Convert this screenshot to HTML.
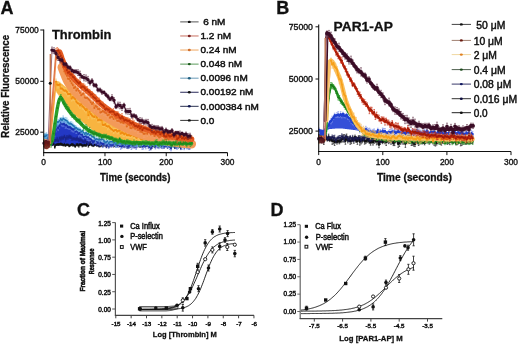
<!DOCTYPE html>
<html><head><meta charset="utf-8"><style>
html,body{margin:0;padding:0;background:#fff;}
svg{display:block;font-family:"Liberation Sans", sans-serif;}
text{-webkit-font-smoothing:antialiased;}
svg{will-change:transform;filter:blur(0.3px)}
</style></head><body>
<svg width="520" height="344" viewBox="0 0 520 344">
<rect width="520" height="344" fill="#fff"/>
<g class="g">
<text x="0.6" y="14" font-size="18" font-weight="bold" text-anchor="start" fill="#111"  stroke="#111" stroke-width="0.3">A</text>
<text x="276.2" y="13.7" font-size="18" font-weight="bold" text-anchor="start" fill="#111"  stroke="#111" stroke-width="0.3">B</text>
<text x="77" y="215.5" font-size="18" font-weight="bold" text-anchor="start" fill="#111"  stroke="#111" stroke-width="0.3">C</text>
<text x="270.4" y="215.8" font-size="18" font-weight="bold" text-anchor="start" fill="#111"  stroke="#111" stroke-width="0.3">D</text>
<polygon points="51.5,140.0 52.5,136.4 53.5,133.8 54.5,131.9 55.5,130.1 56.5,128.3 57.5,126.7 58.5,125.4 59.5,124.1 60.5,123.0 61.5,122.5 62.5,122.5 63.5,122.7 64.5,122.9 65.5,123.2 66.5,123.6 67.5,124.2 68.5,124.8 69.5,125.4 70.5,126.1 71.5,126.8 72.5,127.6 73.5,128.4 74.5,129.1 75.5,129.9 76.5,130.7 77.5,131.5 78.5,132.4 79.5,133.2 80.5,134.0 81.5,134.7 82.5,135.4 83.5,136.0 84.5,136.6 85.5,137.2 86.5,137.7 87.5,138.2 88.5,138.8 89.5,139.3 90.5,139.7 91.5,140.2 92.5,140.6 93.5,141.0 94.5,141.4 95.5,141.7 96.5,142.0 97.5,142.3 98.5,142.6 99.5,142.8 100.5,143.1 101.5,143.2 102.5,143.4 103.5,143.5 104.5,143.6 105.5,143.7 106.5,143.8 107.5,143.9 108.5,144.0 109.5,144.0 110.5,144.0 111.5,144.0 112.5,144.0 113.5,144.0 114.5,144.0 115.5,144.0 116.5,144.0 117.5,144.0 118.5,144.0 119.5,144.0 120.5,144.0 121.5,144.0 122.5,144.0 123.5,144.0 124.5,144.0 125.5,144.0 126.5,144.0 127.5,144.0 128.5,144.0 129.5,144.0 130.5,144.0 131.5,144.0 132.5,144.0 133.5,144.0 134.5,144.0 135.5,144.0 136.5,144.0 137.5,144.0 138.5,144.0 139.5,144.0 140.5,144.0 141.5,144.0 142.5,144.0 143.5,144.0 144.5,144.0 145.5,144.0 146.5,144.0 147.5,144.0 148.5,144.0 149.5,144.0 150.5,144.0 151.5,144.0 152.5,144.0 153.5,144.0 154.5,144.0 155.5,144.0 156.5,144.0 157.5,144.0 158.5,144.0 159.5,144.0 160.5,144.0 161.5,144.0 162.5,144.0 163.5,144.0 164.5,144.0 165.5,144.0 166.5,144.0 167.5,144.0 168.5,144.0 169.5,144.0 170.5,144.0 171.5,144.0 172.5,144.0 173.5,144.0 174.5,144.0 175.5,144.0 176.5,144.0 177.5,144.0 178.5,144.0 179.5,144.0 180.5,144.0 181.5,144.0 182.5,144.0 183.5,144.0 184.5,144.0 185.5,144.0 186.5,144.0 187.5,144.0 188.5,144.0 189.5,144.0 190.5,144.0 191.5,144.0 191.5,145.2 190.5,145.2 189.5,145.2 188.5,145.2 187.5,145.2 186.5,145.2 185.5,145.2 184.5,145.2 183.5,145.2 182.5,145.3 181.5,145.3 180.5,145.3 179.5,145.3 178.5,145.3 177.5,145.3 176.5,145.3 175.5,145.3 174.5,145.3 173.5,145.3 172.5,145.3 171.5,145.3 170.5,145.3 169.5,145.3 168.5,145.3 167.5,145.3 166.5,145.3 165.5,145.3 164.5,145.3 163.5,145.3 162.5,145.3 161.5,145.4 160.5,145.4 159.5,145.4 158.5,145.4 157.5,145.4 156.5,145.4 155.5,145.4 154.5,145.4 153.5,145.4 152.5,145.4 151.5,145.4 150.5,145.4 149.5,145.4 148.5,145.4 147.5,145.4 146.5,145.4 145.5,145.4 144.5,145.4 143.5,145.4 142.5,145.4 141.5,145.4 140.5,145.4 139.5,145.4 138.5,145.4 137.5,145.4 136.5,145.4 135.5,145.4 134.5,145.4 133.5,145.5 132.5,145.5 131.5,145.5 130.5,145.5 129.5,145.5 128.5,145.5 127.5,145.5 126.5,145.5 125.5,145.5 124.5,145.5 123.5,145.5 122.5,145.5 121.5,145.5 120.5,145.5 119.5,145.5 118.5,145.5 117.5,145.5 116.5,145.5 115.5,145.5 114.5,145.5 113.5,145.5 112.5,145.5 111.5,145.5 110.5,145.5 109.5,145.5 108.5,145.5 107.5,145.5 106.5,145.5 105.5,145.5 104.5,145.5 103.5,145.5 102.5,145.5 101.5,145.5 100.5,145.5 99.5,145.5 98.5,145.5 97.5,145.5 96.5,145.5 95.5,145.5 94.5,145.5 93.5,145.5 92.5,145.5 91.5,145.5 90.5,145.5 89.5,145.5 88.5,145.5 87.5,145.5 86.5,145.5 85.5,145.5 84.5,145.5 83.5,145.5 82.5,145.5 81.5,145.5 80.5,145.5 79.5,145.5 78.5,145.5 77.5,145.5 76.5,145.5 75.5,145.5 74.5,145.5 73.5,145.5 72.5,145.5 71.5,145.5 70.5,145.5 69.5,145.5 68.5,145.5 67.5,145.5 66.5,145.5 65.5,145.5 64.5,145.5 63.5,145.5 62.5,145.5 61.5,145.5 60.5,145.5 59.5,145.5 58.5,145.5 57.5,145.5 56.5,145.4 55.5,145.4 54.5,145.3 53.5,145.3 52.5,145.2 51.5,145.2" fill="#2338c4" opacity="1.0"/>
<polygon points="44.0,133.5 45.0,133.5 46.0,133.6 47.0,133.8 48.0,134.0 49.0,134.6 50.0,135.5 51.0,136.0 52.0,134.6 53.0,132.0 54.0,129.2 55.0,126.2 56.0,124.0 57.0,122.3 58.0,121.0 59.0,120.1 60.0,119.3 61.0,118.7 62.0,118.5 63.0,118.6 64.0,118.8 65.0,119.0 66.0,119.4 67.0,120.1 68.0,120.9 69.0,121.7 70.0,122.5 71.0,123.2 72.0,123.9 73.0,124.7 74.0,125.4 75.0,126.1 76.0,126.8 77.0,127.5 78.0,128.2 79.0,128.9 80.0,129.6 81.0,130.3 82.0,130.9 83.0,131.5 84.0,132.1 85.0,132.6 86.0,133.1 87.0,133.6 88.0,134.0 88.0,138.0 87.0,137.4 86.0,136.8 85.0,136.2 84.0,135.6 83.0,135.0 82.0,134.4 81.0,133.7 80.0,133.0 79.0,132.3 78.0,131.7 77.0,131.0 76.0,130.3 75.0,129.6 74.0,128.9 73.0,128.3 72.0,127.6 71.0,127.0 70.0,126.5 69.0,126.0 68.0,125.6 67.0,125.1 66.0,124.8 65.0,124.5 64.0,124.3 63.0,124.1 62.0,124.0 61.0,124.4 60.0,125.3 59.0,126.4 58.0,127.6 57.0,129.0 56.0,130.6 55.0,132.5 54.0,134.9 53.0,137.0 52.0,138.9 51.0,140.0 50.0,139.9 49.0,139.7 48.0,139.5 47.0,139.4 46.0,139.2 45.0,139.1 44.0,139.0" fill="#4aa0d8" opacity="1.0"/>
<path d="M44.0 145.1V146.8M43.2 145.1h1.6M43.2 146.8h1.6M45.2 141.9V143.5M44.4 141.9h1.6M44.4 143.5h1.6M46.4 143.8V145.9M45.6 143.8h1.6M45.6 145.9h1.6M47.6 143.3V145.0M46.8 143.3h1.6M46.8 145.0h1.6M48.8 143.2V145.4M48.0 143.2h1.6M48.0 145.4h1.6M50.0 143.4V145.5M49.2 143.4h1.6M49.2 145.5h1.6M51.2 142.5V143.9M50.4 142.5h1.6M50.4 143.9h1.6M52.4 143.5V145.4M51.6 143.5h1.6M51.6 145.4h1.6M53.6 143.1V145.0M52.8 143.1h1.6M52.8 145.0h1.6M54.8 145.8V148.2M54.0 145.8h1.6M54.0 148.2h1.6M56.0 144.2V145.5M55.2 144.2h1.6M55.2 145.5h1.6M57.2 143.7V145.2M56.4 143.7h1.6M56.4 145.2h1.6M58.4 143.5V145.5M57.6 143.5h1.6M57.6 145.5h1.6M59.6 143.4V145.2M58.8 143.4h1.6M58.8 145.2h1.6M60.8 142.9V145.2M60.0 142.9h1.6M60.0 145.2h1.6M62.0 143.6V145.4M61.2 143.6h1.6M61.2 145.4h1.6M63.2 144.4V145.9M62.4 144.4h1.6M62.4 145.9h1.6M64.4 143.3V146.0M63.6 143.3h1.6M63.6 146.0h1.6M65.6 144.7V146.3M64.8 144.7h1.6M64.8 146.3h1.6M66.8 144.0V145.4M66.0 144.0h1.6M66.0 145.4h1.6M68.0 144.1V145.7M67.2 144.1h1.6M67.2 145.7h1.6M69.2 145.1V146.8M68.4 145.1h1.6M68.4 146.8h1.6M70.4 144.5V146.1M69.6 144.5h1.6M69.6 146.1h1.6M71.6 143.5V145.6M70.8 143.5h1.6M70.8 145.6h1.6M72.8 143.5V146.2M72.0 143.5h1.6M72.0 146.2h1.6M74.0 144.6V146.0M73.2 144.6h1.6M73.2 146.0h1.6M75.2 145.4V147.3M74.4 145.4h1.6M74.4 147.3h1.6M76.4 143.7V145.9M75.6 143.7h1.6M75.6 145.9h1.6M77.6 143.5V146.1M76.8 143.5h1.6M76.8 146.1h1.6M78.8 144.3V147.1M78.0 144.3h1.6M78.0 147.1h1.6M80.0 143.7V145.1M79.2 143.7h1.6M79.2 145.1h1.6M81.2 143.8V145.9M80.4 143.8h1.6M80.4 145.9h1.6M82.4 144.4V147.0M81.6 144.4h1.6M81.6 147.0h1.6M83.6 144.8V146.1M82.8 144.8h1.6M82.8 146.1h1.6M84.8 144.1V146.2M84.0 144.1h1.6M84.0 146.2h1.6M86.0 144.8V146.3M85.2 144.8h1.6M85.2 146.3h1.6M87.2 141.9V144.3M86.4 141.9h1.6M86.4 144.3h1.6M88.4 144.5V147.2M87.6 144.5h1.6M87.6 147.2h1.6M89.6 143.4V145.5M88.8 143.4h1.6M88.8 145.5h1.6M90.8 143.4V144.6M90.0 143.4h1.6M90.0 144.6h1.6M92.0 144.7V146.0M91.2 144.7h1.6M91.2 146.0h1.6M93.2 144.7V146.6M92.4 144.7h1.6M92.4 146.6h1.6M94.4 143.6V146.1M93.6 143.6h1.6M93.6 146.1h1.6M95.6 143.6V145.2M94.8 143.6h1.6M94.8 145.2h1.6M96.8 144.1V146.3M96.0 144.1h1.6M96.0 146.3h1.6M98.0 144.2V146.1M97.2 144.2h1.6M97.2 146.1h1.6M99.2 145.4V147.0M98.4 145.4h1.6M98.4 147.0h1.6M100.4 144.6V146.9M99.6 144.6h1.6M99.6 146.9h1.6M101.6 144.5V146.2M100.8 144.5h1.6M100.8 146.2h1.6M102.8 145.1V146.9M102.0 145.1h1.6M102.0 146.9h1.6M104.0 143.9V146.3M103.2 143.9h1.6M103.2 146.3h1.6M105.2 143.6V145.6M104.4 143.6h1.6M104.4 145.6h1.6M106.4 144.4V146.9M105.6 144.4h1.6M105.6 146.9h1.6M107.6 144.6V146.7M106.8 144.6h1.6M106.8 146.7h1.6M108.8 144.4V145.8M108.0 144.4h1.6M108.0 145.8h1.6M110.0 143.8V145.7M109.2 143.8h1.6M109.2 145.7h1.6M111.2 144.1V146.7M110.4 144.1h1.6M110.4 146.7h1.6M112.4 142.5V144.6M111.6 142.5h1.6M111.6 144.6h1.6M113.6 144.4V147.1M112.8 144.4h1.6M112.8 147.1h1.6M114.8 145.0V146.2M114.0 145.0h1.6M114.0 146.2h1.6M116.0 143.3V145.0M115.2 143.3h1.6M115.2 145.0h1.6M117.2 144.1V146.5M116.4 144.1h1.6M116.4 146.5h1.6M118.4 143.5V145.8M117.6 143.5h1.6M117.6 145.8h1.6M119.6 144.8V146.9M118.8 144.8h1.6M118.8 146.9h1.6M120.8 142.8V145.0M120.0 142.8h1.6M120.0 145.0h1.6M122.0 143.4V146.0M121.2 143.4h1.6M121.2 146.0h1.6M123.2 144.7V147.0M122.4 144.7h1.6M122.4 147.0h1.6M124.4 145.1V147.2M123.6 145.1h1.6M123.6 147.2h1.6M125.6 142.8V144.9M124.8 142.8h1.6M124.8 144.9h1.6M126.8 143.9V146.1M126.0 143.9h1.6M126.0 146.1h1.6M128.0 144.7V146.4M127.2 144.7h1.6M127.2 146.4h1.6M129.2 143.8V146.1M128.4 143.8h1.6M128.4 146.1h1.6M130.4 145.4V147.6M129.6 145.4h1.6M129.6 147.6h1.6M131.6 143.3V145.8M130.8 143.3h1.6M130.8 145.8h1.6M132.8 144.6V146.6M132.0 144.6h1.6M132.0 146.6h1.6M134.0 144.0V145.3M133.2 144.0h1.6M133.2 145.3h1.6M135.2 145.3V147.4M134.4 145.3h1.6M134.4 147.4h1.6M136.4 144.1V146.6M135.6 144.1h1.6M135.6 146.6h1.6M137.6 144.0V146.2M136.8 144.0h1.6M136.8 146.2h1.6M138.8 143.1V145.3M138.0 143.1h1.6M138.0 145.3h1.6M140.0 145.7V147.5M139.2 145.7h1.6M139.2 147.5h1.6M141.2 145.0V146.8M140.4 145.0h1.6M140.4 146.8h1.6M142.4 144.8V147.1M141.6 144.8h1.6M141.6 147.1h1.6M143.6 145.5V146.9M142.8 145.5h1.6M142.8 146.9h1.6M144.8 144.4V146.9M144.0 144.4h1.6M144.0 146.9h1.6M146.0 143.7V146.3M145.2 143.7h1.6M145.2 146.3h1.6M147.2 143.5V146.2M146.4 143.5h1.6M146.4 146.2h1.6M148.4 144.2V145.6M147.6 144.2h1.6M147.6 145.6h1.6M149.6 145.7V147.1M148.8 145.7h1.6M148.8 147.1h1.6M150.8 143.1V145.7M150.0 143.1h1.6M150.0 145.7h1.6M152.0 144.1V145.9M151.2 144.1h1.6M151.2 145.9h1.6M153.2 144.4V146.0M152.4 144.4h1.6M152.4 146.0h1.6M154.4 144.7V146.5M153.6 144.7h1.6M153.6 146.5h1.6M155.6 144.7V147.0M154.8 144.7h1.6M154.8 147.0h1.6M156.8 143.8V145.3M156.0 143.8h1.6M156.0 145.3h1.6M158.0 143.2V145.2M157.2 143.2h1.6M157.2 145.2h1.6M159.2 144.3V146.6M158.4 144.3h1.6M158.4 146.6h1.6M160.4 145.1V147.5M159.6 145.1h1.6M159.6 147.5h1.6M161.6 145.4V146.6M160.8 145.4h1.6M160.8 146.6h1.6M162.8 144.4V146.9M162.0 144.4h1.6M162.0 146.9h1.6M164.0 144.3V146.2M163.2 144.3h1.6M163.2 146.2h1.6M165.2 144.7V146.6M164.4 144.7h1.6M164.4 146.6h1.6M166.4 144.3V146.4M165.6 144.3h1.6M165.6 146.4h1.6M167.6 145.2V146.9M166.8 145.2h1.6M166.8 146.9h1.6M168.8 143.6V146.2M168.0 143.6h1.6M168.0 146.2h1.6M170.0 144.8V146.3M169.2 144.8h1.6M169.2 146.3h1.6M171.2 144.4V146.4M170.4 144.4h1.6M170.4 146.4h1.6M172.4 145.1V146.6M171.6 145.1h1.6M171.6 146.6h1.6M173.6 144.5V146.7M172.8 144.5h1.6M172.8 146.7h1.6M174.8 146.0V148.6M174.0 146.0h1.6M174.0 148.6h1.6M176.0 145.2V147.8M175.2 145.2h1.6M175.2 147.8h1.6M177.2 145.8V147.2M176.4 145.8h1.6M176.4 147.2h1.6M178.4 143.0V145.2M177.6 143.0h1.6M177.6 145.2h1.6M179.6 143.9V146.6M178.8 143.9h1.6M178.8 146.6h1.6M180.8 144.3V145.8M180.0 144.3h1.6M180.0 145.8h1.6M182.0 144.9V146.8M181.2 144.9h1.6M181.2 146.8h1.6M183.2 142.7V145.1M182.4 142.7h1.6M182.4 145.1h1.6M184.4 145.1V147.5M183.6 145.1h1.6M183.6 147.5h1.6M185.6 145.3V147.2M184.8 145.3h1.6M184.8 147.2h1.6M186.8 143.5V145.7M186.0 143.5h1.6M186.0 145.7h1.6M188.0 143.7V145.9M187.2 143.7h1.6M187.2 145.9h1.6M189.2 144.1V145.8M188.4 144.1h1.6M188.4 145.8h1.6M190.4 144.4V146.7M189.6 144.4h1.6M189.6 146.7h1.6M191.6 144.9V147.0M190.8 144.9h1.6M190.8 147.0h1.6" stroke="#111" stroke-width="0.6" fill="none" opacity="1.0"/>
<polyline points="44.0,145.9 45.2,142.7 46.4,144.8 47.6,144.2 48.8,144.3 50.0,144.4 51.2,143.2 52.4,144.5 53.6,144.0 54.8,147.0 56.0,144.8 57.2,144.5 58.4,144.5 59.6,144.3 60.8,144.0 62.0,144.5 63.2,145.1 64.4,144.7 65.6,145.5 66.8,144.7 68.0,144.9 69.2,146.0 70.4,145.3 71.6,144.6 72.8,144.8 74.0,145.3 75.2,146.3 76.4,144.8 77.6,144.8 78.8,145.7 80.0,144.4 81.2,144.8 82.4,145.7 83.6,145.5 84.8,145.1 86.0,145.6 87.2,143.1 88.4,145.8 89.6,144.5 90.8,144.0 92.0,145.3 93.2,145.6 94.4,144.9 95.6,144.4 96.8,145.2 98.0,145.2 99.2,146.2 100.4,145.7 101.6,145.3 102.8,146.0 104.0,145.1 105.2,144.6 106.4,145.6 107.6,145.6 108.8,145.1 110.0,144.7 111.2,145.4 112.4,143.5 113.6,145.8 114.8,145.6 116.0,144.1 117.2,145.3 118.4,144.6 119.6,145.8 120.8,143.9 122.0,144.7 123.2,145.8 124.4,146.1 125.6,143.8 126.8,145.0 128.0,145.6 129.2,144.9 130.4,146.5 131.6,144.5 132.8,145.6 134.0,144.6 135.2,146.4 136.4,145.4 137.6,145.1 138.8,144.2 140.0,146.6 141.2,145.9 142.4,145.9 143.6,146.2 144.8,145.7 146.0,145.0 147.2,144.9 148.4,144.9 149.6,146.4 150.8,144.4 152.0,145.0 153.2,145.2 154.4,145.6 155.6,145.8 156.8,144.6 158.0,144.2 159.2,145.5 160.4,146.3 161.6,146.0 162.8,145.6 164.0,145.2 165.2,145.7 166.4,145.3 167.6,146.0 168.8,144.9 170.0,145.6 171.2,145.4 172.4,145.9 173.6,145.6 174.8,147.3 176.0,146.5 177.2,146.5 178.4,144.1 179.6,145.3 180.8,145.1 182.0,145.9 183.2,143.9 184.4,146.3 185.6,146.2 186.8,144.6 188.0,144.8 189.2,144.9 190.4,145.5 191.6,145.9" stroke="#111" stroke-width="1.0" fill="none" stroke-linejoin="round" opacity="1.0"/>
<path d="M43.1 145.9a0.9 0.9 0 1 0 1.8 0a0.9 0.9 0 1 0 -1.8 0M44.3 142.7a0.9 0.9 0 1 0 1.8 0a0.9 0.9 0 1 0 -1.8 0M45.5 144.8a0.9 0.9 0 1 0 1.8 0a0.9 0.9 0 1 0 -1.8 0M46.7 144.2a0.9 0.9 0 1 0 1.8 0a0.9 0.9 0 1 0 -1.8 0M47.9 144.3a0.9 0.9 0 1 0 1.8 0a0.9 0.9 0 1 0 -1.8 0M49.1 144.4a0.9 0.9 0 1 0 1.8 0a0.9 0.9 0 1 0 -1.8 0M50.3 143.2a0.9 0.9 0 1 0 1.8 0a0.9 0.9 0 1 0 -1.8 0M51.5 144.5a0.9 0.9 0 1 0 1.8 0a0.9 0.9 0 1 0 -1.8 0M52.7 144.0a0.9 0.9 0 1 0 1.8 0a0.9 0.9 0 1 0 -1.8 0M53.9 147.0a0.9 0.9 0 1 0 1.8 0a0.9 0.9 0 1 0 -1.8 0M55.1 144.8a0.9 0.9 0 1 0 1.8 0a0.9 0.9 0 1 0 -1.8 0M56.3 144.5a0.9 0.9 0 1 0 1.8 0a0.9 0.9 0 1 0 -1.8 0M57.5 144.5a0.9 0.9 0 1 0 1.8 0a0.9 0.9 0 1 0 -1.8 0M58.7 144.3a0.9 0.9 0 1 0 1.8 0a0.9 0.9 0 1 0 -1.8 0M59.9 144.0a0.9 0.9 0 1 0 1.8 0a0.9 0.9 0 1 0 -1.8 0M61.1 144.5a0.9 0.9 0 1 0 1.8 0a0.9 0.9 0 1 0 -1.8 0M62.3 145.1a0.9 0.9 0 1 0 1.8 0a0.9 0.9 0 1 0 -1.8 0M63.5 144.7a0.9 0.9 0 1 0 1.8 0a0.9 0.9 0 1 0 -1.8 0M64.7 145.5a0.9 0.9 0 1 0 1.8 0a0.9 0.9 0 1 0 -1.8 0M65.9 144.7a0.9 0.9 0 1 0 1.8 0a0.9 0.9 0 1 0 -1.8 0M67.1 144.9a0.9 0.9 0 1 0 1.8 0a0.9 0.9 0 1 0 -1.8 0M68.3 146.0a0.9 0.9 0 1 0 1.8 0a0.9 0.9 0 1 0 -1.8 0M69.5 145.3a0.9 0.9 0 1 0 1.8 0a0.9 0.9 0 1 0 -1.8 0M70.7 144.6a0.9 0.9 0 1 0 1.8 0a0.9 0.9 0 1 0 -1.8 0M71.9 144.8a0.9 0.9 0 1 0 1.8 0a0.9 0.9 0 1 0 -1.8 0M73.1 145.3a0.9 0.9 0 1 0 1.8 0a0.9 0.9 0 1 0 -1.8 0M74.3 146.3a0.9 0.9 0 1 0 1.8 0a0.9 0.9 0 1 0 -1.8 0M75.5 144.8a0.9 0.9 0 1 0 1.8 0a0.9 0.9 0 1 0 -1.8 0M76.7 144.8a0.9 0.9 0 1 0 1.8 0a0.9 0.9 0 1 0 -1.8 0M77.9 145.7a0.9 0.9 0 1 0 1.8 0a0.9 0.9 0 1 0 -1.8 0M79.1 144.4a0.9 0.9 0 1 0 1.8 0a0.9 0.9 0 1 0 -1.8 0M80.3 144.8a0.9 0.9 0 1 0 1.8 0a0.9 0.9 0 1 0 -1.8 0M81.5 145.7a0.9 0.9 0 1 0 1.8 0a0.9 0.9 0 1 0 -1.8 0M82.7 145.5a0.9 0.9 0 1 0 1.8 0a0.9 0.9 0 1 0 -1.8 0M83.9 145.1a0.9 0.9 0 1 0 1.8 0a0.9 0.9 0 1 0 -1.8 0M85.1 145.6a0.9 0.9 0 1 0 1.8 0a0.9 0.9 0 1 0 -1.8 0M86.3 143.1a0.9 0.9 0 1 0 1.8 0a0.9 0.9 0 1 0 -1.8 0M87.5 145.8a0.9 0.9 0 1 0 1.8 0a0.9 0.9 0 1 0 -1.8 0M88.7 144.5a0.9 0.9 0 1 0 1.8 0a0.9 0.9 0 1 0 -1.8 0M89.9 144.0a0.9 0.9 0 1 0 1.8 0a0.9 0.9 0 1 0 -1.8 0M91.1 145.3a0.9 0.9 0 1 0 1.8 0a0.9 0.9 0 1 0 -1.8 0M92.3 145.6a0.9 0.9 0 1 0 1.8 0a0.9 0.9 0 1 0 -1.8 0M93.5 144.9a0.9 0.9 0 1 0 1.8 0a0.9 0.9 0 1 0 -1.8 0M94.7 144.4a0.9 0.9 0 1 0 1.8 0a0.9 0.9 0 1 0 -1.8 0M95.9 145.2a0.9 0.9 0 1 0 1.8 0a0.9 0.9 0 1 0 -1.8 0M97.1 145.2a0.9 0.9 0 1 0 1.8 0a0.9 0.9 0 1 0 -1.8 0M98.3 146.2a0.9 0.9 0 1 0 1.8 0a0.9 0.9 0 1 0 -1.8 0M99.5 145.7a0.9 0.9 0 1 0 1.8 0a0.9 0.9 0 1 0 -1.8 0M100.7 145.3a0.9 0.9 0 1 0 1.8 0a0.9 0.9 0 1 0 -1.8 0M101.9 146.0a0.9 0.9 0 1 0 1.8 0a0.9 0.9 0 1 0 -1.8 0M103.1 145.1a0.9 0.9 0 1 0 1.8 0a0.9 0.9 0 1 0 -1.8 0M104.3 144.6a0.9 0.9 0 1 0 1.8 0a0.9 0.9 0 1 0 -1.8 0M105.5 145.6a0.9 0.9 0 1 0 1.8 0a0.9 0.9 0 1 0 -1.8 0M106.7 145.6a0.9 0.9 0 1 0 1.8 0a0.9 0.9 0 1 0 -1.8 0M107.9 145.1a0.9 0.9 0 1 0 1.8 0a0.9 0.9 0 1 0 -1.8 0M109.1 144.7a0.9 0.9 0 1 0 1.8 0a0.9 0.9 0 1 0 -1.8 0M110.3 145.4a0.9 0.9 0 1 0 1.8 0a0.9 0.9 0 1 0 -1.8 0M111.5 143.5a0.9 0.9 0 1 0 1.8 0a0.9 0.9 0 1 0 -1.8 0M112.7 145.8a0.9 0.9 0 1 0 1.8 0a0.9 0.9 0 1 0 -1.8 0M113.9 145.6a0.9 0.9 0 1 0 1.8 0a0.9 0.9 0 1 0 -1.8 0M115.1 144.1a0.9 0.9 0 1 0 1.8 0a0.9 0.9 0 1 0 -1.8 0M116.3 145.3a0.9 0.9 0 1 0 1.8 0a0.9 0.9 0 1 0 -1.8 0M117.5 144.6a0.9 0.9 0 1 0 1.8 0a0.9 0.9 0 1 0 -1.8 0M118.7 145.8a0.9 0.9 0 1 0 1.8 0a0.9 0.9 0 1 0 -1.8 0M119.9 143.9a0.9 0.9 0 1 0 1.8 0a0.9 0.9 0 1 0 -1.8 0M121.1 144.7a0.9 0.9 0 1 0 1.8 0a0.9 0.9 0 1 0 -1.8 0M122.3 145.8a0.9 0.9 0 1 0 1.8 0a0.9 0.9 0 1 0 -1.8 0M123.5 146.1a0.9 0.9 0 1 0 1.8 0a0.9 0.9 0 1 0 -1.8 0M124.7 143.8a0.9 0.9 0 1 0 1.8 0a0.9 0.9 0 1 0 -1.8 0M125.9 145.0a0.9 0.9 0 1 0 1.8 0a0.9 0.9 0 1 0 -1.8 0M127.1 145.6a0.9 0.9 0 1 0 1.8 0a0.9 0.9 0 1 0 -1.8 0M128.3 144.9a0.9 0.9 0 1 0 1.8 0a0.9 0.9 0 1 0 -1.8 0M129.5 146.5a0.9 0.9 0 1 0 1.8 0a0.9 0.9 0 1 0 -1.8 0M130.7 144.5a0.9 0.9 0 1 0 1.8 0a0.9 0.9 0 1 0 -1.8 0M131.9 145.6a0.9 0.9 0 1 0 1.8 0a0.9 0.9 0 1 0 -1.8 0M133.1 144.6a0.9 0.9 0 1 0 1.8 0a0.9 0.9 0 1 0 -1.8 0M134.3 146.4a0.9 0.9 0 1 0 1.8 0a0.9 0.9 0 1 0 -1.8 0M135.5 145.4a0.9 0.9 0 1 0 1.8 0a0.9 0.9 0 1 0 -1.8 0M136.7 145.1a0.9 0.9 0 1 0 1.8 0a0.9 0.9 0 1 0 -1.8 0M137.9 144.2a0.9 0.9 0 1 0 1.8 0a0.9 0.9 0 1 0 -1.8 0M139.1 146.6a0.9 0.9 0 1 0 1.8 0a0.9 0.9 0 1 0 -1.8 0M140.3 145.9a0.9 0.9 0 1 0 1.8 0a0.9 0.9 0 1 0 -1.8 0M141.5 145.9a0.9 0.9 0 1 0 1.8 0a0.9 0.9 0 1 0 -1.8 0M142.7 146.2a0.9 0.9 0 1 0 1.8 0a0.9 0.9 0 1 0 -1.8 0M143.9 145.7a0.9 0.9 0 1 0 1.8 0a0.9 0.9 0 1 0 -1.8 0M145.1 145.0a0.9 0.9 0 1 0 1.8 0a0.9 0.9 0 1 0 -1.8 0M146.3 144.9a0.9 0.9 0 1 0 1.8 0a0.9 0.9 0 1 0 -1.8 0M147.5 144.9a0.9 0.9 0 1 0 1.8 0a0.9 0.9 0 1 0 -1.8 0M148.7 146.4a0.9 0.9 0 1 0 1.8 0a0.9 0.9 0 1 0 -1.8 0M149.9 144.4a0.9 0.9 0 1 0 1.8 0a0.9 0.9 0 1 0 -1.8 0M151.1 145.0a0.9 0.9 0 1 0 1.8 0a0.9 0.9 0 1 0 -1.8 0M152.3 145.2a0.9 0.9 0 1 0 1.8 0a0.9 0.9 0 1 0 -1.8 0M153.5 145.6a0.9 0.9 0 1 0 1.8 0a0.9 0.9 0 1 0 -1.8 0M154.7 145.8a0.9 0.9 0 1 0 1.8 0a0.9 0.9 0 1 0 -1.8 0M155.9 144.6a0.9 0.9 0 1 0 1.8 0a0.9 0.9 0 1 0 -1.8 0M157.1 144.2a0.9 0.9 0 1 0 1.8 0a0.9 0.9 0 1 0 -1.8 0M158.3 145.5a0.9 0.9 0 1 0 1.8 0a0.9 0.9 0 1 0 -1.8 0M159.5 146.3a0.9 0.9 0 1 0 1.8 0a0.9 0.9 0 1 0 -1.8 0M160.7 146.0a0.9 0.9 0 1 0 1.8 0a0.9 0.9 0 1 0 -1.8 0M161.9 145.6a0.9 0.9 0 1 0 1.8 0a0.9 0.9 0 1 0 -1.8 0M163.1 145.2a0.9 0.9 0 1 0 1.8 0a0.9 0.9 0 1 0 -1.8 0M164.3 145.7a0.9 0.9 0 1 0 1.8 0a0.9 0.9 0 1 0 -1.8 0M165.5 145.3a0.9 0.9 0 1 0 1.8 0a0.9 0.9 0 1 0 -1.8 0M166.7 146.0a0.9 0.9 0 1 0 1.8 0a0.9 0.9 0 1 0 -1.8 0M167.9 144.9a0.9 0.9 0 1 0 1.8 0a0.9 0.9 0 1 0 -1.8 0M169.1 145.6a0.9 0.9 0 1 0 1.8 0a0.9 0.9 0 1 0 -1.8 0M170.3 145.4a0.9 0.9 0 1 0 1.8 0a0.9 0.9 0 1 0 -1.8 0M171.5 145.9a0.9 0.9 0 1 0 1.8 0a0.9 0.9 0 1 0 -1.8 0M172.7 145.6a0.9 0.9 0 1 0 1.8 0a0.9 0.9 0 1 0 -1.8 0M173.9 147.3a0.9 0.9 0 1 0 1.8 0a0.9 0.9 0 1 0 -1.8 0M175.1 146.5a0.9 0.9 0 1 0 1.8 0a0.9 0.9 0 1 0 -1.8 0M176.3 146.5a0.9 0.9 0 1 0 1.8 0a0.9 0.9 0 1 0 -1.8 0M177.5 144.1a0.9 0.9 0 1 0 1.8 0a0.9 0.9 0 1 0 -1.8 0M178.7 145.3a0.9 0.9 0 1 0 1.8 0a0.9 0.9 0 1 0 -1.8 0M179.9 145.1a0.9 0.9 0 1 0 1.8 0a0.9 0.9 0 1 0 -1.8 0M181.1 145.9a0.9 0.9 0 1 0 1.8 0a0.9 0.9 0 1 0 -1.8 0M182.3 143.9a0.9 0.9 0 1 0 1.8 0a0.9 0.9 0 1 0 -1.8 0M183.5 146.3a0.9 0.9 0 1 0 1.8 0a0.9 0.9 0 1 0 -1.8 0M184.7 146.2a0.9 0.9 0 1 0 1.8 0a0.9 0.9 0 1 0 -1.8 0M185.9 144.6a0.9 0.9 0 1 0 1.8 0a0.9 0.9 0 1 0 -1.8 0M187.1 144.8a0.9 0.9 0 1 0 1.8 0a0.9 0.9 0 1 0 -1.8 0M188.3 144.9a0.9 0.9 0 1 0 1.8 0a0.9 0.9 0 1 0 -1.8 0M189.5 145.5a0.9 0.9 0 1 0 1.8 0a0.9 0.9 0 1 0 -1.8 0M190.7 145.9a0.9 0.9 0 1 0 1.8 0a0.9 0.9 0 1 0 -1.8 0" fill="#111" opacity="1.0"/>
<path d="M50.0 141.2V143.3M49.2 141.2h1.6M49.2 143.3h1.6M51.2 141.0V143.3M50.4 141.0h1.6M50.4 143.3h1.6M52.4 142.1V145.6M51.6 142.1h1.6M51.6 145.6h1.6M53.6 139.4V141.9M52.8 139.4h1.6M52.8 141.9h1.6M54.8 139.3V141.4M54.0 139.3h1.6M54.0 141.4h1.6M56.0 139.2V141.2M55.2 139.2h1.6M55.2 141.2h1.6M57.2 137.4V141.1M56.4 137.4h1.6M56.4 141.1h1.6M58.4 140.2V142.1M57.6 140.2h1.6M57.6 142.1h1.6M59.6 137.0V139.0M58.8 137.0h1.6M58.8 139.0h1.6M60.8 136.9V141.0M60.0 136.9h1.6M60.0 141.0h1.6M62.0 136.2V139.9M61.2 136.2h1.6M61.2 139.9h1.6M63.2 136.9V139.6M62.4 136.9h1.6M62.4 139.6h1.6M64.4 135.2V137.5M63.6 135.2h1.6M63.6 137.5h1.6M65.6 137.3V141.2M64.8 137.3h1.6M64.8 141.2h1.6M66.8 135.6V139.2M66.0 135.6h1.6M66.0 139.2h1.6M68.0 135.9V139.3M67.2 135.9h1.6M67.2 139.3h1.6M69.2 135.1V138.2M68.4 135.1h1.6M68.4 138.2h1.6M70.4 135.4V138.5M69.6 135.4h1.6M69.6 138.5h1.6M71.6 136.2V140.4M70.8 136.2h1.6M70.8 140.4h1.6M72.8 137.3V140.3M72.0 137.3h1.6M72.0 140.3h1.6M74.0 137.7V139.7M73.2 137.7h1.6M73.2 139.7h1.6M75.2 138.2V140.2M74.4 138.2h1.6M74.4 140.2h1.6M76.4 137.3V140.5M75.6 137.3h1.6M75.6 140.5h1.6M77.6 136.8V140.3M76.8 136.8h1.6M76.8 140.3h1.6M78.8 138.1V141.4M78.0 138.1h1.6M78.0 141.4h1.6M80.0 138.1V141.7M79.2 138.1h1.6M79.2 141.7h1.6M81.2 138.4V140.9M80.4 138.4h1.6M80.4 140.9h1.6M82.4 139.6V142.3M81.6 139.6h1.6M81.6 142.3h1.6M83.6 140.7V143.1M82.8 140.7h1.6M82.8 143.1h1.6M84.8 139.8V142.5M84.0 139.8h1.6M84.0 142.5h1.6M86.0 139.7V142.1M85.2 139.7h1.6M85.2 142.1h1.6M87.2 140.3V144.1M86.4 140.3h1.6M86.4 144.1h1.6M88.4 142.6V144.7M87.6 142.6h1.6M87.6 144.7h1.6M89.6 140.7V143.0M88.8 140.7h1.6M88.8 143.0h1.6M90.8 140.4V143.9M90.0 140.4h1.6M90.0 143.9h1.6M92.0 141.0V143.7M91.2 141.0h1.6M91.2 143.7h1.6M93.2 142.6V145.2M92.4 142.6h1.6M92.4 145.2h1.6M94.4 139.0V143.1M93.6 139.0h1.6M93.6 143.1h1.6M95.6 141.5V145.4M94.8 141.5h1.6M94.8 145.4h1.6M96.8 143.3V145.7M96.0 143.3h1.6M96.0 145.7h1.6M98.0 141.6V143.8M97.2 141.6h1.6M97.2 143.8h1.6M99.2 143.7V146.7M98.4 143.7h1.6M98.4 146.7h1.6M100.4 142.9V146.0M99.6 142.9h1.6M99.6 146.0h1.6M101.6 142.3V144.9M100.8 142.3h1.6M100.8 144.9h1.6M102.8 142.9V146.1M102.0 142.9h1.6M102.0 146.1h1.6M104.0 141.2V144.7M103.2 141.2h1.6M103.2 144.7h1.6M105.2 142.2V145.9M104.4 142.2h1.6M104.4 145.9h1.6M106.4 145.4V147.8M105.6 145.4h1.6M105.6 147.8h1.6M107.6 142.3V145.7M106.8 142.3h1.6M106.8 145.7h1.6M108.8 145.8V147.8M108.0 145.8h1.6M108.0 147.8h1.6M110.0 143.9V145.9M109.2 143.9h1.6M109.2 145.9h1.6M111.2 145.1V147.0M110.4 145.1h1.6M110.4 147.0h1.6M112.4 144.1V146.1M111.6 144.1h1.6M111.6 146.1h1.6M113.6 141.0V144.7M112.8 141.0h1.6M112.8 144.7h1.6M114.8 143.2V145.9M114.0 143.2h1.6M114.0 145.9h1.6M116.0 143.8V146.8M115.2 143.8h1.6M115.2 146.8h1.6M117.2 142.6V145.4M116.4 142.6h1.6M116.4 145.4h1.6M118.4 142.7V145.0M117.6 142.7h1.6M117.6 145.0h1.6M119.6 144.6V146.5M118.8 144.6h1.6M118.8 146.5h1.6M120.8 143.5V145.7M120.0 143.5h1.6M120.0 145.7h1.6M122.0 141.6V145.5M121.2 141.6h1.6M121.2 145.5h1.6M123.2 143.3V145.9M122.4 143.3h1.6M122.4 145.9h1.6M124.4 144.7V147.6M123.6 144.7h1.6M123.6 147.6h1.6M125.6 143.6V146.1M124.8 143.6h1.6M124.8 146.1h1.6M126.8 144.5V148.1M126.0 144.5h1.6M126.0 148.1h1.6M128.0 145.1V148.6M127.2 145.1h1.6M127.2 148.6h1.6M129.2 144.0V146.8M128.4 144.0h1.6M128.4 146.8h1.6M130.4 142.7V145.8M129.6 142.7h1.6M129.6 145.8h1.6M131.6 142.7V145.5M130.8 142.7h1.6M130.8 145.5h1.6M132.8 143.8V147.0M132.0 143.8h1.6M132.0 147.0h1.6M134.0 144.7V147.9M133.2 144.7h1.6M133.2 147.9h1.6M135.2 144.1V147.3M134.4 144.1h1.6M134.4 147.3h1.6M136.4 144.0V148.0M135.6 144.0h1.6M135.6 148.0h1.6M137.6 143.0V147.1M136.8 143.0h1.6M136.8 147.1h1.6M138.8 144.8V146.8M138.0 144.8h1.6M138.0 146.8h1.6M140.0 143.7V146.4M139.2 143.7h1.6M139.2 146.4h1.6M141.2 144.3V146.2M140.4 144.3h1.6M140.4 146.2h1.6M142.4 142.9V145.6M141.6 142.9h1.6M141.6 145.6h1.6M143.6 142.1V145.9M142.8 142.1h1.6M142.8 145.9h1.6M144.8 143.4V146.8M144.0 143.4h1.6M144.0 146.8h1.6M146.0 142.9V146.1M145.2 142.9h1.6M145.2 146.1h1.6M147.2 143.6V145.6M146.4 143.6h1.6M146.4 145.6h1.6M148.4 144.4V148.2M147.6 144.4h1.6M147.6 148.2h1.6M149.6 143.9V147.1M148.8 143.9h1.6M148.8 147.1h1.6M150.8 147.3V149.8M150.0 147.3h1.6M150.0 149.8h1.6M152.0 144.7V148.4M151.2 144.7h1.6M151.2 148.4h1.6M153.2 144.1V146.0M152.4 144.1h1.6M152.4 146.0h1.6M154.4 145.3V147.6M153.6 145.3h1.6M153.6 147.6h1.6M155.6 144.2V147.9M154.8 144.2h1.6M154.8 147.9h1.6M156.8 144.0V145.9M156.0 144.0h1.6M156.0 145.9h1.6M158.0 145.7V147.8M157.2 145.7h1.6M157.2 147.8h1.6M159.2 143.4V146.4M158.4 143.4h1.6M158.4 146.4h1.6M160.4 140.9V144.4M159.6 140.9h1.6M159.6 144.4h1.6M161.6 144.9V148.1M160.8 144.9h1.6M160.8 148.1h1.6M162.8 144.2V146.0M162.0 144.2h1.6M162.0 146.0h1.6M164.0 146.0V148.4M163.2 146.0h1.6M163.2 148.4h1.6M165.2 143.3V146.8M164.4 143.3h1.6M164.4 146.8h1.6M166.4 143.2V145.9M165.6 143.2h1.6M165.6 145.9h1.6M167.6 146.2V148.4M166.8 146.2h1.6M166.8 148.4h1.6M168.8 143.8V145.6M168.0 143.8h1.6M168.0 145.6h1.6M170.0 144.7V147.2M169.2 144.7h1.6M169.2 147.2h1.6M171.2 145.2V149.2M170.4 145.2h1.6M170.4 149.2h1.6M172.4 144.9V146.8M171.6 144.9h1.6M171.6 146.8h1.6M173.6 144.1V147.3M172.8 144.1h1.6M172.8 147.3h1.6M174.8 143.9V147.9M174.0 143.9h1.6M174.0 147.9h1.6M176.0 144.9V148.4M175.2 144.9h1.6M175.2 148.4h1.6M177.2 143.7V146.2M176.4 143.7h1.6M176.4 146.2h1.6M178.4 144.7V148.1M177.6 144.7h1.6M177.6 148.1h1.6M179.6 145.3V147.4M178.8 145.3h1.6M178.8 147.4h1.6M180.8 146.6V149.6M180.0 146.6h1.6M180.0 149.6h1.6M182.0 144.2V146.7M181.2 144.2h1.6M181.2 146.7h1.6M183.2 142.9V146.8M182.4 142.9h1.6M182.4 146.8h1.6M184.4 144.6V148.5M183.6 144.6h1.6M183.6 148.5h1.6M185.6 143.6V147.2M184.8 143.6h1.6M184.8 147.2h1.6M186.8 144.7V147.4M186.0 144.7h1.6M186.0 147.4h1.6M188.0 144.1V147.8M187.2 144.1h1.6M187.2 147.8h1.6M189.2 144.9V149.0M188.4 144.9h1.6M188.4 149.0h1.6M190.4 143.8V146.5M189.6 143.8h1.6M189.6 146.5h1.6M191.6 144.2V147.2M190.8 144.2h1.6M190.8 147.2h1.6" stroke="#1a2488" stroke-width="0.6" fill="none" opacity="1.0"/>
<polyline points="50.0,142.2 51.2,142.2 52.4,143.8 53.6,140.7 54.8,140.4 56.0,140.2 57.2,139.2 58.4,141.2 59.6,138.0 60.8,138.9 62.0,138.0 63.2,138.3 64.4,136.3 65.6,139.3 66.8,137.4 68.0,137.6 69.2,136.7 70.4,136.9 71.6,138.3 72.8,138.8 74.0,138.7 75.2,139.2 76.4,138.9 77.6,138.5 78.8,139.7 80.0,139.9 81.2,139.7 82.4,140.9 83.6,141.9 84.8,141.2 86.0,140.9 87.2,142.2 88.4,143.7 89.6,141.8 90.8,142.2 92.0,142.3 93.2,143.9 94.4,141.1 95.6,143.5 96.8,144.5 98.0,142.7 99.2,145.2 100.4,144.5 101.6,143.6 102.8,144.5 104.0,142.9 105.2,144.1 106.4,146.6 107.6,144.0 108.8,146.8 110.0,144.9 111.2,146.0 112.4,145.1 113.6,142.8 114.8,144.5 116.0,145.3 117.2,144.0 118.4,143.8 119.6,145.6 120.8,144.6 122.0,143.5 123.2,144.6 124.4,146.1 125.6,144.8 126.8,146.3 128.0,146.9 129.2,145.4 130.4,144.3 131.6,144.1 132.8,145.4 134.0,146.3 135.2,145.7 136.4,146.0 137.6,145.0 138.8,145.8 140.0,145.0 141.2,145.2 142.4,144.3 143.6,144.0 144.8,145.1 146.0,144.5 147.2,144.6 148.4,146.3 149.6,145.5 150.8,148.5 152.0,146.6 153.2,145.0 154.4,146.4 155.6,146.0 156.8,145.0 158.0,146.8 159.2,144.9 160.4,142.6 161.6,146.5 162.8,145.1 164.0,147.2 165.2,145.1 166.4,144.6 167.6,147.3 168.8,144.7 170.0,146.0 171.2,147.2 172.4,145.9 173.6,145.7 174.8,145.9 176.0,146.6 177.2,145.0 178.4,146.4 179.6,146.4 180.8,148.1 182.0,145.5 183.2,144.9 184.4,146.5 185.6,145.4 186.8,146.1 188.0,145.9 189.2,147.0 190.4,145.1 191.6,145.7" stroke="#1a2488" stroke-width="1.2" fill="none" stroke-linejoin="round" opacity="1.0"/>
<path d="M49.1 142.2a0.9 0.9 0 1 0 1.8 0a0.9 0.9 0 1 0 -1.8 0M50.3 142.2a0.9 0.9 0 1 0 1.8 0a0.9 0.9 0 1 0 -1.8 0M51.5 143.8a0.9 0.9 0 1 0 1.8 0a0.9 0.9 0 1 0 -1.8 0M52.7 140.7a0.9 0.9 0 1 0 1.8 0a0.9 0.9 0 1 0 -1.8 0M53.9 140.4a0.9 0.9 0 1 0 1.8 0a0.9 0.9 0 1 0 -1.8 0M55.1 140.2a0.9 0.9 0 1 0 1.8 0a0.9 0.9 0 1 0 -1.8 0M56.3 139.2a0.9 0.9 0 1 0 1.8 0a0.9 0.9 0 1 0 -1.8 0M57.5 141.2a0.9 0.9 0 1 0 1.8 0a0.9 0.9 0 1 0 -1.8 0M58.7 138.0a0.9 0.9 0 1 0 1.8 0a0.9 0.9 0 1 0 -1.8 0M59.9 138.9a0.9 0.9 0 1 0 1.8 0a0.9 0.9 0 1 0 -1.8 0M61.1 138.0a0.9 0.9 0 1 0 1.8 0a0.9 0.9 0 1 0 -1.8 0M62.3 138.3a0.9 0.9 0 1 0 1.8 0a0.9 0.9 0 1 0 -1.8 0M63.5 136.3a0.9 0.9 0 1 0 1.8 0a0.9 0.9 0 1 0 -1.8 0M64.7 139.3a0.9 0.9 0 1 0 1.8 0a0.9 0.9 0 1 0 -1.8 0M65.9 137.4a0.9 0.9 0 1 0 1.8 0a0.9 0.9 0 1 0 -1.8 0M67.1 137.6a0.9 0.9 0 1 0 1.8 0a0.9 0.9 0 1 0 -1.8 0M68.3 136.7a0.9 0.9 0 1 0 1.8 0a0.9 0.9 0 1 0 -1.8 0M69.5 136.9a0.9 0.9 0 1 0 1.8 0a0.9 0.9 0 1 0 -1.8 0M70.7 138.3a0.9 0.9 0 1 0 1.8 0a0.9 0.9 0 1 0 -1.8 0M71.9 138.8a0.9 0.9 0 1 0 1.8 0a0.9 0.9 0 1 0 -1.8 0M73.1 138.7a0.9 0.9 0 1 0 1.8 0a0.9 0.9 0 1 0 -1.8 0M74.3 139.2a0.9 0.9 0 1 0 1.8 0a0.9 0.9 0 1 0 -1.8 0M75.5 138.9a0.9 0.9 0 1 0 1.8 0a0.9 0.9 0 1 0 -1.8 0M76.7 138.5a0.9 0.9 0 1 0 1.8 0a0.9 0.9 0 1 0 -1.8 0M77.9 139.7a0.9 0.9 0 1 0 1.8 0a0.9 0.9 0 1 0 -1.8 0M79.1 139.9a0.9 0.9 0 1 0 1.8 0a0.9 0.9 0 1 0 -1.8 0M80.3 139.7a0.9 0.9 0 1 0 1.8 0a0.9 0.9 0 1 0 -1.8 0M81.5 140.9a0.9 0.9 0 1 0 1.8 0a0.9 0.9 0 1 0 -1.8 0M82.7 141.9a0.9 0.9 0 1 0 1.8 0a0.9 0.9 0 1 0 -1.8 0M83.9 141.2a0.9 0.9 0 1 0 1.8 0a0.9 0.9 0 1 0 -1.8 0M85.1 140.9a0.9 0.9 0 1 0 1.8 0a0.9 0.9 0 1 0 -1.8 0M86.3 142.2a0.9 0.9 0 1 0 1.8 0a0.9 0.9 0 1 0 -1.8 0M87.5 143.7a0.9 0.9 0 1 0 1.8 0a0.9 0.9 0 1 0 -1.8 0M88.7 141.8a0.9 0.9 0 1 0 1.8 0a0.9 0.9 0 1 0 -1.8 0M89.9 142.2a0.9 0.9 0 1 0 1.8 0a0.9 0.9 0 1 0 -1.8 0M91.1 142.3a0.9 0.9 0 1 0 1.8 0a0.9 0.9 0 1 0 -1.8 0M92.3 143.9a0.9 0.9 0 1 0 1.8 0a0.9 0.9 0 1 0 -1.8 0M93.5 141.1a0.9 0.9 0 1 0 1.8 0a0.9 0.9 0 1 0 -1.8 0M94.7 143.5a0.9 0.9 0 1 0 1.8 0a0.9 0.9 0 1 0 -1.8 0M95.9 144.5a0.9 0.9 0 1 0 1.8 0a0.9 0.9 0 1 0 -1.8 0M97.1 142.7a0.9 0.9 0 1 0 1.8 0a0.9 0.9 0 1 0 -1.8 0M98.3 145.2a0.9 0.9 0 1 0 1.8 0a0.9 0.9 0 1 0 -1.8 0M99.5 144.5a0.9 0.9 0 1 0 1.8 0a0.9 0.9 0 1 0 -1.8 0M100.7 143.6a0.9 0.9 0 1 0 1.8 0a0.9 0.9 0 1 0 -1.8 0M101.9 144.5a0.9 0.9 0 1 0 1.8 0a0.9 0.9 0 1 0 -1.8 0M103.1 142.9a0.9 0.9 0 1 0 1.8 0a0.9 0.9 0 1 0 -1.8 0M104.3 144.1a0.9 0.9 0 1 0 1.8 0a0.9 0.9 0 1 0 -1.8 0M105.5 146.6a0.9 0.9 0 1 0 1.8 0a0.9 0.9 0 1 0 -1.8 0M106.7 144.0a0.9 0.9 0 1 0 1.8 0a0.9 0.9 0 1 0 -1.8 0M107.9 146.8a0.9 0.9 0 1 0 1.8 0a0.9 0.9 0 1 0 -1.8 0M109.1 144.9a0.9 0.9 0 1 0 1.8 0a0.9 0.9 0 1 0 -1.8 0M110.3 146.0a0.9 0.9 0 1 0 1.8 0a0.9 0.9 0 1 0 -1.8 0M111.5 145.1a0.9 0.9 0 1 0 1.8 0a0.9 0.9 0 1 0 -1.8 0M112.7 142.8a0.9 0.9 0 1 0 1.8 0a0.9 0.9 0 1 0 -1.8 0M113.9 144.5a0.9 0.9 0 1 0 1.8 0a0.9 0.9 0 1 0 -1.8 0M115.1 145.3a0.9 0.9 0 1 0 1.8 0a0.9 0.9 0 1 0 -1.8 0M116.3 144.0a0.9 0.9 0 1 0 1.8 0a0.9 0.9 0 1 0 -1.8 0M117.5 143.8a0.9 0.9 0 1 0 1.8 0a0.9 0.9 0 1 0 -1.8 0M118.7 145.6a0.9 0.9 0 1 0 1.8 0a0.9 0.9 0 1 0 -1.8 0M119.9 144.6a0.9 0.9 0 1 0 1.8 0a0.9 0.9 0 1 0 -1.8 0M121.1 143.5a0.9 0.9 0 1 0 1.8 0a0.9 0.9 0 1 0 -1.8 0M122.3 144.6a0.9 0.9 0 1 0 1.8 0a0.9 0.9 0 1 0 -1.8 0M123.5 146.1a0.9 0.9 0 1 0 1.8 0a0.9 0.9 0 1 0 -1.8 0M124.7 144.8a0.9 0.9 0 1 0 1.8 0a0.9 0.9 0 1 0 -1.8 0M125.9 146.3a0.9 0.9 0 1 0 1.8 0a0.9 0.9 0 1 0 -1.8 0M127.1 146.9a0.9 0.9 0 1 0 1.8 0a0.9 0.9 0 1 0 -1.8 0M128.3 145.4a0.9 0.9 0 1 0 1.8 0a0.9 0.9 0 1 0 -1.8 0M129.5 144.3a0.9 0.9 0 1 0 1.8 0a0.9 0.9 0 1 0 -1.8 0M130.7 144.1a0.9 0.9 0 1 0 1.8 0a0.9 0.9 0 1 0 -1.8 0M131.9 145.4a0.9 0.9 0 1 0 1.8 0a0.9 0.9 0 1 0 -1.8 0M133.1 146.3a0.9 0.9 0 1 0 1.8 0a0.9 0.9 0 1 0 -1.8 0M134.3 145.7a0.9 0.9 0 1 0 1.8 0a0.9 0.9 0 1 0 -1.8 0M135.5 146.0a0.9 0.9 0 1 0 1.8 0a0.9 0.9 0 1 0 -1.8 0M136.7 145.0a0.9 0.9 0 1 0 1.8 0a0.9 0.9 0 1 0 -1.8 0M137.9 145.8a0.9 0.9 0 1 0 1.8 0a0.9 0.9 0 1 0 -1.8 0M139.1 145.0a0.9 0.9 0 1 0 1.8 0a0.9 0.9 0 1 0 -1.8 0M140.3 145.2a0.9 0.9 0 1 0 1.8 0a0.9 0.9 0 1 0 -1.8 0M141.5 144.3a0.9 0.9 0 1 0 1.8 0a0.9 0.9 0 1 0 -1.8 0M142.7 144.0a0.9 0.9 0 1 0 1.8 0a0.9 0.9 0 1 0 -1.8 0M143.9 145.1a0.9 0.9 0 1 0 1.8 0a0.9 0.9 0 1 0 -1.8 0M145.1 144.5a0.9 0.9 0 1 0 1.8 0a0.9 0.9 0 1 0 -1.8 0M146.3 144.6a0.9 0.9 0 1 0 1.8 0a0.9 0.9 0 1 0 -1.8 0M147.5 146.3a0.9 0.9 0 1 0 1.8 0a0.9 0.9 0 1 0 -1.8 0M148.7 145.5a0.9 0.9 0 1 0 1.8 0a0.9 0.9 0 1 0 -1.8 0M149.9 148.5a0.9 0.9 0 1 0 1.8 0a0.9 0.9 0 1 0 -1.8 0M151.1 146.6a0.9 0.9 0 1 0 1.8 0a0.9 0.9 0 1 0 -1.8 0M152.3 145.0a0.9 0.9 0 1 0 1.8 0a0.9 0.9 0 1 0 -1.8 0M153.5 146.4a0.9 0.9 0 1 0 1.8 0a0.9 0.9 0 1 0 -1.8 0M154.7 146.0a0.9 0.9 0 1 0 1.8 0a0.9 0.9 0 1 0 -1.8 0M155.9 145.0a0.9 0.9 0 1 0 1.8 0a0.9 0.9 0 1 0 -1.8 0M157.1 146.8a0.9 0.9 0 1 0 1.8 0a0.9 0.9 0 1 0 -1.8 0M158.3 144.9a0.9 0.9 0 1 0 1.8 0a0.9 0.9 0 1 0 -1.8 0M159.5 142.6a0.9 0.9 0 1 0 1.8 0a0.9 0.9 0 1 0 -1.8 0M160.7 146.5a0.9 0.9 0 1 0 1.8 0a0.9 0.9 0 1 0 -1.8 0M161.9 145.1a0.9 0.9 0 1 0 1.8 0a0.9 0.9 0 1 0 -1.8 0M163.1 147.2a0.9 0.9 0 1 0 1.8 0a0.9 0.9 0 1 0 -1.8 0M164.3 145.1a0.9 0.9 0 1 0 1.8 0a0.9 0.9 0 1 0 -1.8 0M165.5 144.6a0.9 0.9 0 1 0 1.8 0a0.9 0.9 0 1 0 -1.8 0M166.7 147.3a0.9 0.9 0 1 0 1.8 0a0.9 0.9 0 1 0 -1.8 0M167.9 144.7a0.9 0.9 0 1 0 1.8 0a0.9 0.9 0 1 0 -1.8 0M169.1 146.0a0.9 0.9 0 1 0 1.8 0a0.9 0.9 0 1 0 -1.8 0M170.3 147.2a0.9 0.9 0 1 0 1.8 0a0.9 0.9 0 1 0 -1.8 0M171.5 145.9a0.9 0.9 0 1 0 1.8 0a0.9 0.9 0 1 0 -1.8 0M172.7 145.7a0.9 0.9 0 1 0 1.8 0a0.9 0.9 0 1 0 -1.8 0M173.9 145.9a0.9 0.9 0 1 0 1.8 0a0.9 0.9 0 1 0 -1.8 0M175.1 146.6a0.9 0.9 0 1 0 1.8 0a0.9 0.9 0 1 0 -1.8 0M176.3 145.0a0.9 0.9 0 1 0 1.8 0a0.9 0.9 0 1 0 -1.8 0M177.5 146.4a0.9 0.9 0 1 0 1.8 0a0.9 0.9 0 1 0 -1.8 0M178.7 146.4a0.9 0.9 0 1 0 1.8 0a0.9 0.9 0 1 0 -1.8 0M179.9 148.1a0.9 0.9 0 1 0 1.8 0a0.9 0.9 0 1 0 -1.8 0M181.1 145.5a0.9 0.9 0 1 0 1.8 0a0.9 0.9 0 1 0 -1.8 0M182.3 144.9a0.9 0.9 0 1 0 1.8 0a0.9 0.9 0 1 0 -1.8 0M183.5 146.5a0.9 0.9 0 1 0 1.8 0a0.9 0.9 0 1 0 -1.8 0M184.7 145.4a0.9 0.9 0 1 0 1.8 0a0.9 0.9 0 1 0 -1.8 0M185.9 146.1a0.9 0.9 0 1 0 1.8 0a0.9 0.9 0 1 0 -1.8 0M187.1 145.9a0.9 0.9 0 1 0 1.8 0a0.9 0.9 0 1 0 -1.8 0M188.3 147.0a0.9 0.9 0 1 0 1.8 0a0.9 0.9 0 1 0 -1.8 0M189.5 145.1a0.9 0.9 0 1 0 1.8 0a0.9 0.9 0 1 0 -1.8 0M190.7 145.7a0.9 0.9 0 1 0 1.8 0a0.9 0.9 0 1 0 -1.8 0" fill="#1a2488" opacity="1.0"/>
<path d="M51.0 139.3V143.0M50.2 139.3h1.6M50.2 143.0h1.6M52.2 134.8V137.8M51.4 134.8h1.6M51.4 137.8h1.6M53.4 133.9V138.6M52.6 133.9h1.6M52.6 138.6h1.6M54.6 131.9V136.6M53.8 131.9h1.6M53.8 136.6h1.6M55.8 126.8V131.9M55.0 126.8h1.6M55.0 131.9h1.6M57.0 125.6V129.1M56.2 125.6h1.6M56.2 129.1h1.6M58.2 125.6V130.6M57.4 125.6h1.6M57.4 130.6h1.6M59.4 123.8V128.0M58.6 123.8h1.6M58.6 128.0h1.6M60.6 121.6V124.9M59.8 121.6h1.6M59.8 124.9h1.6M61.8 121.3V126.0M61.0 121.3h1.6M61.0 126.0h1.6M63.0 121.1V126.7M62.2 121.1h1.6M62.2 126.7h1.6M64.2 121.9V126.1M63.4 121.9h1.6M63.4 126.1h1.6M65.4 122.5V128.3M64.6 122.5h1.6M64.6 128.3h1.6M66.6 122.0V128.2M65.8 122.0h1.6M65.8 128.2h1.6M67.8 125.7V128.8M67.0 125.7h1.6M67.0 128.8h1.6M69.0 125.4V129.3M68.2 125.4h1.6M68.2 129.3h1.6M70.2 125.2V129.3M69.4 125.2h1.6M69.4 129.3h1.6M71.4 125.8V131.1M70.6 125.8h1.6M70.6 131.1h1.6M72.6 127.0V131.9M71.8 127.0h1.6M71.8 131.9h1.6M73.8 126.8V132.1M73.0 126.8h1.6M73.0 132.1h1.6M75.0 126.4V129.7M74.2 126.4h1.6M74.2 129.7h1.6M76.2 129.3V133.5M75.4 129.3h1.6M75.4 133.5h1.6M77.4 129.5V133.1M76.6 129.5h1.6M76.6 133.1h1.6M78.6 131.0V137.0M77.8 131.0h1.6M77.8 137.0h1.6M79.8 130.1V135.9M79.0 130.1h1.6M79.0 135.9h1.6M81.0 132.1V136.4M80.2 132.1h1.6M80.2 136.4h1.6M82.2 131.5V138.0M81.4 131.5h1.6M81.4 138.0h1.6M83.4 135.3V138.8M82.6 135.3h1.6M82.6 138.8h1.6M84.6 134.3V137.4M83.8 134.3h1.6M83.8 137.4h1.6M85.8 133.8V138.2M85.0 133.8h1.6M85.0 138.2h1.6M87.0 134.5V140.2M86.2 134.5h1.6M86.2 140.2h1.6M88.2 133.7V140.5M87.4 133.7h1.6M87.4 140.5h1.6M89.4 135.9V141.0M88.6 135.9h1.6M88.6 141.0h1.6M90.6 137.1V140.7M89.8 137.1h1.6M89.8 140.7h1.6M91.8 137.2V142.6M91.0 137.2h1.6M91.0 142.6h1.6M93.0 140.9V144.0M92.2 140.9h1.6M92.2 144.0h1.6M94.2 137.1V143.3M93.4 137.1h1.6M93.4 143.3h1.6M95.4 139.0V143.3M94.6 139.0h1.6M94.6 143.3h1.6M96.6 139.6V143.1M95.8 139.6h1.6M95.8 143.1h1.6M97.8 141.0V144.6M97.0 141.0h1.6M97.0 144.6h1.6M99.0 137.9V144.2M98.2 137.9h1.6M98.2 144.2h1.6M100.2 138.7V145.3M99.4 138.7h1.6M99.4 145.3h1.6M101.4 141.2V145.0M100.6 141.2h1.6M100.6 145.0h1.6M102.6 140.6V147.6M101.8 140.6h1.6M101.8 147.6h1.6M103.8 140.4V146.8M103.0 140.4h1.6M103.0 146.8h1.6M105.0 141.0V145.4M104.2 141.0h1.6M104.2 145.4h1.6M106.2 141.2V144.5M105.4 141.2h1.6M105.4 144.5h1.6M107.4 142.8V146.4M106.6 142.8h1.6M106.6 146.4h1.6M108.6 143.4V148.2M107.8 143.4h1.6M107.8 148.2h1.6M109.8 142.6V146.4M109.0 142.6h1.6M109.0 146.4h1.6M111.0 142.6V146.3M110.2 142.6h1.6M110.2 146.3h1.6M112.2 142.8V146.8M111.4 142.8h1.6M111.4 146.8h1.6M113.4 139.9V146.5M112.6 139.9h1.6M112.6 146.5h1.6M114.6 142.4V145.6M113.8 142.4h1.6M113.8 145.6h1.6M115.8 140.8V147.5M115.0 140.8h1.6M115.0 147.5h1.6M117.0 142.4V147.2M116.2 142.4h1.6M116.2 147.2h1.6M118.2 141.5V147.5M117.4 141.5h1.6M117.4 147.5h1.6M119.4 140.6V145.6M118.6 140.6h1.6M118.6 145.6h1.6M120.6 142.6V149.4M119.8 142.6h1.6M119.8 149.4h1.6M121.8 144.8V148.5M121.0 144.8h1.6M121.0 148.5h1.6M123.0 142.3V146.4M122.2 142.3h1.6M122.2 146.4h1.6M124.2 142.7V147.7M123.4 142.7h1.6M123.4 147.7h1.6M125.4 142.5V147.6M124.6 142.5h1.6M124.6 147.6h1.6M126.6 143.5V147.9M125.8 143.5h1.6M125.8 147.9h1.6M127.8 140.9V145.1M127.0 140.9h1.6M127.0 145.1h1.6M129.0 145.0V148.4M128.2 145.0h1.6M128.2 148.4h1.6M130.2 141.7V146.7M129.4 141.7h1.6M129.4 146.7h1.6M131.4 143.2V149.5M130.6 143.2h1.6M130.6 149.5h1.6M132.6 141.7V148.2M131.8 141.7h1.6M131.8 148.2h1.6M133.8 142.0V146.7M133.0 142.0h1.6M133.0 146.7h1.6M135.0 141.2V148.2M134.2 141.2h1.6M134.2 148.2h1.6M136.2 142.5V149.4M135.4 142.5h1.6M135.4 149.4h1.6M137.4 141.7V146.0M136.6 141.7h1.6M136.6 146.0h1.6M138.6 142.7V146.2M137.8 142.7h1.6M137.8 146.2h1.6M139.8 141.2V147.5M139.0 141.2h1.6M139.0 147.5h1.6M141.0 139.5V146.2M140.2 139.5h1.6M140.2 146.2h1.6M142.2 143.7V149.3M141.4 143.7h1.6M141.4 149.3h1.6M143.4 142.2V149.1M142.6 142.2h1.6M142.6 149.1h1.6M144.6 142.5V147.4M143.8 142.5h1.6M143.8 147.4h1.6M145.8 143.8V148.9M145.0 143.8h1.6M145.0 148.9h1.6M147.0 142.2V145.5M146.2 142.2h1.6M146.2 145.5h1.6M148.2 142.7V147.1M147.4 142.7h1.6M147.4 147.1h1.6M149.4 143.7V150.4M148.6 143.7h1.6M148.6 150.4h1.6M150.6 144.5V147.9M149.8 144.5h1.6M149.8 147.9h1.6M151.8 140.6V144.1M151.0 140.6h1.6M151.0 144.1h1.6M153.0 139.5V142.6M152.2 139.5h1.6M152.2 142.6h1.6M154.2 141.3V146.3M153.4 141.3h1.6M153.4 146.3h1.6M155.4 143.6V149.0M154.6 143.6h1.6M154.6 149.0h1.6M156.6 141.9V147.1M155.8 141.9h1.6M155.8 147.1h1.6M157.8 141.6V148.1M157.0 141.6h1.6M157.0 148.1h1.6M159.0 143.0V148.7M158.2 143.0h1.6M158.2 148.7h1.6M160.2 141.3V146.8M159.4 141.3h1.6M159.4 146.8h1.6M161.4 142.6V148.1M160.6 142.6h1.6M160.6 148.1h1.6M162.6 143.5V148.6M161.8 143.5h1.6M161.8 148.6h1.6M163.8 144.0V147.3M163.0 144.0h1.6M163.0 147.3h1.6M165.0 143.9V147.3M164.2 143.9h1.6M164.2 147.3h1.6M166.2 141.6V147.2M165.4 141.6h1.6M165.4 147.2h1.6M167.4 143.8V147.7M166.6 143.8h1.6M166.6 147.7h1.6M168.6 142.3V147.0M167.8 142.3h1.6M167.8 147.0h1.6M169.8 143.9V149.5M169.0 143.9h1.6M169.0 149.5h1.6M171.0 145.5V150.9M170.2 145.5h1.6M170.2 150.9h1.6M172.2 142.3V146.3M171.4 142.3h1.6M171.4 146.3h1.6M173.4 140.5V144.6M172.6 140.5h1.6M172.6 144.6h1.6M174.6 142.9V146.4M173.8 142.9h1.6M173.8 146.4h1.6M175.8 142.8V148.4M175.0 142.8h1.6M175.0 148.4h1.6M177.0 143.5V149.4M176.2 143.5h1.6M176.2 149.4h1.6M178.2 144.7V148.2M177.4 144.7h1.6M177.4 148.2h1.6M179.4 142.2V146.3M178.6 142.2h1.6M178.6 146.3h1.6M180.6 142.4V146.0M179.8 142.4h1.6M179.8 146.0h1.6M181.8 144.0V149.4M181.0 144.0h1.6M181.0 149.4h1.6M183.0 141.8V146.0M182.2 141.8h1.6M182.2 146.0h1.6M184.2 143.3V149.7M183.4 143.3h1.6M183.4 149.7h1.6M185.4 142.9V147.0M184.6 142.9h1.6M184.6 147.0h1.6M186.6 143.3V148.9M185.8 143.3h1.6M185.8 148.9h1.6M187.8 143.3V148.8M187.0 143.3h1.6M187.0 148.8h1.6M189.0 142.7V149.5M188.2 142.7h1.6M188.2 149.5h1.6M190.2 143.2V149.1M189.4 143.2h1.6M189.4 149.1h1.6M191.4 140.6V147.4M190.6 140.6h1.6M190.6 147.4h1.6" stroke="#6a80e0" stroke-width="0.6" fill="none" opacity="1.0"/>
<polyline points="51.0,141.2 52.2,136.3 53.4,136.2 54.6,134.3 55.8,129.3 57.0,127.4 58.2,128.1 59.4,125.9 60.6,123.2 61.8,123.7 63.0,123.9 64.2,124.0 65.4,125.4 66.6,125.1 67.8,127.2 69.0,127.4 70.2,127.2 71.4,128.4 72.6,129.4 73.8,129.5 75.0,128.0 76.2,131.4 77.4,131.3 78.6,134.0 79.8,133.0 81.0,134.2 82.2,134.7 83.4,137.0 84.6,135.9 85.8,136.0 87.0,137.3 88.2,137.1 89.4,138.5 90.6,138.9 91.8,139.9 93.0,142.5 94.2,140.2 95.4,141.2 96.6,141.3 97.8,142.8 99.0,141.0 100.2,142.0 101.4,143.1 102.6,144.1 103.8,143.6 105.0,143.2 106.2,142.9 107.4,144.6 108.6,145.8 109.8,144.5 111.0,144.4 112.2,144.8 113.4,143.2 114.6,144.0 115.8,144.1 117.0,144.8 118.2,144.5 119.4,143.1 120.6,146.0 121.8,146.7 123.0,144.4 124.2,145.2 125.4,145.0 126.6,145.7 127.8,143.0 129.0,146.7 130.2,144.2 131.4,146.3 132.6,144.9 133.8,144.4 135.0,144.7 136.2,145.9 137.4,143.9 138.6,144.4 139.8,144.3 141.0,142.9 142.2,146.5 143.4,145.6 144.6,144.9 145.8,146.4 147.0,143.8 148.2,144.9 149.4,147.1 150.6,146.2 151.8,142.4 153.0,141.0 154.2,143.8 155.4,146.3 156.6,144.5 157.8,144.8 159.0,145.8 160.2,144.0 161.4,145.4 162.6,146.1 163.8,145.7 165.0,145.6 166.2,144.4 167.4,145.8 168.6,144.6 169.8,146.7 171.0,148.2 172.2,144.3 173.4,142.6 174.6,144.7 175.8,145.6 177.0,146.4 178.2,146.5 179.4,144.2 180.6,144.2 181.8,146.7 183.0,143.9 184.2,146.5 185.4,144.9 186.6,146.1 187.8,146.0 189.0,146.1 190.2,146.2 191.4,144.0" stroke="#1a30b0" stroke-width="1.4" fill="none" stroke-linejoin="round" opacity="1.0"/>
<path d="M50.1 141.2a0.9 0.9 0 1 0 1.8 0a0.9 0.9 0 1 0 -1.8 0M51.3 136.3a0.9 0.9 0 1 0 1.8 0a0.9 0.9 0 1 0 -1.8 0M52.5 136.2a0.9 0.9 0 1 0 1.8 0a0.9 0.9 0 1 0 -1.8 0M53.7 134.3a0.9 0.9 0 1 0 1.8 0a0.9 0.9 0 1 0 -1.8 0M54.9 129.3a0.9 0.9 0 1 0 1.8 0a0.9 0.9 0 1 0 -1.8 0M56.1 127.4a0.9 0.9 0 1 0 1.8 0a0.9 0.9 0 1 0 -1.8 0M57.3 128.1a0.9 0.9 0 1 0 1.8 0a0.9 0.9 0 1 0 -1.8 0M58.5 125.9a0.9 0.9 0 1 0 1.8 0a0.9 0.9 0 1 0 -1.8 0M59.7 123.2a0.9 0.9 0 1 0 1.8 0a0.9 0.9 0 1 0 -1.8 0M60.9 123.7a0.9 0.9 0 1 0 1.8 0a0.9 0.9 0 1 0 -1.8 0M62.1 123.9a0.9 0.9 0 1 0 1.8 0a0.9 0.9 0 1 0 -1.8 0M63.3 124.0a0.9 0.9 0 1 0 1.8 0a0.9 0.9 0 1 0 -1.8 0M64.5 125.4a0.9 0.9 0 1 0 1.8 0a0.9 0.9 0 1 0 -1.8 0M65.7 125.1a0.9 0.9 0 1 0 1.8 0a0.9 0.9 0 1 0 -1.8 0M66.9 127.2a0.9 0.9 0 1 0 1.8 0a0.9 0.9 0 1 0 -1.8 0M68.1 127.4a0.9 0.9 0 1 0 1.8 0a0.9 0.9 0 1 0 -1.8 0M69.3 127.2a0.9 0.9 0 1 0 1.8 0a0.9 0.9 0 1 0 -1.8 0M70.5 128.4a0.9 0.9 0 1 0 1.8 0a0.9 0.9 0 1 0 -1.8 0M71.7 129.4a0.9 0.9 0 1 0 1.8 0a0.9 0.9 0 1 0 -1.8 0M72.9 129.5a0.9 0.9 0 1 0 1.8 0a0.9 0.9 0 1 0 -1.8 0M74.1 128.0a0.9 0.9 0 1 0 1.8 0a0.9 0.9 0 1 0 -1.8 0M75.3 131.4a0.9 0.9 0 1 0 1.8 0a0.9 0.9 0 1 0 -1.8 0M76.5 131.3a0.9 0.9 0 1 0 1.8 0a0.9 0.9 0 1 0 -1.8 0M77.7 134.0a0.9 0.9 0 1 0 1.8 0a0.9 0.9 0 1 0 -1.8 0M78.9 133.0a0.9 0.9 0 1 0 1.8 0a0.9 0.9 0 1 0 -1.8 0M80.1 134.2a0.9 0.9 0 1 0 1.8 0a0.9 0.9 0 1 0 -1.8 0M81.3 134.7a0.9 0.9 0 1 0 1.8 0a0.9 0.9 0 1 0 -1.8 0M82.5 137.0a0.9 0.9 0 1 0 1.8 0a0.9 0.9 0 1 0 -1.8 0M83.7 135.9a0.9 0.9 0 1 0 1.8 0a0.9 0.9 0 1 0 -1.8 0M84.9 136.0a0.9 0.9 0 1 0 1.8 0a0.9 0.9 0 1 0 -1.8 0M86.1 137.3a0.9 0.9 0 1 0 1.8 0a0.9 0.9 0 1 0 -1.8 0M87.3 137.1a0.9 0.9 0 1 0 1.8 0a0.9 0.9 0 1 0 -1.8 0M88.5 138.5a0.9 0.9 0 1 0 1.8 0a0.9 0.9 0 1 0 -1.8 0M89.7 138.9a0.9 0.9 0 1 0 1.8 0a0.9 0.9 0 1 0 -1.8 0M90.9 139.9a0.9 0.9 0 1 0 1.8 0a0.9 0.9 0 1 0 -1.8 0M92.1 142.5a0.9 0.9 0 1 0 1.8 0a0.9 0.9 0 1 0 -1.8 0M93.3 140.2a0.9 0.9 0 1 0 1.8 0a0.9 0.9 0 1 0 -1.8 0M94.5 141.2a0.9 0.9 0 1 0 1.8 0a0.9 0.9 0 1 0 -1.8 0M95.7 141.3a0.9 0.9 0 1 0 1.8 0a0.9 0.9 0 1 0 -1.8 0M96.9 142.8a0.9 0.9 0 1 0 1.8 0a0.9 0.9 0 1 0 -1.8 0M98.1 141.0a0.9 0.9 0 1 0 1.8 0a0.9 0.9 0 1 0 -1.8 0M99.3 142.0a0.9 0.9 0 1 0 1.8 0a0.9 0.9 0 1 0 -1.8 0M100.5 143.1a0.9 0.9 0 1 0 1.8 0a0.9 0.9 0 1 0 -1.8 0M101.7 144.1a0.9 0.9 0 1 0 1.8 0a0.9 0.9 0 1 0 -1.8 0M102.9 143.6a0.9 0.9 0 1 0 1.8 0a0.9 0.9 0 1 0 -1.8 0M104.1 143.2a0.9 0.9 0 1 0 1.8 0a0.9 0.9 0 1 0 -1.8 0M105.3 142.9a0.9 0.9 0 1 0 1.8 0a0.9 0.9 0 1 0 -1.8 0M106.5 144.6a0.9 0.9 0 1 0 1.8 0a0.9 0.9 0 1 0 -1.8 0M107.7 145.8a0.9 0.9 0 1 0 1.8 0a0.9 0.9 0 1 0 -1.8 0M108.9 144.5a0.9 0.9 0 1 0 1.8 0a0.9 0.9 0 1 0 -1.8 0M110.1 144.4a0.9 0.9 0 1 0 1.8 0a0.9 0.9 0 1 0 -1.8 0M111.3 144.8a0.9 0.9 0 1 0 1.8 0a0.9 0.9 0 1 0 -1.8 0M112.5 143.2a0.9 0.9 0 1 0 1.8 0a0.9 0.9 0 1 0 -1.8 0M113.7 144.0a0.9 0.9 0 1 0 1.8 0a0.9 0.9 0 1 0 -1.8 0M114.9 144.1a0.9 0.9 0 1 0 1.8 0a0.9 0.9 0 1 0 -1.8 0M116.1 144.8a0.9 0.9 0 1 0 1.8 0a0.9 0.9 0 1 0 -1.8 0M117.3 144.5a0.9 0.9 0 1 0 1.8 0a0.9 0.9 0 1 0 -1.8 0M118.5 143.1a0.9 0.9 0 1 0 1.8 0a0.9 0.9 0 1 0 -1.8 0M119.7 146.0a0.9 0.9 0 1 0 1.8 0a0.9 0.9 0 1 0 -1.8 0M120.9 146.7a0.9 0.9 0 1 0 1.8 0a0.9 0.9 0 1 0 -1.8 0M122.1 144.4a0.9 0.9 0 1 0 1.8 0a0.9 0.9 0 1 0 -1.8 0M123.3 145.2a0.9 0.9 0 1 0 1.8 0a0.9 0.9 0 1 0 -1.8 0M124.5 145.0a0.9 0.9 0 1 0 1.8 0a0.9 0.9 0 1 0 -1.8 0M125.7 145.7a0.9 0.9 0 1 0 1.8 0a0.9 0.9 0 1 0 -1.8 0M126.9 143.0a0.9 0.9 0 1 0 1.8 0a0.9 0.9 0 1 0 -1.8 0M128.1 146.7a0.9 0.9 0 1 0 1.8 0a0.9 0.9 0 1 0 -1.8 0M129.3 144.2a0.9 0.9 0 1 0 1.8 0a0.9 0.9 0 1 0 -1.8 0M130.5 146.3a0.9 0.9 0 1 0 1.8 0a0.9 0.9 0 1 0 -1.8 0M131.7 144.9a0.9 0.9 0 1 0 1.8 0a0.9 0.9 0 1 0 -1.8 0M132.9 144.4a0.9 0.9 0 1 0 1.8 0a0.9 0.9 0 1 0 -1.8 0M134.1 144.7a0.9 0.9 0 1 0 1.8 0a0.9 0.9 0 1 0 -1.8 0M135.3 145.9a0.9 0.9 0 1 0 1.8 0a0.9 0.9 0 1 0 -1.8 0M136.5 143.9a0.9 0.9 0 1 0 1.8 0a0.9 0.9 0 1 0 -1.8 0M137.7 144.4a0.9 0.9 0 1 0 1.8 0a0.9 0.9 0 1 0 -1.8 0M138.9 144.3a0.9 0.9 0 1 0 1.8 0a0.9 0.9 0 1 0 -1.8 0M140.1 142.9a0.9 0.9 0 1 0 1.8 0a0.9 0.9 0 1 0 -1.8 0M141.3 146.5a0.9 0.9 0 1 0 1.8 0a0.9 0.9 0 1 0 -1.8 0M142.5 145.6a0.9 0.9 0 1 0 1.8 0a0.9 0.9 0 1 0 -1.8 0M143.7 144.9a0.9 0.9 0 1 0 1.8 0a0.9 0.9 0 1 0 -1.8 0M144.9 146.4a0.9 0.9 0 1 0 1.8 0a0.9 0.9 0 1 0 -1.8 0M146.1 143.8a0.9 0.9 0 1 0 1.8 0a0.9 0.9 0 1 0 -1.8 0M147.3 144.9a0.9 0.9 0 1 0 1.8 0a0.9 0.9 0 1 0 -1.8 0M148.5 147.1a0.9 0.9 0 1 0 1.8 0a0.9 0.9 0 1 0 -1.8 0M149.7 146.2a0.9 0.9 0 1 0 1.8 0a0.9 0.9 0 1 0 -1.8 0M150.9 142.4a0.9 0.9 0 1 0 1.8 0a0.9 0.9 0 1 0 -1.8 0M152.1 141.0a0.9 0.9 0 1 0 1.8 0a0.9 0.9 0 1 0 -1.8 0M153.3 143.8a0.9 0.9 0 1 0 1.8 0a0.9 0.9 0 1 0 -1.8 0M154.5 146.3a0.9 0.9 0 1 0 1.8 0a0.9 0.9 0 1 0 -1.8 0M155.7 144.5a0.9 0.9 0 1 0 1.8 0a0.9 0.9 0 1 0 -1.8 0M156.9 144.8a0.9 0.9 0 1 0 1.8 0a0.9 0.9 0 1 0 -1.8 0M158.1 145.8a0.9 0.9 0 1 0 1.8 0a0.9 0.9 0 1 0 -1.8 0M159.3 144.0a0.9 0.9 0 1 0 1.8 0a0.9 0.9 0 1 0 -1.8 0M160.5 145.4a0.9 0.9 0 1 0 1.8 0a0.9 0.9 0 1 0 -1.8 0M161.7 146.1a0.9 0.9 0 1 0 1.8 0a0.9 0.9 0 1 0 -1.8 0M162.9 145.7a0.9 0.9 0 1 0 1.8 0a0.9 0.9 0 1 0 -1.8 0M164.1 145.6a0.9 0.9 0 1 0 1.8 0a0.9 0.9 0 1 0 -1.8 0M165.3 144.4a0.9 0.9 0 1 0 1.8 0a0.9 0.9 0 1 0 -1.8 0M166.5 145.8a0.9 0.9 0 1 0 1.8 0a0.9 0.9 0 1 0 -1.8 0M167.7 144.6a0.9 0.9 0 1 0 1.8 0a0.9 0.9 0 1 0 -1.8 0M168.9 146.7a0.9 0.9 0 1 0 1.8 0a0.9 0.9 0 1 0 -1.8 0M170.1 148.2a0.9 0.9 0 1 0 1.8 0a0.9 0.9 0 1 0 -1.8 0M171.3 144.3a0.9 0.9 0 1 0 1.8 0a0.9 0.9 0 1 0 -1.8 0M172.5 142.6a0.9 0.9 0 1 0 1.8 0a0.9 0.9 0 1 0 -1.8 0M173.7 144.7a0.9 0.9 0 1 0 1.8 0a0.9 0.9 0 1 0 -1.8 0M174.9 145.6a0.9 0.9 0 1 0 1.8 0a0.9 0.9 0 1 0 -1.8 0M176.1 146.4a0.9 0.9 0 1 0 1.8 0a0.9 0.9 0 1 0 -1.8 0M177.3 146.5a0.9 0.9 0 1 0 1.8 0a0.9 0.9 0 1 0 -1.8 0M178.5 144.2a0.9 0.9 0 1 0 1.8 0a0.9 0.9 0 1 0 -1.8 0M179.7 144.2a0.9 0.9 0 1 0 1.8 0a0.9 0.9 0 1 0 -1.8 0M180.9 146.7a0.9 0.9 0 1 0 1.8 0a0.9 0.9 0 1 0 -1.8 0M182.1 143.9a0.9 0.9 0 1 0 1.8 0a0.9 0.9 0 1 0 -1.8 0M183.3 146.5a0.9 0.9 0 1 0 1.8 0a0.9 0.9 0 1 0 -1.8 0M184.5 144.9a0.9 0.9 0 1 0 1.8 0a0.9 0.9 0 1 0 -1.8 0M185.7 146.1a0.9 0.9 0 1 0 1.8 0a0.9 0.9 0 1 0 -1.8 0M186.9 146.0a0.9 0.9 0 1 0 1.8 0a0.9 0.9 0 1 0 -1.8 0M188.1 146.1a0.9 0.9 0 1 0 1.8 0a0.9 0.9 0 1 0 -1.8 0M189.3 146.2a0.9 0.9 0 1 0 1.8 0a0.9 0.9 0 1 0 -1.8 0M190.5 144.0a0.9 0.9 0 1 0 1.8 0a0.9 0.9 0 1 0 -1.8 0" fill="#1a30b0" opacity="1.0"/>
<path d="M44.0 134.2V138.4M43.2 134.2h1.6M43.2 138.4h1.6M45.2 135.1V137.8M44.4 135.1h1.6M44.4 137.8h1.6M46.4 132.7V138.0M45.6 132.7h1.6M45.6 138.0h1.6M47.6 136.5V140.1M46.8 136.5h1.6M46.8 140.1h1.6M48.8 132.8V136.5M48.0 132.8h1.6M48.0 136.5h1.6M50.0 135.1V138.3M49.2 135.1h1.6M49.2 138.3h1.6M51.2 135.9V141.3M50.4 135.9h1.6M50.4 141.3h1.6M52.4 132.1V136.7M51.6 132.1h1.6M51.6 136.7h1.6M53.6 129.9V133.3M52.8 129.9h1.6M52.8 133.3h1.6M54.8 125.0V128.6M54.0 125.0h1.6M54.0 128.6h1.6M56.0 124.3V128.0M55.2 124.3h1.6M55.2 128.0h1.6M57.2 120.2V123.8M56.4 120.2h1.6M56.4 123.8h1.6M58.4 119.5V124.1M57.6 119.5h1.6M57.6 124.1h1.6M59.6 118.0V123.4M58.8 118.0h1.6M58.8 123.4h1.6M60.8 117.7V120.2M60.0 117.7h1.6M60.0 120.2h1.6M62.0 117.7V122.8M61.2 117.7h1.6M61.2 122.8h1.6M63.2 115.9V121.0M62.4 115.9h1.6M62.4 121.0h1.6M64.4 117.8V120.9M63.6 117.8h1.6M63.6 120.9h1.6M65.6 117.4V123.0M64.8 117.4h1.6M64.8 123.0h1.6M66.8 118.0V123.2M66.0 118.0h1.6M66.0 123.2h1.6M68.0 119.9V124.6M67.2 119.9h1.6M67.2 124.6h1.6M69.2 122.3V125.0M68.4 122.3h1.6M68.4 125.0h1.6M70.4 121.6V125.5M69.6 121.6h1.6M69.6 125.5h1.6M71.6 121.8V126.6M70.8 121.8h1.6M70.8 126.6h1.6M72.8 123.0V127.2M72.0 123.0h1.6M72.0 127.2h1.6M74.0 124.8V127.4M73.2 124.8h1.6M73.2 127.4h1.6M75.2 125.5V130.4M74.4 125.5h1.6M74.4 130.4h1.6M76.4 126.1V129.8M75.6 126.1h1.6M75.6 129.8h1.6M77.6 127.6V130.8M76.8 127.6h1.6M76.8 130.8h1.6M78.8 127.8V131.3M78.0 127.8h1.6M78.0 131.3h1.6M80.0 128.2V131.0M79.2 128.2h1.6M79.2 131.0h1.6M81.2 129.9V133.4M80.4 129.9h1.6M80.4 133.4h1.6M82.4 129.6V132.0M81.6 129.6h1.6M81.6 132.0h1.6M83.6 129.5V135.1M82.8 129.5h1.6M82.8 135.1h1.6M84.8 132.7V135.5M84.0 132.7h1.6M84.0 135.5h1.6M86.0 130.9V134.4M85.2 130.9h1.6M85.2 134.4h1.6M87.2 132.5V135.8M86.4 132.5h1.6M86.4 135.8h1.6M88.4 131.7V135.5M87.6 131.7h1.6M87.6 135.5h1.6M89.6 133.4V136.8M88.8 133.4h1.6M88.8 136.8h1.6M90.8 132.3V137.6M90.0 132.3h1.6M90.0 137.6h1.6M92.0 134.9V137.9M91.2 134.9h1.6M91.2 137.9h1.6M93.2 134.1V139.6M92.4 134.1h1.6M92.4 139.6h1.6M94.4 136.1V139.7M93.6 136.1h1.6M93.6 139.7h1.6M95.6 136.7V142.3M94.8 136.7h1.6M94.8 142.3h1.6M96.8 137.1V140.6M96.0 137.1h1.6M96.0 140.6h1.6M98.0 138.2V140.9M97.2 138.2h1.6M97.2 140.9h1.6M99.2 136.9V141.9M98.4 136.9h1.6M98.4 141.9h1.6M100.4 138.2V141.1M99.6 138.2h1.6M99.6 141.1h1.6M101.6 137.1V141.9M100.8 137.1h1.6M100.8 141.9h1.6M102.8 136.5V141.7M102.0 136.5h1.6M102.0 141.7h1.6M104.0 139.4V142.4M103.2 139.4h1.6M103.2 142.4h1.6M105.2 140.7V144.1M104.4 140.7h1.6M104.4 144.1h1.6M106.4 139.7V143.9M105.6 139.7h1.6M105.6 143.9h1.6M107.6 138.6V143.8M106.8 138.6h1.6M106.8 143.8h1.6M108.8 140.6V145.7M108.0 140.6h1.6M108.0 145.7h1.6M110.0 139.7V143.6M109.2 139.7h1.6M109.2 143.6h1.6M111.2 139.5V143.8M110.4 139.5h1.6M110.4 143.8h1.6M112.4 138.8V143.8M111.6 138.8h1.6M111.6 143.8h1.6M113.6 140.2V143.1M112.8 140.2h1.6M112.8 143.1h1.6M114.8 139.6V145.0M114.0 139.6h1.6M114.0 145.0h1.6M116.0 141.7V146.8M115.2 141.7h1.6M115.2 146.8h1.6M117.2 141.0V144.2M116.4 141.0h1.6M116.4 144.2h1.6M118.4 139.8V144.3M117.6 139.8h1.6M117.6 144.3h1.6M119.6 140.1V144.9M118.8 140.1h1.6M118.8 144.9h1.6M120.8 140.7V145.1M120.0 140.7h1.6M120.0 145.1h1.6M122.0 140.5V143.1M121.2 140.5h1.6M121.2 143.1h1.6M123.2 142.0V144.6M122.4 142.0h1.6M122.4 144.6h1.6M124.4 142.3V145.4M123.6 142.3h1.6M123.6 145.4h1.6M125.6 142.2V145.0M124.8 142.2h1.6M124.8 145.0h1.6M126.8 141.9V145.9M126.0 141.9h1.6M126.0 145.9h1.6M128.0 140.0V144.8M127.2 140.0h1.6M127.2 144.8h1.6M129.2 140.0V144.2M128.4 140.0h1.6M128.4 144.2h1.6M130.4 141.9V147.2M129.6 141.9h1.6M129.6 147.2h1.6M131.6 142.4V146.4M130.8 142.4h1.6M130.8 146.4h1.6M132.8 140.4V144.2M132.0 140.4h1.6M132.0 144.2h1.6M134.0 142.3V145.1M133.2 142.3h1.6M133.2 145.1h1.6M135.2 140.9V146.3M134.4 140.9h1.6M134.4 146.3h1.6M136.4 141.8V146.3M135.6 141.8h1.6M135.6 146.3h1.6M137.6 141.0V146.6M136.8 141.0h1.6M136.8 146.6h1.6M138.8 140.5V145.9M138.0 140.5h1.6M138.0 145.9h1.6M140.0 142.5V145.1M139.2 142.5h1.6M139.2 145.1h1.6M141.2 141.6V146.0M140.4 141.6h1.6M140.4 146.0h1.6M142.4 141.7V145.6M141.6 141.7h1.6M141.6 145.6h1.6M143.6 139.8V144.6M142.8 139.8h1.6M142.8 144.6h1.6M144.8 140.0V142.6M144.0 140.0h1.6M144.0 142.6h1.6M146.0 140.8V145.4M145.2 140.8h1.6M145.2 145.4h1.6M147.2 140.3V144.6M146.4 140.3h1.6M146.4 144.6h1.6M148.4 142.2V145.8M147.6 142.2h1.6M147.6 145.8h1.6M149.6 142.9V145.7M148.8 142.9h1.6M148.8 145.7h1.6M150.8 141.7V146.3M150.0 141.7h1.6M150.0 146.3h1.6M152.0 142.2V144.8M151.2 142.2h1.6M151.2 144.8h1.6M153.2 142.1V145.6M152.4 142.1h1.6M152.4 145.6h1.6M154.4 143.5V146.0M153.6 143.5h1.6M153.6 146.0h1.6M155.6 141.6V144.9M154.8 141.6h1.6M154.8 144.9h1.6M156.8 143.0V146.2M156.0 143.0h1.6M156.0 146.2h1.6M158.0 142.2V146.6M157.2 142.2h1.6M157.2 146.6h1.6M159.2 141.8V146.4M158.4 141.8h1.6M158.4 146.4h1.6M160.4 142.7V147.4M159.6 142.7h1.6M159.6 147.4h1.6M161.6 141.5V145.2M160.8 141.5h1.6M160.8 145.2h1.6M162.8 142.2V147.1M162.0 142.2h1.6M162.0 147.1h1.6M164.0 140.9V145.4M163.2 140.9h1.6M163.2 145.4h1.6M165.2 141.2V145.4M164.4 141.2h1.6M164.4 145.4h1.6M166.4 140.6V145.5M165.6 140.6h1.6M165.6 145.5h1.6M167.6 141.5V147.0M166.8 141.5h1.6M166.8 147.0h1.6M168.8 141.2V145.2M168.0 141.2h1.6M168.0 145.2h1.6M170.0 141.2V146.7M169.2 141.2h1.6M169.2 146.7h1.6M171.2 140.8V145.2M170.4 140.8h1.6M170.4 145.2h1.6M172.4 143.0V146.6M171.6 143.0h1.6M171.6 146.6h1.6M173.6 143.5V147.4M172.8 143.5h1.6M172.8 147.4h1.6M174.8 141.9V146.4M174.0 141.9h1.6M174.0 146.4h1.6M176.0 143.6V147.0M175.2 143.6h1.6M175.2 147.0h1.6M177.2 141.7V147.1M176.4 141.7h1.6M176.4 147.1h1.6M178.4 143.9V147.5M177.6 143.9h1.6M177.6 147.5h1.6M179.6 141.9V146.3M178.8 141.9h1.6M178.8 146.3h1.6M180.8 140.2V145.3M180.0 140.2h1.6M180.0 145.3h1.6M182.0 142.7V147.7M181.2 142.7h1.6M181.2 147.7h1.6M183.2 141.6V146.2M182.4 141.6h1.6M182.4 146.2h1.6M184.4 140.8V145.5M183.6 140.8h1.6M183.6 145.5h1.6M185.6 141.1V145.9M184.8 141.1h1.6M184.8 145.9h1.6M186.8 140.6V144.8M186.0 140.6h1.6M186.0 144.8h1.6M188.0 142.0V145.8M187.2 142.0h1.6M187.2 145.8h1.6M189.2 140.5V145.8M188.4 140.5h1.6M188.4 145.8h1.6M190.4 143.7V146.6M189.6 143.7h1.6M189.6 146.6h1.6M191.6 143.1V145.9M190.8 143.1h1.6M190.8 145.9h1.6" stroke="#80c0e8" stroke-width="0.6" fill="none" opacity="1.0"/>
<polyline points="44.0,136.3 45.2,136.4 46.4,135.3 47.6,138.3 48.8,134.6 50.0,136.7 51.2,138.6 52.4,134.4 53.6,131.6 54.8,126.8 56.0,126.1 57.2,122.0 58.4,121.8 59.6,120.7 60.8,119.0 62.0,120.2 63.2,118.5 64.4,119.3 65.6,120.2 66.8,120.6 68.0,122.3 69.2,123.6 70.4,123.5 71.6,124.2 72.8,125.1 74.0,126.1 75.2,127.9 76.4,127.9 77.6,129.2 78.8,129.5 80.0,129.6 81.2,131.7 82.4,130.8 83.6,132.3 84.8,134.1 86.0,132.7 87.2,134.2 88.4,133.6 89.6,135.1 90.8,134.9 92.0,136.4 93.2,136.9 94.4,137.9 95.6,139.5 96.8,138.9 98.0,139.6 99.2,139.4 100.4,139.6 101.6,139.5 102.8,139.1 104.0,140.9 105.2,142.4 106.4,141.8 107.6,141.2 108.8,143.2 110.0,141.7 111.2,141.6 112.4,141.3 113.6,141.6 114.8,142.3 116.0,144.3 117.2,142.6 118.4,142.1 119.6,142.5 120.8,142.9 122.0,141.8 123.2,143.3 124.4,143.9 125.6,143.6 126.8,143.9 128.0,142.4 129.2,142.1 130.4,144.5 131.6,144.4 132.8,142.3 134.0,143.7 135.2,143.6 136.4,144.0 137.6,143.8 138.8,143.2 140.0,143.8 141.2,143.8 142.4,143.6 143.6,142.2 144.8,141.3 146.0,143.1 147.2,142.4 148.4,144.0 149.6,144.3 150.8,144.0 152.0,143.5 153.2,143.9 154.4,144.8 155.6,143.3 156.8,144.6 158.0,144.4 159.2,144.1 160.4,145.0 161.6,143.3 162.8,144.6 164.0,143.2 165.2,143.3 166.4,143.1 167.6,144.3 168.8,143.2 170.0,144.0 171.2,143.0 172.4,144.8 173.6,145.4 174.8,144.1 176.0,145.3 177.2,144.4 178.4,145.7 179.6,144.1 180.8,142.7 182.0,145.2 183.2,143.9 184.4,143.2 185.6,143.5 186.8,142.7 188.0,143.9 189.2,143.1 190.4,145.2 191.6,144.5" stroke="#3090c8" stroke-width="1.0" fill="none" stroke-linejoin="round" opacity="1.0"/>
<path d="M43.1 136.3a0.9 0.9 0 1 0 1.8 0a0.9 0.9 0 1 0 -1.8 0M44.3 136.4a0.9 0.9 0 1 0 1.8 0a0.9 0.9 0 1 0 -1.8 0M45.5 135.3a0.9 0.9 0 1 0 1.8 0a0.9 0.9 0 1 0 -1.8 0M46.7 138.3a0.9 0.9 0 1 0 1.8 0a0.9 0.9 0 1 0 -1.8 0M47.9 134.6a0.9 0.9 0 1 0 1.8 0a0.9 0.9 0 1 0 -1.8 0M49.1 136.7a0.9 0.9 0 1 0 1.8 0a0.9 0.9 0 1 0 -1.8 0M50.3 138.6a0.9 0.9 0 1 0 1.8 0a0.9 0.9 0 1 0 -1.8 0M51.5 134.4a0.9 0.9 0 1 0 1.8 0a0.9 0.9 0 1 0 -1.8 0M52.7 131.6a0.9 0.9 0 1 0 1.8 0a0.9 0.9 0 1 0 -1.8 0M53.9 126.8a0.9 0.9 0 1 0 1.8 0a0.9 0.9 0 1 0 -1.8 0M55.1 126.1a0.9 0.9 0 1 0 1.8 0a0.9 0.9 0 1 0 -1.8 0M56.3 122.0a0.9 0.9 0 1 0 1.8 0a0.9 0.9 0 1 0 -1.8 0M57.5 121.8a0.9 0.9 0 1 0 1.8 0a0.9 0.9 0 1 0 -1.8 0M58.7 120.7a0.9 0.9 0 1 0 1.8 0a0.9 0.9 0 1 0 -1.8 0M59.9 119.0a0.9 0.9 0 1 0 1.8 0a0.9 0.9 0 1 0 -1.8 0M61.1 120.2a0.9 0.9 0 1 0 1.8 0a0.9 0.9 0 1 0 -1.8 0M62.3 118.5a0.9 0.9 0 1 0 1.8 0a0.9 0.9 0 1 0 -1.8 0M63.5 119.3a0.9 0.9 0 1 0 1.8 0a0.9 0.9 0 1 0 -1.8 0M64.7 120.2a0.9 0.9 0 1 0 1.8 0a0.9 0.9 0 1 0 -1.8 0M65.9 120.6a0.9 0.9 0 1 0 1.8 0a0.9 0.9 0 1 0 -1.8 0M67.1 122.3a0.9 0.9 0 1 0 1.8 0a0.9 0.9 0 1 0 -1.8 0M68.3 123.6a0.9 0.9 0 1 0 1.8 0a0.9 0.9 0 1 0 -1.8 0M69.5 123.5a0.9 0.9 0 1 0 1.8 0a0.9 0.9 0 1 0 -1.8 0M70.7 124.2a0.9 0.9 0 1 0 1.8 0a0.9 0.9 0 1 0 -1.8 0M71.9 125.1a0.9 0.9 0 1 0 1.8 0a0.9 0.9 0 1 0 -1.8 0M73.1 126.1a0.9 0.9 0 1 0 1.8 0a0.9 0.9 0 1 0 -1.8 0M74.3 127.9a0.9 0.9 0 1 0 1.8 0a0.9 0.9 0 1 0 -1.8 0M75.5 127.9a0.9 0.9 0 1 0 1.8 0a0.9 0.9 0 1 0 -1.8 0M76.7 129.2a0.9 0.9 0 1 0 1.8 0a0.9 0.9 0 1 0 -1.8 0M77.9 129.5a0.9 0.9 0 1 0 1.8 0a0.9 0.9 0 1 0 -1.8 0M79.1 129.6a0.9 0.9 0 1 0 1.8 0a0.9 0.9 0 1 0 -1.8 0M80.3 131.7a0.9 0.9 0 1 0 1.8 0a0.9 0.9 0 1 0 -1.8 0M81.5 130.8a0.9 0.9 0 1 0 1.8 0a0.9 0.9 0 1 0 -1.8 0M82.7 132.3a0.9 0.9 0 1 0 1.8 0a0.9 0.9 0 1 0 -1.8 0M83.9 134.1a0.9 0.9 0 1 0 1.8 0a0.9 0.9 0 1 0 -1.8 0M85.1 132.7a0.9 0.9 0 1 0 1.8 0a0.9 0.9 0 1 0 -1.8 0M86.3 134.2a0.9 0.9 0 1 0 1.8 0a0.9 0.9 0 1 0 -1.8 0M87.5 133.6a0.9 0.9 0 1 0 1.8 0a0.9 0.9 0 1 0 -1.8 0M88.7 135.1a0.9 0.9 0 1 0 1.8 0a0.9 0.9 0 1 0 -1.8 0M89.9 134.9a0.9 0.9 0 1 0 1.8 0a0.9 0.9 0 1 0 -1.8 0M91.1 136.4a0.9 0.9 0 1 0 1.8 0a0.9 0.9 0 1 0 -1.8 0M92.3 136.9a0.9 0.9 0 1 0 1.8 0a0.9 0.9 0 1 0 -1.8 0M93.5 137.9a0.9 0.9 0 1 0 1.8 0a0.9 0.9 0 1 0 -1.8 0M94.7 139.5a0.9 0.9 0 1 0 1.8 0a0.9 0.9 0 1 0 -1.8 0M95.9 138.9a0.9 0.9 0 1 0 1.8 0a0.9 0.9 0 1 0 -1.8 0M97.1 139.6a0.9 0.9 0 1 0 1.8 0a0.9 0.9 0 1 0 -1.8 0M98.3 139.4a0.9 0.9 0 1 0 1.8 0a0.9 0.9 0 1 0 -1.8 0M99.5 139.6a0.9 0.9 0 1 0 1.8 0a0.9 0.9 0 1 0 -1.8 0M100.7 139.5a0.9 0.9 0 1 0 1.8 0a0.9 0.9 0 1 0 -1.8 0M101.9 139.1a0.9 0.9 0 1 0 1.8 0a0.9 0.9 0 1 0 -1.8 0M103.1 140.9a0.9 0.9 0 1 0 1.8 0a0.9 0.9 0 1 0 -1.8 0M104.3 142.4a0.9 0.9 0 1 0 1.8 0a0.9 0.9 0 1 0 -1.8 0M105.5 141.8a0.9 0.9 0 1 0 1.8 0a0.9 0.9 0 1 0 -1.8 0M106.7 141.2a0.9 0.9 0 1 0 1.8 0a0.9 0.9 0 1 0 -1.8 0M107.9 143.2a0.9 0.9 0 1 0 1.8 0a0.9 0.9 0 1 0 -1.8 0M109.1 141.7a0.9 0.9 0 1 0 1.8 0a0.9 0.9 0 1 0 -1.8 0M110.3 141.6a0.9 0.9 0 1 0 1.8 0a0.9 0.9 0 1 0 -1.8 0M111.5 141.3a0.9 0.9 0 1 0 1.8 0a0.9 0.9 0 1 0 -1.8 0M112.7 141.6a0.9 0.9 0 1 0 1.8 0a0.9 0.9 0 1 0 -1.8 0M113.9 142.3a0.9 0.9 0 1 0 1.8 0a0.9 0.9 0 1 0 -1.8 0M115.1 144.3a0.9 0.9 0 1 0 1.8 0a0.9 0.9 0 1 0 -1.8 0M116.3 142.6a0.9 0.9 0 1 0 1.8 0a0.9 0.9 0 1 0 -1.8 0M117.5 142.1a0.9 0.9 0 1 0 1.8 0a0.9 0.9 0 1 0 -1.8 0M118.7 142.5a0.9 0.9 0 1 0 1.8 0a0.9 0.9 0 1 0 -1.8 0M119.9 142.9a0.9 0.9 0 1 0 1.8 0a0.9 0.9 0 1 0 -1.8 0M121.1 141.8a0.9 0.9 0 1 0 1.8 0a0.9 0.9 0 1 0 -1.8 0M122.3 143.3a0.9 0.9 0 1 0 1.8 0a0.9 0.9 0 1 0 -1.8 0M123.5 143.9a0.9 0.9 0 1 0 1.8 0a0.9 0.9 0 1 0 -1.8 0M124.7 143.6a0.9 0.9 0 1 0 1.8 0a0.9 0.9 0 1 0 -1.8 0M125.9 143.9a0.9 0.9 0 1 0 1.8 0a0.9 0.9 0 1 0 -1.8 0M127.1 142.4a0.9 0.9 0 1 0 1.8 0a0.9 0.9 0 1 0 -1.8 0M128.3 142.1a0.9 0.9 0 1 0 1.8 0a0.9 0.9 0 1 0 -1.8 0M129.5 144.5a0.9 0.9 0 1 0 1.8 0a0.9 0.9 0 1 0 -1.8 0M130.7 144.4a0.9 0.9 0 1 0 1.8 0a0.9 0.9 0 1 0 -1.8 0M131.9 142.3a0.9 0.9 0 1 0 1.8 0a0.9 0.9 0 1 0 -1.8 0M133.1 143.7a0.9 0.9 0 1 0 1.8 0a0.9 0.9 0 1 0 -1.8 0M134.3 143.6a0.9 0.9 0 1 0 1.8 0a0.9 0.9 0 1 0 -1.8 0M135.5 144.0a0.9 0.9 0 1 0 1.8 0a0.9 0.9 0 1 0 -1.8 0M136.7 143.8a0.9 0.9 0 1 0 1.8 0a0.9 0.9 0 1 0 -1.8 0M137.9 143.2a0.9 0.9 0 1 0 1.8 0a0.9 0.9 0 1 0 -1.8 0M139.1 143.8a0.9 0.9 0 1 0 1.8 0a0.9 0.9 0 1 0 -1.8 0M140.3 143.8a0.9 0.9 0 1 0 1.8 0a0.9 0.9 0 1 0 -1.8 0M141.5 143.6a0.9 0.9 0 1 0 1.8 0a0.9 0.9 0 1 0 -1.8 0M142.7 142.2a0.9 0.9 0 1 0 1.8 0a0.9 0.9 0 1 0 -1.8 0M143.9 141.3a0.9 0.9 0 1 0 1.8 0a0.9 0.9 0 1 0 -1.8 0M145.1 143.1a0.9 0.9 0 1 0 1.8 0a0.9 0.9 0 1 0 -1.8 0M146.3 142.4a0.9 0.9 0 1 0 1.8 0a0.9 0.9 0 1 0 -1.8 0M147.5 144.0a0.9 0.9 0 1 0 1.8 0a0.9 0.9 0 1 0 -1.8 0M148.7 144.3a0.9 0.9 0 1 0 1.8 0a0.9 0.9 0 1 0 -1.8 0M149.9 144.0a0.9 0.9 0 1 0 1.8 0a0.9 0.9 0 1 0 -1.8 0M151.1 143.5a0.9 0.9 0 1 0 1.8 0a0.9 0.9 0 1 0 -1.8 0M152.3 143.9a0.9 0.9 0 1 0 1.8 0a0.9 0.9 0 1 0 -1.8 0M153.5 144.8a0.9 0.9 0 1 0 1.8 0a0.9 0.9 0 1 0 -1.8 0M154.7 143.3a0.9 0.9 0 1 0 1.8 0a0.9 0.9 0 1 0 -1.8 0M155.9 144.6a0.9 0.9 0 1 0 1.8 0a0.9 0.9 0 1 0 -1.8 0M157.1 144.4a0.9 0.9 0 1 0 1.8 0a0.9 0.9 0 1 0 -1.8 0M158.3 144.1a0.9 0.9 0 1 0 1.8 0a0.9 0.9 0 1 0 -1.8 0M159.5 145.0a0.9 0.9 0 1 0 1.8 0a0.9 0.9 0 1 0 -1.8 0M160.7 143.3a0.9 0.9 0 1 0 1.8 0a0.9 0.9 0 1 0 -1.8 0M161.9 144.6a0.9 0.9 0 1 0 1.8 0a0.9 0.9 0 1 0 -1.8 0M163.1 143.2a0.9 0.9 0 1 0 1.8 0a0.9 0.9 0 1 0 -1.8 0M164.3 143.3a0.9 0.9 0 1 0 1.8 0a0.9 0.9 0 1 0 -1.8 0M165.5 143.1a0.9 0.9 0 1 0 1.8 0a0.9 0.9 0 1 0 -1.8 0M166.7 144.3a0.9 0.9 0 1 0 1.8 0a0.9 0.9 0 1 0 -1.8 0M167.9 143.2a0.9 0.9 0 1 0 1.8 0a0.9 0.9 0 1 0 -1.8 0M169.1 144.0a0.9 0.9 0 1 0 1.8 0a0.9 0.9 0 1 0 -1.8 0M170.3 143.0a0.9 0.9 0 1 0 1.8 0a0.9 0.9 0 1 0 -1.8 0M171.5 144.8a0.9 0.9 0 1 0 1.8 0a0.9 0.9 0 1 0 -1.8 0M172.7 145.4a0.9 0.9 0 1 0 1.8 0a0.9 0.9 0 1 0 -1.8 0M173.9 144.1a0.9 0.9 0 1 0 1.8 0a0.9 0.9 0 1 0 -1.8 0M175.1 145.3a0.9 0.9 0 1 0 1.8 0a0.9 0.9 0 1 0 -1.8 0M176.3 144.4a0.9 0.9 0 1 0 1.8 0a0.9 0.9 0 1 0 -1.8 0M177.5 145.7a0.9 0.9 0 1 0 1.8 0a0.9 0.9 0 1 0 -1.8 0M178.7 144.1a0.9 0.9 0 1 0 1.8 0a0.9 0.9 0 1 0 -1.8 0M179.9 142.7a0.9 0.9 0 1 0 1.8 0a0.9 0.9 0 1 0 -1.8 0M181.1 145.2a0.9 0.9 0 1 0 1.8 0a0.9 0.9 0 1 0 -1.8 0M182.3 143.9a0.9 0.9 0 1 0 1.8 0a0.9 0.9 0 1 0 -1.8 0M183.5 143.2a0.9 0.9 0 1 0 1.8 0a0.9 0.9 0 1 0 -1.8 0M184.7 143.5a0.9 0.9 0 1 0 1.8 0a0.9 0.9 0 1 0 -1.8 0M185.9 142.7a0.9 0.9 0 1 0 1.8 0a0.9 0.9 0 1 0 -1.8 0M187.1 143.9a0.9 0.9 0 1 0 1.8 0a0.9 0.9 0 1 0 -1.8 0M188.3 143.1a0.9 0.9 0 1 0 1.8 0a0.9 0.9 0 1 0 -1.8 0M189.5 145.2a0.9 0.9 0 1 0 1.8 0a0.9 0.9 0 1 0 -1.8 0M190.7 144.5a0.9 0.9 0 1 0 1.8 0a0.9 0.9 0 1 0 -1.8 0" fill="#2070b0" opacity="1.0"/>
<polygon points="54.0,84.7 54.3,85.4 54.6,86.1 54.9,86.9 55.1,87.6 55.3,88.4 55.5,89.4 55.9,90.5 56.4,91.6 57.0,92.7 57.7,93.6 58.3,94.5 58.9,95.2 59.5,96.0 60.0,96.6 60.5,97.3 61.0,97.9 61.4,98.4 61.8,99.0 62.3,99.7 62.7,100.4 63.2,101.1 63.7,101.8 64.2,102.5 64.7,103.3 65.2,104.0 65.7,104.8 66.2,105.5 66.7,106.2 67.3,106.9 67.9,107.5 68.5,108.1 69.1,108.8 69.7,109.5 70.3,110.1 70.9,110.8 71.6,111.5 72.2,112.2 72.9,112.8 73.5,113.4 74.1,114.1 74.7,114.7 75.4,115.3 76.0,115.9 76.6,116.5 77.2,117.1 77.9,117.6 78.5,118.2 79.1,118.8 79.7,119.3 80.3,119.9 81.0,120.4 81.6,121.0 82.2,121.5 82.8,122.0 83.4,122.6 84.0,123.1 84.7,123.6 85.3,124.1 85.9,124.6 86.5,125.1 87.1,125.6 87.7,126.2 88.4,126.6 89.0,127.1 89.6,127.6 90.2,128.1 90.8,128.6 91.4,129.0 91.9,129.5 92.5,129.9 93.1,130.4 93.7,130.9 94.3,131.4 94.9,131.8 95.6,132.3 96.2,132.7 96.9,133.2 97.6,133.6 98.3,134.1 99.0,134.5 99.7,135.0 100.4,135.4 101.1,135.8 101.8,136.2 102.6,136.6 103.3,137.0 104.1,137.4 104.9,137.7 105.7,138.1 106.4,138.3 107.2,138.6 107.9,138.9 108.6,139.1 109.3,139.3 109.9,139.5 110.6,139.7 111.3,139.9 112.0,140.1 112.7,140.3 113.3,140.4 114.0,140.6 114.6,140.8 115.3,140.9 115.9,141.0 116.5,141.2 117.2,141.3 117.8,141.5 118.4,141.6 119.0,141.7 119.6,141.8 120.2,141.9 120.8,142.0 121.5,142.2 122.1,142.3 122.7,142.4 123.4,142.5 124.0,142.6 124.7,142.7 125.3,142.8 126.0,143.0 126.7,143.1 127.3,143.2 128.0,143.2 128.7,143.3 129.4,143.4 130.1,143.5 130.8,143.5 131.5,143.6 132.2,143.6 132.8,143.6 133.5,143.6 134.1,143.6 134.7,143.6 135.3,143.6 136.0,143.6 136.6,143.6 137.2,143.6 137.8,143.6 138.5,143.5 139.1,143.5 139.7,143.5 140.3,143.5 140.9,143.5 141.5,143.4 142.1,143.4 142.8,143.4 143.4,143.4 144.0,143.3 144.6,143.3 145.2,143.3 145.8,143.2 146.4,143.3 147.0,143.3 147.6,143.3 148.2,143.3 148.8,143.3 149.4,143.3 150.0,143.3 150.6,143.3 151.2,143.3 151.8,143.3 152.4,143.3 153.0,143.4 153.6,143.4 154.2,143.4 154.8,143.4 155.4,143.4 156.0,143.4 156.6,143.4 157.3,143.4 157.9,143.4 158.5,143.4 159.1,143.4 159.7,143.4 160.3,143.4 160.9,143.4 161.5,143.4 162.1,143.4 162.7,143.4 163.3,143.4 163.9,143.4 164.5,143.4 165.1,143.4 165.7,143.4 166.3,143.4 166.9,143.4 167.5,143.4 168.1,143.4 168.7,143.4 169.3,143.3 169.9,143.3 170.5,143.3 171.1,143.3 171.7,143.3 172.3,143.3 172.9,143.3 173.5,143.3 174.1,143.3 174.7,143.3 175.3,143.2 176.0,143.2 176.6,143.2 177.2,143.2 177.8,143.2 178.4,143.2 179.0,143.2 179.6,143.2 180.2,143.1 180.8,143.1 181.4,143.1 182.0,143.1 182.6,143.1 183.2,143.1 183.8,143.1 184.4,143.0 185.0,143.0 185.6,143.0 186.2,143.0 186.8,143.0 187.4,143.0 188.0,142.9 188.6,142.9 189.2,142.9 189.8,142.9 190.4,142.9 191.0,142.8 191.6,142.8 191.6,138.8 191.0,138.8 190.4,138.7 189.8,138.7 189.2,138.7 188.6,138.7 188.0,138.6 187.4,138.6 186.8,138.6 186.2,138.6 185.6,138.5 185.0,138.5 184.4,138.5 183.8,138.4 183.2,138.4 182.6,138.4 182.0,138.3 181.4,138.3 180.8,138.3 180.2,138.2 179.6,138.2 179.0,138.2 178.4,138.1 177.8,138.1 177.2,138.1 176.6,138.0 176.0,138.0 175.5,138.0 174.9,137.9 174.3,137.9 173.7,137.9 173.1,137.8 172.5,137.8 171.9,137.8 171.3,137.7 170.7,137.7 170.1,137.7 169.5,137.6 168.9,137.6 168.3,137.6 167.7,137.5 167.1,137.5 166.5,137.4 165.9,137.4 165.3,137.4 164.7,137.3 164.1,137.3 163.5,137.2 162.9,137.2 162.3,137.1 161.7,137.1 161.1,137.1 160.5,137.0 159.9,137.0 159.3,136.9 158.7,136.9 158.1,136.8 157.5,136.8 157.0,136.7 156.4,136.7 155.8,136.6 155.2,136.6 154.6,136.5 154.0,136.5 153.4,136.4 152.8,136.4 152.2,136.3 151.6,136.3 151.0,136.2 150.4,136.1 149.8,136.1 149.2,136.0 148.6,136.0 148.0,135.9 147.4,135.9 146.8,135.8 146.2,135.8 145.6,135.7 145.0,135.6 144.4,135.5 143.8,135.4 143.2,135.3 142.7,135.2 142.1,135.1 141.5,135.0 140.9,134.9 140.3,134.8 139.7,134.7 139.1,134.5 138.6,134.4 138.0,134.3 137.4,134.2 136.8,134.1 136.3,134.0 135.7,133.9 135.1,133.7 134.5,133.6 134.0,133.5 133.4,133.4 132.9,133.2 132.4,133.1 131.9,132.9 131.4,132.8 130.9,132.6 130.4,132.4 129.9,132.3 129.3,132.1 128.8,131.9 128.3,131.7 127.7,131.5 127.2,131.2 126.6,131.0 126.1,130.8 125.5,130.6 124.9,130.3 124.4,130.1 123.8,129.9 123.2,129.6 122.6,129.4 122.0,129.1 121.4,128.9 120.8,128.7 120.3,128.5 119.7,128.3 119.1,128.1 118.6,127.8 118.0,127.6 117.5,127.4 116.9,127.2 116.4,127.0 115.9,126.7 115.4,126.5 114.9,126.3 114.3,126.0 113.8,125.8 113.3,125.5 112.8,125.3 112.4,125.0 111.9,124.8 111.5,124.5 111.1,124.2 110.7,124.0 110.2,123.7 109.8,123.3 109.3,123.0 108.8,122.6 108.3,122.2 107.8,121.8 107.3,121.4 106.8,121.0 106.3,120.6 105.8,120.1 105.2,119.6 104.7,119.2 104.1,118.7 103.5,118.3 102.9,117.8 102.3,117.4 101.7,116.9 101.0,116.4 100.4,116.0 99.8,115.5 99.2,115.1 98.6,114.6 98.0,114.2 97.5,113.8 96.9,113.3 96.3,112.9 95.7,112.4 95.1,112.0 94.5,111.5 94.0,111.0 93.4,110.6 92.8,110.1 92.2,109.6 91.6,109.1 91.0,108.7 90.5,108.2 89.9,107.7 89.3,107.2 88.7,106.7 88.1,106.2 87.6,105.7 87.0,105.2 86.4,104.7 85.8,104.1 85.3,103.6 84.7,103.1 84.1,102.5 83.5,102.0 83.0,101.4 82.4,100.9 81.9,100.3 81.3,99.7 80.7,99.1 80.1,98.5 79.5,97.9 78.9,97.2 78.3,96.6 77.7,95.9 77.0,95.4 76.3,94.9 75.6,94.3 74.9,93.8 74.2,93.2 73.5,92.6 72.8,92.1 72.1,91.5 71.3,90.9 70.6,90.4 69.8,89.8 69.0,89.2 68.3,88.7 67.6,88.3 66.9,87.9 66.3,87.5 65.7,87.1 65.1,86.7 64.6,86.3 64.0,85.9 63.3,85.3 62.5,84.6 61.5,83.9 60.5,83.1 59.5,82.5 58.6,82.0 57.7,81.6 56.8,81.3" fill="#f8b440" opacity="1.0" stroke="#f8b440" stroke-width="0.6" stroke-linejoin="round"/>
<path d="M44.0 139.1V145.6M43.2 139.1h1.6M43.2 145.6h1.6M45.2 139.5V144.8M44.4 139.5h1.6M44.4 144.8h1.6M46.4 143.2V147.4M45.6 143.2h1.6M45.6 147.4h1.6M47.6 141.2V145.1M46.8 141.2h1.6M46.8 145.1h1.6M48.8 141.1V146.2M48.0 141.1h1.6M48.0 146.2h1.6M50.0 141.2V144.4M49.2 141.2h1.6M49.2 144.4h1.6M56.0 79.0V83.7M55.2 79.0h1.6M55.2 83.7h1.6M57.2 81.7V88.0M56.4 81.7h1.6M56.4 88.0h1.6M58.4 81.8V88.2M57.6 81.8h1.6M57.6 88.2h1.6M59.6 82.1V87.2M58.8 82.1h1.6M58.8 87.2h1.6M60.8 86.0V90.9M60.0 86.0h1.6M60.0 90.9h1.6M62.0 86.6V90.7M61.2 86.6h1.6M61.2 90.7h1.6M63.2 87.2V92.3M62.4 87.2h1.6M62.4 92.3h1.6M64.4 88.3V93.0M63.6 88.3h1.6M63.6 93.0h1.6M65.6 87.8V93.2M64.8 87.8h1.6M64.8 93.2h1.6M66.8 88.4V94.9M66.0 88.4h1.6M66.0 94.9h1.6M68.0 91.0V96.8M67.2 91.0h1.6M67.2 96.8h1.6M69.2 92.4V95.8M68.4 92.4h1.6M68.4 95.8h1.6M70.4 92.3V95.9M69.6 92.3h1.6M69.6 95.9h1.6M71.6 95.6V101.2M70.8 95.6h1.6M70.8 101.2h1.6M72.8 93.7V100.3M72.0 93.7h1.6M72.0 100.3h1.6M74.0 95.2V100.4M73.2 95.2h1.6M73.2 100.4h1.6M75.2 95.9V102.0M74.4 95.9h1.6M74.4 102.0h1.6M76.4 99.7V103.7M75.6 99.7h1.6M75.6 103.7h1.6M77.6 101.4V105.2M76.8 101.4h1.6M76.8 105.2h1.6M78.8 100.3V106.9M78.0 100.3h1.6M78.0 106.9h1.6M80.0 102.3V108.6M79.2 102.3h1.6M79.2 108.6h1.6M81.2 101.6V106.2M80.4 101.6h1.6M80.4 106.2h1.6M82.4 103.2V109.3M81.6 103.2h1.6M81.6 109.3h1.6M83.6 104.5V109.9M82.8 104.5h1.6M82.8 109.9h1.6M84.8 105.8V111.7M84.0 105.8h1.6M84.0 111.7h1.6M86.0 107.8V112.9M85.2 107.8h1.6M85.2 112.9h1.6M87.2 105.8V111.3M86.4 105.8h1.6M86.4 111.3h1.6M88.4 112.0V118.5M87.6 112.0h1.6M87.6 118.5h1.6M89.6 109.5V114.1M88.8 109.5h1.6M88.8 114.1h1.6M90.8 111.3V117.0M90.0 111.3h1.6M90.0 117.0h1.6M92.0 112.3V118.9M91.2 112.3h1.6M91.2 118.9h1.6M93.2 115.1V118.1M92.4 115.1h1.6M92.4 118.1h1.6M94.4 114.9V118.8M93.6 114.9h1.6M93.6 118.8h1.6M95.6 112.2V116.5M94.8 112.2h1.6M94.8 116.5h1.6M96.8 114.8V119.9M96.0 114.8h1.6M96.0 119.9h1.6M98.0 118.0V122.6M97.2 118.0h1.6M97.2 122.6h1.6M99.2 116.2V122.7M98.4 116.2h1.6M98.4 122.7h1.6M100.4 118.5V122.1M99.6 118.5h1.6M99.6 122.1h1.6M101.6 117.8V121.9M100.8 117.8h1.6M100.8 121.9h1.6M102.8 123.1V126.3M102.0 123.1h1.6M102.0 126.3h1.6M104.0 123.1V126.7M103.2 123.1h1.6M103.2 126.7h1.6M105.2 121.6V126.8M104.4 121.6h1.6M104.4 126.8h1.6M106.4 124.3V127.4M105.6 124.3h1.6M105.6 127.4h1.6M107.6 123.4V129.9M106.8 123.4h1.6M106.8 129.9h1.6M108.8 123.3V129.1M108.0 123.3h1.6M108.0 129.1h1.6M110.0 126.1V129.3M109.2 126.1h1.6M109.2 129.3h1.6M111.2 125.9V131.9M110.4 125.9h1.6M110.4 131.9h1.6M112.4 128.1V131.4M111.6 128.1h1.6M111.6 131.4h1.6M113.6 128.6V133.5M112.8 128.6h1.6M112.8 133.5h1.6M114.8 128.3V132.0M114.0 128.3h1.6M114.0 132.0h1.6M116.0 128.3V131.9M115.2 128.3h1.6M115.2 131.9h1.6M117.2 129.0V133.9M116.4 129.0h1.6M116.4 133.9h1.6M118.4 127.6V133.9M117.6 127.6h1.6M117.6 133.9h1.6M119.6 128.9V132.1M118.8 128.9h1.6M118.8 132.1h1.6M120.8 131.7V135.4M120.0 131.7h1.6M120.0 135.4h1.6M122.0 129.9V134.7M121.2 129.9h1.6M121.2 134.7h1.6M123.2 130.0V136.5M122.4 130.0h1.6M122.4 136.5h1.6M124.4 132.1V136.4M123.6 132.1h1.6M123.6 136.4h1.6M125.6 129.6V135.8M124.8 129.6h1.6M124.8 135.8h1.6M126.8 132.5V137.5M126.0 132.5h1.6M126.0 137.5h1.6M128.0 132.9V137.5M127.2 132.9h1.6M127.2 137.5h1.6M129.2 132.0V137.8M128.4 132.0h1.6M128.4 137.8h1.6M130.4 134.0V137.6M129.6 134.0h1.6M129.6 137.6h1.6M131.6 132.4V137.3M130.8 132.4h1.6M130.8 137.3h1.6M132.8 132.0V135.1M132.0 132.0h1.6M132.0 135.1h1.6M134.0 133.5V138.4M133.2 133.5h1.6M133.2 138.4h1.6M135.2 132.2V138.9M134.4 132.2h1.6M134.4 138.9h1.6M136.4 136.1V139.3M135.6 136.1h1.6M135.6 139.3h1.6M137.6 135.7V138.9M136.8 135.7h1.6M136.8 138.9h1.6M138.8 134.1V139.2M138.0 134.1h1.6M138.0 139.2h1.6M140.0 134.3V140.8M139.2 134.3h1.6M139.2 140.8h1.6M141.2 136.7V141.7M140.4 136.7h1.6M140.4 141.7h1.6M142.4 135.8V142.4M141.6 135.8h1.6M141.6 142.4h1.6M143.6 136.4V140.5M142.8 136.4h1.6M142.8 140.5h1.6M144.8 135.3V142.0M144.0 135.3h1.6M144.0 142.0h1.6M146.0 136.2V139.9M145.2 136.2h1.6M145.2 139.9h1.6M147.2 135.4V141.2M146.4 135.4h1.6M146.4 141.2h1.6M148.4 137.1V141.3M147.6 137.1h1.6M147.6 141.3h1.6M149.6 135.5V141.6M148.8 135.5h1.6M148.8 141.6h1.6M150.8 137.6V140.6M150.0 137.6h1.6M150.0 140.6h1.6M152.0 135.6V139.7M151.2 135.6h1.6M151.2 139.7h1.6M153.2 133.9V140.3M152.4 133.9h1.6M152.4 140.3h1.6M154.4 134.2V140.1M153.6 134.2h1.6M153.6 140.1h1.6M155.6 136.3V141.0M154.8 136.3h1.6M154.8 141.0h1.6M156.8 138.5V142.8M156.0 138.5h1.6M156.0 142.8h1.6M158.0 137.3V143.8M157.2 137.3h1.6M157.2 143.8h1.6M159.2 136.4V140.0M158.4 136.4h1.6M158.4 140.0h1.6M160.4 135.9V139.5M159.6 135.9h1.6M159.6 139.5h1.6M161.6 138.8V141.9M160.8 138.8h1.6M160.8 141.9h1.6M162.8 137.3V142.8M162.0 137.3h1.6M162.0 142.8h1.6M164.0 134.9V141.3M163.2 134.9h1.6M163.2 141.3h1.6M165.2 139.1V142.5M164.4 139.1h1.6M164.4 142.5h1.6M166.4 137.0V142.8M165.6 137.0h1.6M165.6 142.8h1.6M167.6 138.3V144.1M166.8 138.3h1.6M166.8 144.1h1.6M168.8 138.3V142.0M168.0 138.3h1.6M168.0 142.0h1.6M170.0 138.4V143.2M169.2 138.4h1.6M169.2 143.2h1.6M171.2 137.7V142.8M170.4 137.7h1.6M170.4 142.8h1.6M172.4 137.3V140.4M171.6 137.3h1.6M171.6 140.4h1.6M173.6 136.4V142.9M172.8 136.4h1.6M172.8 142.9h1.6M174.8 137.5V140.9M174.0 137.5h1.6M174.0 140.9h1.6M176.0 139.2V142.6M175.2 139.2h1.6M175.2 142.6h1.6M177.2 136.2V141.7M176.4 136.2h1.6M176.4 141.7h1.6M178.4 136.0V140.8M177.6 136.0h1.6M177.6 140.8h1.6M179.6 137.9V143.8M178.8 137.9h1.6M178.8 143.8h1.6M180.8 138.7V144.1M180.0 138.7h1.6M180.0 144.1h1.6M182.0 140.1V143.4M181.2 140.1h1.6M181.2 143.4h1.6M183.2 139.1V143.7M182.4 139.1h1.6M182.4 143.7h1.6M184.4 135.2V141.9M183.6 135.2h1.6M183.6 141.9h1.6M185.6 137.4V141.5M184.8 137.4h1.6M184.8 141.5h1.6M186.8 137.9V141.5M186.0 137.9h1.6M186.0 141.5h1.6M188.0 137.1V143.4M187.2 137.1h1.6M187.2 143.4h1.6M189.2 136.3V139.5M188.4 136.3h1.6M188.4 139.5h1.6M190.4 138.1V142.5M189.6 138.1h1.6M189.6 142.5h1.6M191.6 137.3V144.0M190.8 137.3h1.6M190.8 144.0h1.6" stroke="#f8c868" stroke-width="0.6" fill="none" opacity="1.0"/>
<path d="M50.0 142.8L56.0 81.4" stroke="#f5a030" stroke-width="1.6" fill="none"/>
<polyline points="44.0,142.4 45.2,142.2 46.4,145.3 47.6,143.1 48.8,143.7 50.0,142.8" stroke="#f6a21e" stroke-width="1.6" fill="none" stroke-linejoin="round" opacity="1.0"/>
<polyline points="56.0,81.4 57.2,84.8 58.4,85.0 59.6,84.6 60.8,88.5 62.0,88.6 63.2,89.7 64.4,90.7 65.6,90.5 66.8,91.7 68.0,93.9 69.2,94.1 70.4,94.1 71.6,98.4 72.8,97.0 74.0,97.8 75.2,98.9 76.4,101.7 77.6,103.3 78.8,103.6 80.0,105.4 81.2,103.9 82.4,106.3 83.6,107.2 84.8,108.8 86.0,110.3 87.2,108.6 88.4,115.2 89.6,111.8 90.8,114.1 92.0,115.6 93.2,116.6 94.4,116.9 95.6,114.3 96.8,117.3 98.0,120.3 99.2,119.5 100.4,120.3 101.6,119.9 102.8,124.7 104.0,124.9 105.2,124.2 106.4,125.9 107.6,126.6 108.8,126.2 110.0,127.7 111.2,128.9 112.4,129.8 113.6,131.0 114.8,130.2 116.0,130.1 117.2,131.5 118.4,130.8 119.6,130.5 120.8,133.6 122.0,132.3 123.2,133.3 124.4,134.3 125.6,132.7 126.8,135.0 128.0,135.2 129.2,134.9 130.4,135.8 131.6,134.9 132.8,133.5 134.0,135.9 135.2,135.5 136.4,137.7 137.6,137.3 138.8,136.7 140.0,137.5 141.2,139.2 142.4,139.1 143.6,138.4 144.8,138.7 146.0,138.0 147.2,138.3 148.4,139.2 149.6,138.5 150.8,139.1 152.0,137.6 153.2,137.1 154.4,137.2 155.6,138.6 156.8,140.6 158.0,140.6 159.2,138.2 160.4,137.7 161.6,140.3 162.8,140.0 164.0,138.1 165.2,140.8 166.4,139.9 167.6,141.2 168.8,140.2 170.0,140.8 171.2,140.2 172.4,138.8 173.6,139.7 174.8,139.2 176.0,140.9 177.2,138.9 178.4,138.4 179.6,140.9 180.8,141.4 182.0,141.8 183.2,141.4 184.4,138.6 185.6,139.5 186.8,139.7 188.0,140.3 189.2,137.9 190.4,140.3 191.6,140.6" stroke="#f6a21e" stroke-width="1.6" fill="none" stroke-linejoin="round" opacity="1.0"/>
<path d="M43.0 142.4a1.0 1.0 0 1 0 2.0 0a1.0 1.0 0 1 0 -2.0 0M44.2 142.2a1.0 1.0 0 1 0 2.0 0a1.0 1.0 0 1 0 -2.0 0M45.4 145.3a1.0 1.0 0 1 0 2.0 0a1.0 1.0 0 1 0 -2.0 0M46.6 143.1a1.0 1.0 0 1 0 2.0 0a1.0 1.0 0 1 0 -2.0 0M47.8 143.7a1.0 1.0 0 1 0 2.0 0a1.0 1.0 0 1 0 -2.0 0M49.0 142.8a1.0 1.0 0 1 0 2.0 0a1.0 1.0 0 1 0 -2.0 0M55.0 81.4a1.0 1.0 0 1 0 2.0 0a1.0 1.0 0 1 0 -2.0 0M56.2 84.8a1.0 1.0 0 1 0 2.0 0a1.0 1.0 0 1 0 -2.0 0M57.4 85.0a1.0 1.0 0 1 0 2.0 0a1.0 1.0 0 1 0 -2.0 0M58.6 84.6a1.0 1.0 0 1 0 2.0 0a1.0 1.0 0 1 0 -2.0 0M59.8 88.5a1.0 1.0 0 1 0 2.0 0a1.0 1.0 0 1 0 -2.0 0M61.0 88.6a1.0 1.0 0 1 0 2.0 0a1.0 1.0 0 1 0 -2.0 0M62.2 89.7a1.0 1.0 0 1 0 2.0 0a1.0 1.0 0 1 0 -2.0 0M63.4 90.7a1.0 1.0 0 1 0 2.0 0a1.0 1.0 0 1 0 -2.0 0M64.6 90.5a1.0 1.0 0 1 0 2.0 0a1.0 1.0 0 1 0 -2.0 0M65.8 91.7a1.0 1.0 0 1 0 2.0 0a1.0 1.0 0 1 0 -2.0 0M67.0 93.9a1.0 1.0 0 1 0 2.0 0a1.0 1.0 0 1 0 -2.0 0M68.2 94.1a1.0 1.0 0 1 0 2.0 0a1.0 1.0 0 1 0 -2.0 0M69.4 94.1a1.0 1.0 0 1 0 2.0 0a1.0 1.0 0 1 0 -2.0 0M70.6 98.4a1.0 1.0 0 1 0 2.0 0a1.0 1.0 0 1 0 -2.0 0M71.8 97.0a1.0 1.0 0 1 0 2.0 0a1.0 1.0 0 1 0 -2.0 0M73.0 97.8a1.0 1.0 0 1 0 2.0 0a1.0 1.0 0 1 0 -2.0 0M74.2 98.9a1.0 1.0 0 1 0 2.0 0a1.0 1.0 0 1 0 -2.0 0M75.4 101.7a1.0 1.0 0 1 0 2.0 0a1.0 1.0 0 1 0 -2.0 0M76.6 103.3a1.0 1.0 0 1 0 2.0 0a1.0 1.0 0 1 0 -2.0 0M77.8 103.6a1.0 1.0 0 1 0 2.0 0a1.0 1.0 0 1 0 -2.0 0M79.0 105.4a1.0 1.0 0 1 0 2.0 0a1.0 1.0 0 1 0 -2.0 0M80.2 103.9a1.0 1.0 0 1 0 2.0 0a1.0 1.0 0 1 0 -2.0 0M81.4 106.3a1.0 1.0 0 1 0 2.0 0a1.0 1.0 0 1 0 -2.0 0M82.6 107.2a1.0 1.0 0 1 0 2.0 0a1.0 1.0 0 1 0 -2.0 0M83.8 108.8a1.0 1.0 0 1 0 2.0 0a1.0 1.0 0 1 0 -2.0 0M85.0 110.3a1.0 1.0 0 1 0 2.0 0a1.0 1.0 0 1 0 -2.0 0M86.2 108.6a1.0 1.0 0 1 0 2.0 0a1.0 1.0 0 1 0 -2.0 0M87.4 115.2a1.0 1.0 0 1 0 2.0 0a1.0 1.0 0 1 0 -2.0 0M88.6 111.8a1.0 1.0 0 1 0 2.0 0a1.0 1.0 0 1 0 -2.0 0M89.8 114.1a1.0 1.0 0 1 0 2.0 0a1.0 1.0 0 1 0 -2.0 0M91.0 115.6a1.0 1.0 0 1 0 2.0 0a1.0 1.0 0 1 0 -2.0 0M92.2 116.6a1.0 1.0 0 1 0 2.0 0a1.0 1.0 0 1 0 -2.0 0M93.4 116.9a1.0 1.0 0 1 0 2.0 0a1.0 1.0 0 1 0 -2.0 0M94.6 114.3a1.0 1.0 0 1 0 2.0 0a1.0 1.0 0 1 0 -2.0 0M95.8 117.3a1.0 1.0 0 1 0 2.0 0a1.0 1.0 0 1 0 -2.0 0M97.0 120.3a1.0 1.0 0 1 0 2.0 0a1.0 1.0 0 1 0 -2.0 0M98.2 119.5a1.0 1.0 0 1 0 2.0 0a1.0 1.0 0 1 0 -2.0 0M99.4 120.3a1.0 1.0 0 1 0 2.0 0a1.0 1.0 0 1 0 -2.0 0M100.6 119.9a1.0 1.0 0 1 0 2.0 0a1.0 1.0 0 1 0 -2.0 0M101.8 124.7a1.0 1.0 0 1 0 2.0 0a1.0 1.0 0 1 0 -2.0 0M103.0 124.9a1.0 1.0 0 1 0 2.0 0a1.0 1.0 0 1 0 -2.0 0M104.2 124.2a1.0 1.0 0 1 0 2.0 0a1.0 1.0 0 1 0 -2.0 0M105.4 125.9a1.0 1.0 0 1 0 2.0 0a1.0 1.0 0 1 0 -2.0 0M106.6 126.6a1.0 1.0 0 1 0 2.0 0a1.0 1.0 0 1 0 -2.0 0M107.8 126.2a1.0 1.0 0 1 0 2.0 0a1.0 1.0 0 1 0 -2.0 0M109.0 127.7a1.0 1.0 0 1 0 2.0 0a1.0 1.0 0 1 0 -2.0 0M110.2 128.9a1.0 1.0 0 1 0 2.0 0a1.0 1.0 0 1 0 -2.0 0M111.4 129.8a1.0 1.0 0 1 0 2.0 0a1.0 1.0 0 1 0 -2.0 0M112.6 131.0a1.0 1.0 0 1 0 2.0 0a1.0 1.0 0 1 0 -2.0 0M113.8 130.2a1.0 1.0 0 1 0 2.0 0a1.0 1.0 0 1 0 -2.0 0M115.0 130.1a1.0 1.0 0 1 0 2.0 0a1.0 1.0 0 1 0 -2.0 0M116.2 131.5a1.0 1.0 0 1 0 2.0 0a1.0 1.0 0 1 0 -2.0 0M117.4 130.8a1.0 1.0 0 1 0 2.0 0a1.0 1.0 0 1 0 -2.0 0M118.6 130.5a1.0 1.0 0 1 0 2.0 0a1.0 1.0 0 1 0 -2.0 0M119.8 133.6a1.0 1.0 0 1 0 2.0 0a1.0 1.0 0 1 0 -2.0 0M121.0 132.3a1.0 1.0 0 1 0 2.0 0a1.0 1.0 0 1 0 -2.0 0M122.2 133.3a1.0 1.0 0 1 0 2.0 0a1.0 1.0 0 1 0 -2.0 0M123.4 134.3a1.0 1.0 0 1 0 2.0 0a1.0 1.0 0 1 0 -2.0 0M124.6 132.7a1.0 1.0 0 1 0 2.0 0a1.0 1.0 0 1 0 -2.0 0M125.8 135.0a1.0 1.0 0 1 0 2.0 0a1.0 1.0 0 1 0 -2.0 0M127.0 135.2a1.0 1.0 0 1 0 2.0 0a1.0 1.0 0 1 0 -2.0 0M128.2 134.9a1.0 1.0 0 1 0 2.0 0a1.0 1.0 0 1 0 -2.0 0M129.4 135.8a1.0 1.0 0 1 0 2.0 0a1.0 1.0 0 1 0 -2.0 0M130.6 134.9a1.0 1.0 0 1 0 2.0 0a1.0 1.0 0 1 0 -2.0 0M131.8 133.5a1.0 1.0 0 1 0 2.0 0a1.0 1.0 0 1 0 -2.0 0M133.0 135.9a1.0 1.0 0 1 0 2.0 0a1.0 1.0 0 1 0 -2.0 0M134.2 135.5a1.0 1.0 0 1 0 2.0 0a1.0 1.0 0 1 0 -2.0 0M135.4 137.7a1.0 1.0 0 1 0 2.0 0a1.0 1.0 0 1 0 -2.0 0M136.6 137.3a1.0 1.0 0 1 0 2.0 0a1.0 1.0 0 1 0 -2.0 0M137.8 136.7a1.0 1.0 0 1 0 2.0 0a1.0 1.0 0 1 0 -2.0 0M139.0 137.5a1.0 1.0 0 1 0 2.0 0a1.0 1.0 0 1 0 -2.0 0M140.2 139.2a1.0 1.0 0 1 0 2.0 0a1.0 1.0 0 1 0 -2.0 0M141.4 139.1a1.0 1.0 0 1 0 2.0 0a1.0 1.0 0 1 0 -2.0 0M142.6 138.4a1.0 1.0 0 1 0 2.0 0a1.0 1.0 0 1 0 -2.0 0M143.8 138.7a1.0 1.0 0 1 0 2.0 0a1.0 1.0 0 1 0 -2.0 0M145.0 138.0a1.0 1.0 0 1 0 2.0 0a1.0 1.0 0 1 0 -2.0 0M146.2 138.3a1.0 1.0 0 1 0 2.0 0a1.0 1.0 0 1 0 -2.0 0M147.4 139.2a1.0 1.0 0 1 0 2.0 0a1.0 1.0 0 1 0 -2.0 0M148.6 138.5a1.0 1.0 0 1 0 2.0 0a1.0 1.0 0 1 0 -2.0 0M149.8 139.1a1.0 1.0 0 1 0 2.0 0a1.0 1.0 0 1 0 -2.0 0M151.0 137.6a1.0 1.0 0 1 0 2.0 0a1.0 1.0 0 1 0 -2.0 0M152.2 137.1a1.0 1.0 0 1 0 2.0 0a1.0 1.0 0 1 0 -2.0 0M153.4 137.2a1.0 1.0 0 1 0 2.0 0a1.0 1.0 0 1 0 -2.0 0M154.6 138.6a1.0 1.0 0 1 0 2.0 0a1.0 1.0 0 1 0 -2.0 0M155.8 140.6a1.0 1.0 0 1 0 2.0 0a1.0 1.0 0 1 0 -2.0 0M157.0 140.6a1.0 1.0 0 1 0 2.0 0a1.0 1.0 0 1 0 -2.0 0M158.2 138.2a1.0 1.0 0 1 0 2.0 0a1.0 1.0 0 1 0 -2.0 0M159.4 137.7a1.0 1.0 0 1 0 2.0 0a1.0 1.0 0 1 0 -2.0 0M160.6 140.3a1.0 1.0 0 1 0 2.0 0a1.0 1.0 0 1 0 -2.0 0M161.8 140.0a1.0 1.0 0 1 0 2.0 0a1.0 1.0 0 1 0 -2.0 0M163.0 138.1a1.0 1.0 0 1 0 2.0 0a1.0 1.0 0 1 0 -2.0 0M164.2 140.8a1.0 1.0 0 1 0 2.0 0a1.0 1.0 0 1 0 -2.0 0M165.4 139.9a1.0 1.0 0 1 0 2.0 0a1.0 1.0 0 1 0 -2.0 0M166.6 141.2a1.0 1.0 0 1 0 2.0 0a1.0 1.0 0 1 0 -2.0 0M167.8 140.2a1.0 1.0 0 1 0 2.0 0a1.0 1.0 0 1 0 -2.0 0M169.0 140.8a1.0 1.0 0 1 0 2.0 0a1.0 1.0 0 1 0 -2.0 0M170.2 140.2a1.0 1.0 0 1 0 2.0 0a1.0 1.0 0 1 0 -2.0 0M171.4 138.8a1.0 1.0 0 1 0 2.0 0a1.0 1.0 0 1 0 -2.0 0M172.6 139.7a1.0 1.0 0 1 0 2.0 0a1.0 1.0 0 1 0 -2.0 0M173.8 139.2a1.0 1.0 0 1 0 2.0 0a1.0 1.0 0 1 0 -2.0 0M175.0 140.9a1.0 1.0 0 1 0 2.0 0a1.0 1.0 0 1 0 -2.0 0M176.2 138.9a1.0 1.0 0 1 0 2.0 0a1.0 1.0 0 1 0 -2.0 0M177.4 138.4a1.0 1.0 0 1 0 2.0 0a1.0 1.0 0 1 0 -2.0 0M178.6 140.9a1.0 1.0 0 1 0 2.0 0a1.0 1.0 0 1 0 -2.0 0M179.8 141.4a1.0 1.0 0 1 0 2.0 0a1.0 1.0 0 1 0 -2.0 0M181.0 141.8a1.0 1.0 0 1 0 2.0 0a1.0 1.0 0 1 0 -2.0 0M182.2 141.4a1.0 1.0 0 1 0 2.0 0a1.0 1.0 0 1 0 -2.0 0M183.4 138.6a1.0 1.0 0 1 0 2.0 0a1.0 1.0 0 1 0 -2.0 0M184.6 139.5a1.0 1.0 0 1 0 2.0 0a1.0 1.0 0 1 0 -2.0 0M185.8 139.7a1.0 1.0 0 1 0 2.0 0a1.0 1.0 0 1 0 -2.0 0M187.0 140.3a1.0 1.0 0 1 0 2.0 0a1.0 1.0 0 1 0 -2.0 0M188.2 137.9a1.0 1.0 0 1 0 2.0 0a1.0 1.0 0 1 0 -2.0 0M189.4 140.3a1.0 1.0 0 1 0 2.0 0a1.0 1.0 0 1 0 -2.0 0M190.6 140.6a1.0 1.0 0 1 0 2.0 0a1.0 1.0 0 1 0 -2.0 0" fill="#f08a10" opacity="1.0"/>
<polyline points="62.0,67.2 63.2,70.3 64.4,73.4 65.6,76.5 66.8,79.3 68.0,81.6 69.2,83.6 70.4,85.4 71.6,87.1 72.8,88.7 74.0,90.2 75.2,91.6 76.4,92.9 77.6,94.1 78.8,95.2 80.0,96.3 81.2,97.3 82.4,98.4 83.6,99.4 84.8,100.5 86.0,101.5 87.2,102.6 88.4,103.6 89.6,104.6 90.8,105.6 92.0,106.6 93.2,107.6 94.4,108.6 95.6,109.6 96.8,110.6 98.0,111.5 99.2,112.4 100.4,113.3 101.6,114.1 102.8,114.9 104.0,115.7 105.2,116.4 106.4,117.2 107.6,117.9 108.8,118.6 110.0,119.3 111.2,120.0 112.4,120.7 113.6,121.4 114.8,122.1 116.0,122.8 117.2,123.5 118.4,124.2 119.6,124.8 120.8,125.4 122.0,126.0 123.2,126.6 124.4,127.2 125.6,127.7 126.8,128.3 128.0,128.8 129.2,129.4 130.4,129.9 131.6,130.4 132.8,130.9 134.0,131.4 135.2,131.9 136.4,132.4 137.6,132.9 138.8,133.3 140.0,133.8 141.2,134.2 142.4,134.7 143.6,135.1 144.8,135.5 146.0,135.9 147.2,136.2 148.4,136.6 149.6,136.9 150.8,137.2 152.0,137.6 153.2,137.9 154.4,138.2 155.6,138.5 156.8,138.8 158.0,139.1 159.2,139.4 160.4,139.7 161.6,139.9 162.8,140.2 164.0,140.4 165.2,140.7 166.4,140.9 167.6,141.1 168.8,141.3 170.0,141.5 171.2,141.7 172.4,141.9 173.6,142.0 174.8,142.2 176.0,142.4 177.2,142.5 178.4,142.7 179.6,142.8 180.8,143.0 182.0,143.1 183.2,143.3 184.4,143.4 185.6,143.5 186.8,143.6 188.0,143.7 189.2,143.8 190.4,143.9 191.6,144.0" fill="none" stroke="#f39a58" stroke-width="9" stroke-linejoin="round" stroke-linecap="round" opacity="1.0"/>
<path d="M44.0 142.9V147.2M43.2 142.9h1.6M43.2 147.2h1.6M45.2 141.4V145.3M44.4 141.4h1.6M44.4 145.3h1.6M46.4 141.9V149.2M45.6 141.9h1.6M45.6 149.2h1.6M47.6 141.1V148.8M46.8 141.1h1.6M46.8 148.8h1.6M48.8 140.1V145.9M48.0 140.1h1.6M48.0 145.9h1.6M50.0 140.6V147.2M49.2 140.6h1.6M49.2 147.2h1.6M56.0 57.2V60.6M55.2 57.2h1.6M55.2 60.6h1.6M57.2 53.7V59.2M56.4 53.7h1.6M56.4 59.2h1.6M58.4 55.3V59.0M57.6 55.3h1.6M57.6 59.0h1.6M59.6 56.0V59.9M58.8 56.0h1.6M58.8 59.9h1.6M60.8 59.7V63.3M60.0 59.7h1.6M60.0 63.3h1.6M62.0 58.9V64.6M61.2 58.9h1.6M61.2 64.6h1.6M63.2 64.2V70.2M62.4 64.2h1.6M62.4 70.2h1.6M64.4 68.8V74.1M63.6 68.8h1.6M63.6 74.1h1.6M65.6 70.5V77.1M64.8 70.5h1.6M64.8 77.1h1.6M66.8 74.0V77.7M66.0 74.0h1.6M66.0 77.7h1.6M68.0 76.6V81.0M67.2 76.6h1.6M67.2 81.0h1.6M69.2 77.0V81.2M68.4 77.0h1.6M68.4 81.2h1.6M70.4 78.2V83.8M69.6 78.2h1.6M69.6 83.8h1.6M71.6 79.8V86.7M70.8 79.8h1.6M70.8 86.7h1.6M72.8 83.0V87.1M72.0 83.0h1.6M72.0 87.1h1.6M74.0 84.2V91.6M73.2 84.2h1.6M73.2 91.6h1.6M75.2 84.6V89.5M74.4 84.6h1.6M74.4 89.5h1.6M76.4 88.5V92.7M75.6 88.5h1.6M75.6 92.7h1.6M77.6 86.5V91.0M76.8 86.5h1.6M76.8 91.0h1.6M78.8 87.4V94.2M78.0 87.4h1.6M78.0 94.2h1.6M80.0 91.1V94.5M79.2 91.1h1.6M79.2 94.5h1.6M81.2 92.6V97.9M80.4 92.6h1.6M80.4 97.9h1.6M82.4 91.9V96.5M81.6 91.9h1.6M81.6 96.5h1.6M83.6 90.5V96.3M82.8 90.5h1.6M82.8 96.3h1.6M84.8 95.0V100.1M84.0 95.0h1.6M84.0 100.1h1.6M86.0 96.2V99.9M85.2 96.2h1.6M85.2 99.9h1.6M87.2 95.8V99.8M86.4 95.8h1.6M86.4 99.8h1.6M88.4 95.0V102.7M87.6 95.0h1.6M87.6 102.7h1.6M89.6 97.4V103.2M88.8 97.4h1.6M88.8 103.2h1.6M90.8 98.5V106.0M90.0 98.5h1.6M90.0 106.0h1.6M92.0 100.1V107.8M91.2 100.1h1.6M91.2 107.8h1.6M93.2 99.3V105.4M92.4 99.3h1.6M92.4 105.4h1.6M94.4 104.2V111.6M93.6 104.2h1.6M93.6 111.6h1.6M95.6 103.5V108.7M94.8 103.5h1.6M94.8 108.7h1.6M96.8 104.3V109.0M96.0 104.3h1.6M96.0 109.0h1.6M98.0 105.4V112.4M97.2 105.4h1.6M97.2 112.4h1.6M99.2 106.7V111.5M98.4 106.7h1.6M98.4 111.5h1.6M100.4 110.4V114.9M99.6 110.4h1.6M99.6 114.9h1.6M101.6 109.2V114.7M100.8 109.2h1.6M100.8 114.7h1.6M102.8 108.4V113.6M102.0 108.4h1.6M102.0 113.6h1.6M104.0 107.9V115.6M103.2 107.9h1.6M103.2 115.6h1.6M105.2 108.7V116.1M104.4 108.7h1.6M104.4 116.1h1.6M106.4 110.0V116.6M105.6 110.0h1.6M105.6 116.6h1.6M107.6 111.6V118.9M106.8 111.6h1.6M106.8 118.9h1.6M108.8 112.1V116.6M108.0 112.1h1.6M108.0 116.6h1.6M110.0 115.5V120.1M109.2 115.5h1.6M109.2 120.1h1.6M111.2 114.0V118.9M110.4 114.0h1.6M110.4 118.9h1.6M112.4 114.1V120.1M111.6 114.1h1.6M111.6 120.1h1.6M113.6 117.4V120.9M112.8 117.4h1.6M112.8 120.9h1.6M114.8 114.4V118.2M114.0 114.4h1.6M114.0 118.2h1.6M116.0 116.0V120.5M115.2 116.0h1.6M115.2 120.5h1.6M117.2 118.9V122.7M116.4 118.9h1.6M116.4 122.7h1.6M118.4 118.5V123.0M117.6 118.5h1.6M117.6 123.0h1.6M119.6 119.4V123.2M118.8 119.4h1.6M118.8 123.2h1.6M120.8 120.1V124.8M120.0 120.1h1.6M120.0 124.8h1.6M122.0 119.2V124.5M121.2 119.2h1.6M121.2 124.5h1.6M123.2 120.0V125.8M122.4 120.0h1.6M122.4 125.8h1.6M124.4 118.6V125.6M123.6 118.6h1.6M123.6 125.6h1.6M125.6 119.7V124.4M124.8 119.7h1.6M124.8 124.4h1.6M126.8 123.8V128.9M126.0 123.8h1.6M126.0 128.9h1.6M128.0 120.7V127.9M127.2 120.7h1.6M127.2 127.9h1.6M129.2 123.4V126.8M128.4 123.4h1.6M128.4 126.8h1.6M130.4 125.3V131.0M129.6 125.3h1.6M129.6 131.0h1.6M131.6 126.3V130.2M130.8 126.3h1.6M130.8 130.2h1.6M132.8 125.1V128.5M132.0 125.1h1.6M132.0 128.5h1.6M134.0 123.7V131.0M133.2 123.7h1.6M133.2 131.0h1.6M135.2 125.2V131.5M134.4 125.2h1.6M134.4 131.5h1.6M136.4 125.1V130.5M135.6 125.1h1.6M135.6 130.5h1.6M137.6 126.6V133.6M136.8 126.6h1.6M136.8 133.6h1.6M138.8 126.2V133.9M138.0 126.2h1.6M138.0 133.9h1.6M140.0 127.5V133.5M139.2 127.5h1.6M139.2 133.5h1.6M141.2 129.0V134.4M140.4 129.0h1.6M140.4 134.4h1.6M142.4 130.4V133.8M141.6 130.4h1.6M141.6 133.8h1.6M143.6 130.0V137.6M142.8 130.0h1.6M142.8 137.6h1.6M144.8 130.4V137.3M144.0 130.4h1.6M144.0 137.3h1.6M146.0 128.4V132.3M145.2 128.4h1.6M145.2 132.3h1.6M147.2 131.1V136.5M146.4 131.1h1.6M146.4 136.5h1.6M148.4 129.5V134.0M147.6 129.5h1.6M147.6 134.0h1.6M149.6 127.9V135.5M148.8 127.9h1.6M148.8 135.5h1.6M150.8 132.3V137.0M150.0 132.3h1.6M150.0 137.0h1.6M152.0 131.3V135.3M151.2 131.3h1.6M151.2 135.3h1.6M153.2 130.4V137.7M152.4 130.4h1.6M152.4 137.7h1.6M154.4 133.7V138.4M153.6 133.7h1.6M153.6 138.4h1.6M155.6 132.3V136.2M154.8 132.3h1.6M154.8 136.2h1.6M156.8 132.5V136.1M156.0 132.5h1.6M156.0 136.1h1.6M158.0 134.0V138.1M157.2 134.0h1.6M157.2 138.1h1.6M159.2 134.7V140.1M158.4 134.7h1.6M158.4 140.1h1.6M160.4 134.6V139.1M159.6 134.6h1.6M159.6 139.1h1.6M161.6 131.4V137.8M160.8 131.4h1.6M160.8 137.8h1.6M162.8 132.3V139.6M162.0 132.3h1.6M162.0 139.6h1.6M164.0 134.8V138.8M163.2 134.8h1.6M163.2 138.8h1.6M165.2 137.8V141.3M164.4 137.8h1.6M164.4 141.3h1.6M166.4 135.1V141.9M165.6 135.1h1.6M165.6 141.9h1.6M167.6 135.5V141.8M166.8 135.5h1.6M166.8 141.8h1.6M168.8 135.7V142.9M168.0 135.7h1.6M168.0 142.9h1.6M170.0 135.7V139.6M169.2 135.7h1.6M169.2 139.6h1.6M171.2 135.6V142.0M170.4 135.6h1.6M170.4 142.0h1.6M172.4 136.7V141.3M171.6 136.7h1.6M171.6 141.3h1.6M173.6 135.3V139.5M172.8 135.3h1.6M172.8 139.5h1.6M174.8 136.2V141.3M174.0 136.2h1.6M174.0 141.3h1.6M176.0 136.0V143.2M175.2 136.0h1.6M175.2 143.2h1.6M177.2 134.3V141.3M176.4 134.3h1.6M176.4 141.3h1.6M178.4 136.7V143.8M177.6 136.7h1.6M177.6 143.8h1.6M179.6 138.1V142.5M178.8 138.1h1.6M178.8 142.5h1.6M180.8 138.1V143.5M180.0 138.1h1.6M180.0 143.5h1.6M182.0 136.7V140.8M181.2 136.7h1.6M181.2 140.8h1.6M183.2 137.8V142.1M182.4 137.8h1.6M182.4 142.1h1.6M184.4 138.1V145.3M183.6 138.1h1.6M183.6 145.3h1.6M185.6 139.1V142.9M184.8 139.1h1.6M184.8 142.9h1.6M186.8 135.5V143.0M186.0 135.5h1.6M186.0 143.0h1.6M188.0 136.7V144.4M187.2 136.7h1.6M187.2 144.4h1.6M189.2 139.4V144.7M188.4 139.4h1.6M188.4 144.7h1.6M190.4 137.3V143.4M189.6 137.3h1.6M189.6 143.4h1.6M191.6 137.1V144.8M190.8 137.1h1.6M190.8 144.8h1.6" stroke="#f4a070" stroke-width="0.6" fill="none" opacity="1.0"/>
<path d="M50.0 143.9L56.0 58.9" stroke="#f09050" stroke-width="1.2" fill="none"/>
<polyline points="44.0,145.1 45.2,143.3 46.4,145.5 47.6,145.0 48.8,143.0 50.0,143.9" stroke="#f28a3c" stroke-width="1.4" fill="none" stroke-linejoin="round" opacity="1.0"/>
<polyline points="56.0,58.9 57.2,56.5 58.4,57.2 59.6,57.9 60.8,61.5 62.0,61.8 63.2,67.2 64.4,71.5 65.6,73.8 66.8,75.8 68.0,78.8 69.2,79.1 70.4,81.0 71.6,83.2 72.8,85.1 74.0,87.9 75.2,87.0 76.4,90.6 77.6,88.7 78.8,90.8 80.0,92.8 81.2,95.3 82.4,94.2 83.6,93.4 84.8,97.5 86.0,98.0 87.2,97.8 88.4,98.9 89.6,100.3 90.8,102.3 92.0,103.9 93.2,102.4 94.4,107.9 95.6,106.1 96.8,106.7 98.0,108.9 99.2,109.1 100.4,112.6 101.6,112.0 102.8,111.0 104.0,111.8 105.2,112.4 106.4,113.3 107.6,115.3 108.8,114.4 110.0,117.8 111.2,116.5 112.4,117.1 113.6,119.1 114.8,116.3 116.0,118.3 117.2,120.8 118.4,120.7 119.6,121.3 120.8,122.4 122.0,121.8 123.2,122.9 124.4,122.1 125.6,122.0 126.8,126.4 128.0,124.3 129.2,125.1 130.4,128.1 131.6,128.2 132.8,126.8 134.0,127.3 135.2,128.4 136.4,127.8 137.6,130.1 138.8,130.1 140.0,130.5 141.2,131.7 142.4,132.1 143.6,133.8 144.8,133.8 146.0,130.3 147.2,133.8 148.4,131.8 149.6,131.7 150.8,134.6 152.0,133.3 153.2,134.0 154.4,136.0 155.6,134.3 156.8,134.3 158.0,136.0 159.2,137.4 160.4,136.8 161.6,134.6 162.8,136.0 164.0,136.8 165.2,139.5 166.4,138.5 167.6,138.7 168.8,139.3 170.0,137.7 171.2,138.8 172.4,139.0 173.6,137.4 174.8,138.7 176.0,139.6 177.2,137.8 178.4,140.2 179.6,140.3 180.8,140.8 182.0,138.7 183.2,139.9 184.4,141.7 185.6,141.0 186.8,139.2 188.0,140.5 189.2,142.1 190.4,140.4 191.6,141.0" stroke="#f28a3c" stroke-width="1.4" fill="none" stroke-linejoin="round" opacity="1.0"/>
<path d="M43.0 145.1a1.0 1.0 0 1 0 2.0 0a1.0 1.0 0 1 0 -2.0 0M44.2 143.3a1.0 1.0 0 1 0 2.0 0a1.0 1.0 0 1 0 -2.0 0M45.4 145.5a1.0 1.0 0 1 0 2.0 0a1.0 1.0 0 1 0 -2.0 0M46.6 145.0a1.0 1.0 0 1 0 2.0 0a1.0 1.0 0 1 0 -2.0 0M47.8 143.0a1.0 1.0 0 1 0 2.0 0a1.0 1.0 0 1 0 -2.0 0M49.0 143.9a1.0 1.0 0 1 0 2.0 0a1.0 1.0 0 1 0 -2.0 0M55.0 58.9a1.0 1.0 0 1 0 2.0 0a1.0 1.0 0 1 0 -2.0 0M56.2 56.5a1.0 1.0 0 1 0 2.0 0a1.0 1.0 0 1 0 -2.0 0M57.4 57.2a1.0 1.0 0 1 0 2.0 0a1.0 1.0 0 1 0 -2.0 0M58.6 57.9a1.0 1.0 0 1 0 2.0 0a1.0 1.0 0 1 0 -2.0 0M59.8 61.5a1.0 1.0 0 1 0 2.0 0a1.0 1.0 0 1 0 -2.0 0M61.0 61.8a1.0 1.0 0 1 0 2.0 0a1.0 1.0 0 1 0 -2.0 0M62.2 67.2a1.0 1.0 0 1 0 2.0 0a1.0 1.0 0 1 0 -2.0 0M63.4 71.5a1.0 1.0 0 1 0 2.0 0a1.0 1.0 0 1 0 -2.0 0M64.6 73.8a1.0 1.0 0 1 0 2.0 0a1.0 1.0 0 1 0 -2.0 0M65.8 75.8a1.0 1.0 0 1 0 2.0 0a1.0 1.0 0 1 0 -2.0 0M67.0 78.8a1.0 1.0 0 1 0 2.0 0a1.0 1.0 0 1 0 -2.0 0M68.2 79.1a1.0 1.0 0 1 0 2.0 0a1.0 1.0 0 1 0 -2.0 0M69.4 81.0a1.0 1.0 0 1 0 2.0 0a1.0 1.0 0 1 0 -2.0 0M70.6 83.2a1.0 1.0 0 1 0 2.0 0a1.0 1.0 0 1 0 -2.0 0M71.8 85.1a1.0 1.0 0 1 0 2.0 0a1.0 1.0 0 1 0 -2.0 0M73.0 87.9a1.0 1.0 0 1 0 2.0 0a1.0 1.0 0 1 0 -2.0 0M74.2 87.0a1.0 1.0 0 1 0 2.0 0a1.0 1.0 0 1 0 -2.0 0M75.4 90.6a1.0 1.0 0 1 0 2.0 0a1.0 1.0 0 1 0 -2.0 0M76.6 88.7a1.0 1.0 0 1 0 2.0 0a1.0 1.0 0 1 0 -2.0 0M77.8 90.8a1.0 1.0 0 1 0 2.0 0a1.0 1.0 0 1 0 -2.0 0M79.0 92.8a1.0 1.0 0 1 0 2.0 0a1.0 1.0 0 1 0 -2.0 0M80.2 95.3a1.0 1.0 0 1 0 2.0 0a1.0 1.0 0 1 0 -2.0 0M81.4 94.2a1.0 1.0 0 1 0 2.0 0a1.0 1.0 0 1 0 -2.0 0M82.6 93.4a1.0 1.0 0 1 0 2.0 0a1.0 1.0 0 1 0 -2.0 0M83.8 97.5a1.0 1.0 0 1 0 2.0 0a1.0 1.0 0 1 0 -2.0 0M85.0 98.0a1.0 1.0 0 1 0 2.0 0a1.0 1.0 0 1 0 -2.0 0M86.2 97.8a1.0 1.0 0 1 0 2.0 0a1.0 1.0 0 1 0 -2.0 0M87.4 98.9a1.0 1.0 0 1 0 2.0 0a1.0 1.0 0 1 0 -2.0 0M88.6 100.3a1.0 1.0 0 1 0 2.0 0a1.0 1.0 0 1 0 -2.0 0M89.8 102.3a1.0 1.0 0 1 0 2.0 0a1.0 1.0 0 1 0 -2.0 0M91.0 103.9a1.0 1.0 0 1 0 2.0 0a1.0 1.0 0 1 0 -2.0 0M92.2 102.4a1.0 1.0 0 1 0 2.0 0a1.0 1.0 0 1 0 -2.0 0M93.4 107.9a1.0 1.0 0 1 0 2.0 0a1.0 1.0 0 1 0 -2.0 0M94.6 106.1a1.0 1.0 0 1 0 2.0 0a1.0 1.0 0 1 0 -2.0 0M95.8 106.7a1.0 1.0 0 1 0 2.0 0a1.0 1.0 0 1 0 -2.0 0M97.0 108.9a1.0 1.0 0 1 0 2.0 0a1.0 1.0 0 1 0 -2.0 0M98.2 109.1a1.0 1.0 0 1 0 2.0 0a1.0 1.0 0 1 0 -2.0 0M99.4 112.6a1.0 1.0 0 1 0 2.0 0a1.0 1.0 0 1 0 -2.0 0M100.6 112.0a1.0 1.0 0 1 0 2.0 0a1.0 1.0 0 1 0 -2.0 0M101.8 111.0a1.0 1.0 0 1 0 2.0 0a1.0 1.0 0 1 0 -2.0 0M103.0 111.8a1.0 1.0 0 1 0 2.0 0a1.0 1.0 0 1 0 -2.0 0M104.2 112.4a1.0 1.0 0 1 0 2.0 0a1.0 1.0 0 1 0 -2.0 0M105.4 113.3a1.0 1.0 0 1 0 2.0 0a1.0 1.0 0 1 0 -2.0 0M106.6 115.3a1.0 1.0 0 1 0 2.0 0a1.0 1.0 0 1 0 -2.0 0M107.8 114.4a1.0 1.0 0 1 0 2.0 0a1.0 1.0 0 1 0 -2.0 0M109.0 117.8a1.0 1.0 0 1 0 2.0 0a1.0 1.0 0 1 0 -2.0 0M110.2 116.5a1.0 1.0 0 1 0 2.0 0a1.0 1.0 0 1 0 -2.0 0M111.4 117.1a1.0 1.0 0 1 0 2.0 0a1.0 1.0 0 1 0 -2.0 0M112.6 119.1a1.0 1.0 0 1 0 2.0 0a1.0 1.0 0 1 0 -2.0 0M113.8 116.3a1.0 1.0 0 1 0 2.0 0a1.0 1.0 0 1 0 -2.0 0M115.0 118.3a1.0 1.0 0 1 0 2.0 0a1.0 1.0 0 1 0 -2.0 0M116.2 120.8a1.0 1.0 0 1 0 2.0 0a1.0 1.0 0 1 0 -2.0 0M117.4 120.7a1.0 1.0 0 1 0 2.0 0a1.0 1.0 0 1 0 -2.0 0M118.6 121.3a1.0 1.0 0 1 0 2.0 0a1.0 1.0 0 1 0 -2.0 0M119.8 122.4a1.0 1.0 0 1 0 2.0 0a1.0 1.0 0 1 0 -2.0 0M121.0 121.8a1.0 1.0 0 1 0 2.0 0a1.0 1.0 0 1 0 -2.0 0M122.2 122.9a1.0 1.0 0 1 0 2.0 0a1.0 1.0 0 1 0 -2.0 0M123.4 122.1a1.0 1.0 0 1 0 2.0 0a1.0 1.0 0 1 0 -2.0 0M124.6 122.0a1.0 1.0 0 1 0 2.0 0a1.0 1.0 0 1 0 -2.0 0M125.8 126.4a1.0 1.0 0 1 0 2.0 0a1.0 1.0 0 1 0 -2.0 0M127.0 124.3a1.0 1.0 0 1 0 2.0 0a1.0 1.0 0 1 0 -2.0 0M128.2 125.1a1.0 1.0 0 1 0 2.0 0a1.0 1.0 0 1 0 -2.0 0M129.4 128.1a1.0 1.0 0 1 0 2.0 0a1.0 1.0 0 1 0 -2.0 0M130.6 128.2a1.0 1.0 0 1 0 2.0 0a1.0 1.0 0 1 0 -2.0 0M131.8 126.8a1.0 1.0 0 1 0 2.0 0a1.0 1.0 0 1 0 -2.0 0M133.0 127.3a1.0 1.0 0 1 0 2.0 0a1.0 1.0 0 1 0 -2.0 0M134.2 128.4a1.0 1.0 0 1 0 2.0 0a1.0 1.0 0 1 0 -2.0 0M135.4 127.8a1.0 1.0 0 1 0 2.0 0a1.0 1.0 0 1 0 -2.0 0M136.6 130.1a1.0 1.0 0 1 0 2.0 0a1.0 1.0 0 1 0 -2.0 0M137.8 130.1a1.0 1.0 0 1 0 2.0 0a1.0 1.0 0 1 0 -2.0 0M139.0 130.5a1.0 1.0 0 1 0 2.0 0a1.0 1.0 0 1 0 -2.0 0M140.2 131.7a1.0 1.0 0 1 0 2.0 0a1.0 1.0 0 1 0 -2.0 0M141.4 132.1a1.0 1.0 0 1 0 2.0 0a1.0 1.0 0 1 0 -2.0 0M142.6 133.8a1.0 1.0 0 1 0 2.0 0a1.0 1.0 0 1 0 -2.0 0M143.8 133.8a1.0 1.0 0 1 0 2.0 0a1.0 1.0 0 1 0 -2.0 0M145.0 130.3a1.0 1.0 0 1 0 2.0 0a1.0 1.0 0 1 0 -2.0 0M146.2 133.8a1.0 1.0 0 1 0 2.0 0a1.0 1.0 0 1 0 -2.0 0M147.4 131.8a1.0 1.0 0 1 0 2.0 0a1.0 1.0 0 1 0 -2.0 0M148.6 131.7a1.0 1.0 0 1 0 2.0 0a1.0 1.0 0 1 0 -2.0 0M149.8 134.6a1.0 1.0 0 1 0 2.0 0a1.0 1.0 0 1 0 -2.0 0M151.0 133.3a1.0 1.0 0 1 0 2.0 0a1.0 1.0 0 1 0 -2.0 0M152.2 134.0a1.0 1.0 0 1 0 2.0 0a1.0 1.0 0 1 0 -2.0 0M153.4 136.0a1.0 1.0 0 1 0 2.0 0a1.0 1.0 0 1 0 -2.0 0M154.6 134.3a1.0 1.0 0 1 0 2.0 0a1.0 1.0 0 1 0 -2.0 0M155.8 134.3a1.0 1.0 0 1 0 2.0 0a1.0 1.0 0 1 0 -2.0 0M157.0 136.0a1.0 1.0 0 1 0 2.0 0a1.0 1.0 0 1 0 -2.0 0M158.2 137.4a1.0 1.0 0 1 0 2.0 0a1.0 1.0 0 1 0 -2.0 0M159.4 136.8a1.0 1.0 0 1 0 2.0 0a1.0 1.0 0 1 0 -2.0 0M160.6 134.6a1.0 1.0 0 1 0 2.0 0a1.0 1.0 0 1 0 -2.0 0M161.8 136.0a1.0 1.0 0 1 0 2.0 0a1.0 1.0 0 1 0 -2.0 0M163.0 136.8a1.0 1.0 0 1 0 2.0 0a1.0 1.0 0 1 0 -2.0 0M164.2 139.5a1.0 1.0 0 1 0 2.0 0a1.0 1.0 0 1 0 -2.0 0M165.4 138.5a1.0 1.0 0 1 0 2.0 0a1.0 1.0 0 1 0 -2.0 0M166.6 138.7a1.0 1.0 0 1 0 2.0 0a1.0 1.0 0 1 0 -2.0 0M167.8 139.3a1.0 1.0 0 1 0 2.0 0a1.0 1.0 0 1 0 -2.0 0M169.0 137.7a1.0 1.0 0 1 0 2.0 0a1.0 1.0 0 1 0 -2.0 0M170.2 138.8a1.0 1.0 0 1 0 2.0 0a1.0 1.0 0 1 0 -2.0 0M171.4 139.0a1.0 1.0 0 1 0 2.0 0a1.0 1.0 0 1 0 -2.0 0M172.6 137.4a1.0 1.0 0 1 0 2.0 0a1.0 1.0 0 1 0 -2.0 0M173.8 138.7a1.0 1.0 0 1 0 2.0 0a1.0 1.0 0 1 0 -2.0 0M175.0 139.6a1.0 1.0 0 1 0 2.0 0a1.0 1.0 0 1 0 -2.0 0M176.2 137.8a1.0 1.0 0 1 0 2.0 0a1.0 1.0 0 1 0 -2.0 0M177.4 140.2a1.0 1.0 0 1 0 2.0 0a1.0 1.0 0 1 0 -2.0 0M178.6 140.3a1.0 1.0 0 1 0 2.0 0a1.0 1.0 0 1 0 -2.0 0M179.8 140.8a1.0 1.0 0 1 0 2.0 0a1.0 1.0 0 1 0 -2.0 0M181.0 138.7a1.0 1.0 0 1 0 2.0 0a1.0 1.0 0 1 0 -2.0 0M182.2 139.9a1.0 1.0 0 1 0 2.0 0a1.0 1.0 0 1 0 -2.0 0M183.4 141.7a1.0 1.0 0 1 0 2.0 0a1.0 1.0 0 1 0 -2.0 0M184.6 141.0a1.0 1.0 0 1 0 2.0 0a1.0 1.0 0 1 0 -2.0 0M185.8 139.2a1.0 1.0 0 1 0 2.0 0a1.0 1.0 0 1 0 -2.0 0M187.0 140.5a1.0 1.0 0 1 0 2.0 0a1.0 1.0 0 1 0 -2.0 0M188.2 142.1a1.0 1.0 0 1 0 2.0 0a1.0 1.0 0 1 0 -2.0 0M189.4 140.4a1.0 1.0 0 1 0 2.0 0a1.0 1.0 0 1 0 -2.0 0M190.6 141.0a1.0 1.0 0 1 0 2.0 0a1.0 1.0 0 1 0 -2.0 0" fill="#e06a20" opacity="1.0"/>
<polyline points="52.4,140.7 53.6,132.6 54.8,124.8 56.0,116.2 57.2,108.9 58.4,102.7 59.6,98.8 60.8,97.5 62.0,99.0 63.2,101.3 64.4,103.6 65.6,105.8 66.8,107.8 68.0,109.5 69.2,111.1 70.4,112.6 71.6,114.1 72.8,115.5 74.0,116.8 75.2,118.1 76.4,119.3 77.6,120.5 78.8,121.7 80.0,122.8 81.2,124.0 82.4,125.2 83.6,126.3 84.8,127.3 86.0,128.3 87.2,129.1 88.4,130.0 89.6,130.7 90.8,131.4 92.0,132.0 93.2,132.6 94.4,133.1 95.6,133.6 96.8,134.1 98.0,134.5 99.2,134.9 100.4,135.3 101.6,135.7 102.8,136.0 104.0,136.3 105.2,136.5 106.4,136.8 107.6,137.1 108.8,137.4 110.0,137.8 111.2,138.3 112.4,138.8 113.6,139.4 114.8,139.8 116.0,140.2 117.2,140.5 118.4,140.8 119.6,141.0 120.8,141.2 122.0,141.4 123.2,141.6 124.4,141.8 125.6,142.0 126.8,142.1 128.0,142.2 129.2,142.4 130.4,142.5 131.6,142.5 132.8,142.6 134.0,142.6 135.2,142.7 136.4,142.7 137.6,142.8 138.8,142.8 140.0,142.8 141.2,142.9 142.4,142.9 143.6,142.9 144.8,143.0 146.0,143.0 147.2,143.0 148.4,143.0 149.6,143.1 150.8,143.1 152.0,143.1 153.2,143.1 154.4,143.1 155.6,143.2 156.8,143.2 158.0,143.2 159.2,143.2 160.4,143.2 161.6,143.2 162.8,143.2 164.0,143.2 165.2,143.3 166.4,143.3 167.6,143.3 168.8,143.3 170.0,143.3 171.2,143.3 172.4,143.3 173.6,143.3 174.8,143.3 176.0,143.3 177.2,143.3 178.4,143.4 179.6,143.4 180.8,143.4 182.0,143.4 183.2,143.4 184.4,143.4 185.6,143.4 186.8,143.4 188.0,143.4 189.2,143.4 190.4,143.4 191.6,143.4" fill="none" stroke="#2ca02c" stroke-width="3.4" stroke-linejoin="round" stroke-linecap="round" opacity="1.0"/>
<path d="M44.0 140.3V143.6M43.2 140.3h1.6M43.2 143.6h1.6M45.2 140.9V145.7M44.4 140.9h1.6M44.4 145.7h1.6M46.4 141.5V147.0M45.6 141.5h1.6M45.6 147.0h1.6M47.6 142.1V145.6M46.8 142.1h1.6M46.8 145.6h1.6M48.8 141.8V145.9M48.0 141.8h1.6M48.0 145.9h1.6M50.0 142.0V144.4M49.2 142.0h1.6M49.2 144.4h1.6M51.2 142.2V147.1M50.4 142.2h1.6M50.4 147.1h1.6M52.4 139.4V143.0M51.6 139.4h1.6M51.6 143.0h1.6M53.6 131.3V135.6M52.8 131.3h1.6M52.8 135.6h1.6M54.8 122.0V125.0M54.0 122.0h1.6M54.0 125.0h1.6M56.0 114.2V118.7M55.2 114.2h1.6M55.2 118.7h1.6M57.2 106.0V110.0M56.4 106.0h1.6M56.4 110.0h1.6M58.4 100.2V105.7M57.6 100.2h1.6M57.6 105.7h1.6M59.6 96.3V101.7M58.8 96.3h1.6M58.8 101.7h1.6M60.8 94.5V98.7M60.0 94.5h1.6M60.0 98.7h1.6M62.0 97.6V100.6M61.2 97.6h1.6M61.2 100.6h1.6M63.2 100.6V103.9M62.4 100.6h1.6M62.4 103.9h1.6M64.4 101.9V106.0M63.6 101.9h1.6M63.6 106.0h1.6M65.6 103.8V108.8M64.8 103.8h1.6M64.8 108.8h1.6M66.8 104.5V109.7M66.0 104.5h1.6M66.0 109.7h1.6M68.0 106.4V111.6M67.2 106.4h1.6M67.2 111.6h1.6M69.2 107.8V112.7M68.4 107.8h1.6M68.4 112.7h1.6M70.4 110.8V114.7M69.6 110.8h1.6M69.6 114.7h1.6M71.6 112.9V117.1M70.8 112.9h1.6M70.8 117.1h1.6M72.8 114.2V117.4M72.0 114.2h1.6M72.0 117.4h1.6M74.0 114.7V118.9M73.2 114.7h1.6M73.2 118.9h1.6M75.2 115.4V119.0M74.4 115.4h1.6M74.4 119.0h1.6M76.4 117.6V121.7M75.6 117.6h1.6M75.6 121.7h1.6M77.6 119.0V121.6M76.8 119.0h1.6M76.8 121.6h1.6M78.8 118.8V121.5M78.0 118.8h1.6M78.0 121.5h1.6M80.0 119.2V123.7M79.2 119.2h1.6M79.2 123.7h1.6M81.2 121.8V125.6M80.4 121.8h1.6M80.4 125.6h1.6M82.4 122.9V126.0M81.6 122.9h1.6M81.6 126.0h1.6M83.6 124.9V130.4M82.8 124.9h1.6M82.8 130.4h1.6M84.8 126.1V128.6M84.0 126.1h1.6M84.0 128.6h1.6M86.0 124.7V130.1M85.2 124.7h1.6M85.2 130.1h1.6M87.2 126.2V131.3M86.4 126.2h1.6M86.4 131.3h1.6M88.4 130.0V132.4M87.6 130.0h1.6M87.6 132.4h1.6M89.6 127.4V132.6M88.8 127.4h1.6M88.8 132.6h1.6M90.8 129.7V134.4M90.0 129.7h1.6M90.0 134.4h1.6M92.0 130.8V133.9M91.2 130.8h1.6M91.2 133.9h1.6M93.2 131.4V136.0M92.4 131.4h1.6M92.4 136.0h1.6M94.4 130.8V136.2M93.6 130.8h1.6M93.6 136.2h1.6M95.6 132.0V134.6M94.8 132.0h1.6M94.8 134.6h1.6M96.8 132.8V136.2M96.0 132.8h1.6M96.0 136.2h1.6M98.0 133.2V136.0M97.2 133.2h1.6M97.2 136.0h1.6M99.2 133.1V138.3M98.4 133.1h1.6M98.4 138.3h1.6M100.4 133.9V136.7M99.6 133.9h1.6M99.6 136.7h1.6M101.6 135.9V138.6M100.8 135.9h1.6M100.8 138.6h1.6M102.8 134.6V137.3M102.0 134.6h1.6M102.0 137.3h1.6M104.0 134.1V139.2M103.2 134.1h1.6M103.2 139.2h1.6M105.2 134.5V137.6M104.4 134.5h1.6M104.4 137.6h1.6M106.4 134.2V139.7M105.6 134.2h1.6M105.6 139.7h1.6M107.6 135.9V138.4M106.8 135.9h1.6M106.8 138.4h1.6M108.8 135.7V139.5M108.0 135.7h1.6M108.0 139.5h1.6M110.0 137.2V140.0M109.2 137.2h1.6M109.2 140.0h1.6M111.2 136.4V139.4M110.4 136.4h1.6M110.4 139.4h1.6M112.4 136.7V139.7M111.6 136.7h1.6M111.6 139.7h1.6M113.6 138.1V142.3M112.8 138.1h1.6M112.8 142.3h1.6M114.8 138.1V141.2M114.0 138.1h1.6M114.0 141.2h1.6M116.0 138.0V141.5M115.2 138.0h1.6M115.2 141.5h1.6M117.2 138.9V144.1M116.4 138.9h1.6M116.4 144.1h1.6M118.4 139.2V143.6M117.6 139.2h1.6M117.6 143.6h1.6M119.6 137.7V140.1M118.8 137.7h1.6M118.8 140.1h1.6M120.8 139.3V142.6M120.0 139.3h1.6M120.0 142.6h1.6M122.0 139.9V144.2M121.2 139.9h1.6M121.2 144.2h1.6M123.2 140.6V144.0M122.4 140.6h1.6M122.4 144.0h1.6M124.4 140.1V142.7M123.6 140.1h1.6M123.6 142.7h1.6M125.6 141.9V144.6M124.8 141.9h1.6M124.8 144.6h1.6M126.8 139.7V143.3M126.0 139.7h1.6M126.0 143.3h1.6M128.0 139.9V144.3M127.2 139.9h1.6M127.2 144.3h1.6M129.2 140.5V144.4M128.4 140.5h1.6M128.4 144.4h1.6M130.4 140.9V144.0M129.6 140.9h1.6M129.6 144.0h1.6M131.6 141.7V144.6M130.8 141.7h1.6M130.8 144.6h1.6M132.8 141.7V145.1M132.0 141.7h1.6M132.0 145.1h1.6M134.0 140.0V145.2M133.2 140.0h1.6M133.2 145.2h1.6M135.2 142.5V145.1M134.4 142.5h1.6M134.4 145.1h1.6M136.4 140.9V143.5M135.6 140.9h1.6M135.6 143.5h1.6M137.6 141.3V144.0M136.8 141.3h1.6M136.8 144.0h1.6M138.8 142.1V146.3M138.0 142.1h1.6M138.0 146.3h1.6M140.0 141.7V144.2M139.2 141.7h1.6M139.2 144.2h1.6M141.2 142.1V145.4M140.4 142.1h1.6M140.4 145.4h1.6M142.4 140.9V144.3M141.6 140.9h1.6M141.6 144.3h1.6M143.6 140.9V144.6M142.8 140.9h1.6M142.8 144.6h1.6M144.8 141.0V144.8M144.0 141.0h1.6M144.0 144.8h1.6M146.0 140.6V145.7M145.2 140.6h1.6M145.2 145.7h1.6M147.2 141.1V144.5M146.4 141.1h1.6M146.4 144.5h1.6M148.4 141.6V144.5M147.6 141.6h1.6M147.6 144.5h1.6M149.6 141.2V146.1M148.8 141.2h1.6M148.8 146.1h1.6M150.8 142.5V145.6M150.0 142.5h1.6M150.0 145.6h1.6M152.0 141.8V144.6M151.2 141.8h1.6M151.2 144.6h1.6M153.2 142.4V144.9M152.4 142.4h1.6M152.4 144.9h1.6M154.4 141.2V146.6M153.6 141.2h1.6M153.6 146.6h1.6M155.6 140.1V144.6M154.8 140.1h1.6M154.8 144.6h1.6M156.8 139.7V144.1M156.0 139.7h1.6M156.0 144.1h1.6M158.0 143.1V145.8M157.2 143.1h1.6M157.2 145.8h1.6M159.2 141.7V146.8M158.4 141.7h1.6M158.4 146.8h1.6M160.4 142.0V144.6M159.6 142.0h1.6M159.6 144.6h1.6M161.6 141.2V145.8M160.8 141.2h1.6M160.8 145.8h1.6M162.8 140.0V145.0M162.0 140.0h1.6M162.0 145.0h1.6M164.0 140.2V144.1M163.2 140.2h1.6M163.2 144.1h1.6M165.2 142.0V145.0M164.4 142.0h1.6M164.4 145.0h1.6M166.4 139.3V144.9M165.6 139.3h1.6M165.6 144.9h1.6M167.6 142.8V145.3M166.8 142.8h1.6M166.8 145.3h1.6M168.8 141.1V144.4M168.0 141.1h1.6M168.0 144.4h1.6M170.0 141.4V145.7M169.2 141.4h1.6M169.2 145.7h1.6M171.2 142.7V147.1M170.4 142.7h1.6M170.4 147.1h1.6M172.4 143.3V146.3M171.6 143.3h1.6M171.6 146.3h1.6M173.6 141.5V144.8M172.8 141.5h1.6M172.8 144.8h1.6M174.8 142.4V146.1M174.0 142.4h1.6M174.0 146.1h1.6M176.0 139.8V145.3M175.2 139.8h1.6M175.2 145.3h1.6M177.2 140.1V145.7M176.4 140.1h1.6M176.4 145.7h1.6M178.4 142.3V145.0M177.6 142.3h1.6M177.6 145.0h1.6M179.6 141.9V147.1M178.8 141.9h1.6M178.8 147.1h1.6M180.8 141.1V144.8M180.0 141.1h1.6M180.0 144.8h1.6M182.0 142.2V145.4M181.2 142.2h1.6M181.2 145.4h1.6M183.2 141.6V145.4M182.4 141.6h1.6M182.4 145.4h1.6M184.4 141.1V143.7M183.6 141.1h1.6M183.6 143.7h1.6M185.6 140.9V145.7M184.8 140.9h1.6M184.8 145.7h1.6M186.8 142.3V146.9M186.0 142.3h1.6M186.0 146.9h1.6M188.0 141.7V144.9M187.2 141.7h1.6M187.2 144.9h1.6M189.2 142.6V145.1M188.4 142.6h1.6M188.4 145.1h1.6M190.4 141.7V146.5M189.6 141.7h1.6M189.6 146.5h1.6M191.6 140.1V145.6M190.8 140.1h1.6M190.8 145.6h1.6" stroke="#2ca02c" stroke-width="0.6" fill="none" opacity="1.0"/>
<polyline points="44.0,142.0 45.2,143.3 46.4,144.3 47.6,143.8 48.8,143.8 50.0,143.2 51.2,144.6 52.4,141.2 53.6,133.4 54.8,123.5 56.0,116.5 57.2,108.0 58.4,103.0 59.6,99.0 60.8,96.6 62.0,99.1 63.2,102.3 64.4,104.0 65.6,106.3 66.8,107.1 68.0,109.0 69.2,110.2 70.4,112.7 71.6,115.0 72.8,115.8 74.0,116.8 75.2,117.2 76.4,119.6 77.6,120.3 78.8,120.1 80.0,121.4 81.2,123.7 82.4,124.5 83.6,127.6 84.8,127.4 86.0,127.4 87.2,128.8 88.4,131.2 89.6,130.0 90.8,132.0 92.0,132.3 93.2,133.7 94.4,133.5 95.6,133.3 96.8,134.5 98.0,134.6 99.2,135.7 100.4,135.3 101.6,137.3 102.8,135.9 104.0,136.6 105.2,136.0 106.4,136.9 107.6,137.1 108.8,137.6 110.0,138.6 111.2,137.9 112.4,138.2 113.6,140.2 114.8,139.6 116.0,139.7 117.2,141.5 118.4,141.4 119.6,138.9 120.8,140.9 122.0,142.1 123.2,142.3 124.4,141.4 125.6,143.2 126.8,141.5 128.0,142.1 129.2,142.5 130.4,142.5 131.6,143.2 132.8,143.4 134.0,142.6 135.2,143.8 136.4,142.2 137.6,142.6 138.8,144.2 140.0,142.9 141.2,143.7 142.4,142.6 143.6,142.7 144.8,142.9 146.0,143.2 147.2,142.8 148.4,143.1 149.6,143.6 150.8,144.1 152.0,143.2 153.2,143.7 154.4,143.9 155.6,142.3 156.8,141.9 158.0,144.5 159.2,144.3 160.4,143.3 161.6,143.5 162.8,142.5 164.0,142.2 165.2,143.5 166.4,142.1 167.6,144.0 168.8,142.8 170.0,143.6 171.2,144.9 172.4,144.8 173.6,143.1 174.8,144.2 176.0,142.5 177.2,142.9 178.4,143.7 179.6,144.5 180.8,142.9 182.0,143.8 183.2,143.5 184.4,142.4 185.6,143.3 186.8,144.6 188.0,143.3 189.2,143.8 190.4,144.1 191.6,142.8" stroke="#2ca02c" stroke-width="1.8" fill="none" stroke-linejoin="round" opacity="1.0"/>
<path d="M43.0 142.0a1.0 1.0 0 1 0 2.0 0a1.0 1.0 0 1 0 -2.0 0M44.2 143.3a1.0 1.0 0 1 0 2.0 0a1.0 1.0 0 1 0 -2.0 0M45.4 144.3a1.0 1.0 0 1 0 2.0 0a1.0 1.0 0 1 0 -2.0 0M46.6 143.8a1.0 1.0 0 1 0 2.0 0a1.0 1.0 0 1 0 -2.0 0M47.8 143.8a1.0 1.0 0 1 0 2.0 0a1.0 1.0 0 1 0 -2.0 0M49.0 143.2a1.0 1.0 0 1 0 2.0 0a1.0 1.0 0 1 0 -2.0 0M50.2 144.6a1.0 1.0 0 1 0 2.0 0a1.0 1.0 0 1 0 -2.0 0M51.4 141.2a1.0 1.0 0 1 0 2.0 0a1.0 1.0 0 1 0 -2.0 0M52.6 133.4a1.0 1.0 0 1 0 2.0 0a1.0 1.0 0 1 0 -2.0 0M53.8 123.5a1.0 1.0 0 1 0 2.0 0a1.0 1.0 0 1 0 -2.0 0M55.0 116.5a1.0 1.0 0 1 0 2.0 0a1.0 1.0 0 1 0 -2.0 0M56.2 108.0a1.0 1.0 0 1 0 2.0 0a1.0 1.0 0 1 0 -2.0 0M57.4 103.0a1.0 1.0 0 1 0 2.0 0a1.0 1.0 0 1 0 -2.0 0M58.6 99.0a1.0 1.0 0 1 0 2.0 0a1.0 1.0 0 1 0 -2.0 0M59.8 96.6a1.0 1.0 0 1 0 2.0 0a1.0 1.0 0 1 0 -2.0 0M61.0 99.1a1.0 1.0 0 1 0 2.0 0a1.0 1.0 0 1 0 -2.0 0M62.2 102.3a1.0 1.0 0 1 0 2.0 0a1.0 1.0 0 1 0 -2.0 0M63.4 104.0a1.0 1.0 0 1 0 2.0 0a1.0 1.0 0 1 0 -2.0 0M64.6 106.3a1.0 1.0 0 1 0 2.0 0a1.0 1.0 0 1 0 -2.0 0M65.8 107.1a1.0 1.0 0 1 0 2.0 0a1.0 1.0 0 1 0 -2.0 0M67.0 109.0a1.0 1.0 0 1 0 2.0 0a1.0 1.0 0 1 0 -2.0 0M68.2 110.2a1.0 1.0 0 1 0 2.0 0a1.0 1.0 0 1 0 -2.0 0M69.4 112.7a1.0 1.0 0 1 0 2.0 0a1.0 1.0 0 1 0 -2.0 0M70.6 115.0a1.0 1.0 0 1 0 2.0 0a1.0 1.0 0 1 0 -2.0 0M71.8 115.8a1.0 1.0 0 1 0 2.0 0a1.0 1.0 0 1 0 -2.0 0M73.0 116.8a1.0 1.0 0 1 0 2.0 0a1.0 1.0 0 1 0 -2.0 0M74.2 117.2a1.0 1.0 0 1 0 2.0 0a1.0 1.0 0 1 0 -2.0 0M75.4 119.6a1.0 1.0 0 1 0 2.0 0a1.0 1.0 0 1 0 -2.0 0M76.6 120.3a1.0 1.0 0 1 0 2.0 0a1.0 1.0 0 1 0 -2.0 0M77.8 120.1a1.0 1.0 0 1 0 2.0 0a1.0 1.0 0 1 0 -2.0 0M79.0 121.4a1.0 1.0 0 1 0 2.0 0a1.0 1.0 0 1 0 -2.0 0M80.2 123.7a1.0 1.0 0 1 0 2.0 0a1.0 1.0 0 1 0 -2.0 0M81.4 124.5a1.0 1.0 0 1 0 2.0 0a1.0 1.0 0 1 0 -2.0 0M82.6 127.6a1.0 1.0 0 1 0 2.0 0a1.0 1.0 0 1 0 -2.0 0M83.8 127.4a1.0 1.0 0 1 0 2.0 0a1.0 1.0 0 1 0 -2.0 0M85.0 127.4a1.0 1.0 0 1 0 2.0 0a1.0 1.0 0 1 0 -2.0 0M86.2 128.8a1.0 1.0 0 1 0 2.0 0a1.0 1.0 0 1 0 -2.0 0M87.4 131.2a1.0 1.0 0 1 0 2.0 0a1.0 1.0 0 1 0 -2.0 0M88.6 130.0a1.0 1.0 0 1 0 2.0 0a1.0 1.0 0 1 0 -2.0 0M89.8 132.0a1.0 1.0 0 1 0 2.0 0a1.0 1.0 0 1 0 -2.0 0M91.0 132.3a1.0 1.0 0 1 0 2.0 0a1.0 1.0 0 1 0 -2.0 0M92.2 133.7a1.0 1.0 0 1 0 2.0 0a1.0 1.0 0 1 0 -2.0 0M93.4 133.5a1.0 1.0 0 1 0 2.0 0a1.0 1.0 0 1 0 -2.0 0M94.6 133.3a1.0 1.0 0 1 0 2.0 0a1.0 1.0 0 1 0 -2.0 0M95.8 134.5a1.0 1.0 0 1 0 2.0 0a1.0 1.0 0 1 0 -2.0 0M97.0 134.6a1.0 1.0 0 1 0 2.0 0a1.0 1.0 0 1 0 -2.0 0M98.2 135.7a1.0 1.0 0 1 0 2.0 0a1.0 1.0 0 1 0 -2.0 0M99.4 135.3a1.0 1.0 0 1 0 2.0 0a1.0 1.0 0 1 0 -2.0 0M100.6 137.3a1.0 1.0 0 1 0 2.0 0a1.0 1.0 0 1 0 -2.0 0M101.8 135.9a1.0 1.0 0 1 0 2.0 0a1.0 1.0 0 1 0 -2.0 0M103.0 136.6a1.0 1.0 0 1 0 2.0 0a1.0 1.0 0 1 0 -2.0 0M104.2 136.0a1.0 1.0 0 1 0 2.0 0a1.0 1.0 0 1 0 -2.0 0M105.4 136.9a1.0 1.0 0 1 0 2.0 0a1.0 1.0 0 1 0 -2.0 0M106.6 137.1a1.0 1.0 0 1 0 2.0 0a1.0 1.0 0 1 0 -2.0 0M107.8 137.6a1.0 1.0 0 1 0 2.0 0a1.0 1.0 0 1 0 -2.0 0M109.0 138.6a1.0 1.0 0 1 0 2.0 0a1.0 1.0 0 1 0 -2.0 0M110.2 137.9a1.0 1.0 0 1 0 2.0 0a1.0 1.0 0 1 0 -2.0 0M111.4 138.2a1.0 1.0 0 1 0 2.0 0a1.0 1.0 0 1 0 -2.0 0M112.6 140.2a1.0 1.0 0 1 0 2.0 0a1.0 1.0 0 1 0 -2.0 0M113.8 139.6a1.0 1.0 0 1 0 2.0 0a1.0 1.0 0 1 0 -2.0 0M115.0 139.7a1.0 1.0 0 1 0 2.0 0a1.0 1.0 0 1 0 -2.0 0M116.2 141.5a1.0 1.0 0 1 0 2.0 0a1.0 1.0 0 1 0 -2.0 0M117.4 141.4a1.0 1.0 0 1 0 2.0 0a1.0 1.0 0 1 0 -2.0 0M118.6 138.9a1.0 1.0 0 1 0 2.0 0a1.0 1.0 0 1 0 -2.0 0M119.8 140.9a1.0 1.0 0 1 0 2.0 0a1.0 1.0 0 1 0 -2.0 0M121.0 142.1a1.0 1.0 0 1 0 2.0 0a1.0 1.0 0 1 0 -2.0 0M122.2 142.3a1.0 1.0 0 1 0 2.0 0a1.0 1.0 0 1 0 -2.0 0M123.4 141.4a1.0 1.0 0 1 0 2.0 0a1.0 1.0 0 1 0 -2.0 0M124.6 143.2a1.0 1.0 0 1 0 2.0 0a1.0 1.0 0 1 0 -2.0 0M125.8 141.5a1.0 1.0 0 1 0 2.0 0a1.0 1.0 0 1 0 -2.0 0M127.0 142.1a1.0 1.0 0 1 0 2.0 0a1.0 1.0 0 1 0 -2.0 0M128.2 142.5a1.0 1.0 0 1 0 2.0 0a1.0 1.0 0 1 0 -2.0 0M129.4 142.5a1.0 1.0 0 1 0 2.0 0a1.0 1.0 0 1 0 -2.0 0M130.6 143.2a1.0 1.0 0 1 0 2.0 0a1.0 1.0 0 1 0 -2.0 0M131.8 143.4a1.0 1.0 0 1 0 2.0 0a1.0 1.0 0 1 0 -2.0 0M133.0 142.6a1.0 1.0 0 1 0 2.0 0a1.0 1.0 0 1 0 -2.0 0M134.2 143.8a1.0 1.0 0 1 0 2.0 0a1.0 1.0 0 1 0 -2.0 0M135.4 142.2a1.0 1.0 0 1 0 2.0 0a1.0 1.0 0 1 0 -2.0 0M136.6 142.6a1.0 1.0 0 1 0 2.0 0a1.0 1.0 0 1 0 -2.0 0M137.8 144.2a1.0 1.0 0 1 0 2.0 0a1.0 1.0 0 1 0 -2.0 0M139.0 142.9a1.0 1.0 0 1 0 2.0 0a1.0 1.0 0 1 0 -2.0 0M140.2 143.7a1.0 1.0 0 1 0 2.0 0a1.0 1.0 0 1 0 -2.0 0M141.4 142.6a1.0 1.0 0 1 0 2.0 0a1.0 1.0 0 1 0 -2.0 0M142.6 142.7a1.0 1.0 0 1 0 2.0 0a1.0 1.0 0 1 0 -2.0 0M143.8 142.9a1.0 1.0 0 1 0 2.0 0a1.0 1.0 0 1 0 -2.0 0M145.0 143.2a1.0 1.0 0 1 0 2.0 0a1.0 1.0 0 1 0 -2.0 0M146.2 142.8a1.0 1.0 0 1 0 2.0 0a1.0 1.0 0 1 0 -2.0 0M147.4 143.1a1.0 1.0 0 1 0 2.0 0a1.0 1.0 0 1 0 -2.0 0M148.6 143.6a1.0 1.0 0 1 0 2.0 0a1.0 1.0 0 1 0 -2.0 0M149.8 144.1a1.0 1.0 0 1 0 2.0 0a1.0 1.0 0 1 0 -2.0 0M151.0 143.2a1.0 1.0 0 1 0 2.0 0a1.0 1.0 0 1 0 -2.0 0M152.2 143.7a1.0 1.0 0 1 0 2.0 0a1.0 1.0 0 1 0 -2.0 0M153.4 143.9a1.0 1.0 0 1 0 2.0 0a1.0 1.0 0 1 0 -2.0 0M154.6 142.3a1.0 1.0 0 1 0 2.0 0a1.0 1.0 0 1 0 -2.0 0M155.8 141.9a1.0 1.0 0 1 0 2.0 0a1.0 1.0 0 1 0 -2.0 0M157.0 144.5a1.0 1.0 0 1 0 2.0 0a1.0 1.0 0 1 0 -2.0 0M158.2 144.3a1.0 1.0 0 1 0 2.0 0a1.0 1.0 0 1 0 -2.0 0M159.4 143.3a1.0 1.0 0 1 0 2.0 0a1.0 1.0 0 1 0 -2.0 0M160.6 143.5a1.0 1.0 0 1 0 2.0 0a1.0 1.0 0 1 0 -2.0 0M161.8 142.5a1.0 1.0 0 1 0 2.0 0a1.0 1.0 0 1 0 -2.0 0M163.0 142.2a1.0 1.0 0 1 0 2.0 0a1.0 1.0 0 1 0 -2.0 0M164.2 143.5a1.0 1.0 0 1 0 2.0 0a1.0 1.0 0 1 0 -2.0 0M165.4 142.1a1.0 1.0 0 1 0 2.0 0a1.0 1.0 0 1 0 -2.0 0M166.6 144.0a1.0 1.0 0 1 0 2.0 0a1.0 1.0 0 1 0 -2.0 0M167.8 142.8a1.0 1.0 0 1 0 2.0 0a1.0 1.0 0 1 0 -2.0 0M169.0 143.6a1.0 1.0 0 1 0 2.0 0a1.0 1.0 0 1 0 -2.0 0M170.2 144.9a1.0 1.0 0 1 0 2.0 0a1.0 1.0 0 1 0 -2.0 0M171.4 144.8a1.0 1.0 0 1 0 2.0 0a1.0 1.0 0 1 0 -2.0 0M172.6 143.1a1.0 1.0 0 1 0 2.0 0a1.0 1.0 0 1 0 -2.0 0M173.8 144.2a1.0 1.0 0 1 0 2.0 0a1.0 1.0 0 1 0 -2.0 0M175.0 142.5a1.0 1.0 0 1 0 2.0 0a1.0 1.0 0 1 0 -2.0 0M176.2 142.9a1.0 1.0 0 1 0 2.0 0a1.0 1.0 0 1 0 -2.0 0M177.4 143.7a1.0 1.0 0 1 0 2.0 0a1.0 1.0 0 1 0 -2.0 0M178.6 144.5a1.0 1.0 0 1 0 2.0 0a1.0 1.0 0 1 0 -2.0 0M179.8 142.9a1.0 1.0 0 1 0 2.0 0a1.0 1.0 0 1 0 -2.0 0M181.0 143.8a1.0 1.0 0 1 0 2.0 0a1.0 1.0 0 1 0 -2.0 0M182.2 143.5a1.0 1.0 0 1 0 2.0 0a1.0 1.0 0 1 0 -2.0 0M183.4 142.4a1.0 1.0 0 1 0 2.0 0a1.0 1.0 0 1 0 -2.0 0M184.6 143.3a1.0 1.0 0 1 0 2.0 0a1.0 1.0 0 1 0 -2.0 0M185.8 144.6a1.0 1.0 0 1 0 2.0 0a1.0 1.0 0 1 0 -2.0 0M187.0 143.3a1.0 1.0 0 1 0 2.0 0a1.0 1.0 0 1 0 -2.0 0M188.2 143.8a1.0 1.0 0 1 0 2.0 0a1.0 1.0 0 1 0 -2.0 0M189.4 144.1a1.0 1.0 0 1 0 2.0 0a1.0 1.0 0 1 0 -2.0 0M190.6 142.8a1.0 1.0 0 1 0 2.0 0a1.0 1.0 0 1 0 -2.0 0" fill="#1d8a1d" opacity="1.0"/>
<polyline points="59.6,52.1 60.8,55.0 62.0,58.6 63.2,61.8 64.4,64.8 65.6,67.6 66.8,70.0 68.0,71.9 69.2,73.4 70.4,74.7 71.6,76.0 72.8,77.4 74.0,78.8 75.2,80.1 76.4,81.3 77.6,82.5 78.8,83.6 80.0,84.7 81.2,85.8 82.4,86.8 83.6,87.9 84.8,89.0 86.0,90.0 87.2,91.0 88.4,92.0 89.6,93.0 90.8,94.0 92.0,95.1 93.2,96.2 94.4,97.4 95.6,98.7 96.8,99.9 98.0,101.1 99.2,102.3 100.4,103.4 101.6,104.4 102.8,105.4 104.0,106.3 105.2,107.2 106.4,108.1 107.6,109.0 108.8,109.8 110.0,110.7 111.2,111.5 112.4,112.3 113.6,113.0 114.8,113.8 116.0,114.6 117.2,115.3 118.4,116.1 119.6,116.8 120.8,117.5 122.0,118.2 123.2,118.8 124.4,119.5 125.6,120.2 126.8,120.9 128.0,121.5 129.2,122.1 130.4,122.7 131.6,123.3 132.8,123.9 134.0,124.5 135.2,125.0 136.4,125.5 137.6,126.1 138.8,126.6 140.0,127.0 141.2,127.5 142.4,128.0 143.6,128.5 144.8,128.9 146.0,129.3 147.2,129.7 148.4,130.1 149.6,130.5 150.8,130.9 152.0,131.3 153.2,131.7 154.4,132.0 155.6,132.3 156.8,132.7 158.0,133.0 159.2,133.3 160.4,133.6 161.6,133.9 162.8,134.2 164.0,134.5 165.2,134.8 166.4,135.0 167.6,135.3 168.8,135.6 170.0,135.8 171.2,136.0 172.4,136.3 173.6,136.5 174.8,136.7 176.0,137.0 177.2,137.2 178.4,137.4 179.6,137.6 180.8,137.8 182.0,138.0 183.2,138.1 184.4,138.3 185.6,138.5 186.8,138.6 188.0,138.8 189.2,139.0 190.4,139.1 191.6,139.3" fill="none" stroke="#e2561c" stroke-width="5.5" stroke-linejoin="round" stroke-linecap="round" opacity="1.0"/>
<path d="M44.0 140.3V146.9M43.2 140.3h1.6M43.2 146.9h1.6M45.2 142.9V147.4M44.4 142.9h1.6M44.4 147.4h1.6M46.4 139.7V145.3M45.6 139.7h1.6M45.6 145.3h1.6M47.6 142.1V145.6M46.8 142.1h1.6M46.8 145.6h1.6M48.8 139.9V147.3M48.0 139.9h1.6M48.0 147.3h1.6M56.0 48.5V53.4M55.2 48.5h1.6M55.2 53.4h1.6M57.2 47.5V54.0M56.4 47.5h1.6M56.4 54.0h1.6M58.4 48.4V52.3M57.6 48.4h1.6M57.6 52.3h1.6M59.6 50.6V54.8M58.8 50.6h1.6M58.8 54.8h1.6M60.8 52.1V58.9M60.0 52.1h1.6M60.0 58.9h1.6M62.0 54.5V61.0M61.2 54.5h1.6M61.2 61.0h1.6M63.2 59.0V65.1M62.4 59.0h1.6M62.4 65.1h1.6M64.4 63.8V68.9M63.6 63.8h1.6M63.6 68.9h1.6M65.6 63.5V69.7M64.8 63.5h1.6M64.8 69.7h1.6M66.8 66.4V73.8M66.0 66.4h1.6M66.0 73.8h1.6M68.0 69.2V76.3M67.2 69.2h1.6M67.2 76.3h1.6M69.2 68.6V75.5M68.4 68.6h1.6M68.4 75.5h1.6M70.4 71.9V77.3M69.6 71.9h1.6M69.6 77.3h1.6M71.6 71.7V77.1M70.8 71.7h1.6M70.8 77.1h1.6M72.8 73.1V80.5M72.0 73.1h1.6M72.0 80.5h1.6M74.0 75.1V79.7M73.2 75.1h1.6M73.2 79.7h1.6M75.2 76.3V82.1M74.4 76.3h1.6M74.4 82.1h1.6M76.4 78.7V83.0M75.6 78.7h1.6M75.6 83.0h1.6M77.6 79.5V84.9M76.8 79.5h1.6M76.8 84.9h1.6M78.8 81.2V85.6M78.0 81.2h1.6M78.0 85.6h1.6M80.0 78.7V86.0M79.2 78.7h1.6M79.2 86.0h1.6M81.2 83.7V91.1M80.4 83.7h1.6M80.4 91.1h1.6M82.4 84.1V89.1M81.6 84.1h1.6M81.6 89.1h1.6M83.6 83.4V90.3M82.8 83.4h1.6M82.8 90.3h1.6M84.8 84.9V91.8M84.0 84.9h1.6M84.0 91.8h1.6M86.0 86.6V93.9M85.2 86.6h1.6M85.2 93.9h1.6M87.2 86.6V93.3M86.4 86.6h1.6M86.4 93.3h1.6M88.4 89.4V93.7M87.6 89.4h1.6M87.6 93.7h1.6M89.6 89.4V95.6M88.8 89.4h1.6M88.8 95.6h1.6M90.8 92.3V96.8M90.0 92.3h1.6M90.0 96.8h1.6M92.0 91.6V97.1M91.2 91.6h1.6M91.2 97.1h1.6M93.2 94.9V98.5M92.4 94.9h1.6M92.4 98.5h1.6M94.4 96.1V99.5M93.6 96.1h1.6M93.6 99.5h1.6M95.6 94.8V102.2M94.8 94.8h1.6M94.8 102.2h1.6M96.8 98.4V103.9M96.0 98.4h1.6M96.0 103.9h1.6M98.0 98.3V103.9M97.2 98.3h1.6M97.2 103.9h1.6M99.2 98.0V104.2M98.4 98.0h1.6M98.4 104.2h1.6M100.4 101.9V105.4M99.6 101.9h1.6M99.6 105.4h1.6M101.6 101.4V107.6M100.8 101.4h1.6M100.8 107.6h1.6M102.8 102.0V108.6M102.0 102.0h1.6M102.0 108.6h1.6M104.0 104.7V108.4M103.2 104.7h1.6M103.2 108.4h1.6M105.2 106.1V113.1M104.4 106.1h1.6M104.4 113.1h1.6M106.4 105.5V111.2M105.6 105.5h1.6M105.6 111.2h1.6M107.6 106.6V112.3M106.8 106.6h1.6M106.8 112.3h1.6M108.8 107.2V112.0M108.0 107.2h1.6M108.0 112.0h1.6M110.0 110.2V113.8M109.2 110.2h1.6M109.2 113.8h1.6M111.2 109.3V113.5M110.4 109.3h1.6M110.4 113.5h1.6M112.4 109.3V113.6M111.6 109.3h1.6M111.6 113.6h1.6M113.6 108.4V115.3M112.8 108.4h1.6M112.8 115.3h1.6M114.8 111.3V117.4M114.0 111.3h1.6M114.0 117.4h1.6M116.0 111.5V119.1M115.2 111.5h1.6M115.2 119.1h1.6M117.2 111.6V115.8M116.4 111.6h1.6M116.4 115.8h1.6M118.4 111.9V118.8M117.6 111.9h1.6M117.6 118.8h1.6M119.6 114.2V120.6M118.8 114.2h1.6M118.8 120.6h1.6M120.8 115.8V121.2M120.0 115.8h1.6M120.0 121.2h1.6M122.0 113.5V120.1M121.2 113.5h1.6M121.2 120.1h1.6M123.2 116.4V120.5M122.4 116.4h1.6M122.4 120.5h1.6M124.4 117.0V123.7M123.6 117.0h1.6M123.6 123.7h1.6M125.6 117.4V121.9M124.8 117.4h1.6M124.8 121.9h1.6M126.8 117.5V123.3M126.0 117.5h1.6M126.0 123.3h1.6M128.0 117.8V124.1M127.2 117.8h1.6M127.2 124.1h1.6M129.2 118.6V123.0M128.4 118.6h1.6M128.4 123.0h1.6M130.4 118.9V126.6M129.6 118.9h1.6M129.6 126.6h1.6M131.6 121.7V125.6M130.8 121.7h1.6M130.8 125.6h1.6M132.8 118.8V126.2M132.0 118.8h1.6M132.0 126.2h1.6M134.0 120.7V128.4M133.2 120.7h1.6M133.2 128.4h1.6M135.2 122.6V129.6M134.4 122.6h1.6M134.4 129.6h1.6M136.4 123.1V128.4M135.6 123.1h1.6M135.6 128.4h1.6M137.6 123.5V130.4M136.8 123.5h1.6M136.8 130.4h1.6M138.8 122.9V129.1M138.0 122.9h1.6M138.0 129.1h1.6M140.0 124.5V132.3M139.2 124.5h1.6M139.2 132.3h1.6M141.2 123.5V130.0M140.4 123.5h1.6M140.4 130.0h1.6M142.4 127.9V131.8M141.6 127.9h1.6M141.6 131.8h1.6M143.6 125.1V130.9M142.8 125.1h1.6M142.8 130.9h1.6M144.8 126.3V130.0M144.0 126.3h1.6M144.0 130.0h1.6M146.0 125.6V131.3M145.2 125.6h1.6M145.2 131.3h1.6M147.2 127.4V131.3M146.4 127.4h1.6M146.4 131.3h1.6M148.4 126.9V132.4M147.6 126.9h1.6M147.6 132.4h1.6M149.6 126.4V133.3M148.8 126.4h1.6M148.8 133.3h1.6M150.8 128.8V132.3M150.0 128.8h1.6M150.0 132.3h1.6M152.0 129.5V134.4M151.2 129.5h1.6M151.2 134.4h1.6M153.2 130.7V134.4M152.4 130.7h1.6M152.4 134.4h1.6M154.4 129.3V134.1M153.6 129.3h1.6M153.6 134.1h1.6M155.6 131.1V136.1M154.8 131.1h1.6M154.8 136.1h1.6M156.8 130.0V133.4M156.0 130.0h1.6M156.0 133.4h1.6M158.0 129.6V134.4M157.2 129.6h1.6M157.2 134.4h1.6M159.2 129.0V135.4M158.4 129.0h1.6M158.4 135.4h1.6M160.4 131.5V136.9M159.6 131.5h1.6M159.6 136.9h1.6M161.6 130.4V134.3M160.8 130.4h1.6M160.8 134.3h1.6M162.8 130.2V135.4M162.0 130.2h1.6M162.0 135.4h1.6M164.0 134.0V137.5M163.2 134.0h1.6M163.2 137.5h1.6M165.2 134.5V138.5M164.4 134.5h1.6M164.4 138.5h1.6M166.4 133.7V139.0M165.6 133.7h1.6M165.6 139.0h1.6M167.6 131.8V135.8M166.8 131.8h1.6M166.8 135.8h1.6M168.8 132.6V138.5M168.0 132.6h1.6M168.0 138.5h1.6M170.0 134.7V138.6M169.2 134.7h1.6M169.2 138.6h1.6M171.2 132.7V139.5M170.4 132.7h1.6M170.4 139.5h1.6M172.4 131.1V138.2M171.6 131.1h1.6M171.6 138.2h1.6M173.6 132.6V139.7M172.8 132.6h1.6M172.8 139.7h1.6M174.8 131.7V138.4M174.0 131.7h1.6M174.0 138.4h1.6M176.0 132.7V138.7M175.2 132.7h1.6M175.2 138.7h1.6M177.2 135.7V142.9M176.4 135.7h1.6M176.4 142.9h1.6M178.4 136.1V140.0M177.6 136.1h1.6M177.6 140.0h1.6M179.6 134.3V137.9M178.8 134.3h1.6M178.8 137.9h1.6M180.8 133.8V138.7M180.0 133.8h1.6M180.0 138.7h1.6M182.0 134.5V142.3M181.2 134.5h1.6M181.2 142.3h1.6M183.2 134.8V140.2M182.4 134.8h1.6M182.4 140.2h1.6M184.4 135.9V141.8M183.6 135.9h1.6M183.6 141.8h1.6M185.6 135.6V140.1M184.8 135.6h1.6M184.8 140.1h1.6M186.8 135.5V141.4M186.0 135.5h1.6M186.0 141.4h1.6M188.0 135.6V142.4M187.2 135.6h1.6M187.2 142.4h1.6M189.2 135.0V140.9M188.4 135.0h1.6M188.4 140.9h1.6M190.4 135.4V139.0M189.6 135.4h1.6M189.6 139.0h1.6M191.6 135.6V140.5M190.8 135.6h1.6M190.8 140.5h1.6" stroke="#e86a30" stroke-width="0.6" fill="none" opacity="1.0"/>
<path d="M48.8 143.6L56.0 51.0" stroke="#e07040" stroke-width="1.2" fill="none"/>
<polyline points="44.0,143.6 45.2,145.1 46.4,142.5 47.6,143.9 48.8,143.6" stroke="#d8420c" stroke-width="1.8" fill="none" stroke-linejoin="round" opacity="1.0"/>
<polyline points="56.0,51.0 57.2,50.7 58.4,50.4 59.6,52.7 60.8,55.5 62.0,57.7 63.2,62.0 64.4,66.4 65.6,66.6 66.8,70.1 68.0,72.7 69.2,72.1 70.4,74.6 71.6,74.4 72.8,76.8 74.0,77.4 75.2,79.2 76.4,80.8 77.6,82.2 78.8,83.4 80.0,82.3 81.2,87.4 82.4,86.6 83.6,86.8 84.8,88.3 86.0,90.3 87.2,90.0 88.4,91.6 89.6,92.5 90.8,94.6 92.0,94.3 93.2,96.7 94.4,97.8 95.6,98.5 96.8,101.1 98.0,101.1 99.2,101.1 100.4,103.6 101.6,104.5 102.8,105.3 104.0,106.5 105.2,109.6 106.4,108.4 107.6,109.4 108.8,109.6 110.0,112.0 111.2,111.4 112.4,111.5 113.6,111.8 114.8,114.3 116.0,115.3 117.2,113.7 118.4,115.3 119.6,117.4 120.8,118.5 122.0,116.8 123.2,118.4 124.4,120.4 125.6,119.7 126.8,120.4 128.0,121.0 129.2,120.8 130.4,122.8 131.6,123.6 132.8,122.5 134.0,124.6 135.2,126.1 136.4,125.7 137.6,127.0 138.8,126.0 140.0,128.4 141.2,126.7 142.4,129.9 143.6,128.0 144.8,128.2 146.0,128.4 147.2,129.3 148.4,129.6 149.6,129.8 150.8,130.6 152.0,132.0 153.2,132.5 154.4,131.7 155.6,133.6 156.8,131.7 158.0,132.0 159.2,132.2 160.4,134.2 161.6,132.4 162.8,132.8 164.0,135.8 165.2,136.5 166.4,136.4 167.6,133.8 168.8,135.6 170.0,136.6 171.2,136.1 172.4,134.7 173.6,136.2 174.8,135.0 176.0,135.7 177.2,139.3 178.4,138.0 179.6,136.1 180.8,136.3 182.0,138.4 183.2,137.5 184.4,138.9 185.6,137.8 186.8,138.4 188.0,139.0 189.2,137.9 190.4,137.2 191.6,138.0" stroke="#d8420c" stroke-width="1.8" fill="none" stroke-linejoin="round" opacity="1.0"/>
<path d="M43.0 143.6a1.0 1.0 0 1 0 2.0 0a1.0 1.0 0 1 0 -2.0 0M44.2 145.1a1.0 1.0 0 1 0 2.0 0a1.0 1.0 0 1 0 -2.0 0M45.4 142.5a1.0 1.0 0 1 0 2.0 0a1.0 1.0 0 1 0 -2.0 0M46.6 143.9a1.0 1.0 0 1 0 2.0 0a1.0 1.0 0 1 0 -2.0 0M47.8 143.6a1.0 1.0 0 1 0 2.0 0a1.0 1.0 0 1 0 -2.0 0M55.0 51.0a1.0 1.0 0 1 0 2.0 0a1.0 1.0 0 1 0 -2.0 0M56.2 50.7a1.0 1.0 0 1 0 2.0 0a1.0 1.0 0 1 0 -2.0 0M57.4 50.4a1.0 1.0 0 1 0 2.0 0a1.0 1.0 0 1 0 -2.0 0M58.6 52.7a1.0 1.0 0 1 0 2.0 0a1.0 1.0 0 1 0 -2.0 0M59.8 55.5a1.0 1.0 0 1 0 2.0 0a1.0 1.0 0 1 0 -2.0 0M61.0 57.7a1.0 1.0 0 1 0 2.0 0a1.0 1.0 0 1 0 -2.0 0M62.2 62.0a1.0 1.0 0 1 0 2.0 0a1.0 1.0 0 1 0 -2.0 0M63.4 66.4a1.0 1.0 0 1 0 2.0 0a1.0 1.0 0 1 0 -2.0 0M64.6 66.6a1.0 1.0 0 1 0 2.0 0a1.0 1.0 0 1 0 -2.0 0M65.8 70.1a1.0 1.0 0 1 0 2.0 0a1.0 1.0 0 1 0 -2.0 0M67.0 72.7a1.0 1.0 0 1 0 2.0 0a1.0 1.0 0 1 0 -2.0 0M68.2 72.1a1.0 1.0 0 1 0 2.0 0a1.0 1.0 0 1 0 -2.0 0M69.4 74.6a1.0 1.0 0 1 0 2.0 0a1.0 1.0 0 1 0 -2.0 0M70.6 74.4a1.0 1.0 0 1 0 2.0 0a1.0 1.0 0 1 0 -2.0 0M71.8 76.8a1.0 1.0 0 1 0 2.0 0a1.0 1.0 0 1 0 -2.0 0M73.0 77.4a1.0 1.0 0 1 0 2.0 0a1.0 1.0 0 1 0 -2.0 0M74.2 79.2a1.0 1.0 0 1 0 2.0 0a1.0 1.0 0 1 0 -2.0 0M75.4 80.8a1.0 1.0 0 1 0 2.0 0a1.0 1.0 0 1 0 -2.0 0M76.6 82.2a1.0 1.0 0 1 0 2.0 0a1.0 1.0 0 1 0 -2.0 0M77.8 83.4a1.0 1.0 0 1 0 2.0 0a1.0 1.0 0 1 0 -2.0 0M79.0 82.3a1.0 1.0 0 1 0 2.0 0a1.0 1.0 0 1 0 -2.0 0M80.2 87.4a1.0 1.0 0 1 0 2.0 0a1.0 1.0 0 1 0 -2.0 0M81.4 86.6a1.0 1.0 0 1 0 2.0 0a1.0 1.0 0 1 0 -2.0 0M82.6 86.8a1.0 1.0 0 1 0 2.0 0a1.0 1.0 0 1 0 -2.0 0M83.8 88.3a1.0 1.0 0 1 0 2.0 0a1.0 1.0 0 1 0 -2.0 0M85.0 90.3a1.0 1.0 0 1 0 2.0 0a1.0 1.0 0 1 0 -2.0 0M86.2 90.0a1.0 1.0 0 1 0 2.0 0a1.0 1.0 0 1 0 -2.0 0M87.4 91.6a1.0 1.0 0 1 0 2.0 0a1.0 1.0 0 1 0 -2.0 0M88.6 92.5a1.0 1.0 0 1 0 2.0 0a1.0 1.0 0 1 0 -2.0 0M89.8 94.6a1.0 1.0 0 1 0 2.0 0a1.0 1.0 0 1 0 -2.0 0M91.0 94.3a1.0 1.0 0 1 0 2.0 0a1.0 1.0 0 1 0 -2.0 0M92.2 96.7a1.0 1.0 0 1 0 2.0 0a1.0 1.0 0 1 0 -2.0 0M93.4 97.8a1.0 1.0 0 1 0 2.0 0a1.0 1.0 0 1 0 -2.0 0M94.6 98.5a1.0 1.0 0 1 0 2.0 0a1.0 1.0 0 1 0 -2.0 0M95.8 101.1a1.0 1.0 0 1 0 2.0 0a1.0 1.0 0 1 0 -2.0 0M97.0 101.1a1.0 1.0 0 1 0 2.0 0a1.0 1.0 0 1 0 -2.0 0M98.2 101.1a1.0 1.0 0 1 0 2.0 0a1.0 1.0 0 1 0 -2.0 0M99.4 103.6a1.0 1.0 0 1 0 2.0 0a1.0 1.0 0 1 0 -2.0 0M100.6 104.5a1.0 1.0 0 1 0 2.0 0a1.0 1.0 0 1 0 -2.0 0M101.8 105.3a1.0 1.0 0 1 0 2.0 0a1.0 1.0 0 1 0 -2.0 0M103.0 106.5a1.0 1.0 0 1 0 2.0 0a1.0 1.0 0 1 0 -2.0 0M104.2 109.6a1.0 1.0 0 1 0 2.0 0a1.0 1.0 0 1 0 -2.0 0M105.4 108.4a1.0 1.0 0 1 0 2.0 0a1.0 1.0 0 1 0 -2.0 0M106.6 109.4a1.0 1.0 0 1 0 2.0 0a1.0 1.0 0 1 0 -2.0 0M107.8 109.6a1.0 1.0 0 1 0 2.0 0a1.0 1.0 0 1 0 -2.0 0M109.0 112.0a1.0 1.0 0 1 0 2.0 0a1.0 1.0 0 1 0 -2.0 0M110.2 111.4a1.0 1.0 0 1 0 2.0 0a1.0 1.0 0 1 0 -2.0 0M111.4 111.5a1.0 1.0 0 1 0 2.0 0a1.0 1.0 0 1 0 -2.0 0M112.6 111.8a1.0 1.0 0 1 0 2.0 0a1.0 1.0 0 1 0 -2.0 0M113.8 114.3a1.0 1.0 0 1 0 2.0 0a1.0 1.0 0 1 0 -2.0 0M115.0 115.3a1.0 1.0 0 1 0 2.0 0a1.0 1.0 0 1 0 -2.0 0M116.2 113.7a1.0 1.0 0 1 0 2.0 0a1.0 1.0 0 1 0 -2.0 0M117.4 115.3a1.0 1.0 0 1 0 2.0 0a1.0 1.0 0 1 0 -2.0 0M118.6 117.4a1.0 1.0 0 1 0 2.0 0a1.0 1.0 0 1 0 -2.0 0M119.8 118.5a1.0 1.0 0 1 0 2.0 0a1.0 1.0 0 1 0 -2.0 0M121.0 116.8a1.0 1.0 0 1 0 2.0 0a1.0 1.0 0 1 0 -2.0 0M122.2 118.4a1.0 1.0 0 1 0 2.0 0a1.0 1.0 0 1 0 -2.0 0M123.4 120.4a1.0 1.0 0 1 0 2.0 0a1.0 1.0 0 1 0 -2.0 0M124.6 119.7a1.0 1.0 0 1 0 2.0 0a1.0 1.0 0 1 0 -2.0 0M125.8 120.4a1.0 1.0 0 1 0 2.0 0a1.0 1.0 0 1 0 -2.0 0M127.0 121.0a1.0 1.0 0 1 0 2.0 0a1.0 1.0 0 1 0 -2.0 0M128.2 120.8a1.0 1.0 0 1 0 2.0 0a1.0 1.0 0 1 0 -2.0 0M129.4 122.8a1.0 1.0 0 1 0 2.0 0a1.0 1.0 0 1 0 -2.0 0M130.6 123.6a1.0 1.0 0 1 0 2.0 0a1.0 1.0 0 1 0 -2.0 0M131.8 122.5a1.0 1.0 0 1 0 2.0 0a1.0 1.0 0 1 0 -2.0 0M133.0 124.6a1.0 1.0 0 1 0 2.0 0a1.0 1.0 0 1 0 -2.0 0M134.2 126.1a1.0 1.0 0 1 0 2.0 0a1.0 1.0 0 1 0 -2.0 0M135.4 125.7a1.0 1.0 0 1 0 2.0 0a1.0 1.0 0 1 0 -2.0 0M136.6 127.0a1.0 1.0 0 1 0 2.0 0a1.0 1.0 0 1 0 -2.0 0M137.8 126.0a1.0 1.0 0 1 0 2.0 0a1.0 1.0 0 1 0 -2.0 0M139.0 128.4a1.0 1.0 0 1 0 2.0 0a1.0 1.0 0 1 0 -2.0 0M140.2 126.7a1.0 1.0 0 1 0 2.0 0a1.0 1.0 0 1 0 -2.0 0M141.4 129.9a1.0 1.0 0 1 0 2.0 0a1.0 1.0 0 1 0 -2.0 0M142.6 128.0a1.0 1.0 0 1 0 2.0 0a1.0 1.0 0 1 0 -2.0 0M143.8 128.2a1.0 1.0 0 1 0 2.0 0a1.0 1.0 0 1 0 -2.0 0M145.0 128.4a1.0 1.0 0 1 0 2.0 0a1.0 1.0 0 1 0 -2.0 0M146.2 129.3a1.0 1.0 0 1 0 2.0 0a1.0 1.0 0 1 0 -2.0 0M147.4 129.6a1.0 1.0 0 1 0 2.0 0a1.0 1.0 0 1 0 -2.0 0M148.6 129.8a1.0 1.0 0 1 0 2.0 0a1.0 1.0 0 1 0 -2.0 0M149.8 130.6a1.0 1.0 0 1 0 2.0 0a1.0 1.0 0 1 0 -2.0 0M151.0 132.0a1.0 1.0 0 1 0 2.0 0a1.0 1.0 0 1 0 -2.0 0M152.2 132.5a1.0 1.0 0 1 0 2.0 0a1.0 1.0 0 1 0 -2.0 0M153.4 131.7a1.0 1.0 0 1 0 2.0 0a1.0 1.0 0 1 0 -2.0 0M154.6 133.6a1.0 1.0 0 1 0 2.0 0a1.0 1.0 0 1 0 -2.0 0M155.8 131.7a1.0 1.0 0 1 0 2.0 0a1.0 1.0 0 1 0 -2.0 0M157.0 132.0a1.0 1.0 0 1 0 2.0 0a1.0 1.0 0 1 0 -2.0 0M158.2 132.2a1.0 1.0 0 1 0 2.0 0a1.0 1.0 0 1 0 -2.0 0M159.4 134.2a1.0 1.0 0 1 0 2.0 0a1.0 1.0 0 1 0 -2.0 0M160.6 132.4a1.0 1.0 0 1 0 2.0 0a1.0 1.0 0 1 0 -2.0 0M161.8 132.8a1.0 1.0 0 1 0 2.0 0a1.0 1.0 0 1 0 -2.0 0M163.0 135.8a1.0 1.0 0 1 0 2.0 0a1.0 1.0 0 1 0 -2.0 0M164.2 136.5a1.0 1.0 0 1 0 2.0 0a1.0 1.0 0 1 0 -2.0 0M165.4 136.4a1.0 1.0 0 1 0 2.0 0a1.0 1.0 0 1 0 -2.0 0M166.6 133.8a1.0 1.0 0 1 0 2.0 0a1.0 1.0 0 1 0 -2.0 0M167.8 135.6a1.0 1.0 0 1 0 2.0 0a1.0 1.0 0 1 0 -2.0 0M169.0 136.6a1.0 1.0 0 1 0 2.0 0a1.0 1.0 0 1 0 -2.0 0M170.2 136.1a1.0 1.0 0 1 0 2.0 0a1.0 1.0 0 1 0 -2.0 0M171.4 134.7a1.0 1.0 0 1 0 2.0 0a1.0 1.0 0 1 0 -2.0 0M172.6 136.2a1.0 1.0 0 1 0 2.0 0a1.0 1.0 0 1 0 -2.0 0M173.8 135.0a1.0 1.0 0 1 0 2.0 0a1.0 1.0 0 1 0 -2.0 0M175.0 135.7a1.0 1.0 0 1 0 2.0 0a1.0 1.0 0 1 0 -2.0 0M176.2 139.3a1.0 1.0 0 1 0 2.0 0a1.0 1.0 0 1 0 -2.0 0M177.4 138.0a1.0 1.0 0 1 0 2.0 0a1.0 1.0 0 1 0 -2.0 0M178.6 136.1a1.0 1.0 0 1 0 2.0 0a1.0 1.0 0 1 0 -2.0 0M179.8 136.3a1.0 1.0 0 1 0 2.0 0a1.0 1.0 0 1 0 -2.0 0M181.0 138.4a1.0 1.0 0 1 0 2.0 0a1.0 1.0 0 1 0 -2.0 0M182.2 137.5a1.0 1.0 0 1 0 2.0 0a1.0 1.0 0 1 0 -2.0 0M183.4 138.9a1.0 1.0 0 1 0 2.0 0a1.0 1.0 0 1 0 -2.0 0M184.6 137.8a1.0 1.0 0 1 0 2.0 0a1.0 1.0 0 1 0 -2.0 0M185.8 138.4a1.0 1.0 0 1 0 2.0 0a1.0 1.0 0 1 0 -2.0 0M187.0 139.0a1.0 1.0 0 1 0 2.0 0a1.0 1.0 0 1 0 -2.0 0M188.2 137.9a1.0 1.0 0 1 0 2.0 0a1.0 1.0 0 1 0 -2.0 0M189.4 137.2a1.0 1.0 0 1 0 2.0 0a1.0 1.0 0 1 0 -2.0 0M190.6 138.0a1.0 1.0 0 1 0 2.0 0a1.0 1.0 0 1 0 -2.0 0" fill="#b83008" opacity="1.0"/>
<path d="M44.0 139.9V146.5M43.2 139.9h1.6M43.2 146.5h1.6M46.0 140.0V143.1M45.2 140.0h1.6M45.2 143.1h1.6M48.0 139.6V146.0M47.2 139.6h1.6M47.2 146.0h1.6M52.0 47.0V53.2M51.2 47.0h1.6M51.2 53.2h1.6M54.0 47.7V53.6M53.2 47.7h1.6M53.2 53.6h1.6M56.0 51.6V55.1M55.2 51.6h1.6M55.2 55.1h1.6M58.0 54.3V60.5M57.2 54.3h1.6M57.2 60.5h1.6M60.0 56.4V63.0M59.2 56.4h1.6M59.2 63.0h1.6M62.0 58.1V62.2M61.2 58.1h1.6M61.2 62.2h1.6M64.0 62.4V65.8M63.2 62.4h1.6M63.2 65.8h1.6M66.0 62.5V66.0M65.2 62.5h1.6M65.2 66.0h1.6M68.0 65.2V69.1M67.2 65.2h1.6M67.2 69.1h1.6M70.0 65.8V69.6M69.2 65.8h1.6M69.2 69.6h1.6M72.0 68.9V72.1M71.2 68.9h1.6M71.2 72.1h1.6M74.0 69.6V73.3M73.2 69.6h1.6M73.2 73.3h1.6M76.0 69.5V73.8M75.2 69.5h1.6M75.2 73.8h1.6M78.0 69.7V75.5M77.2 69.7h1.6M77.2 75.5h1.6M80.0 71.1V77.7M79.2 71.1h1.6M79.2 77.7h1.6M82.0 75.3V78.2M81.2 75.3h1.6M81.2 78.2h1.6M84.0 74.5V80.9M83.2 74.5h1.6M83.2 80.9h1.6M86.0 74.9V81.2M85.2 74.9h1.6M85.2 81.2h1.6M88.0 76.4V83.0M87.2 76.4h1.6M87.2 83.0h1.6M90.0 80.3V85.1M89.2 80.3h1.6M89.2 85.1h1.6M92.0 78.7V83.0M91.2 78.7h1.6M91.2 83.0h1.6M94.0 83.3V87.0M93.2 83.3h1.6M93.2 87.0h1.6M96.0 83.4V87.4M95.2 83.4h1.6M95.2 87.4h1.6M98.0 88.0V91.9M97.2 88.0h1.6M97.2 91.9h1.6M100.0 88.0V91.9M99.2 88.0h1.6M99.2 91.9h1.6M102.0 89.9V94.4M101.2 89.9h1.6M101.2 94.4h1.6M104.0 90.8V93.9M103.2 90.8h1.6M103.2 93.9h1.6M106.0 93.0V96.4M105.2 93.0h1.6M105.2 96.4h1.6M108.0 94.6V99.1M107.2 94.6h1.6M107.2 99.1h1.6M110.0 97.8V100.8M109.2 97.8h1.6M109.2 100.8h1.6M112.0 94.7V100.8M111.2 94.7h1.6M111.2 100.8h1.6M114.0 97.5V103.1M113.2 97.5h1.6M113.2 103.1h1.6M116.0 104.8V108.6M115.2 104.8h1.6M115.2 108.6h1.6M118.0 102.1V107.9M117.2 102.1h1.6M117.2 107.9h1.6M120.0 102.2V108.8M119.2 102.2h1.6M119.2 108.8h1.6M122.0 104.4V110.4M121.2 104.4h1.6M121.2 110.4h1.6M124.0 103.2V107.2M123.2 103.2h1.6M123.2 107.2h1.6M126.0 108.7V113.9M125.2 108.7h1.6M125.2 113.9h1.6M128.0 108.6V114.2M127.2 108.6h1.6M127.2 114.2h1.6M130.0 108.3V114.5M129.2 108.3h1.6M129.2 114.5h1.6M132.0 113.8V118.2M131.2 113.8h1.6M131.2 118.2h1.6M134.0 113.7V117.6M133.2 113.7h1.6M133.2 117.6h1.6M136.0 114.5V118.9M135.2 114.5h1.6M135.2 118.9h1.6M138.0 118.1V121.2M137.2 118.1h1.6M137.2 121.2h1.6M140.0 117.6V123.7M139.2 117.6h1.6M139.2 123.7h1.6M142.0 118.0V123.5M141.2 118.0h1.6M141.2 123.5h1.6M144.0 119.8V124.7M143.2 119.8h1.6M143.2 124.7h1.6M146.0 119.3V124.3M145.2 119.3h1.6M145.2 124.3h1.6M148.0 119.4V125.9M147.2 119.4h1.6M147.2 125.9h1.6M150.0 124.6V127.6M149.2 124.6h1.6M149.2 127.6h1.6M152.0 124.3V130.6M151.2 124.3h1.6M151.2 130.6h1.6M154.0 125.3V129.3M153.2 125.3h1.6M153.2 129.3h1.6M156.0 125.6V130.4M155.2 125.6h1.6M155.2 130.4h1.6M158.0 125.6V130.2M157.2 125.6h1.6M157.2 130.2h1.6M160.0 126.8V130.9M159.2 126.8h1.6M159.2 130.9h1.6M162.0 126.4V130.7M161.2 126.4h1.6M161.2 130.7h1.6M164.0 129.6V134.6M163.2 129.6h1.6M163.2 134.6h1.6M166.0 128.0V132.1M165.2 128.0h1.6M165.2 132.1h1.6M168.0 129.8V133.5M167.2 129.8h1.6M167.2 133.5h1.6M170.0 130.3V133.2M169.2 130.3h1.6M169.2 133.2h1.6M172.0 128.6V132.7M171.2 128.6h1.6M171.2 132.7h1.6M174.0 132.4V137.2M173.2 132.4h1.6M173.2 137.2h1.6M176.0 131.2V134.3M175.2 131.2h1.6M175.2 134.3h1.6M178.0 131.2V134.3M177.2 131.2h1.6M177.2 134.3h1.6M180.0 131.0V137.3M179.2 131.0h1.6M179.2 137.3h1.6M182.0 132.0V134.9M181.2 132.0h1.6M181.2 134.9h1.6M184.0 133.2V136.4M183.2 133.2h1.6M183.2 136.4h1.6M186.0 132.0V136.2M185.2 132.0h1.6M185.2 136.2h1.6M188.0 133.4V138.9M187.2 133.4h1.6M187.2 138.9h1.6M190.0 133.2V138.7M189.2 133.2h1.6M189.2 138.7h1.6" stroke="#5a2a40" stroke-width="0.6" fill="none" opacity="1.0"/>
<path d="M48.0 142.8L52.0 50.1" stroke="#a07080" stroke-width="1.0" fill="none"/>
<polyline points="44.0,143.2 46.0,141.6 48.0,142.8" stroke="#3a0c26" stroke-width="1.2" fill="none" stroke-linejoin="round" opacity="1.0"/>
<polyline points="52.0,50.1 54.0,50.7 56.0,53.4 58.0,57.4 60.0,59.7 62.0,60.2 64.0,64.1 66.0,64.2 68.0,67.1 70.0,67.7 72.0,70.5 74.0,71.5 76.0,71.6 78.0,72.6 80.0,74.4 82.0,76.7 84.0,77.7 86.0,78.1 88.0,79.7 90.0,82.7 92.0,80.9 94.0,85.1 96.0,85.4 98.0,89.9 100.0,89.9 102.0,92.1 104.0,92.4 106.0,94.7 108.0,96.8 110.0,99.3 112.0,97.7 114.0,100.3 116.0,106.7 118.0,105.0 120.0,105.5 122.0,107.4 124.0,105.2 126.0,111.3 128.0,111.4 130.0,111.4 132.0,116.0 134.0,115.6 136.0,116.7 138.0,119.6 140.0,120.7 142.0,120.8 144.0,122.2 146.0,121.8 148.0,122.7 150.0,126.1 152.0,127.4 154.0,127.3 156.0,128.0 158.0,127.9 160.0,128.9 162.0,128.6 164.0,132.1 166.0,130.1 168.0,131.7 170.0,131.7 172.0,130.7 174.0,134.8 176.0,132.7 178.0,132.7 180.0,134.1 182.0,133.4 184.0,134.8 186.0,134.1 188.0,136.2 190.0,135.9" stroke="#3a0c26" stroke-width="1.2" fill="none" stroke-linejoin="round" opacity="1.0"/>
<path d="M42.3 143.2a1.7 1.7 0 1 0 3.4 0a1.7 1.7 0 1 0 -3.4 0M44.3 141.6a1.7 1.7 0 1 0 3.4 0a1.7 1.7 0 1 0 -3.4 0M46.3 142.8a1.7 1.7 0 1 0 3.4 0a1.7 1.7 0 1 0 -3.4 0M50.3 50.1a1.7 1.7 0 1 0 3.4 0a1.7 1.7 0 1 0 -3.4 0M52.3 50.7a1.7 1.7 0 1 0 3.4 0a1.7 1.7 0 1 0 -3.4 0M54.3 53.4a1.7 1.7 0 1 0 3.4 0a1.7 1.7 0 1 0 -3.4 0M56.3 57.4a1.7 1.7 0 1 0 3.4 0a1.7 1.7 0 1 0 -3.4 0M58.3 59.7a1.7 1.7 0 1 0 3.4 0a1.7 1.7 0 1 0 -3.4 0M60.3 60.2a1.7 1.7 0 1 0 3.4 0a1.7 1.7 0 1 0 -3.4 0M62.3 64.1a1.7 1.7 0 1 0 3.4 0a1.7 1.7 0 1 0 -3.4 0M64.3 64.2a1.7 1.7 0 1 0 3.4 0a1.7 1.7 0 1 0 -3.4 0M66.3 67.1a1.7 1.7 0 1 0 3.4 0a1.7 1.7 0 1 0 -3.4 0M68.3 67.7a1.7 1.7 0 1 0 3.4 0a1.7 1.7 0 1 0 -3.4 0M70.3 70.5a1.7 1.7 0 1 0 3.4 0a1.7 1.7 0 1 0 -3.4 0M72.3 71.5a1.7 1.7 0 1 0 3.4 0a1.7 1.7 0 1 0 -3.4 0M74.3 71.6a1.7 1.7 0 1 0 3.4 0a1.7 1.7 0 1 0 -3.4 0M76.3 72.6a1.7 1.7 0 1 0 3.4 0a1.7 1.7 0 1 0 -3.4 0M78.3 74.4a1.7 1.7 0 1 0 3.4 0a1.7 1.7 0 1 0 -3.4 0M80.3 76.7a1.7 1.7 0 1 0 3.4 0a1.7 1.7 0 1 0 -3.4 0M82.3 77.7a1.7 1.7 0 1 0 3.4 0a1.7 1.7 0 1 0 -3.4 0M84.3 78.1a1.7 1.7 0 1 0 3.4 0a1.7 1.7 0 1 0 -3.4 0M86.3 79.7a1.7 1.7 0 1 0 3.4 0a1.7 1.7 0 1 0 -3.4 0M88.3 82.7a1.7 1.7 0 1 0 3.4 0a1.7 1.7 0 1 0 -3.4 0M90.3 80.9a1.7 1.7 0 1 0 3.4 0a1.7 1.7 0 1 0 -3.4 0M92.3 85.1a1.7 1.7 0 1 0 3.4 0a1.7 1.7 0 1 0 -3.4 0M94.3 85.4a1.7 1.7 0 1 0 3.4 0a1.7 1.7 0 1 0 -3.4 0M96.3 89.9a1.7 1.7 0 1 0 3.4 0a1.7 1.7 0 1 0 -3.4 0M98.3 89.9a1.7 1.7 0 1 0 3.4 0a1.7 1.7 0 1 0 -3.4 0M100.3 92.1a1.7 1.7 0 1 0 3.4 0a1.7 1.7 0 1 0 -3.4 0M102.3 92.4a1.7 1.7 0 1 0 3.4 0a1.7 1.7 0 1 0 -3.4 0M104.3 94.7a1.7 1.7 0 1 0 3.4 0a1.7 1.7 0 1 0 -3.4 0M106.3 96.8a1.7 1.7 0 1 0 3.4 0a1.7 1.7 0 1 0 -3.4 0M108.3 99.3a1.7 1.7 0 1 0 3.4 0a1.7 1.7 0 1 0 -3.4 0M110.3 97.7a1.7 1.7 0 1 0 3.4 0a1.7 1.7 0 1 0 -3.4 0M112.3 100.3a1.7 1.7 0 1 0 3.4 0a1.7 1.7 0 1 0 -3.4 0M114.3 106.7a1.7 1.7 0 1 0 3.4 0a1.7 1.7 0 1 0 -3.4 0M116.3 105.0a1.7 1.7 0 1 0 3.4 0a1.7 1.7 0 1 0 -3.4 0M118.3 105.5a1.7 1.7 0 1 0 3.4 0a1.7 1.7 0 1 0 -3.4 0M120.3 107.4a1.7 1.7 0 1 0 3.4 0a1.7 1.7 0 1 0 -3.4 0M122.3 105.2a1.7 1.7 0 1 0 3.4 0a1.7 1.7 0 1 0 -3.4 0M124.3 111.3a1.7 1.7 0 1 0 3.4 0a1.7 1.7 0 1 0 -3.4 0M126.3 111.4a1.7 1.7 0 1 0 3.4 0a1.7 1.7 0 1 0 -3.4 0M128.3 111.4a1.7 1.7 0 1 0 3.4 0a1.7 1.7 0 1 0 -3.4 0M130.3 116.0a1.7 1.7 0 1 0 3.4 0a1.7 1.7 0 1 0 -3.4 0M132.3 115.6a1.7 1.7 0 1 0 3.4 0a1.7 1.7 0 1 0 -3.4 0M134.3 116.7a1.7 1.7 0 1 0 3.4 0a1.7 1.7 0 1 0 -3.4 0M136.3 119.6a1.7 1.7 0 1 0 3.4 0a1.7 1.7 0 1 0 -3.4 0M138.3 120.7a1.7 1.7 0 1 0 3.4 0a1.7 1.7 0 1 0 -3.4 0M140.3 120.8a1.7 1.7 0 1 0 3.4 0a1.7 1.7 0 1 0 -3.4 0M142.3 122.2a1.7 1.7 0 1 0 3.4 0a1.7 1.7 0 1 0 -3.4 0M144.3 121.8a1.7 1.7 0 1 0 3.4 0a1.7 1.7 0 1 0 -3.4 0M146.3 122.7a1.7 1.7 0 1 0 3.4 0a1.7 1.7 0 1 0 -3.4 0M148.3 126.1a1.7 1.7 0 1 0 3.4 0a1.7 1.7 0 1 0 -3.4 0M150.3 127.4a1.7 1.7 0 1 0 3.4 0a1.7 1.7 0 1 0 -3.4 0M152.3 127.3a1.7 1.7 0 1 0 3.4 0a1.7 1.7 0 1 0 -3.4 0M154.3 128.0a1.7 1.7 0 1 0 3.4 0a1.7 1.7 0 1 0 -3.4 0M156.3 127.9a1.7 1.7 0 1 0 3.4 0a1.7 1.7 0 1 0 -3.4 0M158.3 128.9a1.7 1.7 0 1 0 3.4 0a1.7 1.7 0 1 0 -3.4 0M160.3 128.6a1.7 1.7 0 1 0 3.4 0a1.7 1.7 0 1 0 -3.4 0M162.3 132.1a1.7 1.7 0 1 0 3.4 0a1.7 1.7 0 1 0 -3.4 0M164.3 130.1a1.7 1.7 0 1 0 3.4 0a1.7 1.7 0 1 0 -3.4 0M166.3 131.7a1.7 1.7 0 1 0 3.4 0a1.7 1.7 0 1 0 -3.4 0M168.3 131.7a1.7 1.7 0 1 0 3.4 0a1.7 1.7 0 1 0 -3.4 0M170.3 130.7a1.7 1.7 0 1 0 3.4 0a1.7 1.7 0 1 0 -3.4 0M172.3 134.8a1.7 1.7 0 1 0 3.4 0a1.7 1.7 0 1 0 -3.4 0M174.3 132.7a1.7 1.7 0 1 0 3.4 0a1.7 1.7 0 1 0 -3.4 0M176.3 132.7a1.7 1.7 0 1 0 3.4 0a1.7 1.7 0 1 0 -3.4 0M178.3 134.1a1.7 1.7 0 1 0 3.4 0a1.7 1.7 0 1 0 -3.4 0M180.3 133.4a1.7 1.7 0 1 0 3.4 0a1.7 1.7 0 1 0 -3.4 0M182.3 134.8a1.7 1.7 0 1 0 3.4 0a1.7 1.7 0 1 0 -3.4 0M184.3 134.1a1.7 1.7 0 1 0 3.4 0a1.7 1.7 0 1 0 -3.4 0M186.3 136.2a1.7 1.7 0 1 0 3.4 0a1.7 1.7 0 1 0 -3.4 0M188.3 135.9a1.7 1.7 0 1 0 3.4 0a1.7 1.7 0 1 0 -3.4 0" fill="#3a0c26" opacity="1.0"/>
<path d="M50.4 144V54" stroke="#c47448" stroke-width="1.5" fill="none"/>
<circle cx="50.2" cy="83.2" r="1.5" fill="#111"/>
<polygon points="44.0,141.0 45.0,140.7 46.0,140.6 47.0,140.5 48.0,140.6 49.0,140.7 50.0,141.0 50.0,147.0 49.0,148.0 48.0,148.7 47.0,149.0 46.0,149.0 45.0,148.9 44.0,148.5" fill="#6a1a18" opacity="0.85"/>
<polygon points="324.5,131.0 325.5,130.0 326.5,128.7 327.5,127.2 328.5,125.4 329.5,123.6 330.5,121.8 331.5,120.0 332.5,118.6 333.5,117.5 334.5,116.6 335.5,115.8 336.5,115.2 337.5,114.8 338.5,114.7 339.5,114.6 340.5,114.5 341.5,114.4 342.5,114.3 343.5,114.3 344.5,114.4 345.5,114.8 346.5,115.5 347.5,116.4 348.5,117.5 349.5,118.7 350.5,119.8 351.5,120.9 352.5,122.2 353.5,123.6 354.5,124.9 355.5,126.1 356.5,127.2 357.5,128.2 358.5,128.8 359.5,129.2 360.5,129.6 361.5,129.9 362.5,130.1 363.5,130.3 364.5,130.5 365.5,130.6 366.5,130.8 367.5,130.9 368.5,131.0 369.5,131.0 369.5,131.9 368.5,131.8 367.5,131.7 366.5,131.6 365.5,131.4 364.5,131.3 363.5,131.2 362.5,131.1 361.5,130.9 360.5,130.8 359.5,130.7 358.5,130.6 357.5,130.4 356.5,130.3 355.5,130.2 354.5,130.1 353.5,129.9 352.5,129.8 351.5,129.7 350.5,129.6 349.5,129.4 348.5,129.3 347.5,129.2 346.5,129.1 345.5,128.9 344.5,128.8 343.5,128.7 342.5,128.6 341.5,128.5 340.5,128.5 339.5,128.5 338.5,128.5 337.5,128.5 336.5,128.6 335.5,128.6 334.5,128.7 333.5,128.7 332.5,128.8 331.5,128.9 330.5,129.0 329.5,129.1 328.5,129.4 327.5,129.8 326.5,130.3 325.5,130.9 324.5,131.5" fill="#3550d8" opacity="1.0"/>
<path d="M319.0 137.0V140.3M318.2 137.0h1.6M318.2 140.3h1.6M320.2 136.4V141.8M319.4 136.4h1.6M319.4 141.8h1.6M321.4 136.6V143.0M320.6 136.6h1.6M320.6 143.0h1.6M322.6 136.9V141.1M321.8 136.9h1.6M321.8 141.1h1.6M323.8 138.4V144.5M323.0 138.4h1.6M323.0 144.5h1.6M325.0 133.0V139.3M324.2 133.0h1.6M324.2 139.3h1.6M326.2 133.8V139.6M325.4 133.8h1.6M325.4 139.6h1.6M327.4 137.7V141.1M326.6 137.7h1.6M326.6 141.1h1.6M328.6 134.1V140.2M327.8 134.1h1.6M327.8 140.2h1.6M329.8 137.8V141.6M329.0 137.8h1.6M329.0 141.6h1.6M331.0 137.1V140.7M330.2 137.1h1.6M330.2 140.7h1.6M332.2 137.1V144.3M331.4 137.1h1.6M331.4 144.3h1.6M333.4 136.9V144.0M332.6 136.9h1.6M332.6 144.0h1.6M334.6 138.0V145.5M333.8 138.0h1.6M333.8 145.5h1.6M335.8 139.3V143.1M335.0 139.3h1.6M335.0 143.1h1.6M337.0 139.3V144.1M336.2 139.3h1.6M336.2 144.1h1.6M338.2 138.6V142.8M337.4 138.6h1.6M337.4 142.8h1.6M339.4 139.1V143.9M338.6 139.1h1.6M338.6 143.9h1.6M340.6 138.8V142.7M339.8 138.8h1.6M339.8 142.7h1.6M341.8 136.3V142.1M341.0 136.3h1.6M341.0 142.1h1.6M343.0 134.8V141.8M342.2 134.8h1.6M342.2 141.8h1.6M344.2 134.6V142.2M343.4 134.6h1.6M343.4 142.2h1.6M345.4 137.3V144.3M344.6 137.3h1.6M344.6 144.3h1.6M346.6 134.0V139.5M345.8 134.0h1.6M345.8 139.5h1.6M347.8 137.9V142.9M347.0 137.9h1.6M347.0 142.9h1.6M349.0 136.7V141.5M348.2 136.7h1.6M348.2 141.5h1.6M350.2 138.2V144.3M349.4 138.2h1.6M349.4 144.3h1.6M351.4 137.3V143.7M350.6 137.3h1.6M350.6 143.7h1.6M352.6 136.7V141.7M351.8 136.7h1.6M351.8 141.7h1.6M353.8 137.2V143.3M353.0 137.2h1.6M353.0 143.3h1.6M355.0 135.1V139.1M354.2 135.1h1.6M354.2 139.1h1.6M356.2 138.9V142.5M355.4 138.9h1.6M355.4 142.5h1.6M357.4 137.5V144.4M356.6 137.5h1.6M356.6 144.4h1.6M358.6 135.7V139.9M357.8 135.7h1.6M357.8 139.9h1.6M359.8 137.9V145.2M359.0 137.9h1.6M359.0 145.2h1.6M361.0 136.4V144.0M360.2 136.4h1.6M360.2 144.0h1.6M362.2 138.5V142.8M361.4 138.5h1.6M361.4 142.8h1.6M363.4 136.1V140.7M362.6 136.1h1.6M362.6 140.7h1.6M364.6 138.3V144.2M363.8 138.3h1.6M363.8 144.2h1.6M365.8 138.9V143.6M365.0 138.9h1.6M365.0 143.6h1.6M367.0 138.6V142.3M366.2 138.6h1.6M366.2 142.3h1.6M368.2 136.2V142.0M367.4 136.2h1.6M367.4 142.0h1.6M369.4 139.6V143.6M368.6 139.6h1.6M368.6 143.6h1.6M370.6 139.4V145.2M369.8 139.4h1.6M369.8 145.2h1.6M371.8 139.0V143.2M371.0 139.0h1.6M371.0 143.2h1.6M373.0 138.8V145.1M372.2 138.8h1.6M372.2 145.1h1.6M374.2 136.3V143.3M373.4 136.3h1.6M373.4 143.3h1.6M375.4 138.8V142.8M374.6 138.8h1.6M374.6 142.8h1.6M376.6 137.4V144.9M375.8 137.4h1.6M375.8 144.9h1.6M377.8 137.6V144.1M377.0 137.6h1.6M377.0 144.1h1.6M379.0 141.5V147.8M378.2 141.5h1.6M378.2 147.8h1.6M380.2 138.1V144.4M379.4 138.1h1.6M379.4 144.4h1.6M381.4 137.6V142.2M380.6 137.6h1.6M380.6 142.2h1.6M382.6 140.0V143.7M381.8 140.0h1.6M381.8 143.7h1.6M383.8 136.0V142.4M383.0 136.0h1.6M383.0 142.4h1.6M385.0 138.7V143.8M384.2 138.7h1.6M384.2 143.8h1.6M386.2 138.2V145.5M385.4 138.2h1.6M385.4 145.5h1.6M387.4 137.9V142.3M386.6 137.9h1.6M386.6 142.3h1.6M388.6 137.0V143.7M387.8 137.0h1.6M387.8 143.7h1.6M389.8 136.2V142.8M389.0 136.2h1.6M389.0 142.8h1.6M391.0 137.7V144.3M390.2 137.7h1.6M390.2 144.3h1.6M392.2 136.8V143.0M391.4 136.8h1.6M391.4 143.0h1.6M393.4 141.0V145.6M392.6 141.0h1.6M392.6 145.6h1.6M394.6 138.0V145.6M393.8 138.0h1.6M393.8 145.6h1.6M395.8 138.2V142.9M395.0 138.2h1.6M395.0 142.9h1.6M397.0 136.6V141.3M396.2 136.6h1.6M396.2 141.3h1.6M398.2 140.2V147.4M397.4 140.2h1.6M397.4 147.4h1.6M399.4 139.0V146.5M398.6 139.0h1.6M398.6 146.5h1.6M400.6 138.9V144.3M399.8 138.9h1.6M399.8 144.3h1.6M401.8 139.5V143.0M401.0 139.5h1.6M401.0 143.0h1.6M403.0 138.3V144.2M402.2 138.3h1.6M402.2 144.2h1.6M404.2 136.7V144.0M403.4 136.7h1.6M403.4 144.0h1.6M405.4 139.8V147.4M404.6 139.8h1.6M404.6 147.4h1.6M406.6 139.0V143.6M405.8 139.0h1.6M405.8 143.6h1.6M407.8 135.5V142.5M407.0 135.5h1.6M407.0 142.5h1.6M409.0 136.7V143.5M408.2 136.7h1.6M408.2 143.5h1.6M410.2 133.8V141.0M409.4 133.8h1.6M409.4 141.0h1.6M411.4 138.4V145.5M410.6 138.4h1.6M410.6 145.5h1.6M412.6 139.0V145.3M411.8 139.0h1.6M411.8 145.3h1.6M413.8 140.8V146.2M413.0 140.8h1.6M413.0 146.2h1.6M415.0 141.4V146.6M414.2 141.4h1.6M414.2 146.6h1.6M416.2 136.8V143.2M415.4 136.8h1.6M415.4 143.2h1.6M417.4 139.5V143.9M416.6 139.5h1.6M416.6 143.9h1.6M418.6 139.5V145.5M417.8 139.5h1.6M417.8 145.5h1.6M419.8 140.3V144.1M419.0 140.3h1.6M419.0 144.1h1.6M421.0 138.1V142.7M420.2 138.1h1.6M420.2 142.7h1.6M422.2 140.5V144.0M421.4 140.5h1.6M421.4 144.0h1.6M423.4 140.0V143.6M422.6 140.0h1.6M422.6 143.6h1.6M424.6 141.2V144.9M423.8 141.2h1.6M423.8 144.9h1.6M425.8 139.3V142.9M425.0 139.3h1.6M425.0 142.9h1.6M427.0 138.7V142.9M426.2 138.7h1.6M426.2 142.9h1.6M428.2 138.4V142.4M427.4 138.4h1.6M427.4 142.4h1.6M429.4 137.0V144.2M428.6 137.0h1.6M428.6 144.2h1.6M430.6 137.2V143.0M429.8 137.2h1.6M429.8 143.0h1.6M431.8 138.9V142.5M431.0 138.9h1.6M431.0 142.5h1.6M433.0 139.8V143.9M432.2 139.8h1.6M432.2 143.9h1.6M434.2 138.3V145.3M433.4 138.3h1.6M433.4 145.3h1.6M435.4 139.9V146.1M434.6 139.9h1.6M434.6 146.1h1.6M436.6 140.4V145.1M435.8 140.4h1.6M435.8 145.1h1.6M437.8 140.4V143.8M437.0 140.4h1.6M437.0 143.8h1.6M439.0 137.1V142.1M438.2 137.1h1.6M438.2 142.1h1.6M440.2 139.6V144.4M439.4 139.6h1.6M439.4 144.4h1.6M441.4 140.5V145.2M440.6 140.5h1.6M440.6 145.2h1.6M442.6 135.5V143.2M441.8 135.5h1.6M441.8 143.2h1.6M443.8 136.1V143.2M443.0 136.1h1.6M443.0 143.2h1.6M445.0 136.5V143.3M444.2 136.5h1.6M444.2 143.3h1.6M446.2 136.8V142.8M445.4 136.8h1.6M445.4 142.8h1.6M447.4 137.2V144.4M446.6 137.2h1.6M446.6 144.4h1.6M448.6 136.3V143.6M447.8 136.3h1.6M447.8 143.6h1.6M449.8 138.8V144.7M449.0 138.8h1.6M449.0 144.7h1.6M451.0 136.9V142.1M450.2 136.9h1.6M450.2 142.1h1.6M452.2 138.8V143.4M451.4 138.8h1.6M451.4 143.4h1.6M453.4 137.7V143.4M452.6 137.7h1.6M452.6 143.4h1.6M454.6 137.7V142.0M453.8 137.7h1.6M453.8 142.0h1.6M455.8 140.6V144.8M455.0 140.6h1.6M455.0 144.8h1.6M457.0 137.8V144.8M456.2 137.8h1.6M456.2 144.8h1.6M458.2 140.0V144.0M457.4 140.0h1.6M457.4 144.0h1.6M459.4 138.4V143.1M458.6 138.4h1.6M458.6 143.1h1.6M460.6 138.5V145.9M459.8 138.5h1.6M459.8 145.9h1.6M461.8 138.9V145.4M461.0 138.9h1.6M461.0 145.4h1.6M463.0 138.0V144.1M462.2 138.0h1.6M462.2 144.1h1.6M464.2 136.9V140.6M463.4 136.9h1.6M463.4 140.6h1.6M465.4 140.6V144.3M464.6 140.6h1.6M464.6 144.3h1.6M466.6 140.4V144.1M465.8 140.4h1.6M465.8 144.1h1.6M467.8 139.5V143.6M467.0 139.5h1.6M467.0 143.6h1.6M469.0 139.5V143.7M468.2 139.5h1.6M468.2 143.7h1.6M470.2 139.5V143.4M469.4 139.5h1.6M469.4 143.4h1.6M471.4 139.7V143.4M470.6 139.7h1.6M470.6 143.4h1.6M472.6 136.1V143.7M471.8 136.1h1.6M471.8 143.7h1.6" stroke="#111" stroke-width="0.6" fill="none" opacity="1.0"/>
<polyline points="319.0,138.6 320.2,139.1 321.4,139.8 322.6,139.0 323.8,141.4 325.0,136.1 326.2,136.7 327.4,139.4 328.6,137.2 329.8,139.7 331.0,138.9 332.2,140.7 333.4,140.5 334.6,141.7 335.8,141.2 337.0,141.7 338.2,140.7 339.4,141.5 340.6,140.7 341.8,139.2 343.0,138.3 344.2,138.4 345.4,140.8 346.6,136.8 347.8,140.4 349.0,139.1 350.2,141.2 351.4,140.5 352.6,139.2 353.8,140.3 355.0,137.1 356.2,140.7 357.4,141.0 358.6,137.8 359.8,141.6 361.0,140.2 362.2,140.6 363.4,138.4 364.6,141.3 365.8,141.3 367.0,140.5 368.2,139.1 369.4,141.6 370.6,142.3 371.8,141.1 373.0,142.0 374.2,139.8 375.4,140.8 376.6,141.2 377.8,140.8 379.0,144.6 380.2,141.3 381.4,139.9 382.6,141.9 383.8,139.2 385.0,141.3 386.2,141.9 387.4,140.1 388.6,140.4 389.8,139.5 391.0,141.0 392.2,139.9 393.4,143.3 394.6,141.8 395.8,140.6 397.0,138.9 398.2,143.8 399.4,142.8 400.6,141.6 401.8,141.2 403.0,141.2 404.2,140.3 405.4,143.6 406.6,141.3 407.8,139.0 409.0,140.1 410.2,137.4 411.4,142.0 412.6,142.1 413.8,143.5 415.0,144.0 416.2,140.0 417.4,141.7 418.6,142.5 419.8,142.2 421.0,140.4 422.2,142.2 423.4,141.8 424.6,143.0 425.8,141.1 427.0,140.8 428.2,140.4 429.4,140.6 430.6,140.1 431.8,140.7 433.0,141.9 434.2,141.8 435.4,143.0 436.6,142.7 437.8,142.1 439.0,139.6 440.2,142.0 441.4,142.8 442.6,139.4 443.8,139.6 445.0,139.9 446.2,139.8 447.4,140.8 448.6,139.9 449.8,141.8 451.0,139.5 452.2,141.1 453.4,140.5 454.6,139.9 455.8,142.7 457.0,141.3 458.2,142.0 459.4,140.8 460.6,142.2 461.8,142.1 463.0,141.0 464.2,138.8 465.4,142.4 466.6,142.2 467.8,141.5 469.0,141.6 470.2,141.5 471.4,141.5 472.6,139.9" stroke="#111" stroke-width="1.6" fill="none" stroke-linejoin="round" opacity="1.0"/>
<path d="M317.8 138.6a1.2 1.2 0 1 0 2.4 0a1.2 1.2 0 1 0 -2.4 0M319.0 139.1a1.2 1.2 0 1 0 2.4 0a1.2 1.2 0 1 0 -2.4 0M320.2 139.8a1.2 1.2 0 1 0 2.4 0a1.2 1.2 0 1 0 -2.4 0M321.4 139.0a1.2 1.2 0 1 0 2.4 0a1.2 1.2 0 1 0 -2.4 0M322.6 141.4a1.2 1.2 0 1 0 2.4 0a1.2 1.2 0 1 0 -2.4 0M323.8 136.1a1.2 1.2 0 1 0 2.4 0a1.2 1.2 0 1 0 -2.4 0M325.0 136.7a1.2 1.2 0 1 0 2.4 0a1.2 1.2 0 1 0 -2.4 0M326.2 139.4a1.2 1.2 0 1 0 2.4 0a1.2 1.2 0 1 0 -2.4 0M327.4 137.2a1.2 1.2 0 1 0 2.4 0a1.2 1.2 0 1 0 -2.4 0M328.6 139.7a1.2 1.2 0 1 0 2.4 0a1.2 1.2 0 1 0 -2.4 0M329.8 138.9a1.2 1.2 0 1 0 2.4 0a1.2 1.2 0 1 0 -2.4 0M331.0 140.7a1.2 1.2 0 1 0 2.4 0a1.2 1.2 0 1 0 -2.4 0M332.2 140.5a1.2 1.2 0 1 0 2.4 0a1.2 1.2 0 1 0 -2.4 0M333.4 141.7a1.2 1.2 0 1 0 2.4 0a1.2 1.2 0 1 0 -2.4 0M334.6 141.2a1.2 1.2 0 1 0 2.4 0a1.2 1.2 0 1 0 -2.4 0M335.8 141.7a1.2 1.2 0 1 0 2.4 0a1.2 1.2 0 1 0 -2.4 0M337.0 140.7a1.2 1.2 0 1 0 2.4 0a1.2 1.2 0 1 0 -2.4 0M338.2 141.5a1.2 1.2 0 1 0 2.4 0a1.2 1.2 0 1 0 -2.4 0M339.4 140.7a1.2 1.2 0 1 0 2.4 0a1.2 1.2 0 1 0 -2.4 0M340.6 139.2a1.2 1.2 0 1 0 2.4 0a1.2 1.2 0 1 0 -2.4 0M341.8 138.3a1.2 1.2 0 1 0 2.4 0a1.2 1.2 0 1 0 -2.4 0M343.0 138.4a1.2 1.2 0 1 0 2.4 0a1.2 1.2 0 1 0 -2.4 0M344.2 140.8a1.2 1.2 0 1 0 2.4 0a1.2 1.2 0 1 0 -2.4 0M345.4 136.8a1.2 1.2 0 1 0 2.4 0a1.2 1.2 0 1 0 -2.4 0M346.6 140.4a1.2 1.2 0 1 0 2.4 0a1.2 1.2 0 1 0 -2.4 0M347.8 139.1a1.2 1.2 0 1 0 2.4 0a1.2 1.2 0 1 0 -2.4 0M349.0 141.2a1.2 1.2 0 1 0 2.4 0a1.2 1.2 0 1 0 -2.4 0M350.2 140.5a1.2 1.2 0 1 0 2.4 0a1.2 1.2 0 1 0 -2.4 0M351.4 139.2a1.2 1.2 0 1 0 2.4 0a1.2 1.2 0 1 0 -2.4 0M352.6 140.3a1.2 1.2 0 1 0 2.4 0a1.2 1.2 0 1 0 -2.4 0M353.8 137.1a1.2 1.2 0 1 0 2.4 0a1.2 1.2 0 1 0 -2.4 0M355.0 140.7a1.2 1.2 0 1 0 2.4 0a1.2 1.2 0 1 0 -2.4 0M356.2 141.0a1.2 1.2 0 1 0 2.4 0a1.2 1.2 0 1 0 -2.4 0M357.4 137.8a1.2 1.2 0 1 0 2.4 0a1.2 1.2 0 1 0 -2.4 0M358.6 141.6a1.2 1.2 0 1 0 2.4 0a1.2 1.2 0 1 0 -2.4 0M359.8 140.2a1.2 1.2 0 1 0 2.4 0a1.2 1.2 0 1 0 -2.4 0M361.0 140.6a1.2 1.2 0 1 0 2.4 0a1.2 1.2 0 1 0 -2.4 0M362.2 138.4a1.2 1.2 0 1 0 2.4 0a1.2 1.2 0 1 0 -2.4 0M363.4 141.3a1.2 1.2 0 1 0 2.4 0a1.2 1.2 0 1 0 -2.4 0M364.6 141.3a1.2 1.2 0 1 0 2.4 0a1.2 1.2 0 1 0 -2.4 0M365.8 140.5a1.2 1.2 0 1 0 2.4 0a1.2 1.2 0 1 0 -2.4 0M367.0 139.1a1.2 1.2 0 1 0 2.4 0a1.2 1.2 0 1 0 -2.4 0M368.2 141.6a1.2 1.2 0 1 0 2.4 0a1.2 1.2 0 1 0 -2.4 0M369.4 142.3a1.2 1.2 0 1 0 2.4 0a1.2 1.2 0 1 0 -2.4 0M370.6 141.1a1.2 1.2 0 1 0 2.4 0a1.2 1.2 0 1 0 -2.4 0M371.8 142.0a1.2 1.2 0 1 0 2.4 0a1.2 1.2 0 1 0 -2.4 0M373.0 139.8a1.2 1.2 0 1 0 2.4 0a1.2 1.2 0 1 0 -2.4 0M374.2 140.8a1.2 1.2 0 1 0 2.4 0a1.2 1.2 0 1 0 -2.4 0M375.4 141.2a1.2 1.2 0 1 0 2.4 0a1.2 1.2 0 1 0 -2.4 0M376.6 140.8a1.2 1.2 0 1 0 2.4 0a1.2 1.2 0 1 0 -2.4 0M377.8 144.6a1.2 1.2 0 1 0 2.4 0a1.2 1.2 0 1 0 -2.4 0M379.0 141.3a1.2 1.2 0 1 0 2.4 0a1.2 1.2 0 1 0 -2.4 0M380.2 139.9a1.2 1.2 0 1 0 2.4 0a1.2 1.2 0 1 0 -2.4 0M381.4 141.9a1.2 1.2 0 1 0 2.4 0a1.2 1.2 0 1 0 -2.4 0M382.6 139.2a1.2 1.2 0 1 0 2.4 0a1.2 1.2 0 1 0 -2.4 0M383.8 141.3a1.2 1.2 0 1 0 2.4 0a1.2 1.2 0 1 0 -2.4 0M385.0 141.9a1.2 1.2 0 1 0 2.4 0a1.2 1.2 0 1 0 -2.4 0M386.2 140.1a1.2 1.2 0 1 0 2.4 0a1.2 1.2 0 1 0 -2.4 0M387.4 140.4a1.2 1.2 0 1 0 2.4 0a1.2 1.2 0 1 0 -2.4 0M388.6 139.5a1.2 1.2 0 1 0 2.4 0a1.2 1.2 0 1 0 -2.4 0M389.8 141.0a1.2 1.2 0 1 0 2.4 0a1.2 1.2 0 1 0 -2.4 0M391.0 139.9a1.2 1.2 0 1 0 2.4 0a1.2 1.2 0 1 0 -2.4 0M392.2 143.3a1.2 1.2 0 1 0 2.4 0a1.2 1.2 0 1 0 -2.4 0M393.4 141.8a1.2 1.2 0 1 0 2.4 0a1.2 1.2 0 1 0 -2.4 0M394.6 140.6a1.2 1.2 0 1 0 2.4 0a1.2 1.2 0 1 0 -2.4 0M395.8 138.9a1.2 1.2 0 1 0 2.4 0a1.2 1.2 0 1 0 -2.4 0M397.0 143.8a1.2 1.2 0 1 0 2.4 0a1.2 1.2 0 1 0 -2.4 0M398.2 142.8a1.2 1.2 0 1 0 2.4 0a1.2 1.2 0 1 0 -2.4 0M399.4 141.6a1.2 1.2 0 1 0 2.4 0a1.2 1.2 0 1 0 -2.4 0M400.6 141.2a1.2 1.2 0 1 0 2.4 0a1.2 1.2 0 1 0 -2.4 0M401.8 141.2a1.2 1.2 0 1 0 2.4 0a1.2 1.2 0 1 0 -2.4 0M403.0 140.3a1.2 1.2 0 1 0 2.4 0a1.2 1.2 0 1 0 -2.4 0M404.2 143.6a1.2 1.2 0 1 0 2.4 0a1.2 1.2 0 1 0 -2.4 0M405.4 141.3a1.2 1.2 0 1 0 2.4 0a1.2 1.2 0 1 0 -2.4 0M406.6 139.0a1.2 1.2 0 1 0 2.4 0a1.2 1.2 0 1 0 -2.4 0M407.8 140.1a1.2 1.2 0 1 0 2.4 0a1.2 1.2 0 1 0 -2.4 0M409.0 137.4a1.2 1.2 0 1 0 2.4 0a1.2 1.2 0 1 0 -2.4 0M410.2 142.0a1.2 1.2 0 1 0 2.4 0a1.2 1.2 0 1 0 -2.4 0M411.4 142.1a1.2 1.2 0 1 0 2.4 0a1.2 1.2 0 1 0 -2.4 0M412.6 143.5a1.2 1.2 0 1 0 2.4 0a1.2 1.2 0 1 0 -2.4 0M413.8 144.0a1.2 1.2 0 1 0 2.4 0a1.2 1.2 0 1 0 -2.4 0M415.0 140.0a1.2 1.2 0 1 0 2.4 0a1.2 1.2 0 1 0 -2.4 0M416.2 141.7a1.2 1.2 0 1 0 2.4 0a1.2 1.2 0 1 0 -2.4 0M417.4 142.5a1.2 1.2 0 1 0 2.4 0a1.2 1.2 0 1 0 -2.4 0M418.6 142.2a1.2 1.2 0 1 0 2.4 0a1.2 1.2 0 1 0 -2.4 0M419.8 140.4a1.2 1.2 0 1 0 2.4 0a1.2 1.2 0 1 0 -2.4 0M421.0 142.2a1.2 1.2 0 1 0 2.4 0a1.2 1.2 0 1 0 -2.4 0M422.2 141.8a1.2 1.2 0 1 0 2.4 0a1.2 1.2 0 1 0 -2.4 0M423.4 143.0a1.2 1.2 0 1 0 2.4 0a1.2 1.2 0 1 0 -2.4 0M424.6 141.1a1.2 1.2 0 1 0 2.4 0a1.2 1.2 0 1 0 -2.4 0M425.8 140.8a1.2 1.2 0 1 0 2.4 0a1.2 1.2 0 1 0 -2.4 0M427.0 140.4a1.2 1.2 0 1 0 2.4 0a1.2 1.2 0 1 0 -2.4 0M428.2 140.6a1.2 1.2 0 1 0 2.4 0a1.2 1.2 0 1 0 -2.4 0M429.4 140.1a1.2 1.2 0 1 0 2.4 0a1.2 1.2 0 1 0 -2.4 0M430.6 140.7a1.2 1.2 0 1 0 2.4 0a1.2 1.2 0 1 0 -2.4 0M431.8 141.9a1.2 1.2 0 1 0 2.4 0a1.2 1.2 0 1 0 -2.4 0M433.0 141.8a1.2 1.2 0 1 0 2.4 0a1.2 1.2 0 1 0 -2.4 0M434.2 143.0a1.2 1.2 0 1 0 2.4 0a1.2 1.2 0 1 0 -2.4 0M435.4 142.7a1.2 1.2 0 1 0 2.4 0a1.2 1.2 0 1 0 -2.4 0M436.6 142.1a1.2 1.2 0 1 0 2.4 0a1.2 1.2 0 1 0 -2.4 0M437.8 139.6a1.2 1.2 0 1 0 2.4 0a1.2 1.2 0 1 0 -2.4 0M439.0 142.0a1.2 1.2 0 1 0 2.4 0a1.2 1.2 0 1 0 -2.4 0M440.2 142.8a1.2 1.2 0 1 0 2.4 0a1.2 1.2 0 1 0 -2.4 0M441.4 139.4a1.2 1.2 0 1 0 2.4 0a1.2 1.2 0 1 0 -2.4 0M442.6 139.6a1.2 1.2 0 1 0 2.4 0a1.2 1.2 0 1 0 -2.4 0M443.8 139.9a1.2 1.2 0 1 0 2.4 0a1.2 1.2 0 1 0 -2.4 0M445.0 139.8a1.2 1.2 0 1 0 2.4 0a1.2 1.2 0 1 0 -2.4 0M446.2 140.8a1.2 1.2 0 1 0 2.4 0a1.2 1.2 0 1 0 -2.4 0M447.4 139.9a1.2 1.2 0 1 0 2.4 0a1.2 1.2 0 1 0 -2.4 0M448.6 141.8a1.2 1.2 0 1 0 2.4 0a1.2 1.2 0 1 0 -2.4 0M449.8 139.5a1.2 1.2 0 1 0 2.4 0a1.2 1.2 0 1 0 -2.4 0M451.0 141.1a1.2 1.2 0 1 0 2.4 0a1.2 1.2 0 1 0 -2.4 0M452.2 140.5a1.2 1.2 0 1 0 2.4 0a1.2 1.2 0 1 0 -2.4 0M453.4 139.9a1.2 1.2 0 1 0 2.4 0a1.2 1.2 0 1 0 -2.4 0M454.6 142.7a1.2 1.2 0 1 0 2.4 0a1.2 1.2 0 1 0 -2.4 0M455.8 141.3a1.2 1.2 0 1 0 2.4 0a1.2 1.2 0 1 0 -2.4 0M457.0 142.0a1.2 1.2 0 1 0 2.4 0a1.2 1.2 0 1 0 -2.4 0M458.2 140.8a1.2 1.2 0 1 0 2.4 0a1.2 1.2 0 1 0 -2.4 0M459.4 142.2a1.2 1.2 0 1 0 2.4 0a1.2 1.2 0 1 0 -2.4 0M460.6 142.1a1.2 1.2 0 1 0 2.4 0a1.2 1.2 0 1 0 -2.4 0M461.8 141.0a1.2 1.2 0 1 0 2.4 0a1.2 1.2 0 1 0 -2.4 0M463.0 138.8a1.2 1.2 0 1 0 2.4 0a1.2 1.2 0 1 0 -2.4 0M464.2 142.4a1.2 1.2 0 1 0 2.4 0a1.2 1.2 0 1 0 -2.4 0M465.4 142.2a1.2 1.2 0 1 0 2.4 0a1.2 1.2 0 1 0 -2.4 0M466.6 141.5a1.2 1.2 0 1 0 2.4 0a1.2 1.2 0 1 0 -2.4 0M467.8 141.6a1.2 1.2 0 1 0 2.4 0a1.2 1.2 0 1 0 -2.4 0M469.0 141.5a1.2 1.2 0 1 0 2.4 0a1.2 1.2 0 1 0 -2.4 0M470.2 141.5a1.2 1.2 0 1 0 2.4 0a1.2 1.2 0 1 0 -2.4 0M471.4 139.9a1.2 1.2 0 1 0 2.4 0a1.2 1.2 0 1 0 -2.4 0" fill="#111" opacity="1.0"/>
<path d="M319.0 134.6V138.1M318.2 134.6h1.6M318.2 138.1h1.6M320.2 135.8V139.6M319.4 135.8h1.6M319.4 139.6h1.6M321.4 133.5V136.9M320.6 133.5h1.6M320.6 136.9h1.6M322.6 134.1V138.9M321.8 134.1h1.6M321.8 138.9h1.6M323.8 136.6V139.7M323.0 136.6h1.6M323.0 139.7h1.6M325.0 133.8V138.6M324.2 133.8h1.6M324.2 138.6h1.6M326.2 135.2V138.3M325.4 135.2h1.6M325.4 138.3h1.6M327.4 137.2V140.1M326.6 137.2h1.6M326.6 140.1h1.6M328.6 135.5V140.6M327.8 135.5h1.6M327.8 140.6h1.6M329.8 136.5V138.9M329.0 136.5h1.6M329.0 138.9h1.6M331.0 136.6V139.2M330.2 136.6h1.6M330.2 139.2h1.6M332.2 135.0V138.9M331.4 135.0h1.6M331.4 138.9h1.6M333.4 135.6V140.4M332.6 135.6h1.6M332.6 140.4h1.6M334.6 135.2V139.8M333.8 135.2h1.6M333.8 139.8h1.6M335.8 138.1V142.3M335.0 138.1h1.6M335.0 142.3h1.6M337.0 137.2V139.4M336.2 137.2h1.6M336.2 139.4h1.6M338.2 136.2V138.6M337.4 136.2h1.6M337.4 138.6h1.6M339.4 135.5V139.9M338.6 135.5h1.6M338.6 139.9h1.6M340.6 135.6V140.1M339.8 135.6h1.6M339.8 140.1h1.6M341.8 133.9V138.9M341.0 133.9h1.6M341.0 138.9h1.6M343.0 135.4V138.6M342.2 135.4h1.6M342.2 138.6h1.6M344.2 137.5V141.2M343.4 137.5h1.6M343.4 141.2h1.6M345.4 135.0V137.9M344.6 135.0h1.6M344.6 137.9h1.6M346.6 136.1V138.5M345.8 136.1h1.6M345.8 138.5h1.6M347.8 136.8V141.0M347.0 136.8h1.6M347.0 141.0h1.6M349.0 137.3V141.5M348.2 137.3h1.6M348.2 141.5h1.6M350.2 135.7V138.1M349.4 135.7h1.6M349.4 138.1h1.6M351.4 137.5V141.3M350.6 137.5h1.6M350.6 141.3h1.6M352.6 135.3V139.9M351.8 135.3h1.6M351.8 139.9h1.6M353.8 137.5V141.8M353.0 137.5h1.6M353.0 141.8h1.6M355.0 137.0V140.0M354.2 137.0h1.6M354.2 140.0h1.6M356.2 136.6V138.8M355.4 136.6h1.6M355.4 138.8h1.6M357.4 137.3V140.2M356.6 137.3h1.6M356.6 140.2h1.6M358.6 137.3V139.9M357.8 137.3h1.6M357.8 139.9h1.6M359.8 135.7V138.9M359.0 135.7h1.6M359.0 138.9h1.6M361.0 138.5V142.0M360.2 138.5h1.6M360.2 142.0h1.6M362.2 136.0V139.5M361.4 136.0h1.6M361.4 139.5h1.6M363.4 138.0V140.5M362.6 138.0h1.6M362.6 140.5h1.6M364.6 136.1V139.2M363.8 136.1h1.6M363.8 139.2h1.6M365.8 134.9V137.7M365.0 134.9h1.6M365.0 137.7h1.6M367.0 134.7V139.3M366.2 134.7h1.6M366.2 139.3h1.6M368.2 135.8V140.3M367.4 135.8h1.6M367.4 140.3h1.6M369.4 136.4V141.3M368.6 136.4h1.6M368.6 141.3h1.6M370.6 138.3V141.6M369.8 138.3h1.6M369.8 141.6h1.6M371.8 136.0V140.5M371.0 136.0h1.6M371.0 140.5h1.6M373.0 136.6V139.3M372.2 136.6h1.6M372.2 139.3h1.6M374.2 135.4V138.6M373.4 135.4h1.6M373.4 138.6h1.6M375.4 136.6V139.8M374.6 136.6h1.6M374.6 139.8h1.6M376.6 137.0V140.1M375.8 137.0h1.6M375.8 140.1h1.6M377.8 134.7V137.4M377.0 134.7h1.6M377.0 137.4h1.6M379.0 137.2V142.0M378.2 137.2h1.6M378.2 142.0h1.6M380.2 137.7V141.2M379.4 137.7h1.6M379.4 141.2h1.6M381.4 138.5V142.7M380.6 138.5h1.6M380.6 142.7h1.6M382.6 136.0V138.8M381.8 136.0h1.6M381.8 138.8h1.6M383.8 136.3V140.5M383.0 136.3h1.6M383.0 140.5h1.6M385.0 136.3V140.4M384.2 136.3h1.6M384.2 140.4h1.6M386.2 134.6V139.4M385.4 134.6h1.6M385.4 139.4h1.6M387.4 136.0V139.0M386.6 136.0h1.6M386.6 139.0h1.6M388.6 134.9V139.8M387.8 134.9h1.6M387.8 139.8h1.6M389.8 136.6V141.2M389.0 136.6h1.6M389.0 141.2h1.6M391.0 137.5V140.1M390.2 137.5h1.6M390.2 140.1h1.6M392.2 138.1V141.4M391.4 138.1h1.6M391.4 141.4h1.6M393.4 136.4V139.6M392.6 136.4h1.6M392.6 139.6h1.6M394.6 134.5V139.6M393.8 134.5h1.6M393.8 139.6h1.6M395.8 136.8V140.9M395.0 136.8h1.6M395.0 140.9h1.6M397.0 137.5V140.1M396.2 137.5h1.6M396.2 140.1h1.6M398.2 137.3V140.9M397.4 137.3h1.6M397.4 140.9h1.6M399.4 137.5V141.9M398.6 137.5h1.6M398.6 141.9h1.6M400.6 136.7V139.1M399.8 136.7h1.6M399.8 139.1h1.6M401.8 137.2V141.4M401.0 137.2h1.6M401.0 141.4h1.6M403.0 135.4V139.6M402.2 135.4h1.6M402.2 139.6h1.6M404.2 136.5V140.8M403.4 136.5h1.6M403.4 140.8h1.6M405.4 137.9V140.5M404.6 137.9h1.6M404.6 140.5h1.6M406.6 136.0V140.9M405.8 136.0h1.6M405.8 140.9h1.6M407.8 137.1V140.4M407.0 137.1h1.6M407.0 140.4h1.6M409.0 135.1V139.2M408.2 135.1h1.6M408.2 139.2h1.6M410.2 136.5V139.3M409.4 136.5h1.6M409.4 139.3h1.6M411.4 137.6V139.9M410.6 137.6h1.6M410.6 139.9h1.6M412.6 136.2V138.5M411.8 136.2h1.6M411.8 138.5h1.6M413.8 135.8V139.6M413.0 135.8h1.6M413.0 139.6h1.6M415.0 138.7V143.4M414.2 138.7h1.6M414.2 143.4h1.6M416.2 136.8V140.9M415.4 136.8h1.6M415.4 140.9h1.6M417.4 136.6V138.9M416.6 136.6h1.6M416.6 138.9h1.6M418.6 136.5V138.7M417.8 136.5h1.6M417.8 138.7h1.6M419.8 137.5V142.5M419.0 137.5h1.6M419.0 142.5h1.6M421.0 134.1V137.5M420.2 134.1h1.6M420.2 137.5h1.6M422.2 135.9V140.6M421.4 135.9h1.6M421.4 140.6h1.6M423.4 137.1V141.4M422.6 137.1h1.6M422.6 141.4h1.6M424.6 135.9V140.2M423.8 135.9h1.6M423.8 140.2h1.6M425.8 136.9V141.4M425.0 136.9h1.6M425.0 141.4h1.6M427.0 135.9V139.2M426.2 135.9h1.6M426.2 139.2h1.6M428.2 137.1V140.1M427.4 137.1h1.6M427.4 140.1h1.6M429.4 137.5V139.8M428.6 137.5h1.6M428.6 139.8h1.6M430.6 136.2V141.1M429.8 136.2h1.6M429.8 141.1h1.6M431.8 137.6V140.0M431.0 137.6h1.6M431.0 140.0h1.6M433.0 136.4V141.0M432.2 136.4h1.6M432.2 141.0h1.6M434.2 138.6V141.0M433.4 138.6h1.6M433.4 141.0h1.6M435.4 136.4V140.4M434.6 136.4h1.6M434.6 140.4h1.6M436.6 135.7V140.4M435.8 135.7h1.6M435.8 140.4h1.6M437.8 136.5V140.3M437.0 136.5h1.6M437.0 140.3h1.6M439.0 136.5V140.3M438.2 136.5h1.6M438.2 140.3h1.6M440.2 135.3V139.0M439.4 135.3h1.6M439.4 139.0h1.6M441.4 135.6V138.0M440.6 135.6h1.6M440.6 138.0h1.6M442.6 134.9V139.8M441.8 134.9h1.6M441.8 139.8h1.6M443.8 136.9V141.1M443.0 136.9h1.6M443.0 141.1h1.6M445.0 135.6V140.5M444.2 135.6h1.6M444.2 140.5h1.6M446.2 136.0V140.6M445.4 136.0h1.6M445.4 140.6h1.6M447.4 140.2V143.0M446.6 140.2h1.6M446.6 143.0h1.6M448.6 137.7V142.0M447.8 137.7h1.6M447.8 142.0h1.6M449.8 136.7V140.4M449.0 136.7h1.6M449.0 140.4h1.6M451.0 136.7V139.5M450.2 136.7h1.6M450.2 139.5h1.6M452.2 138.2V142.0M451.4 138.2h1.6M451.4 142.0h1.6M453.4 135.5V140.5M452.6 135.5h1.6M452.6 140.5h1.6M454.6 138.9V141.1M453.8 138.9h1.6M453.8 141.1h1.6M455.8 137.3V141.4M455.0 137.3h1.6M455.0 141.4h1.6M457.0 138.5V141.9M456.2 138.5h1.6M456.2 141.9h1.6M458.2 136.3V139.9M457.4 136.3h1.6M457.4 139.9h1.6M459.4 137.6V141.8M458.6 137.6h1.6M458.6 141.8h1.6M460.6 135.6V138.4M459.8 135.6h1.6M459.8 138.4h1.6M461.8 137.5V139.8M461.0 137.5h1.6M461.0 139.8h1.6M463.0 138.6V141.2M462.2 138.6h1.6M462.2 141.2h1.6M464.2 137.9V141.2M463.4 137.9h1.6M463.4 141.2h1.6M465.4 135.0V139.0M464.6 135.0h1.6M464.6 139.0h1.6M466.6 137.7V141.3M465.8 137.7h1.6M465.8 141.3h1.6M467.8 137.1V141.5M467.0 137.1h1.6M467.0 141.5h1.6M469.0 137.3V140.2M468.2 137.3h1.6M468.2 140.2h1.6M470.2 136.9V139.4M469.4 136.9h1.6M469.4 139.4h1.6M471.4 136.6V140.5M470.6 136.6h1.6M470.6 140.5h1.6M472.6 136.2V140.4M471.8 136.2h1.6M471.8 140.4h1.6" stroke="#1a1a50" stroke-width="0.6" fill="none" opacity="1.0"/>
<polyline points="319.0,136.4 320.2,137.7 321.4,135.2 322.6,136.5 323.8,138.2 325.0,136.2 326.2,136.7 327.4,138.7 328.6,138.1 329.8,137.7 331.0,137.9 332.2,137.0 333.4,138.0 334.6,137.5 335.8,140.2 337.0,138.3 338.2,137.4 339.4,137.7 340.6,137.8 341.8,136.4 343.0,137.0 344.2,139.4 345.4,136.5 346.6,137.3 347.8,138.9 349.0,139.4 350.2,136.9 351.4,139.4 352.6,137.6 353.8,139.6 355.0,138.5 356.2,137.7 357.4,138.8 358.6,138.6 359.8,137.3 361.0,140.2 362.2,137.7 363.4,139.3 364.6,137.6 365.8,136.3 367.0,137.0 368.2,138.1 369.4,138.9 370.6,139.9 371.8,138.3 373.0,137.9 374.2,137.0 375.4,138.2 376.6,138.6 377.8,136.1 379.0,139.6 380.2,139.4 381.4,140.6 382.6,137.4 383.8,138.4 385.0,138.4 386.2,137.0 387.4,137.5 388.6,137.4 389.8,138.9 391.0,138.8 392.2,139.8 393.4,138.0 394.6,137.0 395.8,138.9 397.0,138.8 398.2,139.1 399.4,139.7 400.6,137.9 401.8,139.3 403.0,137.5 404.2,138.7 405.4,139.2 406.6,138.4 407.8,138.8 409.0,137.2 410.2,137.9 411.4,138.7 412.6,137.4 413.8,137.7 415.0,141.0 416.2,138.9 417.4,137.8 418.6,137.6 419.8,140.0 421.0,135.8 422.2,138.3 423.4,139.2 424.6,138.0 425.8,139.1 427.0,137.6 428.2,138.6 429.4,138.7 430.6,138.6 431.8,138.8 433.0,138.7 434.2,139.8 435.4,138.4 436.6,138.1 437.8,138.4 439.0,138.4 440.2,137.2 441.4,136.8 442.6,137.3 443.8,139.0 445.0,138.0 446.2,138.3 447.4,141.6 448.6,139.9 449.8,138.5 451.0,138.1 452.2,140.1 453.4,138.0 454.6,140.0 455.8,139.4 457.0,140.2 458.2,138.1 459.4,139.7 460.6,137.0 461.8,138.6 463.0,139.9 464.2,139.5 465.4,137.0 466.6,139.5 467.8,139.3 469.0,138.8 470.2,138.1 471.4,138.6 472.6,138.3" stroke="#1a1a50" stroke-width="1.0" fill="none" stroke-linejoin="round" opacity="1.0"/>
<path d="M318.1 136.4a0.9 0.9 0 1 0 1.8 0a0.9 0.9 0 1 0 -1.8 0M319.3 137.7a0.9 0.9 0 1 0 1.8 0a0.9 0.9 0 1 0 -1.8 0M320.5 135.2a0.9 0.9 0 1 0 1.8 0a0.9 0.9 0 1 0 -1.8 0M321.7 136.5a0.9 0.9 0 1 0 1.8 0a0.9 0.9 0 1 0 -1.8 0M322.9 138.2a0.9 0.9 0 1 0 1.8 0a0.9 0.9 0 1 0 -1.8 0M324.1 136.2a0.9 0.9 0 1 0 1.8 0a0.9 0.9 0 1 0 -1.8 0M325.3 136.7a0.9 0.9 0 1 0 1.8 0a0.9 0.9 0 1 0 -1.8 0M326.5 138.7a0.9 0.9 0 1 0 1.8 0a0.9 0.9 0 1 0 -1.8 0M327.7 138.1a0.9 0.9 0 1 0 1.8 0a0.9 0.9 0 1 0 -1.8 0M328.9 137.7a0.9 0.9 0 1 0 1.8 0a0.9 0.9 0 1 0 -1.8 0M330.1 137.9a0.9 0.9 0 1 0 1.8 0a0.9 0.9 0 1 0 -1.8 0M331.3 137.0a0.9 0.9 0 1 0 1.8 0a0.9 0.9 0 1 0 -1.8 0M332.5 138.0a0.9 0.9 0 1 0 1.8 0a0.9 0.9 0 1 0 -1.8 0M333.7 137.5a0.9 0.9 0 1 0 1.8 0a0.9 0.9 0 1 0 -1.8 0M334.9 140.2a0.9 0.9 0 1 0 1.8 0a0.9 0.9 0 1 0 -1.8 0M336.1 138.3a0.9 0.9 0 1 0 1.8 0a0.9 0.9 0 1 0 -1.8 0M337.3 137.4a0.9 0.9 0 1 0 1.8 0a0.9 0.9 0 1 0 -1.8 0M338.5 137.7a0.9 0.9 0 1 0 1.8 0a0.9 0.9 0 1 0 -1.8 0M339.7 137.8a0.9 0.9 0 1 0 1.8 0a0.9 0.9 0 1 0 -1.8 0M340.9 136.4a0.9 0.9 0 1 0 1.8 0a0.9 0.9 0 1 0 -1.8 0M342.1 137.0a0.9 0.9 0 1 0 1.8 0a0.9 0.9 0 1 0 -1.8 0M343.3 139.4a0.9 0.9 0 1 0 1.8 0a0.9 0.9 0 1 0 -1.8 0M344.5 136.5a0.9 0.9 0 1 0 1.8 0a0.9 0.9 0 1 0 -1.8 0M345.7 137.3a0.9 0.9 0 1 0 1.8 0a0.9 0.9 0 1 0 -1.8 0M346.9 138.9a0.9 0.9 0 1 0 1.8 0a0.9 0.9 0 1 0 -1.8 0M348.1 139.4a0.9 0.9 0 1 0 1.8 0a0.9 0.9 0 1 0 -1.8 0M349.3 136.9a0.9 0.9 0 1 0 1.8 0a0.9 0.9 0 1 0 -1.8 0M350.5 139.4a0.9 0.9 0 1 0 1.8 0a0.9 0.9 0 1 0 -1.8 0M351.7 137.6a0.9 0.9 0 1 0 1.8 0a0.9 0.9 0 1 0 -1.8 0M352.9 139.6a0.9 0.9 0 1 0 1.8 0a0.9 0.9 0 1 0 -1.8 0M354.1 138.5a0.9 0.9 0 1 0 1.8 0a0.9 0.9 0 1 0 -1.8 0M355.3 137.7a0.9 0.9 0 1 0 1.8 0a0.9 0.9 0 1 0 -1.8 0M356.5 138.8a0.9 0.9 0 1 0 1.8 0a0.9 0.9 0 1 0 -1.8 0M357.7 138.6a0.9 0.9 0 1 0 1.8 0a0.9 0.9 0 1 0 -1.8 0M358.9 137.3a0.9 0.9 0 1 0 1.8 0a0.9 0.9 0 1 0 -1.8 0M360.1 140.2a0.9 0.9 0 1 0 1.8 0a0.9 0.9 0 1 0 -1.8 0M361.3 137.7a0.9 0.9 0 1 0 1.8 0a0.9 0.9 0 1 0 -1.8 0M362.5 139.3a0.9 0.9 0 1 0 1.8 0a0.9 0.9 0 1 0 -1.8 0M363.7 137.6a0.9 0.9 0 1 0 1.8 0a0.9 0.9 0 1 0 -1.8 0M364.9 136.3a0.9 0.9 0 1 0 1.8 0a0.9 0.9 0 1 0 -1.8 0M366.1 137.0a0.9 0.9 0 1 0 1.8 0a0.9 0.9 0 1 0 -1.8 0M367.3 138.1a0.9 0.9 0 1 0 1.8 0a0.9 0.9 0 1 0 -1.8 0M368.5 138.9a0.9 0.9 0 1 0 1.8 0a0.9 0.9 0 1 0 -1.8 0M369.7 139.9a0.9 0.9 0 1 0 1.8 0a0.9 0.9 0 1 0 -1.8 0M370.9 138.3a0.9 0.9 0 1 0 1.8 0a0.9 0.9 0 1 0 -1.8 0M372.1 137.9a0.9 0.9 0 1 0 1.8 0a0.9 0.9 0 1 0 -1.8 0M373.3 137.0a0.9 0.9 0 1 0 1.8 0a0.9 0.9 0 1 0 -1.8 0M374.5 138.2a0.9 0.9 0 1 0 1.8 0a0.9 0.9 0 1 0 -1.8 0M375.7 138.6a0.9 0.9 0 1 0 1.8 0a0.9 0.9 0 1 0 -1.8 0M376.9 136.1a0.9 0.9 0 1 0 1.8 0a0.9 0.9 0 1 0 -1.8 0M378.1 139.6a0.9 0.9 0 1 0 1.8 0a0.9 0.9 0 1 0 -1.8 0M379.3 139.4a0.9 0.9 0 1 0 1.8 0a0.9 0.9 0 1 0 -1.8 0M380.5 140.6a0.9 0.9 0 1 0 1.8 0a0.9 0.9 0 1 0 -1.8 0M381.7 137.4a0.9 0.9 0 1 0 1.8 0a0.9 0.9 0 1 0 -1.8 0M382.9 138.4a0.9 0.9 0 1 0 1.8 0a0.9 0.9 0 1 0 -1.8 0M384.1 138.4a0.9 0.9 0 1 0 1.8 0a0.9 0.9 0 1 0 -1.8 0M385.3 137.0a0.9 0.9 0 1 0 1.8 0a0.9 0.9 0 1 0 -1.8 0M386.5 137.5a0.9 0.9 0 1 0 1.8 0a0.9 0.9 0 1 0 -1.8 0M387.7 137.4a0.9 0.9 0 1 0 1.8 0a0.9 0.9 0 1 0 -1.8 0M388.9 138.9a0.9 0.9 0 1 0 1.8 0a0.9 0.9 0 1 0 -1.8 0M390.1 138.8a0.9 0.9 0 1 0 1.8 0a0.9 0.9 0 1 0 -1.8 0M391.3 139.8a0.9 0.9 0 1 0 1.8 0a0.9 0.9 0 1 0 -1.8 0M392.5 138.0a0.9 0.9 0 1 0 1.8 0a0.9 0.9 0 1 0 -1.8 0M393.7 137.0a0.9 0.9 0 1 0 1.8 0a0.9 0.9 0 1 0 -1.8 0M394.9 138.9a0.9 0.9 0 1 0 1.8 0a0.9 0.9 0 1 0 -1.8 0M396.1 138.8a0.9 0.9 0 1 0 1.8 0a0.9 0.9 0 1 0 -1.8 0M397.3 139.1a0.9 0.9 0 1 0 1.8 0a0.9 0.9 0 1 0 -1.8 0M398.5 139.7a0.9 0.9 0 1 0 1.8 0a0.9 0.9 0 1 0 -1.8 0M399.7 137.9a0.9 0.9 0 1 0 1.8 0a0.9 0.9 0 1 0 -1.8 0M400.9 139.3a0.9 0.9 0 1 0 1.8 0a0.9 0.9 0 1 0 -1.8 0M402.1 137.5a0.9 0.9 0 1 0 1.8 0a0.9 0.9 0 1 0 -1.8 0M403.3 138.7a0.9 0.9 0 1 0 1.8 0a0.9 0.9 0 1 0 -1.8 0M404.5 139.2a0.9 0.9 0 1 0 1.8 0a0.9 0.9 0 1 0 -1.8 0M405.7 138.4a0.9 0.9 0 1 0 1.8 0a0.9 0.9 0 1 0 -1.8 0M406.9 138.8a0.9 0.9 0 1 0 1.8 0a0.9 0.9 0 1 0 -1.8 0M408.1 137.2a0.9 0.9 0 1 0 1.8 0a0.9 0.9 0 1 0 -1.8 0M409.3 137.9a0.9 0.9 0 1 0 1.8 0a0.9 0.9 0 1 0 -1.8 0M410.5 138.7a0.9 0.9 0 1 0 1.8 0a0.9 0.9 0 1 0 -1.8 0M411.7 137.4a0.9 0.9 0 1 0 1.8 0a0.9 0.9 0 1 0 -1.8 0M412.9 137.7a0.9 0.9 0 1 0 1.8 0a0.9 0.9 0 1 0 -1.8 0M414.1 141.0a0.9 0.9 0 1 0 1.8 0a0.9 0.9 0 1 0 -1.8 0M415.3 138.9a0.9 0.9 0 1 0 1.8 0a0.9 0.9 0 1 0 -1.8 0M416.5 137.8a0.9 0.9 0 1 0 1.8 0a0.9 0.9 0 1 0 -1.8 0M417.7 137.6a0.9 0.9 0 1 0 1.8 0a0.9 0.9 0 1 0 -1.8 0M418.9 140.0a0.9 0.9 0 1 0 1.8 0a0.9 0.9 0 1 0 -1.8 0M420.1 135.8a0.9 0.9 0 1 0 1.8 0a0.9 0.9 0 1 0 -1.8 0M421.3 138.3a0.9 0.9 0 1 0 1.8 0a0.9 0.9 0 1 0 -1.8 0M422.5 139.2a0.9 0.9 0 1 0 1.8 0a0.9 0.9 0 1 0 -1.8 0M423.7 138.0a0.9 0.9 0 1 0 1.8 0a0.9 0.9 0 1 0 -1.8 0M424.9 139.1a0.9 0.9 0 1 0 1.8 0a0.9 0.9 0 1 0 -1.8 0M426.1 137.6a0.9 0.9 0 1 0 1.8 0a0.9 0.9 0 1 0 -1.8 0M427.3 138.6a0.9 0.9 0 1 0 1.8 0a0.9 0.9 0 1 0 -1.8 0M428.5 138.7a0.9 0.9 0 1 0 1.8 0a0.9 0.9 0 1 0 -1.8 0M429.7 138.6a0.9 0.9 0 1 0 1.8 0a0.9 0.9 0 1 0 -1.8 0M430.9 138.8a0.9 0.9 0 1 0 1.8 0a0.9 0.9 0 1 0 -1.8 0M432.1 138.7a0.9 0.9 0 1 0 1.8 0a0.9 0.9 0 1 0 -1.8 0M433.3 139.8a0.9 0.9 0 1 0 1.8 0a0.9 0.9 0 1 0 -1.8 0M434.5 138.4a0.9 0.9 0 1 0 1.8 0a0.9 0.9 0 1 0 -1.8 0M435.7 138.1a0.9 0.9 0 1 0 1.8 0a0.9 0.9 0 1 0 -1.8 0M436.9 138.4a0.9 0.9 0 1 0 1.8 0a0.9 0.9 0 1 0 -1.8 0M438.1 138.4a0.9 0.9 0 1 0 1.8 0a0.9 0.9 0 1 0 -1.8 0M439.3 137.2a0.9 0.9 0 1 0 1.8 0a0.9 0.9 0 1 0 -1.8 0M440.5 136.8a0.9 0.9 0 1 0 1.8 0a0.9 0.9 0 1 0 -1.8 0M441.7 137.3a0.9 0.9 0 1 0 1.8 0a0.9 0.9 0 1 0 -1.8 0M442.9 139.0a0.9 0.9 0 1 0 1.8 0a0.9 0.9 0 1 0 -1.8 0M444.1 138.0a0.9 0.9 0 1 0 1.8 0a0.9 0.9 0 1 0 -1.8 0M445.3 138.3a0.9 0.9 0 1 0 1.8 0a0.9 0.9 0 1 0 -1.8 0M446.5 141.6a0.9 0.9 0 1 0 1.8 0a0.9 0.9 0 1 0 -1.8 0M447.7 139.9a0.9 0.9 0 1 0 1.8 0a0.9 0.9 0 1 0 -1.8 0M448.9 138.5a0.9 0.9 0 1 0 1.8 0a0.9 0.9 0 1 0 -1.8 0M450.1 138.1a0.9 0.9 0 1 0 1.8 0a0.9 0.9 0 1 0 -1.8 0M451.3 140.1a0.9 0.9 0 1 0 1.8 0a0.9 0.9 0 1 0 -1.8 0M452.5 138.0a0.9 0.9 0 1 0 1.8 0a0.9 0.9 0 1 0 -1.8 0M453.7 140.0a0.9 0.9 0 1 0 1.8 0a0.9 0.9 0 1 0 -1.8 0M454.9 139.4a0.9 0.9 0 1 0 1.8 0a0.9 0.9 0 1 0 -1.8 0M456.1 140.2a0.9 0.9 0 1 0 1.8 0a0.9 0.9 0 1 0 -1.8 0M457.3 138.1a0.9 0.9 0 1 0 1.8 0a0.9 0.9 0 1 0 -1.8 0M458.5 139.7a0.9 0.9 0 1 0 1.8 0a0.9 0.9 0 1 0 -1.8 0M459.7 137.0a0.9 0.9 0 1 0 1.8 0a0.9 0.9 0 1 0 -1.8 0M460.9 138.6a0.9 0.9 0 1 0 1.8 0a0.9 0.9 0 1 0 -1.8 0M462.1 139.9a0.9 0.9 0 1 0 1.8 0a0.9 0.9 0 1 0 -1.8 0M463.3 139.5a0.9 0.9 0 1 0 1.8 0a0.9 0.9 0 1 0 -1.8 0M464.5 137.0a0.9 0.9 0 1 0 1.8 0a0.9 0.9 0 1 0 -1.8 0M465.7 139.5a0.9 0.9 0 1 0 1.8 0a0.9 0.9 0 1 0 -1.8 0M466.9 139.3a0.9 0.9 0 1 0 1.8 0a0.9 0.9 0 1 0 -1.8 0M468.1 138.8a0.9 0.9 0 1 0 1.8 0a0.9 0.9 0 1 0 -1.8 0M469.3 138.1a0.9 0.9 0 1 0 1.8 0a0.9 0.9 0 1 0 -1.8 0M470.5 138.6a0.9 0.9 0 1 0 1.8 0a0.9 0.9 0 1 0 -1.8 0M471.7 138.3a0.9 0.9 0 1 0 1.8 0a0.9 0.9 0 1 0 -1.8 0" fill="#1a1a50" opacity="1.0"/>
<polyline points="326.2,129.4 327.4,127.3 328.6,125.2 329.8,123.1 331.0,120.9 332.2,118.9 333.4,117.6 334.6,116.6 335.8,115.7 337.0,115.1 338.2,114.9 339.4,114.8 340.6,114.6 341.8,114.6 343.0,114.5 344.2,114.5 345.4,114.9 346.6,115.7 347.8,116.9 349.0,118.2 350.2,119.5 351.4,120.8 352.6,122.4 353.8,124.0 355.0,125.5 356.2,126.9 357.4,128.1 358.6,128.8 359.8,129.3 361.0,129.6 362.2,130.0 363.4,130.2 364.6,130.4 365.8,130.6 367.0,130.8 368.2,131.0 369.4,131.1 370.6,131.3 371.8,131.4 373.0,131.5 374.2,131.7 375.4,131.8 376.6,131.8 377.8,131.9 379.0,132.0 380.2,132.0 381.4,132.0 382.6,132.1 383.8,132.1 385.0,132.1 386.2,132.1 387.4,132.2 388.6,132.2 389.8,132.2 391.0,132.2 392.2,132.2 393.4,132.3 394.6,132.3 395.8,132.3 397.0,132.3 398.2,132.3 399.4,132.3 400.6,132.3 401.8,132.3 403.0,132.4 404.2,132.4 405.4,132.4 406.6,132.4 407.8,132.4 409.0,132.4 410.2,132.4 411.4,132.5 412.6,132.5 413.8,132.5 415.0,132.5 416.2,132.5 417.4,132.6 418.6,132.6 419.8,132.6 421.0,132.6 422.2,132.7 423.4,132.7 424.6,132.7 425.8,132.7 427.0,132.8 428.2,132.8 429.4,132.8 430.6,132.8 431.8,132.9 433.0,132.9 434.2,132.9 435.4,132.9 436.6,133.0 437.8,133.0 439.0,133.0 440.2,133.1 441.4,133.1 442.6,133.1 443.8,133.2 445.0,133.2 446.2,133.2 447.4,133.2 448.6,133.3 449.8,133.3 451.0,133.3 452.2,133.4 453.4,133.4 454.6,133.4 455.8,133.5 457.0,133.5 458.2,133.5 459.4,133.6 460.6,133.6 461.8,133.7 463.0,133.7 464.2,133.7 465.4,133.8 466.6,133.8 467.8,133.8 469.0,133.9 470.2,133.9 471.4,133.9 472.6,134.0" fill="none" stroke="#1f3fd0" stroke-width="2" stroke-linejoin="round" stroke-linecap="round" opacity="1.0"/>
<path d="M319.0 128.0V131.3M318.2 128.0h1.6M318.2 131.3h1.6M320.2 129.7V132.3M319.4 129.7h1.6M319.4 132.3h1.6M321.4 130.1V134.4M320.6 130.1h1.6M320.6 134.4h1.6M322.6 130.8V134.3M321.8 130.8h1.6M321.8 134.3h1.6M323.8 130.2V135.7M323.0 130.2h1.6M323.0 135.7h1.6M325.0 126.7V132.1M324.2 126.7h1.6M324.2 132.1h1.6M326.2 126.1V130.4M325.4 126.1h1.6M325.4 130.4h1.6M327.4 123.8V129.6M326.6 123.8h1.6M326.6 129.6h1.6M328.6 123.6V127.4M327.8 123.6h1.6M327.8 127.4h1.6M329.8 120.5V123.4M329.0 120.5h1.6M329.0 123.4h1.6M331.0 118.3V123.9M330.2 118.3h1.6M330.2 123.9h1.6M332.2 116.2V122.2M331.4 116.2h1.6M331.4 122.2h1.6M333.4 116.7V119.5M332.6 116.7h1.6M332.6 119.5h1.6M334.6 113.2V117.2M333.8 113.2h1.6M333.8 117.2h1.6M335.8 114.4V117.1M335.0 114.4h1.6M335.0 117.1h1.6M337.0 112.6V117.5M336.2 112.6h1.6M336.2 117.5h1.6M338.2 111.6V117.1M337.4 111.6h1.6M337.4 117.1h1.6M339.4 114.3V117.3M338.6 114.3h1.6M338.6 117.3h1.6M340.6 111.6V116.8M339.8 111.6h1.6M339.8 116.8h1.6M341.8 113.5V118.0M341.0 113.5h1.6M341.0 118.0h1.6M343.0 112.2V115.4M342.2 112.2h1.6M342.2 115.4h1.6M344.2 114.2V117.7M343.4 114.2h1.6M343.4 117.7h1.6M345.4 114.6V118.0M344.6 114.6h1.6M344.6 118.0h1.6M346.6 113.2V116.5M345.8 113.2h1.6M345.8 116.5h1.6M347.8 114.8V119.3M347.0 114.8h1.6M347.0 119.3h1.6M349.0 116.9V119.7M348.2 116.9h1.6M348.2 119.7h1.6M350.2 115.6V121.4M349.4 115.6h1.6M349.4 121.4h1.6M351.4 119.4V123.4M350.6 119.4h1.6M350.6 123.4h1.6M352.6 120.8V124.8M351.8 120.8h1.6M351.8 124.8h1.6M353.8 120.5V125.7M353.0 120.5h1.6M353.0 125.7h1.6M355.0 124.0V126.9M354.2 124.0h1.6M354.2 126.9h1.6M356.2 125.9V129.3M355.4 125.9h1.6M355.4 129.3h1.6M357.4 125.4V130.4M356.6 125.4h1.6M356.6 130.4h1.6M358.6 125.5V130.5M357.8 125.5h1.6M357.8 130.5h1.6M359.8 128.5V132.8M359.0 128.5h1.6M359.0 132.8h1.6M361.0 126.1V131.3M360.2 126.1h1.6M360.2 131.3h1.6M362.2 127.8V132.6M361.4 127.8h1.6M361.4 132.6h1.6M363.4 128.6V133.7M362.6 128.6h1.6M362.6 133.7h1.6M364.6 128.3V133.9M363.8 128.3h1.6M363.8 133.9h1.6M365.8 126.3V131.5M365.0 126.3h1.6M365.0 131.5h1.6M367.0 127.6V133.3M366.2 127.6h1.6M366.2 133.3h1.6M368.2 128.7V132.9M367.4 128.7h1.6M367.4 132.9h1.6M369.4 128.1V133.6M368.6 128.1h1.6M368.6 133.6h1.6M370.6 129.2V134.4M369.8 129.2h1.6M369.8 134.4h1.6M371.8 130.5V133.2M371.0 130.5h1.6M371.0 133.2h1.6M373.0 129.4V133.9M372.2 129.4h1.6M372.2 133.9h1.6M374.2 128.9V134.8M373.4 128.9h1.6M373.4 134.8h1.6M375.4 130.5V134.7M374.6 130.5h1.6M374.6 134.7h1.6M376.6 131.0V134.9M375.8 131.0h1.6M375.8 134.9h1.6M377.8 128.2V132.1M377.0 128.2h1.6M377.0 132.1h1.6M379.0 131.2V136.7M378.2 131.2h1.6M378.2 136.7h1.6M380.2 129.5V133.4M379.4 129.5h1.6M379.4 133.4h1.6M381.4 131.0V134.4M380.6 131.0h1.6M380.6 134.4h1.6M382.6 128.0V133.1M381.8 128.0h1.6M381.8 133.1h1.6M383.8 128.5V134.7M383.0 128.5h1.6M383.0 134.7h1.6M385.0 128.5V133.4M384.2 128.5h1.6M384.2 133.4h1.6M386.2 131.7V134.5M385.4 131.7h1.6M385.4 134.5h1.6M387.4 131.5V134.5M386.6 131.5h1.6M386.6 134.5h1.6M388.6 130.3V134.0M387.8 130.3h1.6M387.8 134.0h1.6M389.8 129.4V134.6M389.0 129.4h1.6M389.0 134.6h1.6M391.0 129.6V135.5M390.2 129.6h1.6M390.2 135.5h1.6M392.2 128.7V134.0M391.4 128.7h1.6M391.4 134.0h1.6M393.4 130.2V133.2M392.6 130.2h1.6M392.6 133.2h1.6M394.6 129.0V134.1M393.8 129.0h1.6M393.8 134.1h1.6M395.8 130.3V135.7M395.0 130.3h1.6M395.0 135.7h1.6M397.0 130.2V134.4M396.2 130.2h1.6M396.2 134.4h1.6M398.2 129.4V132.8M397.4 129.4h1.6M397.4 132.8h1.6M399.4 130.4V134.9M398.6 130.4h1.6M398.6 134.9h1.6M400.6 130.7V134.9M399.8 130.7h1.6M399.8 134.9h1.6M401.8 131.7V135.5M401.0 131.7h1.6M401.0 135.5h1.6M403.0 130.5V133.2M402.2 130.5h1.6M402.2 133.2h1.6M404.2 130.9V134.5M403.4 130.9h1.6M403.4 134.5h1.6M405.4 131.6V136.9M404.6 131.6h1.6M404.6 136.9h1.6M406.6 130.2V134.0M405.8 130.2h1.6M405.8 134.0h1.6M407.8 129.6V134.5M407.0 129.6h1.6M407.0 134.5h1.6M409.0 130.8V134.9M408.2 130.8h1.6M408.2 134.9h1.6M410.2 130.3V133.7M409.4 130.3h1.6M409.4 133.7h1.6M411.4 129.8V135.1M410.6 129.8h1.6M410.6 135.1h1.6M412.6 129.1V134.9M411.8 129.1h1.6M411.8 134.9h1.6M413.8 129.2V134.4M413.0 129.2h1.6M413.0 134.4h1.6M415.0 130.7V135.9M414.2 130.7h1.6M414.2 135.9h1.6M416.2 130.2V134.2M415.4 130.2h1.6M415.4 134.2h1.6M417.4 128.8V134.5M416.6 128.8h1.6M416.6 134.5h1.6M418.6 129.3V135.4M417.8 129.3h1.6M417.8 135.4h1.6M419.8 130.1V134.8M419.0 130.1h1.6M419.0 134.8h1.6M421.0 130.3V135.5M420.2 130.3h1.6M420.2 135.5h1.6M422.2 132.0V135.0M421.4 132.0h1.6M421.4 135.0h1.6M423.4 132.8V135.7M422.6 132.8h1.6M422.6 135.7h1.6M424.6 129.1V134.1M423.8 129.1h1.6M423.8 134.1h1.6M425.8 130.5V134.4M425.0 130.5h1.6M425.0 134.4h1.6M427.0 129.2V132.9M426.2 129.2h1.6M426.2 132.9h1.6M428.2 130.6V135.3M427.4 130.6h1.6M427.4 135.3h1.6M429.4 131.9V134.6M428.6 131.9h1.6M428.6 134.6h1.6M430.6 129.9V134.5M429.8 129.9h1.6M429.8 134.5h1.6M431.8 129.5V134.5M431.0 129.5h1.6M431.0 134.5h1.6M433.0 129.3V134.6M432.2 129.3h1.6M432.2 134.6h1.6M434.2 130.2V132.9M433.4 130.2h1.6M433.4 132.9h1.6M435.4 132.0V134.9M434.6 132.0h1.6M434.6 134.9h1.6M436.6 132.0V137.4M435.8 132.0h1.6M435.8 137.4h1.6M437.8 129.1V134.8M437.0 129.1h1.6M437.0 134.8h1.6M439.0 131.6V137.4M438.2 131.6h1.6M438.2 137.4h1.6M440.2 130.6V135.2M439.4 130.6h1.6M439.4 135.2h1.6M441.4 129.9V133.7M440.6 129.9h1.6M440.6 133.7h1.6M442.6 130.8V136.3M441.8 130.8h1.6M441.8 136.3h1.6M443.8 131.8V135.8M443.0 131.8h1.6M443.0 135.8h1.6M445.0 130.5V136.5M444.2 130.5h1.6M444.2 136.5h1.6M446.2 130.7V135.1M445.4 130.7h1.6M445.4 135.1h1.6M447.4 133.4V136.1M446.6 133.4h1.6M446.6 136.1h1.6M448.6 131.6V134.3M447.8 131.6h1.6M447.8 134.3h1.6M449.8 130.9V136.7M449.0 130.9h1.6M449.0 136.7h1.6M451.0 132.0V135.8M450.2 132.0h1.6M450.2 135.8h1.6M452.2 130.8V134.1M451.4 130.8h1.6M451.4 134.1h1.6M453.4 130.2V133.1M452.6 130.2h1.6M452.6 133.1h1.6M454.6 129.9V133.7M453.8 129.9h1.6M453.8 133.7h1.6M455.8 130.1V136.0M455.0 130.1h1.6M455.0 136.0h1.6M457.0 132.4V135.1M456.2 132.4h1.6M456.2 135.1h1.6M458.2 129.1V134.6M457.4 129.1h1.6M457.4 134.6h1.6M459.4 130.9V134.8M458.6 130.9h1.6M458.6 134.8h1.6M460.6 132.3V137.6M459.8 132.3h1.6M459.8 137.6h1.6M461.8 129.1V134.7M461.0 129.1h1.6M461.0 134.7h1.6M463.0 131.1V136.9M462.2 131.1h1.6M462.2 136.9h1.6M464.2 132.3V135.6M463.4 132.3h1.6M463.4 135.6h1.6M465.4 131.8V137.0M464.6 131.8h1.6M464.6 137.0h1.6M466.6 130.8V134.0M465.8 130.8h1.6M465.8 134.0h1.6M467.8 132.4V135.8M467.0 132.4h1.6M467.0 135.8h1.6M469.0 130.8V134.2M468.2 130.8h1.6M468.2 134.2h1.6M470.2 132.0V138.1M469.4 132.0h1.6M469.4 138.1h1.6M471.4 130.2V136.0M470.6 130.2h1.6M470.6 136.0h1.6M472.6 131.6V136.9M471.8 131.6h1.6M471.8 136.9h1.6" stroke="#8090e8" stroke-width="0.6" fill="none" opacity="1.0"/>
<polyline points="319.0,129.7 320.2,131.0 321.4,132.2 322.6,132.6 323.8,133.0 325.0,129.4 326.2,128.2 327.4,126.7 328.6,125.5 329.8,121.9 331.0,121.1 332.2,119.2 333.4,118.1 334.6,115.2 335.8,115.7 337.0,115.1 338.2,114.4 339.4,115.8 340.6,114.2 341.8,115.7 343.0,113.8 344.2,115.9 345.4,116.3 346.6,114.8 347.8,117.0 349.0,118.3 350.2,118.5 351.4,121.4 352.6,122.8 353.8,123.1 355.0,125.5 356.2,127.6 357.4,127.9 358.6,128.0 359.8,130.7 361.0,128.7 362.2,130.2 363.4,131.2 364.6,131.1 365.8,128.9 367.0,130.4 368.2,130.8 369.4,130.9 370.6,131.8 371.8,131.9 373.0,131.6 374.2,131.9 375.4,132.6 376.6,132.9 377.8,130.1 379.0,133.9 380.2,131.5 381.4,132.7 382.6,130.6 383.8,131.6 385.0,130.9 386.2,133.1 387.4,133.0 388.6,132.2 389.8,132.0 391.0,132.6 392.2,131.4 393.4,131.7 394.6,131.6 395.8,133.0 397.0,132.3 398.2,131.1 399.4,132.6 400.6,132.8 401.8,133.6 403.0,131.8 404.2,132.7 405.4,134.3 406.6,132.1 407.8,132.1 409.0,132.9 410.2,132.0 411.4,132.4 412.6,132.0 413.8,131.8 415.0,133.3 416.2,132.2 417.4,131.6 418.6,132.3 419.8,132.5 421.0,132.9 422.2,133.5 423.4,134.3 424.6,131.6 425.8,132.5 427.0,131.1 428.2,133.0 429.4,133.3 430.6,132.2 431.8,132.0 433.0,132.0 434.2,131.5 435.4,133.5 436.6,134.7 437.8,131.9 439.0,134.5 440.2,132.9 441.4,131.8 442.6,133.6 443.8,133.8 445.0,133.5 446.2,132.9 447.4,134.7 448.6,133.0 449.8,133.8 451.0,133.9 452.2,132.5 453.4,131.7 454.6,131.8 455.8,133.0 457.0,133.8 458.2,131.9 459.4,132.8 460.6,134.9 461.8,131.9 463.0,134.0 464.2,134.0 465.4,134.4 466.6,132.4 467.8,134.1 469.0,132.5 470.2,135.0 471.4,133.1 472.6,134.2" stroke="#1f3fd0" stroke-width="1.8" fill="none" stroke-linejoin="round" opacity="1.0"/>
<path d="M318.0 129.7a1.0 1.0 0 1 0 2.0 0a1.0 1.0 0 1 0 -2.0 0M319.2 131.0a1.0 1.0 0 1 0 2.0 0a1.0 1.0 0 1 0 -2.0 0M320.4 132.2a1.0 1.0 0 1 0 2.0 0a1.0 1.0 0 1 0 -2.0 0M321.6 132.6a1.0 1.0 0 1 0 2.0 0a1.0 1.0 0 1 0 -2.0 0M322.8 133.0a1.0 1.0 0 1 0 2.0 0a1.0 1.0 0 1 0 -2.0 0M324.0 129.4a1.0 1.0 0 1 0 2.0 0a1.0 1.0 0 1 0 -2.0 0M325.2 128.2a1.0 1.0 0 1 0 2.0 0a1.0 1.0 0 1 0 -2.0 0M326.4 126.7a1.0 1.0 0 1 0 2.0 0a1.0 1.0 0 1 0 -2.0 0M327.6 125.5a1.0 1.0 0 1 0 2.0 0a1.0 1.0 0 1 0 -2.0 0M328.8 121.9a1.0 1.0 0 1 0 2.0 0a1.0 1.0 0 1 0 -2.0 0M330.0 121.1a1.0 1.0 0 1 0 2.0 0a1.0 1.0 0 1 0 -2.0 0M331.2 119.2a1.0 1.0 0 1 0 2.0 0a1.0 1.0 0 1 0 -2.0 0M332.4 118.1a1.0 1.0 0 1 0 2.0 0a1.0 1.0 0 1 0 -2.0 0M333.6 115.2a1.0 1.0 0 1 0 2.0 0a1.0 1.0 0 1 0 -2.0 0M334.8 115.7a1.0 1.0 0 1 0 2.0 0a1.0 1.0 0 1 0 -2.0 0M336.0 115.1a1.0 1.0 0 1 0 2.0 0a1.0 1.0 0 1 0 -2.0 0M337.2 114.4a1.0 1.0 0 1 0 2.0 0a1.0 1.0 0 1 0 -2.0 0M338.4 115.8a1.0 1.0 0 1 0 2.0 0a1.0 1.0 0 1 0 -2.0 0M339.6 114.2a1.0 1.0 0 1 0 2.0 0a1.0 1.0 0 1 0 -2.0 0M340.8 115.7a1.0 1.0 0 1 0 2.0 0a1.0 1.0 0 1 0 -2.0 0M342.0 113.8a1.0 1.0 0 1 0 2.0 0a1.0 1.0 0 1 0 -2.0 0M343.2 115.9a1.0 1.0 0 1 0 2.0 0a1.0 1.0 0 1 0 -2.0 0M344.4 116.3a1.0 1.0 0 1 0 2.0 0a1.0 1.0 0 1 0 -2.0 0M345.6 114.8a1.0 1.0 0 1 0 2.0 0a1.0 1.0 0 1 0 -2.0 0M346.8 117.0a1.0 1.0 0 1 0 2.0 0a1.0 1.0 0 1 0 -2.0 0M348.0 118.3a1.0 1.0 0 1 0 2.0 0a1.0 1.0 0 1 0 -2.0 0M349.2 118.5a1.0 1.0 0 1 0 2.0 0a1.0 1.0 0 1 0 -2.0 0M350.4 121.4a1.0 1.0 0 1 0 2.0 0a1.0 1.0 0 1 0 -2.0 0M351.6 122.8a1.0 1.0 0 1 0 2.0 0a1.0 1.0 0 1 0 -2.0 0M352.8 123.1a1.0 1.0 0 1 0 2.0 0a1.0 1.0 0 1 0 -2.0 0M354.0 125.5a1.0 1.0 0 1 0 2.0 0a1.0 1.0 0 1 0 -2.0 0M355.2 127.6a1.0 1.0 0 1 0 2.0 0a1.0 1.0 0 1 0 -2.0 0M356.4 127.9a1.0 1.0 0 1 0 2.0 0a1.0 1.0 0 1 0 -2.0 0M357.6 128.0a1.0 1.0 0 1 0 2.0 0a1.0 1.0 0 1 0 -2.0 0M358.8 130.7a1.0 1.0 0 1 0 2.0 0a1.0 1.0 0 1 0 -2.0 0M360.0 128.7a1.0 1.0 0 1 0 2.0 0a1.0 1.0 0 1 0 -2.0 0M361.2 130.2a1.0 1.0 0 1 0 2.0 0a1.0 1.0 0 1 0 -2.0 0M362.4 131.2a1.0 1.0 0 1 0 2.0 0a1.0 1.0 0 1 0 -2.0 0M363.6 131.1a1.0 1.0 0 1 0 2.0 0a1.0 1.0 0 1 0 -2.0 0M364.8 128.9a1.0 1.0 0 1 0 2.0 0a1.0 1.0 0 1 0 -2.0 0M366.0 130.4a1.0 1.0 0 1 0 2.0 0a1.0 1.0 0 1 0 -2.0 0M367.2 130.8a1.0 1.0 0 1 0 2.0 0a1.0 1.0 0 1 0 -2.0 0M368.4 130.9a1.0 1.0 0 1 0 2.0 0a1.0 1.0 0 1 0 -2.0 0M369.6 131.8a1.0 1.0 0 1 0 2.0 0a1.0 1.0 0 1 0 -2.0 0M370.8 131.9a1.0 1.0 0 1 0 2.0 0a1.0 1.0 0 1 0 -2.0 0M372.0 131.6a1.0 1.0 0 1 0 2.0 0a1.0 1.0 0 1 0 -2.0 0M373.2 131.9a1.0 1.0 0 1 0 2.0 0a1.0 1.0 0 1 0 -2.0 0M374.4 132.6a1.0 1.0 0 1 0 2.0 0a1.0 1.0 0 1 0 -2.0 0M375.6 132.9a1.0 1.0 0 1 0 2.0 0a1.0 1.0 0 1 0 -2.0 0M376.8 130.1a1.0 1.0 0 1 0 2.0 0a1.0 1.0 0 1 0 -2.0 0M378.0 133.9a1.0 1.0 0 1 0 2.0 0a1.0 1.0 0 1 0 -2.0 0M379.2 131.5a1.0 1.0 0 1 0 2.0 0a1.0 1.0 0 1 0 -2.0 0M380.4 132.7a1.0 1.0 0 1 0 2.0 0a1.0 1.0 0 1 0 -2.0 0M381.6 130.6a1.0 1.0 0 1 0 2.0 0a1.0 1.0 0 1 0 -2.0 0M382.8 131.6a1.0 1.0 0 1 0 2.0 0a1.0 1.0 0 1 0 -2.0 0M384.0 130.9a1.0 1.0 0 1 0 2.0 0a1.0 1.0 0 1 0 -2.0 0M385.2 133.1a1.0 1.0 0 1 0 2.0 0a1.0 1.0 0 1 0 -2.0 0M386.4 133.0a1.0 1.0 0 1 0 2.0 0a1.0 1.0 0 1 0 -2.0 0M387.6 132.2a1.0 1.0 0 1 0 2.0 0a1.0 1.0 0 1 0 -2.0 0M388.8 132.0a1.0 1.0 0 1 0 2.0 0a1.0 1.0 0 1 0 -2.0 0M390.0 132.6a1.0 1.0 0 1 0 2.0 0a1.0 1.0 0 1 0 -2.0 0M391.2 131.4a1.0 1.0 0 1 0 2.0 0a1.0 1.0 0 1 0 -2.0 0M392.4 131.7a1.0 1.0 0 1 0 2.0 0a1.0 1.0 0 1 0 -2.0 0M393.6 131.6a1.0 1.0 0 1 0 2.0 0a1.0 1.0 0 1 0 -2.0 0M394.8 133.0a1.0 1.0 0 1 0 2.0 0a1.0 1.0 0 1 0 -2.0 0M396.0 132.3a1.0 1.0 0 1 0 2.0 0a1.0 1.0 0 1 0 -2.0 0M397.2 131.1a1.0 1.0 0 1 0 2.0 0a1.0 1.0 0 1 0 -2.0 0M398.4 132.6a1.0 1.0 0 1 0 2.0 0a1.0 1.0 0 1 0 -2.0 0M399.6 132.8a1.0 1.0 0 1 0 2.0 0a1.0 1.0 0 1 0 -2.0 0M400.8 133.6a1.0 1.0 0 1 0 2.0 0a1.0 1.0 0 1 0 -2.0 0M402.0 131.8a1.0 1.0 0 1 0 2.0 0a1.0 1.0 0 1 0 -2.0 0M403.2 132.7a1.0 1.0 0 1 0 2.0 0a1.0 1.0 0 1 0 -2.0 0M404.4 134.3a1.0 1.0 0 1 0 2.0 0a1.0 1.0 0 1 0 -2.0 0M405.6 132.1a1.0 1.0 0 1 0 2.0 0a1.0 1.0 0 1 0 -2.0 0M406.8 132.1a1.0 1.0 0 1 0 2.0 0a1.0 1.0 0 1 0 -2.0 0M408.0 132.9a1.0 1.0 0 1 0 2.0 0a1.0 1.0 0 1 0 -2.0 0M409.2 132.0a1.0 1.0 0 1 0 2.0 0a1.0 1.0 0 1 0 -2.0 0M410.4 132.4a1.0 1.0 0 1 0 2.0 0a1.0 1.0 0 1 0 -2.0 0M411.6 132.0a1.0 1.0 0 1 0 2.0 0a1.0 1.0 0 1 0 -2.0 0M412.8 131.8a1.0 1.0 0 1 0 2.0 0a1.0 1.0 0 1 0 -2.0 0M414.0 133.3a1.0 1.0 0 1 0 2.0 0a1.0 1.0 0 1 0 -2.0 0M415.2 132.2a1.0 1.0 0 1 0 2.0 0a1.0 1.0 0 1 0 -2.0 0M416.4 131.6a1.0 1.0 0 1 0 2.0 0a1.0 1.0 0 1 0 -2.0 0M417.6 132.3a1.0 1.0 0 1 0 2.0 0a1.0 1.0 0 1 0 -2.0 0M418.8 132.5a1.0 1.0 0 1 0 2.0 0a1.0 1.0 0 1 0 -2.0 0M420.0 132.9a1.0 1.0 0 1 0 2.0 0a1.0 1.0 0 1 0 -2.0 0M421.2 133.5a1.0 1.0 0 1 0 2.0 0a1.0 1.0 0 1 0 -2.0 0M422.4 134.3a1.0 1.0 0 1 0 2.0 0a1.0 1.0 0 1 0 -2.0 0M423.6 131.6a1.0 1.0 0 1 0 2.0 0a1.0 1.0 0 1 0 -2.0 0M424.8 132.5a1.0 1.0 0 1 0 2.0 0a1.0 1.0 0 1 0 -2.0 0M426.0 131.1a1.0 1.0 0 1 0 2.0 0a1.0 1.0 0 1 0 -2.0 0M427.2 133.0a1.0 1.0 0 1 0 2.0 0a1.0 1.0 0 1 0 -2.0 0M428.4 133.3a1.0 1.0 0 1 0 2.0 0a1.0 1.0 0 1 0 -2.0 0M429.6 132.2a1.0 1.0 0 1 0 2.0 0a1.0 1.0 0 1 0 -2.0 0M430.8 132.0a1.0 1.0 0 1 0 2.0 0a1.0 1.0 0 1 0 -2.0 0M432.0 132.0a1.0 1.0 0 1 0 2.0 0a1.0 1.0 0 1 0 -2.0 0M433.2 131.5a1.0 1.0 0 1 0 2.0 0a1.0 1.0 0 1 0 -2.0 0M434.4 133.5a1.0 1.0 0 1 0 2.0 0a1.0 1.0 0 1 0 -2.0 0M435.6 134.7a1.0 1.0 0 1 0 2.0 0a1.0 1.0 0 1 0 -2.0 0M436.8 131.9a1.0 1.0 0 1 0 2.0 0a1.0 1.0 0 1 0 -2.0 0M438.0 134.5a1.0 1.0 0 1 0 2.0 0a1.0 1.0 0 1 0 -2.0 0M439.2 132.9a1.0 1.0 0 1 0 2.0 0a1.0 1.0 0 1 0 -2.0 0M440.4 131.8a1.0 1.0 0 1 0 2.0 0a1.0 1.0 0 1 0 -2.0 0M441.6 133.6a1.0 1.0 0 1 0 2.0 0a1.0 1.0 0 1 0 -2.0 0M442.8 133.8a1.0 1.0 0 1 0 2.0 0a1.0 1.0 0 1 0 -2.0 0M444.0 133.5a1.0 1.0 0 1 0 2.0 0a1.0 1.0 0 1 0 -2.0 0M445.2 132.9a1.0 1.0 0 1 0 2.0 0a1.0 1.0 0 1 0 -2.0 0M446.4 134.7a1.0 1.0 0 1 0 2.0 0a1.0 1.0 0 1 0 -2.0 0M447.6 133.0a1.0 1.0 0 1 0 2.0 0a1.0 1.0 0 1 0 -2.0 0M448.8 133.8a1.0 1.0 0 1 0 2.0 0a1.0 1.0 0 1 0 -2.0 0M450.0 133.9a1.0 1.0 0 1 0 2.0 0a1.0 1.0 0 1 0 -2.0 0M451.2 132.5a1.0 1.0 0 1 0 2.0 0a1.0 1.0 0 1 0 -2.0 0M452.4 131.7a1.0 1.0 0 1 0 2.0 0a1.0 1.0 0 1 0 -2.0 0M453.6 131.8a1.0 1.0 0 1 0 2.0 0a1.0 1.0 0 1 0 -2.0 0M454.8 133.0a1.0 1.0 0 1 0 2.0 0a1.0 1.0 0 1 0 -2.0 0M456.0 133.8a1.0 1.0 0 1 0 2.0 0a1.0 1.0 0 1 0 -2.0 0M457.2 131.9a1.0 1.0 0 1 0 2.0 0a1.0 1.0 0 1 0 -2.0 0M458.4 132.8a1.0 1.0 0 1 0 2.0 0a1.0 1.0 0 1 0 -2.0 0M459.6 134.9a1.0 1.0 0 1 0 2.0 0a1.0 1.0 0 1 0 -2.0 0M460.8 131.9a1.0 1.0 0 1 0 2.0 0a1.0 1.0 0 1 0 -2.0 0M462.0 134.0a1.0 1.0 0 1 0 2.0 0a1.0 1.0 0 1 0 -2.0 0M463.2 134.0a1.0 1.0 0 1 0 2.0 0a1.0 1.0 0 1 0 -2.0 0M464.4 134.4a1.0 1.0 0 1 0 2.0 0a1.0 1.0 0 1 0 -2.0 0M465.6 132.4a1.0 1.0 0 1 0 2.0 0a1.0 1.0 0 1 0 -2.0 0M466.8 134.1a1.0 1.0 0 1 0 2.0 0a1.0 1.0 0 1 0 -2.0 0M468.0 132.5a1.0 1.0 0 1 0 2.0 0a1.0 1.0 0 1 0 -2.0 0M469.2 135.0a1.0 1.0 0 1 0 2.0 0a1.0 1.0 0 1 0 -2.0 0M470.4 133.1a1.0 1.0 0 1 0 2.0 0a1.0 1.0 0 1 0 -2.0 0M471.6 134.2a1.0 1.0 0 1 0 2.0 0a1.0 1.0 0 1 0 -2.0 0" fill="#1f3fd0" opacity="1.0"/>
<polyline points="326.2,131.0 327.4,110.3 328.6,97.8 329.8,90.7 331.0,86.9 332.2,85.0 333.4,85.8 334.6,87.7 335.8,90.1 337.0,92.7 338.2,95.3 339.4,97.7 340.6,99.7 341.8,101.6 343.0,103.5 344.2,105.4 345.4,107.3 346.6,109.1 347.8,110.9 349.0,112.8 350.2,114.6 351.4,116.6 352.6,118.6 353.8,120.5 355.0,122.3 356.2,124.1 357.4,125.7 358.6,127.1 359.8,128.4 361.0,129.5 362.2,130.6 363.4,131.6 364.6,132.4 365.8,133.2 367.0,134.0 368.2,134.6 369.4,135.2 370.6,135.7 371.8,136.2 373.0,136.7 374.2,137.1 375.4,137.5 376.6,137.8 377.8,138.0 379.0,138.1 380.2,138.3 381.4,138.4 382.6,138.5 383.8,138.6 385.0,138.7 386.2,138.8 387.4,138.9 388.6,139.0 389.8,139.1 391.0,139.2 392.2,139.3 393.4,139.4 394.6,139.5 395.8,139.5 397.0,139.6 398.2,139.7 399.4,139.7 400.6,139.8 401.8,139.9 403.0,139.9 404.2,140.0 405.4,140.0 406.6,140.1 407.8,140.1 409.0,140.2 410.2,140.2 411.4,140.2 412.6,140.3 413.8,140.3 415.0,140.4 416.2,140.4 417.4,140.4 418.6,140.5 419.8,140.5 421.0,140.5 422.2,140.6 423.4,140.6 424.6,140.6 425.8,140.7 427.0,140.7 428.2,140.7 429.4,140.8 430.6,140.8 431.8,140.8 433.0,140.9 434.2,140.9 435.4,140.9 436.6,141.0 437.8,141.0 439.0,141.0 440.2,141.1 441.4,141.1 442.6,141.1 443.8,141.1 445.0,141.2 446.2,141.2 447.4,141.2 448.6,141.2 449.8,141.3 451.0,141.3 452.2,141.3 453.4,141.3 454.6,141.3 455.8,141.4 457.0,141.4 458.2,141.4 459.4,141.4 460.6,141.4 461.8,141.4 463.0,141.5 464.2,141.5 465.4,141.5 466.6,141.5 467.8,141.5 469.0,141.5 470.2,141.5 471.4,141.5 472.6,141.5" fill="none" stroke="#2a9a2a" stroke-width="2.2" stroke-linejoin="round" stroke-linecap="round" opacity="1.0"/>
<path d="M319.0 136.4V141.4M318.2 136.4h1.6M318.2 141.4h1.6M320.2 135.0V139.9M319.4 135.0h1.6M319.4 139.9h1.6M321.4 134.9V140.3M320.6 134.9h1.6M320.6 140.3h1.6M322.6 135.4V138.7M321.8 135.4h1.6M321.8 138.7h1.6M323.8 134.3V139.3M323.0 134.3h1.6M323.0 139.3h1.6M325.0 135.2V140.1M324.2 135.2h1.6M324.2 140.1h1.6M326.2 129.3V133.6M325.4 129.3h1.6M325.4 133.6h1.6M327.4 108.3V113.2M326.6 108.3h1.6M326.6 113.2h1.6M328.6 96.7V99.9M327.8 96.7h1.6M327.8 99.9h1.6M329.8 88.6V92.4M329.0 88.6h1.6M329.0 92.4h1.6M331.0 82.5V86.8M330.2 82.5h1.6M330.2 86.8h1.6M332.2 83.1V88.5M331.4 83.1h1.6M331.4 88.5h1.6M333.4 84.6V89.3M332.6 84.6h1.6M332.6 89.3h1.6M334.6 87.1V89.7M333.8 87.1h1.6M333.8 89.7h1.6M335.8 88.3V93.4M335.0 88.3h1.6M335.0 93.4h1.6M337.0 91.2V96.0M336.2 91.2h1.6M336.2 96.0h1.6M338.2 95.0V100.0M337.4 95.0h1.6M337.4 100.0h1.6M339.4 95.5V100.4M338.6 95.5h1.6M338.6 100.4h1.6M340.6 98.7V103.3M339.8 98.7h1.6M339.8 103.3h1.6M341.8 100.1V104.4M341.0 100.1h1.6M341.0 104.4h1.6M343.0 102.6V105.5M342.2 102.6h1.6M342.2 105.5h1.6M344.2 103.2V107.3M343.4 103.2h1.6M343.4 107.3h1.6M345.4 104.4V109.5M344.6 104.4h1.6M344.6 109.5h1.6M346.6 105.4V110.9M345.8 105.4h1.6M345.8 110.9h1.6M347.8 109.9V112.9M347.0 109.9h1.6M347.0 112.9h1.6M349.0 110.2V114.8M348.2 110.2h1.6M348.2 114.8h1.6M350.2 111.9V115.3M349.4 111.9h1.6M349.4 115.3h1.6M351.4 113.8V118.1M350.6 113.8h1.6M350.6 118.1h1.6M352.6 115.9V119.4M351.8 115.9h1.6M351.8 119.4h1.6M353.8 120.3V123.4M353.0 120.3h1.6M353.0 123.4h1.6M355.0 119.9V124.2M354.2 119.9h1.6M354.2 124.2h1.6M356.2 122.4V125.9M355.4 122.4h1.6M355.4 125.9h1.6M357.4 122.8V126.5M356.6 122.8h1.6M356.6 126.5h1.6M358.6 123.6V128.9M357.8 123.6h1.6M357.8 128.9h1.6M359.8 127.0V131.5M359.0 127.0h1.6M359.0 131.5h1.6M361.0 127.7V130.9M360.2 127.7h1.6M360.2 130.9h1.6M362.2 129.1V132.4M361.4 129.1h1.6M361.4 132.4h1.6M363.4 131.0V135.1M362.6 131.0h1.6M362.6 135.1h1.6M364.6 132.8V135.5M363.8 132.8h1.6M363.8 135.5h1.6M365.8 131.3V136.3M365.0 131.3h1.6M365.0 136.3h1.6M367.0 132.0V136.8M366.2 132.0h1.6M366.2 136.8h1.6M368.2 133.5V136.2M367.4 133.5h1.6M367.4 136.2h1.6M369.4 133.7V136.3M368.6 133.7h1.6M368.6 136.3h1.6M370.6 136.1V138.7M369.8 136.1h1.6M369.8 138.7h1.6M371.8 133.2V137.2M371.0 133.2h1.6M371.0 137.2h1.6M373.0 135.0V138.2M372.2 135.0h1.6M372.2 138.2h1.6M374.2 133.6V137.5M373.4 133.6h1.6M373.4 137.5h1.6M375.4 134.4V138.4M374.6 134.4h1.6M374.6 138.4h1.6M376.6 135.6V140.6M375.8 135.6h1.6M375.8 140.6h1.6M377.8 136.3V140.4M377.0 136.3h1.6M377.0 140.4h1.6M379.0 137.1V139.7M378.2 137.1h1.6M378.2 139.7h1.6M380.2 136.3V139.6M379.4 136.3h1.6M379.4 139.6h1.6M381.4 135.3V140.3M380.6 135.3h1.6M380.6 140.3h1.6M382.6 135.6V140.5M381.8 135.6h1.6M381.8 140.5h1.6M383.8 135.8V140.8M383.0 135.8h1.6M383.0 140.8h1.6M385.0 137.3V142.0M384.2 137.3h1.6M384.2 142.0h1.6M386.2 138.5V141.6M385.4 138.5h1.6M385.4 141.6h1.6M387.4 137.7V140.9M386.6 137.7h1.6M386.6 140.9h1.6M388.6 136.8V140.3M387.8 136.8h1.6M387.8 140.3h1.6M389.8 136.8V139.9M389.0 136.8h1.6M389.0 139.9h1.6M391.0 137.4V141.6M390.2 137.4h1.6M390.2 141.6h1.6M392.2 137.5V140.8M391.4 137.5h1.6M391.4 140.8h1.6M393.4 135.5V140.3M392.6 135.5h1.6M392.6 140.3h1.6M394.6 139.3V141.9M393.8 139.3h1.6M393.8 141.9h1.6M395.8 137.3V141.8M395.0 137.3h1.6M395.0 141.8h1.6M397.0 137.8V140.9M396.2 137.8h1.6M396.2 140.9h1.6M398.2 136.4V141.5M397.4 136.4h1.6M397.4 141.5h1.6M399.4 136.4V141.6M398.6 136.4h1.6M398.6 141.6h1.6M400.6 138.5V142.6M399.8 138.5h1.6M399.8 142.6h1.6M401.8 137.8V140.3M401.0 137.8h1.6M401.0 140.3h1.6M403.0 138.7V141.3M402.2 138.7h1.6M402.2 141.3h1.6M404.2 138.1V142.9M403.4 138.1h1.6M403.4 142.9h1.6M405.4 139.9V143.1M404.6 139.9h1.6M404.6 143.1h1.6M406.6 138.5V142.6M405.8 138.5h1.6M405.8 142.6h1.6M407.8 137.6V142.6M407.0 137.6h1.6M407.0 142.6h1.6M409.0 137.3V142.3M408.2 137.3h1.6M408.2 142.3h1.6M410.2 138.1V143.7M409.4 138.1h1.6M409.4 143.7h1.6M411.4 138.9V143.3M410.6 138.9h1.6M410.6 143.3h1.6M412.6 138.1V141.7M411.8 138.1h1.6M411.8 141.7h1.6M413.8 138.8V142.8M413.0 138.8h1.6M413.0 142.8h1.6M415.0 138.3V142.2M414.2 138.3h1.6M414.2 142.2h1.6M416.2 137.2V140.8M415.4 137.2h1.6M415.4 140.8h1.6M417.4 136.8V142.4M416.6 136.8h1.6M416.6 142.4h1.6M418.6 138.5V143.7M417.8 138.5h1.6M417.8 143.7h1.6M419.8 139.9V143.5M419.0 139.9h1.6M419.0 143.5h1.6M421.0 138.4V143.8M420.2 138.4h1.6M420.2 143.8h1.6M422.2 137.6V143.2M421.4 137.6h1.6M421.4 143.2h1.6M423.4 138.0V142.0M422.6 138.0h1.6M422.6 142.0h1.6M424.6 138.9V143.2M423.8 138.9h1.6M423.8 143.2h1.6M425.8 139.0V142.9M425.0 139.0h1.6M425.0 142.9h1.6M427.0 137.3V141.4M426.2 137.3h1.6M426.2 141.4h1.6M428.2 138.8V143.7M427.4 138.8h1.6M427.4 143.7h1.6M429.4 137.8V142.6M428.6 137.8h1.6M428.6 142.6h1.6M430.6 140.0V142.7M429.8 140.0h1.6M429.8 142.7h1.6M431.8 140.1V142.5M431.0 140.1h1.6M431.0 142.5h1.6M433.0 139.3V143.6M432.2 139.3h1.6M432.2 143.6h1.6M434.2 140.1V143.5M433.4 140.1h1.6M433.4 143.5h1.6M435.4 139.1V144.0M434.6 139.1h1.6M434.6 144.0h1.6M436.6 138.8V141.3M435.8 138.8h1.6M435.8 141.3h1.6M437.8 138.5V141.8M437.0 138.5h1.6M437.0 141.8h1.6M439.0 139.8V144.0M438.2 139.8h1.6M438.2 144.0h1.6M440.2 139.0V143.9M439.4 139.0h1.6M439.4 143.9h1.6M441.4 138.0V141.6M440.6 138.0h1.6M440.6 141.6h1.6M442.6 137.4V141.5M441.8 137.4h1.6M441.8 141.5h1.6M443.8 140.1V143.7M443.0 140.1h1.6M443.0 143.7h1.6M445.0 141.3V144.7M444.2 141.3h1.6M444.2 144.7h1.6M446.2 140.1V143.7M445.4 140.1h1.6M445.4 143.7h1.6M447.4 138.7V143.3M446.6 138.7h1.6M446.6 143.3h1.6M448.6 139.3V143.6M447.8 139.3h1.6M447.8 143.6h1.6M449.8 137.6V140.3M449.0 137.6h1.6M449.0 140.3h1.6M451.0 138.3V142.6M450.2 138.3h1.6M450.2 142.6h1.6M452.2 139.6V144.7M451.4 139.6h1.6M451.4 144.7h1.6M453.4 140.2V143.9M452.6 140.2h1.6M452.6 143.9h1.6M454.6 137.1V142.1M453.8 137.1h1.6M453.8 142.1h1.6M455.8 140.0V144.7M455.0 140.0h1.6M455.0 144.7h1.6M457.0 139.8V143.8M456.2 139.8h1.6M456.2 143.8h1.6M458.2 140.8V143.5M457.4 140.8h1.6M457.4 143.5h1.6M459.4 139.2V143.3M458.6 139.2h1.6M458.6 143.3h1.6M460.6 139.8V143.1M459.8 139.8h1.6M459.8 143.1h1.6M461.8 137.8V143.3M461.0 137.8h1.6M461.0 143.3h1.6M463.0 139.2V144.3M462.2 139.2h1.6M462.2 144.3h1.6M464.2 140.1V144.3M463.4 140.1h1.6M463.4 144.3h1.6M465.4 138.4V143.0M464.6 138.4h1.6M464.6 143.0h1.6M466.6 139.3V144.2M465.8 139.3h1.6M465.8 144.2h1.6M467.8 138.4V143.7M467.0 138.4h1.6M467.0 143.7h1.6M469.0 140.1V144.6M468.2 140.1h1.6M468.2 144.6h1.6M470.2 140.4V144.2M469.4 140.4h1.6M469.4 144.2h1.6M471.4 138.1V141.0M470.6 138.1h1.6M470.6 141.0h1.6M472.6 139.4V144.4M471.8 139.4h1.6M471.8 144.4h1.6" stroke="#2a9a2a" stroke-width="0.6" fill="none" opacity="1.0"/>
<polyline points="319.0,138.9 320.2,137.4 321.4,137.6 322.6,137.1 323.8,136.8 325.0,137.6 326.2,131.4 327.4,110.7 328.6,98.3 329.8,90.5 331.0,84.7 332.2,85.8 333.4,86.9 334.6,88.4 335.8,90.9 337.0,93.6 338.2,97.5 339.4,97.9 340.6,101.0 341.8,102.3 343.0,104.0 344.2,105.3 345.4,107.0 346.6,108.2 347.8,111.4 349.0,112.5 350.2,113.6 351.4,116.0 352.6,117.6 353.8,121.8 355.0,122.1 356.2,124.1 357.4,124.7 358.6,126.2 359.8,129.2 361.0,129.3 362.2,130.8 363.4,133.1 364.6,134.2 365.8,133.8 367.0,134.4 368.2,134.8 369.4,135.0 370.6,137.4 371.8,135.2 373.0,136.6 374.2,135.5 375.4,136.4 376.6,138.1 377.8,138.4 379.0,138.4 380.2,138.0 381.4,137.8 382.6,138.1 383.8,138.3 385.0,139.6 386.2,140.1 387.4,139.3 388.6,138.6 389.8,138.4 391.0,139.5 392.2,139.1 393.4,137.9 394.6,140.6 395.8,139.5 397.0,139.3 398.2,139.0 399.4,139.0 400.6,140.5 401.8,139.1 403.0,140.0 404.2,140.5 405.4,141.5 406.6,140.6 407.8,140.1 409.0,139.8 410.2,140.9 411.4,141.1 412.6,139.9 413.8,140.8 415.0,140.2 416.2,139.0 417.4,139.6 418.6,141.1 419.8,141.7 421.0,141.1 422.2,140.4 423.4,140.0 424.6,141.1 425.8,140.9 427.0,139.4 428.2,141.3 429.4,140.2 430.6,141.4 431.8,141.3 433.0,141.5 434.2,141.8 435.4,141.5 436.6,140.1 437.8,140.1 439.0,141.9 440.2,141.4 441.4,139.8 442.6,139.4 443.8,141.9 445.0,143.0 446.2,141.9 447.4,141.0 448.6,141.5 449.8,139.0 451.0,140.5 452.2,142.1 453.4,142.0 454.6,139.6 455.8,142.3 457.0,141.8 458.2,142.2 459.4,141.2 460.6,141.4 461.8,140.5 463.0,141.7 464.2,142.2 465.4,140.7 466.6,141.8 467.8,141.0 469.0,142.4 470.2,142.3 471.4,139.5 472.6,141.9" stroke="#2a9a2a" stroke-width="1.6" fill="none" stroke-linejoin="round" opacity="1.0"/>
<path d="M318.0 138.9a1.0 1.0 0 1 0 2.0 0a1.0 1.0 0 1 0 -2.0 0M319.2 137.4a1.0 1.0 0 1 0 2.0 0a1.0 1.0 0 1 0 -2.0 0M320.4 137.6a1.0 1.0 0 1 0 2.0 0a1.0 1.0 0 1 0 -2.0 0M321.6 137.1a1.0 1.0 0 1 0 2.0 0a1.0 1.0 0 1 0 -2.0 0M322.8 136.8a1.0 1.0 0 1 0 2.0 0a1.0 1.0 0 1 0 -2.0 0M324.0 137.6a1.0 1.0 0 1 0 2.0 0a1.0 1.0 0 1 0 -2.0 0M325.2 131.4a1.0 1.0 0 1 0 2.0 0a1.0 1.0 0 1 0 -2.0 0M326.4 110.7a1.0 1.0 0 1 0 2.0 0a1.0 1.0 0 1 0 -2.0 0M327.6 98.3a1.0 1.0 0 1 0 2.0 0a1.0 1.0 0 1 0 -2.0 0M328.8 90.5a1.0 1.0 0 1 0 2.0 0a1.0 1.0 0 1 0 -2.0 0M330.0 84.7a1.0 1.0 0 1 0 2.0 0a1.0 1.0 0 1 0 -2.0 0M331.2 85.8a1.0 1.0 0 1 0 2.0 0a1.0 1.0 0 1 0 -2.0 0M332.4 86.9a1.0 1.0 0 1 0 2.0 0a1.0 1.0 0 1 0 -2.0 0M333.6 88.4a1.0 1.0 0 1 0 2.0 0a1.0 1.0 0 1 0 -2.0 0M334.8 90.9a1.0 1.0 0 1 0 2.0 0a1.0 1.0 0 1 0 -2.0 0M336.0 93.6a1.0 1.0 0 1 0 2.0 0a1.0 1.0 0 1 0 -2.0 0M337.2 97.5a1.0 1.0 0 1 0 2.0 0a1.0 1.0 0 1 0 -2.0 0M338.4 97.9a1.0 1.0 0 1 0 2.0 0a1.0 1.0 0 1 0 -2.0 0M339.6 101.0a1.0 1.0 0 1 0 2.0 0a1.0 1.0 0 1 0 -2.0 0M340.8 102.3a1.0 1.0 0 1 0 2.0 0a1.0 1.0 0 1 0 -2.0 0M342.0 104.0a1.0 1.0 0 1 0 2.0 0a1.0 1.0 0 1 0 -2.0 0M343.2 105.3a1.0 1.0 0 1 0 2.0 0a1.0 1.0 0 1 0 -2.0 0M344.4 107.0a1.0 1.0 0 1 0 2.0 0a1.0 1.0 0 1 0 -2.0 0M345.6 108.2a1.0 1.0 0 1 0 2.0 0a1.0 1.0 0 1 0 -2.0 0M346.8 111.4a1.0 1.0 0 1 0 2.0 0a1.0 1.0 0 1 0 -2.0 0M348.0 112.5a1.0 1.0 0 1 0 2.0 0a1.0 1.0 0 1 0 -2.0 0M349.2 113.6a1.0 1.0 0 1 0 2.0 0a1.0 1.0 0 1 0 -2.0 0M350.4 116.0a1.0 1.0 0 1 0 2.0 0a1.0 1.0 0 1 0 -2.0 0M351.6 117.6a1.0 1.0 0 1 0 2.0 0a1.0 1.0 0 1 0 -2.0 0M352.8 121.8a1.0 1.0 0 1 0 2.0 0a1.0 1.0 0 1 0 -2.0 0M354.0 122.1a1.0 1.0 0 1 0 2.0 0a1.0 1.0 0 1 0 -2.0 0M355.2 124.1a1.0 1.0 0 1 0 2.0 0a1.0 1.0 0 1 0 -2.0 0M356.4 124.7a1.0 1.0 0 1 0 2.0 0a1.0 1.0 0 1 0 -2.0 0M357.6 126.2a1.0 1.0 0 1 0 2.0 0a1.0 1.0 0 1 0 -2.0 0M358.8 129.2a1.0 1.0 0 1 0 2.0 0a1.0 1.0 0 1 0 -2.0 0M360.0 129.3a1.0 1.0 0 1 0 2.0 0a1.0 1.0 0 1 0 -2.0 0M361.2 130.8a1.0 1.0 0 1 0 2.0 0a1.0 1.0 0 1 0 -2.0 0M362.4 133.1a1.0 1.0 0 1 0 2.0 0a1.0 1.0 0 1 0 -2.0 0M363.6 134.2a1.0 1.0 0 1 0 2.0 0a1.0 1.0 0 1 0 -2.0 0M364.8 133.8a1.0 1.0 0 1 0 2.0 0a1.0 1.0 0 1 0 -2.0 0M366.0 134.4a1.0 1.0 0 1 0 2.0 0a1.0 1.0 0 1 0 -2.0 0M367.2 134.8a1.0 1.0 0 1 0 2.0 0a1.0 1.0 0 1 0 -2.0 0M368.4 135.0a1.0 1.0 0 1 0 2.0 0a1.0 1.0 0 1 0 -2.0 0M369.6 137.4a1.0 1.0 0 1 0 2.0 0a1.0 1.0 0 1 0 -2.0 0M370.8 135.2a1.0 1.0 0 1 0 2.0 0a1.0 1.0 0 1 0 -2.0 0M372.0 136.6a1.0 1.0 0 1 0 2.0 0a1.0 1.0 0 1 0 -2.0 0M373.2 135.5a1.0 1.0 0 1 0 2.0 0a1.0 1.0 0 1 0 -2.0 0M374.4 136.4a1.0 1.0 0 1 0 2.0 0a1.0 1.0 0 1 0 -2.0 0M375.6 138.1a1.0 1.0 0 1 0 2.0 0a1.0 1.0 0 1 0 -2.0 0M376.8 138.4a1.0 1.0 0 1 0 2.0 0a1.0 1.0 0 1 0 -2.0 0M378.0 138.4a1.0 1.0 0 1 0 2.0 0a1.0 1.0 0 1 0 -2.0 0M379.2 138.0a1.0 1.0 0 1 0 2.0 0a1.0 1.0 0 1 0 -2.0 0M380.4 137.8a1.0 1.0 0 1 0 2.0 0a1.0 1.0 0 1 0 -2.0 0M381.6 138.1a1.0 1.0 0 1 0 2.0 0a1.0 1.0 0 1 0 -2.0 0M382.8 138.3a1.0 1.0 0 1 0 2.0 0a1.0 1.0 0 1 0 -2.0 0M384.0 139.6a1.0 1.0 0 1 0 2.0 0a1.0 1.0 0 1 0 -2.0 0M385.2 140.1a1.0 1.0 0 1 0 2.0 0a1.0 1.0 0 1 0 -2.0 0M386.4 139.3a1.0 1.0 0 1 0 2.0 0a1.0 1.0 0 1 0 -2.0 0M387.6 138.6a1.0 1.0 0 1 0 2.0 0a1.0 1.0 0 1 0 -2.0 0M388.8 138.4a1.0 1.0 0 1 0 2.0 0a1.0 1.0 0 1 0 -2.0 0M390.0 139.5a1.0 1.0 0 1 0 2.0 0a1.0 1.0 0 1 0 -2.0 0M391.2 139.1a1.0 1.0 0 1 0 2.0 0a1.0 1.0 0 1 0 -2.0 0M392.4 137.9a1.0 1.0 0 1 0 2.0 0a1.0 1.0 0 1 0 -2.0 0M393.6 140.6a1.0 1.0 0 1 0 2.0 0a1.0 1.0 0 1 0 -2.0 0M394.8 139.5a1.0 1.0 0 1 0 2.0 0a1.0 1.0 0 1 0 -2.0 0M396.0 139.3a1.0 1.0 0 1 0 2.0 0a1.0 1.0 0 1 0 -2.0 0M397.2 139.0a1.0 1.0 0 1 0 2.0 0a1.0 1.0 0 1 0 -2.0 0M398.4 139.0a1.0 1.0 0 1 0 2.0 0a1.0 1.0 0 1 0 -2.0 0M399.6 140.5a1.0 1.0 0 1 0 2.0 0a1.0 1.0 0 1 0 -2.0 0M400.8 139.1a1.0 1.0 0 1 0 2.0 0a1.0 1.0 0 1 0 -2.0 0M402.0 140.0a1.0 1.0 0 1 0 2.0 0a1.0 1.0 0 1 0 -2.0 0M403.2 140.5a1.0 1.0 0 1 0 2.0 0a1.0 1.0 0 1 0 -2.0 0M404.4 141.5a1.0 1.0 0 1 0 2.0 0a1.0 1.0 0 1 0 -2.0 0M405.6 140.6a1.0 1.0 0 1 0 2.0 0a1.0 1.0 0 1 0 -2.0 0M406.8 140.1a1.0 1.0 0 1 0 2.0 0a1.0 1.0 0 1 0 -2.0 0M408.0 139.8a1.0 1.0 0 1 0 2.0 0a1.0 1.0 0 1 0 -2.0 0M409.2 140.9a1.0 1.0 0 1 0 2.0 0a1.0 1.0 0 1 0 -2.0 0M410.4 141.1a1.0 1.0 0 1 0 2.0 0a1.0 1.0 0 1 0 -2.0 0M411.6 139.9a1.0 1.0 0 1 0 2.0 0a1.0 1.0 0 1 0 -2.0 0M412.8 140.8a1.0 1.0 0 1 0 2.0 0a1.0 1.0 0 1 0 -2.0 0M414.0 140.2a1.0 1.0 0 1 0 2.0 0a1.0 1.0 0 1 0 -2.0 0M415.2 139.0a1.0 1.0 0 1 0 2.0 0a1.0 1.0 0 1 0 -2.0 0M416.4 139.6a1.0 1.0 0 1 0 2.0 0a1.0 1.0 0 1 0 -2.0 0M417.6 141.1a1.0 1.0 0 1 0 2.0 0a1.0 1.0 0 1 0 -2.0 0M418.8 141.7a1.0 1.0 0 1 0 2.0 0a1.0 1.0 0 1 0 -2.0 0M420.0 141.1a1.0 1.0 0 1 0 2.0 0a1.0 1.0 0 1 0 -2.0 0M421.2 140.4a1.0 1.0 0 1 0 2.0 0a1.0 1.0 0 1 0 -2.0 0M422.4 140.0a1.0 1.0 0 1 0 2.0 0a1.0 1.0 0 1 0 -2.0 0M423.6 141.1a1.0 1.0 0 1 0 2.0 0a1.0 1.0 0 1 0 -2.0 0M424.8 140.9a1.0 1.0 0 1 0 2.0 0a1.0 1.0 0 1 0 -2.0 0M426.0 139.4a1.0 1.0 0 1 0 2.0 0a1.0 1.0 0 1 0 -2.0 0M427.2 141.3a1.0 1.0 0 1 0 2.0 0a1.0 1.0 0 1 0 -2.0 0M428.4 140.2a1.0 1.0 0 1 0 2.0 0a1.0 1.0 0 1 0 -2.0 0M429.6 141.4a1.0 1.0 0 1 0 2.0 0a1.0 1.0 0 1 0 -2.0 0M430.8 141.3a1.0 1.0 0 1 0 2.0 0a1.0 1.0 0 1 0 -2.0 0M432.0 141.5a1.0 1.0 0 1 0 2.0 0a1.0 1.0 0 1 0 -2.0 0M433.2 141.8a1.0 1.0 0 1 0 2.0 0a1.0 1.0 0 1 0 -2.0 0M434.4 141.5a1.0 1.0 0 1 0 2.0 0a1.0 1.0 0 1 0 -2.0 0M435.6 140.1a1.0 1.0 0 1 0 2.0 0a1.0 1.0 0 1 0 -2.0 0M436.8 140.1a1.0 1.0 0 1 0 2.0 0a1.0 1.0 0 1 0 -2.0 0M438.0 141.9a1.0 1.0 0 1 0 2.0 0a1.0 1.0 0 1 0 -2.0 0M439.2 141.4a1.0 1.0 0 1 0 2.0 0a1.0 1.0 0 1 0 -2.0 0M440.4 139.8a1.0 1.0 0 1 0 2.0 0a1.0 1.0 0 1 0 -2.0 0M441.6 139.4a1.0 1.0 0 1 0 2.0 0a1.0 1.0 0 1 0 -2.0 0M442.8 141.9a1.0 1.0 0 1 0 2.0 0a1.0 1.0 0 1 0 -2.0 0M444.0 143.0a1.0 1.0 0 1 0 2.0 0a1.0 1.0 0 1 0 -2.0 0M445.2 141.9a1.0 1.0 0 1 0 2.0 0a1.0 1.0 0 1 0 -2.0 0M446.4 141.0a1.0 1.0 0 1 0 2.0 0a1.0 1.0 0 1 0 -2.0 0M447.6 141.5a1.0 1.0 0 1 0 2.0 0a1.0 1.0 0 1 0 -2.0 0M448.8 139.0a1.0 1.0 0 1 0 2.0 0a1.0 1.0 0 1 0 -2.0 0M450.0 140.5a1.0 1.0 0 1 0 2.0 0a1.0 1.0 0 1 0 -2.0 0M451.2 142.1a1.0 1.0 0 1 0 2.0 0a1.0 1.0 0 1 0 -2.0 0M452.4 142.0a1.0 1.0 0 1 0 2.0 0a1.0 1.0 0 1 0 -2.0 0M453.6 139.6a1.0 1.0 0 1 0 2.0 0a1.0 1.0 0 1 0 -2.0 0M454.8 142.3a1.0 1.0 0 1 0 2.0 0a1.0 1.0 0 1 0 -2.0 0M456.0 141.8a1.0 1.0 0 1 0 2.0 0a1.0 1.0 0 1 0 -2.0 0M457.2 142.2a1.0 1.0 0 1 0 2.0 0a1.0 1.0 0 1 0 -2.0 0M458.4 141.2a1.0 1.0 0 1 0 2.0 0a1.0 1.0 0 1 0 -2.0 0M459.6 141.4a1.0 1.0 0 1 0 2.0 0a1.0 1.0 0 1 0 -2.0 0M460.8 140.5a1.0 1.0 0 1 0 2.0 0a1.0 1.0 0 1 0 -2.0 0M462.0 141.7a1.0 1.0 0 1 0 2.0 0a1.0 1.0 0 1 0 -2.0 0M463.2 142.2a1.0 1.0 0 1 0 2.0 0a1.0 1.0 0 1 0 -2.0 0M464.4 140.7a1.0 1.0 0 1 0 2.0 0a1.0 1.0 0 1 0 -2.0 0M465.6 141.8a1.0 1.0 0 1 0 2.0 0a1.0 1.0 0 1 0 -2.0 0M466.8 141.0a1.0 1.0 0 1 0 2.0 0a1.0 1.0 0 1 0 -2.0 0M468.0 142.4a1.0 1.0 0 1 0 2.0 0a1.0 1.0 0 1 0 -2.0 0M469.2 142.3a1.0 1.0 0 1 0 2.0 0a1.0 1.0 0 1 0 -2.0 0M470.4 139.5a1.0 1.0 0 1 0 2.0 0a1.0 1.0 0 1 0 -2.0 0M471.6 141.9a1.0 1.0 0 1 0 2.0 0a1.0 1.0 0 1 0 -2.0 0" fill="#1a7a1a" opacity="1.0"/>
<polyline points="326.2,120.2 327.4,83.2 328.6,67.0 329.8,61.7 331.0,60.6 332.2,61.7 333.4,63.5 334.6,66.3 335.8,69.2 337.0,71.8 338.2,74.6 339.4,77.5 340.6,80.8 341.8,85.0 343.0,89.9 344.2,94.9 345.4,99.3 346.6,102.7 347.8,105.8 349.0,108.7 350.2,111.3 351.4,113.8 352.6,116.2 353.8,118.6 355.0,120.9 356.2,123.1 357.4,125.0 358.6,126.6 359.8,128.0 361.0,129.2 362.2,130.3 363.4,131.3 364.6,132.2 365.8,132.9 367.0,133.5 368.2,134.0 369.4,134.5 370.6,134.9 371.8,135.3 373.0,135.6 374.2,135.9 375.4,136.1 376.6,136.2 377.8,136.4 379.0,136.5 380.2,136.7 381.4,136.8 382.6,136.9 383.8,137.0 385.0,137.2 386.2,137.3 387.4,137.4 388.6,137.4 389.8,137.5 391.0,137.6 392.2,137.7 393.4,137.7 394.6,137.8 395.8,137.9 397.0,137.9 398.2,137.9 399.4,138.0 400.6,138.0 401.8,138.0 403.0,138.1 404.2,138.1 405.4,138.1 406.6,138.2 407.8,138.2 409.0,138.2 410.2,138.3 411.4,138.3 412.6,138.3 413.8,138.3 415.0,138.4 416.2,138.4 417.4,138.4 418.6,138.4 419.8,138.5 421.0,138.5 422.2,138.5 423.4,138.5 424.6,138.6 425.8,138.6 427.0,138.6 428.2,138.6 429.4,138.6 430.6,138.7 431.8,138.7 433.0,138.7 434.2,138.7 435.4,138.7 436.6,138.7 437.8,138.8 439.0,138.8 440.2,138.8 441.4,138.8 442.6,138.8 443.8,138.8 445.0,138.8 446.2,138.9 447.4,138.9 448.6,138.9 449.8,138.9 451.0,138.9 452.2,138.9 453.4,138.9 454.6,138.9 455.8,138.9 457.0,138.9 458.2,139.0 459.4,139.0 460.6,139.0 461.8,139.0 463.0,139.0 464.2,139.0 465.4,139.0 466.6,139.0 467.8,139.0 469.0,139.0 470.2,139.0 471.4,139.0 472.6,139.0" fill="none" stroke="#f9c060" stroke-width="4.5" stroke-linejoin="round" stroke-linecap="round" opacity="1.0"/>
<path d="M319.0 136.0V143.6M318.2 136.0h1.6M318.2 143.6h1.6M320.2 136.4V140.8M319.4 136.4h1.6M319.4 140.8h1.6M321.4 133.8V141.4M320.6 133.8h1.6M320.6 141.4h1.6M322.6 133.9V140.4M321.8 133.9h1.6M321.8 140.4h1.6M323.8 135.8V141.2M323.0 135.8h1.6M323.0 141.2h1.6M325.0 132.1V140.1M324.2 132.1h1.6M324.2 140.1h1.6M331.0 58.0V63.1M330.2 58.0h1.6M330.2 63.1h1.6M332.2 61.0V68.2M331.4 61.0h1.6M331.4 68.2h1.6M333.4 60.8V65.3M332.6 60.8h1.6M332.6 65.3h1.6M334.6 62.3V70.9M333.8 62.3h1.6M333.8 70.9h1.6M335.8 64.0V71.5M335.0 64.0h1.6M335.0 71.5h1.6M337.0 66.4V72.5M336.2 66.4h1.6M336.2 72.5h1.6M338.2 73.1V77.6M337.4 73.1h1.6M337.4 77.6h1.6M339.4 74.7V83.7M338.6 74.7h1.6M338.6 83.7h1.6M340.6 76.0V82.3M339.8 76.0h1.6M339.8 82.3h1.6M341.8 80.1V88.7M341.0 80.1h1.6M341.0 88.7h1.6M343.0 86.2V95.1M342.2 86.2h1.6M342.2 95.1h1.6M344.2 91.1V97.9M343.4 91.1h1.6M343.4 97.9h1.6M345.4 93.0V99.1M344.6 93.0h1.6M344.6 99.1h1.6M346.6 100.8V106.0M345.8 100.8h1.6M345.8 106.0h1.6M347.8 102.1V108.3M347.0 102.1h1.6M347.0 108.3h1.6M349.0 106.0V112.0M348.2 106.0h1.6M348.2 112.0h1.6M350.2 107.5V112.0M349.4 107.5h1.6M349.4 112.0h1.6M351.4 111.9V116.7M350.6 111.9h1.6M350.6 116.7h1.6M352.6 112.8V120.9M351.8 112.8h1.6M351.8 120.9h1.6M353.8 113.1V121.5M353.0 113.1h1.6M353.0 121.5h1.6M355.0 117.9V124.1M354.2 117.9h1.6M354.2 124.1h1.6M356.2 117.4V126.4M355.4 117.4h1.6M355.4 126.4h1.6M357.4 120.5V127.5M356.6 120.5h1.6M356.6 127.5h1.6M358.6 122.4V127.8M357.8 122.4h1.6M357.8 127.8h1.6M359.8 123.2V130.8M359.0 123.2h1.6M359.0 130.8h1.6M361.0 124.3V131.7M360.2 124.3h1.6M360.2 131.7h1.6M362.2 127.3V135.1M361.4 127.3h1.6M361.4 135.1h1.6M363.4 126.2V135.1M362.6 126.2h1.6M362.6 135.1h1.6M364.6 127.8V133.1M363.8 127.8h1.6M363.8 133.1h1.6M365.8 131.6V136.3M365.0 131.6h1.6M365.0 136.3h1.6M367.0 130.2V137.0M366.2 130.2h1.6M366.2 137.0h1.6M368.2 131.9V137.4M367.4 131.9h1.6M367.4 137.4h1.6M369.4 130.5V137.4M368.6 130.5h1.6M368.6 137.4h1.6M370.6 131.2V139.2M369.8 131.2h1.6M369.8 139.2h1.6M371.8 132.1V137.3M371.0 132.1h1.6M371.0 137.3h1.6M373.0 130.6V137.5M372.2 130.6h1.6M372.2 137.5h1.6M374.2 131.4V139.6M373.4 131.4h1.6M373.4 139.6h1.6M375.4 131.8V139.7M374.6 131.8h1.6M374.6 139.7h1.6M376.6 133.8V138.0M375.8 133.8h1.6M375.8 138.0h1.6M377.8 134.1V139.6M377.0 134.1h1.6M377.0 139.6h1.6M379.0 131.1V137.1M378.2 131.1h1.6M378.2 137.1h1.6M380.2 133.1V140.0M379.4 133.1h1.6M379.4 140.0h1.6M381.4 132.4V138.5M380.6 132.4h1.6M380.6 138.5h1.6M382.6 133.3V139.0M381.8 133.3h1.6M381.8 139.0h1.6M383.8 134.1V140.0M383.0 134.1h1.6M383.0 140.0h1.6M385.0 133.2V140.3M384.2 133.2h1.6M384.2 140.3h1.6M386.2 134.0V138.1M385.4 134.0h1.6M385.4 138.1h1.6M387.4 134.7V140.8M386.6 134.7h1.6M386.6 140.8h1.6M388.6 132.7V141.2M387.8 132.7h1.6M387.8 141.2h1.6M389.8 134.7V141.6M389.0 134.7h1.6M389.0 141.6h1.6M391.0 134.7V142.4M390.2 134.7h1.6M390.2 142.4h1.6M392.2 132.9V140.8M391.4 132.9h1.6M391.4 140.8h1.6M393.4 131.8V140.3M392.6 131.8h1.6M392.6 140.3h1.6M394.6 135.3V139.6M393.8 135.3h1.6M393.8 139.6h1.6M395.8 136.2V140.4M395.0 136.2h1.6M395.0 140.4h1.6M397.0 135.5V140.2M396.2 135.5h1.6M396.2 140.2h1.6M398.2 133.5V138.9M397.4 133.5h1.6M397.4 138.9h1.6M399.4 133.6V137.7M398.6 133.6h1.6M398.6 137.7h1.6M400.6 133.0V140.0M399.8 133.0h1.6M399.8 140.0h1.6M401.8 132.6V140.4M401.0 132.6h1.6M401.0 140.4h1.6M403.0 134.4V142.2M402.2 134.4h1.6M402.2 142.2h1.6M404.2 134.6V140.8M403.4 134.6h1.6M403.4 140.8h1.6M405.4 135.7V141.7M404.6 135.7h1.6M404.6 141.7h1.6M406.6 135.0V140.3M405.8 135.0h1.6M405.8 140.3h1.6M407.8 135.3V144.0M407.0 135.3h1.6M407.0 144.0h1.6M409.0 133.8V141.8M408.2 133.8h1.6M408.2 141.8h1.6M410.2 134.4V142.5M409.4 134.4h1.6M409.4 142.5h1.6M411.4 134.1V140.6M410.6 134.1h1.6M410.6 140.6h1.6M412.6 136.3V140.5M411.8 136.3h1.6M411.8 140.5h1.6M413.8 136.9V141.3M413.0 136.9h1.6M413.0 141.3h1.6M415.0 136.7V140.9M414.2 136.7h1.6M414.2 140.9h1.6M416.2 135.0V143.7M415.4 135.0h1.6M415.4 143.7h1.6M417.4 135.1V139.5M416.6 135.1h1.6M416.6 139.5h1.6M418.6 135.2V141.8M417.8 135.2h1.6M417.8 141.8h1.6M419.8 136.2V143.7M419.0 136.2h1.6M419.0 143.7h1.6M421.0 134.3V142.4M420.2 134.3h1.6M420.2 142.4h1.6M422.2 134.6V141.2M421.4 134.6h1.6M421.4 141.2h1.6M423.4 134.3V141.4M422.6 134.3h1.6M422.6 141.4h1.6M424.6 134.6V140.5M423.8 134.6h1.6M423.8 140.5h1.6M425.8 134.3V142.4M425.0 134.3h1.6M425.0 142.4h1.6M427.0 137.6V141.9M426.2 137.6h1.6M426.2 141.9h1.6M428.2 136.3V141.1M427.4 136.3h1.6M427.4 141.1h1.6M429.4 135.5V140.9M428.6 135.5h1.6M428.6 140.9h1.6M430.6 133.8V140.8M429.8 133.8h1.6M429.8 140.8h1.6M431.8 134.2V139.7M431.0 134.2h1.6M431.0 139.7h1.6M433.0 138.8V143.1M432.2 138.8h1.6M432.2 143.1h1.6M434.2 133.6V141.9M433.4 133.6h1.6M433.4 141.9h1.6M435.4 136.2V140.6M434.6 136.2h1.6M434.6 140.6h1.6M436.6 135.2V140.3M435.8 135.2h1.6M435.8 140.3h1.6M437.8 134.2V142.8M437.0 134.2h1.6M437.0 142.8h1.6M439.0 134.1V141.7M438.2 134.1h1.6M438.2 141.7h1.6M440.2 135.0V142.0M439.4 135.0h1.6M439.4 142.0h1.6M441.4 136.3V143.7M440.6 136.3h1.6M440.6 143.7h1.6M442.6 134.9V140.2M441.8 134.9h1.6M441.8 140.2h1.6M443.8 135.3V142.7M443.0 135.3h1.6M443.0 142.7h1.6M445.0 135.5V141.1M444.2 135.5h1.6M444.2 141.1h1.6M446.2 136.3V142.1M445.4 136.3h1.6M445.4 142.1h1.6M447.4 134.1V141.2M446.6 134.1h1.6M446.6 141.2h1.6M448.6 135.8V142.0M447.8 135.8h1.6M447.8 142.0h1.6M449.8 133.1V141.6M449.0 133.1h1.6M449.0 141.6h1.6M451.0 133.8V139.0M450.2 133.8h1.6M450.2 139.0h1.6M452.2 134.5V139.5M451.4 134.5h1.6M451.4 139.5h1.6M453.4 133.6V141.2M452.6 133.6h1.6M452.6 141.2h1.6M454.6 135.2V139.2M453.8 135.2h1.6M453.8 139.2h1.6M455.8 135.7V140.5M455.0 135.7h1.6M455.0 140.5h1.6M457.0 135.9V143.6M456.2 135.9h1.6M456.2 143.6h1.6M458.2 135.2V139.2M457.4 135.2h1.6M457.4 139.2h1.6M459.4 136.8V141.2M458.6 136.8h1.6M458.6 141.2h1.6M460.6 134.9V142.4M459.8 134.9h1.6M459.8 142.4h1.6M461.8 134.8V140.6M461.0 134.8h1.6M461.0 140.6h1.6M463.0 135.4V139.5M462.2 135.4h1.6M462.2 139.5h1.6M464.2 136.7V141.3M463.4 136.7h1.6M463.4 141.3h1.6M465.4 135.2V142.8M464.6 135.2h1.6M464.6 142.8h1.6M466.6 135.3V140.9M465.8 135.3h1.6M465.8 140.9h1.6M467.8 134.8V141.9M467.0 134.8h1.6M467.0 141.9h1.6M469.0 134.3V142.7M468.2 134.3h1.6M468.2 142.7h1.6M470.2 132.6V141.5M469.4 132.6h1.6M469.4 141.5h1.6M471.4 134.9V142.4M470.6 134.9h1.6M470.6 142.4h1.6M472.6 136.0V141.7M471.8 136.0h1.6M471.8 141.7h1.6" stroke="#f8c060" stroke-width="0.6" fill="none" opacity="1.0"/>
<path d="M325.0 136.1L331.0 60.6" stroke="#f8c080" stroke-width="1.0" fill="none"/>
<polyline points="319.0,139.8 320.2,138.6 321.4,137.6 322.6,137.1 323.8,138.5 325.0,136.1" stroke="#f7a01a" stroke-width="1.5" fill="none" stroke-linejoin="round" opacity="1.0"/>
<polyline points="331.0,60.6 332.2,64.6 333.4,63.1 334.6,66.6 335.8,67.8 337.0,69.5 338.2,75.3 339.4,79.2 340.6,79.2 341.8,84.4 343.0,90.7 344.2,94.5 345.4,96.1 346.6,103.4 347.8,105.2 349.0,109.0 350.2,109.7 351.4,114.3 352.6,116.9 353.8,117.3 355.0,121.0 356.2,121.9 357.4,124.0 358.6,125.1 359.8,127.0 361.0,128.0 362.2,131.2 363.4,130.6 364.6,130.4 365.8,134.0 367.0,133.6 368.2,134.6 369.4,133.9 370.6,135.2 371.8,134.7 373.0,134.1 374.2,135.5 375.4,135.7 376.6,135.9 377.8,136.9 379.0,134.1 380.2,136.5 381.4,135.4 382.6,136.1 383.8,137.1 385.0,136.8 386.2,136.0 387.4,137.7 388.6,136.9 389.8,138.1 391.0,138.5 392.2,136.8 393.4,136.1 394.6,137.4 395.8,138.3 397.0,137.8 398.2,136.2 399.4,135.6 400.6,136.5 401.8,136.5 403.0,138.3 404.2,137.7 405.4,138.7 406.6,137.6 407.8,139.6 409.0,137.8 410.2,138.4 411.4,137.4 412.6,138.4 413.8,139.1 415.0,138.8 416.2,139.4 417.4,137.3 418.6,138.5 419.8,140.0 421.0,138.3 422.2,137.9 423.4,137.8 424.6,137.5 425.8,138.3 427.0,139.7 428.2,138.7 429.4,138.2 430.6,137.3 431.8,137.0 433.0,140.9 434.2,137.8 435.4,138.4 436.6,137.8 437.8,138.5 439.0,137.9 440.2,138.5 441.4,140.0 442.6,137.6 443.8,139.0 445.0,138.3 446.2,139.2 447.4,137.7 448.6,138.9 449.8,137.4 451.0,136.4 452.2,137.0 453.4,137.4 454.6,137.2 455.8,138.1 457.0,139.7 458.2,137.2 459.4,139.0 460.6,138.7 461.8,137.7 463.0,137.5 464.2,139.0 465.4,139.0 466.6,138.1 467.8,138.3 469.0,138.5 470.2,137.0 471.4,138.6 472.6,138.8" stroke="#f7a01a" stroke-width="1.5" fill="none" stroke-linejoin="round" opacity="1.0"/>
<path d="M318.0 139.8a1.0 1.0 0 1 0 2.0 0a1.0 1.0 0 1 0 -2.0 0M319.2 138.6a1.0 1.0 0 1 0 2.0 0a1.0 1.0 0 1 0 -2.0 0M320.4 137.6a1.0 1.0 0 1 0 2.0 0a1.0 1.0 0 1 0 -2.0 0M321.6 137.1a1.0 1.0 0 1 0 2.0 0a1.0 1.0 0 1 0 -2.0 0M322.8 138.5a1.0 1.0 0 1 0 2.0 0a1.0 1.0 0 1 0 -2.0 0M324.0 136.1a1.0 1.0 0 1 0 2.0 0a1.0 1.0 0 1 0 -2.0 0M330.0 60.6a1.0 1.0 0 1 0 2.0 0a1.0 1.0 0 1 0 -2.0 0M331.2 64.6a1.0 1.0 0 1 0 2.0 0a1.0 1.0 0 1 0 -2.0 0M332.4 63.1a1.0 1.0 0 1 0 2.0 0a1.0 1.0 0 1 0 -2.0 0M333.6 66.6a1.0 1.0 0 1 0 2.0 0a1.0 1.0 0 1 0 -2.0 0M334.8 67.8a1.0 1.0 0 1 0 2.0 0a1.0 1.0 0 1 0 -2.0 0M336.0 69.5a1.0 1.0 0 1 0 2.0 0a1.0 1.0 0 1 0 -2.0 0M337.2 75.3a1.0 1.0 0 1 0 2.0 0a1.0 1.0 0 1 0 -2.0 0M338.4 79.2a1.0 1.0 0 1 0 2.0 0a1.0 1.0 0 1 0 -2.0 0M339.6 79.2a1.0 1.0 0 1 0 2.0 0a1.0 1.0 0 1 0 -2.0 0M340.8 84.4a1.0 1.0 0 1 0 2.0 0a1.0 1.0 0 1 0 -2.0 0M342.0 90.7a1.0 1.0 0 1 0 2.0 0a1.0 1.0 0 1 0 -2.0 0M343.2 94.5a1.0 1.0 0 1 0 2.0 0a1.0 1.0 0 1 0 -2.0 0M344.4 96.1a1.0 1.0 0 1 0 2.0 0a1.0 1.0 0 1 0 -2.0 0M345.6 103.4a1.0 1.0 0 1 0 2.0 0a1.0 1.0 0 1 0 -2.0 0M346.8 105.2a1.0 1.0 0 1 0 2.0 0a1.0 1.0 0 1 0 -2.0 0M348.0 109.0a1.0 1.0 0 1 0 2.0 0a1.0 1.0 0 1 0 -2.0 0M349.2 109.7a1.0 1.0 0 1 0 2.0 0a1.0 1.0 0 1 0 -2.0 0M350.4 114.3a1.0 1.0 0 1 0 2.0 0a1.0 1.0 0 1 0 -2.0 0M351.6 116.9a1.0 1.0 0 1 0 2.0 0a1.0 1.0 0 1 0 -2.0 0M352.8 117.3a1.0 1.0 0 1 0 2.0 0a1.0 1.0 0 1 0 -2.0 0M354.0 121.0a1.0 1.0 0 1 0 2.0 0a1.0 1.0 0 1 0 -2.0 0M355.2 121.9a1.0 1.0 0 1 0 2.0 0a1.0 1.0 0 1 0 -2.0 0M356.4 124.0a1.0 1.0 0 1 0 2.0 0a1.0 1.0 0 1 0 -2.0 0M357.6 125.1a1.0 1.0 0 1 0 2.0 0a1.0 1.0 0 1 0 -2.0 0M358.8 127.0a1.0 1.0 0 1 0 2.0 0a1.0 1.0 0 1 0 -2.0 0M360.0 128.0a1.0 1.0 0 1 0 2.0 0a1.0 1.0 0 1 0 -2.0 0M361.2 131.2a1.0 1.0 0 1 0 2.0 0a1.0 1.0 0 1 0 -2.0 0M362.4 130.6a1.0 1.0 0 1 0 2.0 0a1.0 1.0 0 1 0 -2.0 0M363.6 130.4a1.0 1.0 0 1 0 2.0 0a1.0 1.0 0 1 0 -2.0 0M364.8 134.0a1.0 1.0 0 1 0 2.0 0a1.0 1.0 0 1 0 -2.0 0M366.0 133.6a1.0 1.0 0 1 0 2.0 0a1.0 1.0 0 1 0 -2.0 0M367.2 134.6a1.0 1.0 0 1 0 2.0 0a1.0 1.0 0 1 0 -2.0 0M368.4 133.9a1.0 1.0 0 1 0 2.0 0a1.0 1.0 0 1 0 -2.0 0M369.6 135.2a1.0 1.0 0 1 0 2.0 0a1.0 1.0 0 1 0 -2.0 0M370.8 134.7a1.0 1.0 0 1 0 2.0 0a1.0 1.0 0 1 0 -2.0 0M372.0 134.1a1.0 1.0 0 1 0 2.0 0a1.0 1.0 0 1 0 -2.0 0M373.2 135.5a1.0 1.0 0 1 0 2.0 0a1.0 1.0 0 1 0 -2.0 0M374.4 135.7a1.0 1.0 0 1 0 2.0 0a1.0 1.0 0 1 0 -2.0 0M375.6 135.9a1.0 1.0 0 1 0 2.0 0a1.0 1.0 0 1 0 -2.0 0M376.8 136.9a1.0 1.0 0 1 0 2.0 0a1.0 1.0 0 1 0 -2.0 0M378.0 134.1a1.0 1.0 0 1 0 2.0 0a1.0 1.0 0 1 0 -2.0 0M379.2 136.5a1.0 1.0 0 1 0 2.0 0a1.0 1.0 0 1 0 -2.0 0M380.4 135.4a1.0 1.0 0 1 0 2.0 0a1.0 1.0 0 1 0 -2.0 0M381.6 136.1a1.0 1.0 0 1 0 2.0 0a1.0 1.0 0 1 0 -2.0 0M382.8 137.1a1.0 1.0 0 1 0 2.0 0a1.0 1.0 0 1 0 -2.0 0M384.0 136.8a1.0 1.0 0 1 0 2.0 0a1.0 1.0 0 1 0 -2.0 0M385.2 136.0a1.0 1.0 0 1 0 2.0 0a1.0 1.0 0 1 0 -2.0 0M386.4 137.7a1.0 1.0 0 1 0 2.0 0a1.0 1.0 0 1 0 -2.0 0M387.6 136.9a1.0 1.0 0 1 0 2.0 0a1.0 1.0 0 1 0 -2.0 0M388.8 138.1a1.0 1.0 0 1 0 2.0 0a1.0 1.0 0 1 0 -2.0 0M390.0 138.5a1.0 1.0 0 1 0 2.0 0a1.0 1.0 0 1 0 -2.0 0M391.2 136.8a1.0 1.0 0 1 0 2.0 0a1.0 1.0 0 1 0 -2.0 0M392.4 136.1a1.0 1.0 0 1 0 2.0 0a1.0 1.0 0 1 0 -2.0 0M393.6 137.4a1.0 1.0 0 1 0 2.0 0a1.0 1.0 0 1 0 -2.0 0M394.8 138.3a1.0 1.0 0 1 0 2.0 0a1.0 1.0 0 1 0 -2.0 0M396.0 137.8a1.0 1.0 0 1 0 2.0 0a1.0 1.0 0 1 0 -2.0 0M397.2 136.2a1.0 1.0 0 1 0 2.0 0a1.0 1.0 0 1 0 -2.0 0M398.4 135.6a1.0 1.0 0 1 0 2.0 0a1.0 1.0 0 1 0 -2.0 0M399.6 136.5a1.0 1.0 0 1 0 2.0 0a1.0 1.0 0 1 0 -2.0 0M400.8 136.5a1.0 1.0 0 1 0 2.0 0a1.0 1.0 0 1 0 -2.0 0M402.0 138.3a1.0 1.0 0 1 0 2.0 0a1.0 1.0 0 1 0 -2.0 0M403.2 137.7a1.0 1.0 0 1 0 2.0 0a1.0 1.0 0 1 0 -2.0 0M404.4 138.7a1.0 1.0 0 1 0 2.0 0a1.0 1.0 0 1 0 -2.0 0M405.6 137.6a1.0 1.0 0 1 0 2.0 0a1.0 1.0 0 1 0 -2.0 0M406.8 139.6a1.0 1.0 0 1 0 2.0 0a1.0 1.0 0 1 0 -2.0 0M408.0 137.8a1.0 1.0 0 1 0 2.0 0a1.0 1.0 0 1 0 -2.0 0M409.2 138.4a1.0 1.0 0 1 0 2.0 0a1.0 1.0 0 1 0 -2.0 0M410.4 137.4a1.0 1.0 0 1 0 2.0 0a1.0 1.0 0 1 0 -2.0 0M411.6 138.4a1.0 1.0 0 1 0 2.0 0a1.0 1.0 0 1 0 -2.0 0M412.8 139.1a1.0 1.0 0 1 0 2.0 0a1.0 1.0 0 1 0 -2.0 0M414.0 138.8a1.0 1.0 0 1 0 2.0 0a1.0 1.0 0 1 0 -2.0 0M415.2 139.4a1.0 1.0 0 1 0 2.0 0a1.0 1.0 0 1 0 -2.0 0M416.4 137.3a1.0 1.0 0 1 0 2.0 0a1.0 1.0 0 1 0 -2.0 0M417.6 138.5a1.0 1.0 0 1 0 2.0 0a1.0 1.0 0 1 0 -2.0 0M418.8 140.0a1.0 1.0 0 1 0 2.0 0a1.0 1.0 0 1 0 -2.0 0M420.0 138.3a1.0 1.0 0 1 0 2.0 0a1.0 1.0 0 1 0 -2.0 0M421.2 137.9a1.0 1.0 0 1 0 2.0 0a1.0 1.0 0 1 0 -2.0 0M422.4 137.8a1.0 1.0 0 1 0 2.0 0a1.0 1.0 0 1 0 -2.0 0M423.6 137.5a1.0 1.0 0 1 0 2.0 0a1.0 1.0 0 1 0 -2.0 0M424.8 138.3a1.0 1.0 0 1 0 2.0 0a1.0 1.0 0 1 0 -2.0 0M426.0 139.7a1.0 1.0 0 1 0 2.0 0a1.0 1.0 0 1 0 -2.0 0M427.2 138.7a1.0 1.0 0 1 0 2.0 0a1.0 1.0 0 1 0 -2.0 0M428.4 138.2a1.0 1.0 0 1 0 2.0 0a1.0 1.0 0 1 0 -2.0 0M429.6 137.3a1.0 1.0 0 1 0 2.0 0a1.0 1.0 0 1 0 -2.0 0M430.8 137.0a1.0 1.0 0 1 0 2.0 0a1.0 1.0 0 1 0 -2.0 0M432.0 140.9a1.0 1.0 0 1 0 2.0 0a1.0 1.0 0 1 0 -2.0 0M433.2 137.8a1.0 1.0 0 1 0 2.0 0a1.0 1.0 0 1 0 -2.0 0M434.4 138.4a1.0 1.0 0 1 0 2.0 0a1.0 1.0 0 1 0 -2.0 0M435.6 137.8a1.0 1.0 0 1 0 2.0 0a1.0 1.0 0 1 0 -2.0 0M436.8 138.5a1.0 1.0 0 1 0 2.0 0a1.0 1.0 0 1 0 -2.0 0M438.0 137.9a1.0 1.0 0 1 0 2.0 0a1.0 1.0 0 1 0 -2.0 0M439.2 138.5a1.0 1.0 0 1 0 2.0 0a1.0 1.0 0 1 0 -2.0 0M440.4 140.0a1.0 1.0 0 1 0 2.0 0a1.0 1.0 0 1 0 -2.0 0M441.6 137.6a1.0 1.0 0 1 0 2.0 0a1.0 1.0 0 1 0 -2.0 0M442.8 139.0a1.0 1.0 0 1 0 2.0 0a1.0 1.0 0 1 0 -2.0 0M444.0 138.3a1.0 1.0 0 1 0 2.0 0a1.0 1.0 0 1 0 -2.0 0M445.2 139.2a1.0 1.0 0 1 0 2.0 0a1.0 1.0 0 1 0 -2.0 0M446.4 137.7a1.0 1.0 0 1 0 2.0 0a1.0 1.0 0 1 0 -2.0 0M447.6 138.9a1.0 1.0 0 1 0 2.0 0a1.0 1.0 0 1 0 -2.0 0M448.8 137.4a1.0 1.0 0 1 0 2.0 0a1.0 1.0 0 1 0 -2.0 0M450.0 136.4a1.0 1.0 0 1 0 2.0 0a1.0 1.0 0 1 0 -2.0 0M451.2 137.0a1.0 1.0 0 1 0 2.0 0a1.0 1.0 0 1 0 -2.0 0M452.4 137.4a1.0 1.0 0 1 0 2.0 0a1.0 1.0 0 1 0 -2.0 0M453.6 137.2a1.0 1.0 0 1 0 2.0 0a1.0 1.0 0 1 0 -2.0 0M454.8 138.1a1.0 1.0 0 1 0 2.0 0a1.0 1.0 0 1 0 -2.0 0M456.0 139.7a1.0 1.0 0 1 0 2.0 0a1.0 1.0 0 1 0 -2.0 0M457.2 137.2a1.0 1.0 0 1 0 2.0 0a1.0 1.0 0 1 0 -2.0 0M458.4 139.0a1.0 1.0 0 1 0 2.0 0a1.0 1.0 0 1 0 -2.0 0M459.6 138.7a1.0 1.0 0 1 0 2.0 0a1.0 1.0 0 1 0 -2.0 0M460.8 137.7a1.0 1.0 0 1 0 2.0 0a1.0 1.0 0 1 0 -2.0 0M462.0 137.5a1.0 1.0 0 1 0 2.0 0a1.0 1.0 0 1 0 -2.0 0M463.2 139.0a1.0 1.0 0 1 0 2.0 0a1.0 1.0 0 1 0 -2.0 0M464.4 139.0a1.0 1.0 0 1 0 2.0 0a1.0 1.0 0 1 0 -2.0 0M465.6 138.1a1.0 1.0 0 1 0 2.0 0a1.0 1.0 0 1 0 -2.0 0M466.8 138.3a1.0 1.0 0 1 0 2.0 0a1.0 1.0 0 1 0 -2.0 0M468.0 138.5a1.0 1.0 0 1 0 2.0 0a1.0 1.0 0 1 0 -2.0 0M469.2 137.0a1.0 1.0 0 1 0 2.0 0a1.0 1.0 0 1 0 -2.0 0M470.4 138.6a1.0 1.0 0 1 0 2.0 0a1.0 1.0 0 1 0 -2.0 0M471.6 138.8a1.0 1.0 0 1 0 2.0 0a1.0 1.0 0 1 0 -2.0 0" fill="#f7a01a" opacity="1.0"/>
<polyline points="326.2,38.0 327.4,35.5 328.6,37.0 329.8,39.6 331.0,41.9 332.2,44.4 333.4,46.8 334.6,49.1 335.8,51.4 337.0,53.6 338.2,55.8 339.4,57.9 340.6,60.0 341.8,62.1 343.0,64.4 344.2,66.7 345.4,69.1 346.6,71.6 347.8,74.1 349.0,76.5 350.2,78.7 351.4,80.9 352.6,82.9 353.8,85.0 355.0,87.0 356.2,89.0 357.4,91.1 358.6,93.1 359.8,95.0 361.0,97.0 362.2,98.8 363.4,100.6 364.6,102.4 365.8,104.1 367.0,105.8 368.2,107.4 369.4,108.9 370.6,110.3 371.8,111.7 373.0,113.0 374.2,114.3 375.4,115.4 376.6,116.4 377.8,117.3 379.0,118.2 380.2,119.0 381.4,119.7 382.6,120.4 383.8,121.0 385.0,121.6 386.2,122.1 387.4,122.7 388.6,123.2 389.8,123.8 391.0,124.3 392.2,124.9 393.4,125.4 394.6,126.0 395.8,126.5 397.0,127.0 398.2,127.5 399.4,127.9 400.6,128.4 401.8,128.8 403.0,129.2 404.2,129.6 405.4,130.0 406.6,130.4 407.8,130.8 409.0,131.1 410.2,131.5 411.4,131.8 412.6,132.1 413.8,132.4 415.0,132.7 416.2,132.9 417.4,133.2 418.6,133.5 419.8,133.7 421.0,134.0 422.2,134.2 423.4,134.4 424.6,134.6 425.8,134.8 427.0,135.0 428.2,135.1 429.4,135.2 430.6,135.3 431.8,135.5 433.0,135.6 434.2,135.7 435.4,135.8 436.6,135.9 437.8,136.0 439.0,136.1 440.2,136.2 441.4,136.2 442.6,136.3 443.8,136.4 445.0,136.5 446.2,136.6 447.4,136.6 448.6,136.7 449.8,136.8 451.0,136.8 452.2,136.9 453.4,137.0 454.6,137.1 455.8,137.1 457.0,137.2 458.2,137.3 459.4,137.3 460.6,137.4 461.8,137.5 463.0,137.5 464.2,137.6 465.4,137.7 466.6,137.7 467.8,137.8 469.0,137.8 470.2,137.9 471.4,137.9 472.6,138.0" fill="none" stroke="#c82a10" stroke-width="2" stroke-linejoin="round" stroke-linecap="round" opacity="1.0"/>
<path d="M319.0 135.4V142.0M318.2 135.4h1.6M318.2 142.0h1.6M320.2 137.1V140.2M319.4 137.1h1.6M319.4 140.2h1.6M321.4 134.6V139.7M320.6 134.6h1.6M320.6 139.7h1.6M322.6 138.3V141.4M321.8 138.3h1.6M321.8 141.4h1.6M323.8 135.1V139.5M323.0 135.1h1.6M323.0 139.5h1.6M325.0 135.7V140.9M324.2 135.7h1.6M324.2 140.9h1.6M327.4 33.1V38.5M326.6 33.1h1.6M326.6 38.5h1.6M328.6 35.6V38.7M327.8 35.6h1.6M327.8 38.7h1.6M329.8 36.2V41.5M329.0 36.2h1.6M329.0 41.5h1.6M331.0 38.9V44.2M330.2 38.9h1.6M330.2 44.2h1.6M332.2 42.9V45.8M331.4 42.9h1.6M331.4 45.8h1.6M333.4 46.3V49.7M332.6 46.3h1.6M332.6 49.7h1.6M334.6 46.2V50.9M333.8 46.2h1.6M333.8 50.9h1.6M335.8 49.0V55.1M335.0 49.0h1.6M335.0 55.1h1.6M337.0 51.9V56.1M336.2 51.9h1.6M336.2 56.1h1.6M338.2 53.1V58.7M337.4 53.1h1.6M337.4 58.7h1.6M339.4 55.8V59.1M338.6 55.8h1.6M338.6 59.1h1.6M340.6 56.8V63.0M339.8 56.8h1.6M339.8 63.0h1.6M341.8 57.8V63.4M341.0 57.8h1.6M341.0 63.4h1.6M343.0 62.7V66.3M342.2 62.7h1.6M342.2 66.3h1.6M344.2 65.4V68.7M343.4 65.4h1.6M343.4 68.7h1.6M345.4 66.1V71.3M344.6 66.1h1.6M344.6 71.3h1.6M346.6 69.0V75.2M345.8 69.0h1.6M345.8 75.2h1.6M347.8 71.9V77.0M347.0 71.9h1.6M347.0 77.0h1.6M349.0 74.5V77.4M348.2 74.5h1.6M348.2 77.4h1.6M350.2 77.6V81.5M349.4 77.6h1.6M349.4 81.5h1.6M351.4 78.1V82.8M350.6 78.1h1.6M350.6 82.8h1.6M352.6 83.7V86.6M351.8 83.7h1.6M351.8 86.6h1.6M353.8 82.6V85.6M353.0 82.6h1.6M353.0 85.6h1.6M355.0 84.1V88.6M354.2 84.1h1.6M354.2 88.6h1.6M356.2 86.8V90.2M355.4 86.8h1.6M355.4 90.2h1.6M357.4 88.4V94.3M356.6 88.4h1.6M356.6 94.3h1.6M358.6 92.0V96.4M357.8 92.0h1.6M357.8 96.4h1.6M359.8 92.1V98.3M359.0 92.1h1.6M359.0 98.3h1.6M361.0 94.5V98.9M360.2 94.5h1.6M360.2 98.9h1.6M362.2 98.5V102.7M361.4 98.5h1.6M361.4 102.7h1.6M363.4 98.8V104.4M362.6 98.8h1.6M362.6 104.4h1.6M364.6 99.6V104.8M363.8 99.6h1.6M363.8 104.8h1.6M365.8 101.6V106.5M365.0 101.6h1.6M365.0 106.5h1.6M367.0 102.7V106.2M366.2 102.7h1.6M366.2 106.2h1.6M368.2 105.8V109.2M367.4 105.8h1.6M367.4 109.2h1.6M369.4 107.3V113.7M368.6 107.3h1.6M368.6 113.7h1.6M370.6 107.1V111.6M369.8 107.1h1.6M369.8 111.6h1.6M371.8 107.3V113.8M371.0 107.3h1.6M371.0 113.8h1.6M373.0 111.4V115.0M372.2 111.4h1.6M372.2 115.0h1.6M374.2 109.5V114.8M373.4 109.5h1.6M373.4 114.8h1.6M375.4 113.9V119.5M374.6 113.9h1.6M374.6 119.5h1.6M376.6 112.1V118.1M375.8 112.1h1.6M375.8 118.1h1.6M377.8 114.9V118.6M377.0 114.9h1.6M377.0 118.6h1.6M379.0 115.2V121.0M378.2 115.2h1.6M378.2 121.0h1.6M380.2 118.5V121.7M379.4 118.5h1.6M379.4 121.7h1.6M381.4 116.8V123.4M380.6 116.8h1.6M380.6 123.4h1.6M382.6 117.0V120.4M381.8 117.0h1.6M381.8 120.4h1.6M383.8 117.1V122.0M383.0 117.1h1.6M383.0 122.0h1.6M385.0 118.5V125.1M384.2 118.5h1.6M384.2 125.1h1.6M386.2 118.1V122.4M385.4 118.1h1.6M385.4 122.4h1.6M387.4 119.9V125.0M386.6 119.9h1.6M386.6 125.0h1.6M388.6 120.1V124.9M387.8 120.1h1.6M387.8 124.9h1.6M389.8 121.8V127.2M389.0 121.8h1.6M389.0 127.2h1.6M391.0 122.7V128.1M390.2 122.7h1.6M390.2 128.1h1.6M392.2 120.6V124.7M391.4 120.6h1.6M391.4 124.7h1.6M393.4 124.3V127.3M392.6 124.3h1.6M392.6 127.3h1.6M394.6 123.9V129.1M393.8 123.9h1.6M393.8 129.1h1.6M395.8 122.6V128.9M395.0 122.6h1.6M395.0 128.9h1.6M397.0 123.7V129.2M396.2 123.7h1.6M396.2 129.2h1.6M398.2 123.1V129.7M397.4 123.1h1.6M397.4 129.7h1.6M399.4 125.9V129.3M398.6 125.9h1.6M398.6 129.3h1.6M400.6 126.8V130.6M399.8 126.8h1.6M399.8 130.6h1.6M401.8 126.9V133.1M401.0 126.9h1.6M401.0 133.1h1.6M403.0 129.0V131.9M402.2 129.0h1.6M402.2 131.9h1.6M404.2 127.4V131.3M403.4 127.4h1.6M403.4 131.3h1.6M405.4 127.8V130.7M404.6 127.8h1.6M404.6 130.7h1.6M406.6 129.4V133.2M405.8 129.4h1.6M405.8 133.2h1.6M407.8 125.3V131.2M407.0 125.3h1.6M407.0 131.2h1.6M409.0 127.9V131.8M408.2 127.9h1.6M408.2 131.8h1.6M410.2 130.4V133.6M409.4 130.4h1.6M409.4 133.6h1.6M411.4 131.7V135.8M410.6 131.7h1.6M410.6 135.8h1.6M412.6 128.5V134.2M411.8 128.5h1.6M411.8 134.2h1.6M413.8 129.7V135.2M413.0 129.7h1.6M413.0 135.2h1.6M415.0 128.9V134.3M414.2 128.9h1.6M414.2 134.3h1.6M416.2 129.7V136.0M415.4 129.7h1.6M415.4 136.0h1.6M417.4 130.8V135.4M416.6 130.8h1.6M416.6 135.4h1.6M418.6 130.3V135.3M417.8 130.3h1.6M417.8 135.3h1.6M419.8 131.2V136.9M419.0 131.2h1.6M419.0 136.9h1.6M421.0 132.2V135.4M420.2 132.2h1.6M420.2 135.4h1.6M422.2 132.0V137.2M421.4 132.0h1.6M421.4 137.2h1.6M423.4 131.0V137.4M422.6 131.0h1.6M422.6 137.4h1.6M424.6 131.2V135.8M423.8 131.2h1.6M423.8 135.8h1.6M425.8 131.9V137.9M425.0 131.9h1.6M425.0 137.9h1.6M427.0 132.6V138.8M426.2 132.6h1.6M426.2 138.8h1.6M428.2 131.2V137.5M427.4 131.2h1.6M427.4 137.5h1.6M429.4 134.0V138.8M428.6 134.0h1.6M428.6 138.8h1.6M430.6 134.1V137.3M429.8 134.1h1.6M429.8 137.3h1.6M431.8 132.3V137.9M431.0 132.3h1.6M431.0 137.9h1.6M433.0 134.1V137.1M432.2 134.1h1.6M432.2 137.1h1.6M434.2 132.7V137.9M433.4 132.7h1.6M433.4 137.9h1.6M435.4 132.4V137.5M434.6 132.4h1.6M434.6 137.5h1.6M436.6 133.4V140.0M435.8 133.4h1.6M435.8 140.0h1.6M437.8 134.0V139.5M437.0 134.0h1.6M437.0 139.5h1.6M439.0 133.8V137.5M438.2 133.8h1.6M438.2 137.5h1.6M440.2 134.4V137.5M439.4 134.4h1.6M439.4 137.5h1.6M441.4 133.0V139.1M440.6 133.0h1.6M440.6 139.1h1.6M442.6 134.6V139.3M441.8 134.6h1.6M441.8 139.3h1.6M443.8 134.5V141.0M443.0 134.5h1.6M443.0 141.0h1.6M445.0 132.8V139.0M444.2 132.8h1.6M444.2 139.0h1.6M446.2 134.5V139.2M445.4 134.5h1.6M445.4 139.2h1.6M447.4 133.4V139.8M446.6 133.4h1.6M446.6 139.8h1.6M448.6 135.4V139.0M447.8 135.4h1.6M447.8 139.0h1.6M449.8 135.1V141.0M449.0 135.1h1.6M449.0 141.0h1.6M451.0 132.8V139.3M450.2 132.8h1.6M450.2 139.3h1.6M452.2 133.6V136.5M451.4 133.6h1.6M451.4 136.5h1.6M453.4 134.4V139.3M452.6 134.4h1.6M452.6 139.3h1.6M454.6 132.6V138.7M453.8 132.6h1.6M453.8 138.7h1.6M455.8 136.1V141.2M455.0 136.1h1.6M455.0 141.2h1.6M457.0 133.6V139.6M456.2 133.6h1.6M456.2 139.6h1.6M458.2 135.0V139.1M457.4 135.0h1.6M457.4 139.1h1.6M459.4 134.9V140.2M458.6 134.9h1.6M458.6 140.2h1.6M460.6 135.9V139.3M459.8 135.9h1.6M459.8 139.3h1.6M461.8 133.9V140.4M461.0 133.9h1.6M461.0 140.4h1.6M463.0 134.8V140.3M462.2 134.8h1.6M462.2 140.3h1.6M464.2 136.1V140.9M463.4 136.1h1.6M463.4 140.9h1.6M465.4 134.6V140.2M464.6 134.6h1.6M464.6 140.2h1.6M466.6 136.1V142.6M465.8 136.1h1.6M465.8 142.6h1.6M467.8 136.4V139.8M467.0 136.4h1.6M467.0 139.8h1.6M469.0 133.6V137.9M468.2 133.6h1.6M468.2 137.9h1.6M470.2 136.0V141.4M469.4 136.0h1.6M469.4 141.4h1.6M471.4 134.1V138.7M470.6 134.1h1.6M470.6 138.7h1.6M472.6 135.9V140.7M471.8 135.9h1.6M471.8 140.7h1.6" stroke="#c82a10" stroke-width="0.6" fill="none" opacity="1.0"/>
<path d="M325.0 138.3L327.4 35.8" stroke="#d08070" stroke-width="1.0" fill="none"/>
<polyline points="319.0,138.7 320.2,138.6 321.4,137.2 322.6,139.8 323.8,137.3 325.0,138.3" stroke="#c82a10" stroke-width="1.6" fill="none" stroke-linejoin="round" opacity="1.0"/>
<polyline points="327.4,35.8 328.6,37.2 329.8,38.9 331.0,41.5 332.2,44.4 333.4,48.0 334.6,48.6 335.8,52.0 337.0,54.0 338.2,55.9 339.4,57.4 340.6,59.9 341.8,60.6 343.0,64.5 344.2,67.1 345.4,68.7 346.6,72.1 347.8,74.4 349.0,75.9 350.2,79.6 351.4,80.5 352.6,85.2 353.8,84.1 355.0,86.4 356.2,88.5 357.4,91.4 358.6,94.2 359.8,95.2 361.0,96.7 362.2,100.6 363.4,101.6 364.6,102.2 365.8,104.1 367.0,104.5 368.2,107.5 369.4,110.5 370.6,109.3 371.8,110.5 373.0,113.2 374.2,112.2 375.4,116.7 376.6,115.1 377.8,116.7 379.0,118.1 380.2,120.1 381.4,120.1 382.6,118.7 383.8,119.5 385.0,121.8 386.2,120.3 387.4,122.4 388.6,122.5 389.8,124.5 391.0,125.4 392.2,122.6 393.4,125.8 394.6,126.5 395.8,125.8 397.0,126.4 398.2,126.4 399.4,127.6 400.6,128.7 401.8,130.0 403.0,130.5 404.2,129.3 405.4,129.2 406.6,131.3 407.8,128.2 409.0,129.8 410.2,132.0 411.4,133.7 412.6,131.3 413.8,132.4 415.0,131.6 416.2,132.8 417.4,133.1 418.6,132.8 419.8,134.0 421.0,133.8 422.2,134.6 423.4,134.2 424.6,133.5 425.8,134.9 427.0,135.7 428.2,134.4 429.4,136.4 430.6,135.7 431.8,135.1 433.0,135.6 434.2,135.3 435.4,135.0 436.6,136.7 437.8,136.8 439.0,135.7 440.2,136.0 441.4,136.0 442.6,136.9 443.8,137.7 445.0,135.9 446.2,136.8 447.4,136.6 448.6,137.2 449.8,138.1 451.0,136.1 452.2,135.1 453.4,136.8 454.6,135.6 455.8,138.6 457.0,136.6 458.2,137.0 459.4,137.6 460.6,137.6 461.8,137.1 463.0,137.5 464.2,138.5 465.4,137.4 466.6,139.4 467.8,138.1 469.0,135.7 470.2,138.7 471.4,136.4 472.6,138.3" stroke="#c82a10" stroke-width="1.6" fill="none" stroke-linejoin="round" opacity="1.0"/>
<path d="M318.0 138.7a1.0 1.0 0 1 0 2.0 0a1.0 1.0 0 1 0 -2.0 0M319.2 138.6a1.0 1.0 0 1 0 2.0 0a1.0 1.0 0 1 0 -2.0 0M320.4 137.2a1.0 1.0 0 1 0 2.0 0a1.0 1.0 0 1 0 -2.0 0M321.6 139.8a1.0 1.0 0 1 0 2.0 0a1.0 1.0 0 1 0 -2.0 0M322.8 137.3a1.0 1.0 0 1 0 2.0 0a1.0 1.0 0 1 0 -2.0 0M324.0 138.3a1.0 1.0 0 1 0 2.0 0a1.0 1.0 0 1 0 -2.0 0M326.4 35.8a1.0 1.0 0 1 0 2.0 0a1.0 1.0 0 1 0 -2.0 0M327.6 37.2a1.0 1.0 0 1 0 2.0 0a1.0 1.0 0 1 0 -2.0 0M328.8 38.9a1.0 1.0 0 1 0 2.0 0a1.0 1.0 0 1 0 -2.0 0M330.0 41.5a1.0 1.0 0 1 0 2.0 0a1.0 1.0 0 1 0 -2.0 0M331.2 44.4a1.0 1.0 0 1 0 2.0 0a1.0 1.0 0 1 0 -2.0 0M332.4 48.0a1.0 1.0 0 1 0 2.0 0a1.0 1.0 0 1 0 -2.0 0M333.6 48.6a1.0 1.0 0 1 0 2.0 0a1.0 1.0 0 1 0 -2.0 0M334.8 52.0a1.0 1.0 0 1 0 2.0 0a1.0 1.0 0 1 0 -2.0 0M336.0 54.0a1.0 1.0 0 1 0 2.0 0a1.0 1.0 0 1 0 -2.0 0M337.2 55.9a1.0 1.0 0 1 0 2.0 0a1.0 1.0 0 1 0 -2.0 0M338.4 57.4a1.0 1.0 0 1 0 2.0 0a1.0 1.0 0 1 0 -2.0 0M339.6 59.9a1.0 1.0 0 1 0 2.0 0a1.0 1.0 0 1 0 -2.0 0M340.8 60.6a1.0 1.0 0 1 0 2.0 0a1.0 1.0 0 1 0 -2.0 0M342.0 64.5a1.0 1.0 0 1 0 2.0 0a1.0 1.0 0 1 0 -2.0 0M343.2 67.1a1.0 1.0 0 1 0 2.0 0a1.0 1.0 0 1 0 -2.0 0M344.4 68.7a1.0 1.0 0 1 0 2.0 0a1.0 1.0 0 1 0 -2.0 0M345.6 72.1a1.0 1.0 0 1 0 2.0 0a1.0 1.0 0 1 0 -2.0 0M346.8 74.4a1.0 1.0 0 1 0 2.0 0a1.0 1.0 0 1 0 -2.0 0M348.0 75.9a1.0 1.0 0 1 0 2.0 0a1.0 1.0 0 1 0 -2.0 0M349.2 79.6a1.0 1.0 0 1 0 2.0 0a1.0 1.0 0 1 0 -2.0 0M350.4 80.5a1.0 1.0 0 1 0 2.0 0a1.0 1.0 0 1 0 -2.0 0M351.6 85.2a1.0 1.0 0 1 0 2.0 0a1.0 1.0 0 1 0 -2.0 0M352.8 84.1a1.0 1.0 0 1 0 2.0 0a1.0 1.0 0 1 0 -2.0 0M354.0 86.4a1.0 1.0 0 1 0 2.0 0a1.0 1.0 0 1 0 -2.0 0M355.2 88.5a1.0 1.0 0 1 0 2.0 0a1.0 1.0 0 1 0 -2.0 0M356.4 91.4a1.0 1.0 0 1 0 2.0 0a1.0 1.0 0 1 0 -2.0 0M357.6 94.2a1.0 1.0 0 1 0 2.0 0a1.0 1.0 0 1 0 -2.0 0M358.8 95.2a1.0 1.0 0 1 0 2.0 0a1.0 1.0 0 1 0 -2.0 0M360.0 96.7a1.0 1.0 0 1 0 2.0 0a1.0 1.0 0 1 0 -2.0 0M361.2 100.6a1.0 1.0 0 1 0 2.0 0a1.0 1.0 0 1 0 -2.0 0M362.4 101.6a1.0 1.0 0 1 0 2.0 0a1.0 1.0 0 1 0 -2.0 0M363.6 102.2a1.0 1.0 0 1 0 2.0 0a1.0 1.0 0 1 0 -2.0 0M364.8 104.1a1.0 1.0 0 1 0 2.0 0a1.0 1.0 0 1 0 -2.0 0M366.0 104.5a1.0 1.0 0 1 0 2.0 0a1.0 1.0 0 1 0 -2.0 0M367.2 107.5a1.0 1.0 0 1 0 2.0 0a1.0 1.0 0 1 0 -2.0 0M368.4 110.5a1.0 1.0 0 1 0 2.0 0a1.0 1.0 0 1 0 -2.0 0M369.6 109.3a1.0 1.0 0 1 0 2.0 0a1.0 1.0 0 1 0 -2.0 0M370.8 110.5a1.0 1.0 0 1 0 2.0 0a1.0 1.0 0 1 0 -2.0 0M372.0 113.2a1.0 1.0 0 1 0 2.0 0a1.0 1.0 0 1 0 -2.0 0M373.2 112.2a1.0 1.0 0 1 0 2.0 0a1.0 1.0 0 1 0 -2.0 0M374.4 116.7a1.0 1.0 0 1 0 2.0 0a1.0 1.0 0 1 0 -2.0 0M375.6 115.1a1.0 1.0 0 1 0 2.0 0a1.0 1.0 0 1 0 -2.0 0M376.8 116.7a1.0 1.0 0 1 0 2.0 0a1.0 1.0 0 1 0 -2.0 0M378.0 118.1a1.0 1.0 0 1 0 2.0 0a1.0 1.0 0 1 0 -2.0 0M379.2 120.1a1.0 1.0 0 1 0 2.0 0a1.0 1.0 0 1 0 -2.0 0M380.4 120.1a1.0 1.0 0 1 0 2.0 0a1.0 1.0 0 1 0 -2.0 0M381.6 118.7a1.0 1.0 0 1 0 2.0 0a1.0 1.0 0 1 0 -2.0 0M382.8 119.5a1.0 1.0 0 1 0 2.0 0a1.0 1.0 0 1 0 -2.0 0M384.0 121.8a1.0 1.0 0 1 0 2.0 0a1.0 1.0 0 1 0 -2.0 0M385.2 120.3a1.0 1.0 0 1 0 2.0 0a1.0 1.0 0 1 0 -2.0 0M386.4 122.4a1.0 1.0 0 1 0 2.0 0a1.0 1.0 0 1 0 -2.0 0M387.6 122.5a1.0 1.0 0 1 0 2.0 0a1.0 1.0 0 1 0 -2.0 0M388.8 124.5a1.0 1.0 0 1 0 2.0 0a1.0 1.0 0 1 0 -2.0 0M390.0 125.4a1.0 1.0 0 1 0 2.0 0a1.0 1.0 0 1 0 -2.0 0M391.2 122.6a1.0 1.0 0 1 0 2.0 0a1.0 1.0 0 1 0 -2.0 0M392.4 125.8a1.0 1.0 0 1 0 2.0 0a1.0 1.0 0 1 0 -2.0 0M393.6 126.5a1.0 1.0 0 1 0 2.0 0a1.0 1.0 0 1 0 -2.0 0M394.8 125.8a1.0 1.0 0 1 0 2.0 0a1.0 1.0 0 1 0 -2.0 0M396.0 126.4a1.0 1.0 0 1 0 2.0 0a1.0 1.0 0 1 0 -2.0 0M397.2 126.4a1.0 1.0 0 1 0 2.0 0a1.0 1.0 0 1 0 -2.0 0M398.4 127.6a1.0 1.0 0 1 0 2.0 0a1.0 1.0 0 1 0 -2.0 0M399.6 128.7a1.0 1.0 0 1 0 2.0 0a1.0 1.0 0 1 0 -2.0 0M400.8 130.0a1.0 1.0 0 1 0 2.0 0a1.0 1.0 0 1 0 -2.0 0M402.0 130.5a1.0 1.0 0 1 0 2.0 0a1.0 1.0 0 1 0 -2.0 0M403.2 129.3a1.0 1.0 0 1 0 2.0 0a1.0 1.0 0 1 0 -2.0 0M404.4 129.2a1.0 1.0 0 1 0 2.0 0a1.0 1.0 0 1 0 -2.0 0M405.6 131.3a1.0 1.0 0 1 0 2.0 0a1.0 1.0 0 1 0 -2.0 0M406.8 128.2a1.0 1.0 0 1 0 2.0 0a1.0 1.0 0 1 0 -2.0 0M408.0 129.8a1.0 1.0 0 1 0 2.0 0a1.0 1.0 0 1 0 -2.0 0M409.2 132.0a1.0 1.0 0 1 0 2.0 0a1.0 1.0 0 1 0 -2.0 0M410.4 133.7a1.0 1.0 0 1 0 2.0 0a1.0 1.0 0 1 0 -2.0 0M411.6 131.3a1.0 1.0 0 1 0 2.0 0a1.0 1.0 0 1 0 -2.0 0M412.8 132.4a1.0 1.0 0 1 0 2.0 0a1.0 1.0 0 1 0 -2.0 0M414.0 131.6a1.0 1.0 0 1 0 2.0 0a1.0 1.0 0 1 0 -2.0 0M415.2 132.8a1.0 1.0 0 1 0 2.0 0a1.0 1.0 0 1 0 -2.0 0M416.4 133.1a1.0 1.0 0 1 0 2.0 0a1.0 1.0 0 1 0 -2.0 0M417.6 132.8a1.0 1.0 0 1 0 2.0 0a1.0 1.0 0 1 0 -2.0 0M418.8 134.0a1.0 1.0 0 1 0 2.0 0a1.0 1.0 0 1 0 -2.0 0M420.0 133.8a1.0 1.0 0 1 0 2.0 0a1.0 1.0 0 1 0 -2.0 0M421.2 134.6a1.0 1.0 0 1 0 2.0 0a1.0 1.0 0 1 0 -2.0 0M422.4 134.2a1.0 1.0 0 1 0 2.0 0a1.0 1.0 0 1 0 -2.0 0M423.6 133.5a1.0 1.0 0 1 0 2.0 0a1.0 1.0 0 1 0 -2.0 0M424.8 134.9a1.0 1.0 0 1 0 2.0 0a1.0 1.0 0 1 0 -2.0 0M426.0 135.7a1.0 1.0 0 1 0 2.0 0a1.0 1.0 0 1 0 -2.0 0M427.2 134.4a1.0 1.0 0 1 0 2.0 0a1.0 1.0 0 1 0 -2.0 0M428.4 136.4a1.0 1.0 0 1 0 2.0 0a1.0 1.0 0 1 0 -2.0 0M429.6 135.7a1.0 1.0 0 1 0 2.0 0a1.0 1.0 0 1 0 -2.0 0M430.8 135.1a1.0 1.0 0 1 0 2.0 0a1.0 1.0 0 1 0 -2.0 0M432.0 135.6a1.0 1.0 0 1 0 2.0 0a1.0 1.0 0 1 0 -2.0 0M433.2 135.3a1.0 1.0 0 1 0 2.0 0a1.0 1.0 0 1 0 -2.0 0M434.4 135.0a1.0 1.0 0 1 0 2.0 0a1.0 1.0 0 1 0 -2.0 0M435.6 136.7a1.0 1.0 0 1 0 2.0 0a1.0 1.0 0 1 0 -2.0 0M436.8 136.8a1.0 1.0 0 1 0 2.0 0a1.0 1.0 0 1 0 -2.0 0M438.0 135.7a1.0 1.0 0 1 0 2.0 0a1.0 1.0 0 1 0 -2.0 0M439.2 136.0a1.0 1.0 0 1 0 2.0 0a1.0 1.0 0 1 0 -2.0 0M440.4 136.0a1.0 1.0 0 1 0 2.0 0a1.0 1.0 0 1 0 -2.0 0M441.6 136.9a1.0 1.0 0 1 0 2.0 0a1.0 1.0 0 1 0 -2.0 0M442.8 137.7a1.0 1.0 0 1 0 2.0 0a1.0 1.0 0 1 0 -2.0 0M444.0 135.9a1.0 1.0 0 1 0 2.0 0a1.0 1.0 0 1 0 -2.0 0M445.2 136.8a1.0 1.0 0 1 0 2.0 0a1.0 1.0 0 1 0 -2.0 0M446.4 136.6a1.0 1.0 0 1 0 2.0 0a1.0 1.0 0 1 0 -2.0 0M447.6 137.2a1.0 1.0 0 1 0 2.0 0a1.0 1.0 0 1 0 -2.0 0M448.8 138.1a1.0 1.0 0 1 0 2.0 0a1.0 1.0 0 1 0 -2.0 0M450.0 136.1a1.0 1.0 0 1 0 2.0 0a1.0 1.0 0 1 0 -2.0 0M451.2 135.1a1.0 1.0 0 1 0 2.0 0a1.0 1.0 0 1 0 -2.0 0M452.4 136.8a1.0 1.0 0 1 0 2.0 0a1.0 1.0 0 1 0 -2.0 0M453.6 135.6a1.0 1.0 0 1 0 2.0 0a1.0 1.0 0 1 0 -2.0 0M454.8 138.6a1.0 1.0 0 1 0 2.0 0a1.0 1.0 0 1 0 -2.0 0M456.0 136.6a1.0 1.0 0 1 0 2.0 0a1.0 1.0 0 1 0 -2.0 0M457.2 137.0a1.0 1.0 0 1 0 2.0 0a1.0 1.0 0 1 0 -2.0 0M458.4 137.6a1.0 1.0 0 1 0 2.0 0a1.0 1.0 0 1 0 -2.0 0M459.6 137.6a1.0 1.0 0 1 0 2.0 0a1.0 1.0 0 1 0 -2.0 0M460.8 137.1a1.0 1.0 0 1 0 2.0 0a1.0 1.0 0 1 0 -2.0 0M462.0 137.5a1.0 1.0 0 1 0 2.0 0a1.0 1.0 0 1 0 -2.0 0M463.2 138.5a1.0 1.0 0 1 0 2.0 0a1.0 1.0 0 1 0 -2.0 0M464.4 137.4a1.0 1.0 0 1 0 2.0 0a1.0 1.0 0 1 0 -2.0 0M465.6 139.4a1.0 1.0 0 1 0 2.0 0a1.0 1.0 0 1 0 -2.0 0M466.8 138.1a1.0 1.0 0 1 0 2.0 0a1.0 1.0 0 1 0 -2.0 0M468.0 135.7a1.0 1.0 0 1 0 2.0 0a1.0 1.0 0 1 0 -2.0 0M469.2 138.7a1.0 1.0 0 1 0 2.0 0a1.0 1.0 0 1 0 -2.0 0M470.4 136.4a1.0 1.0 0 1 0 2.0 0a1.0 1.0 0 1 0 -2.0 0M471.6 138.3a1.0 1.0 0 1 0 2.0 0a1.0 1.0 0 1 0 -2.0 0" fill="#a01a08" opacity="1.0"/>
<polyline points="325.0,120.5 327.0,32.6 329.0,34.0 331.0,37.1 333.0,40.5 335.0,43.2 337.0,45.8 339.0,48.2 341.0,50.4 343.0,52.4 345.0,54.4 347.0,56.6 349.0,59.0 351.0,61.4 353.0,63.9 355.0,66.2 357.0,68.4 359.0,70.6 361.0,72.8 363.0,74.9 365.0,77.0 367.0,79.1 369.0,81.2 371.0,83.2 373.0,85.3 375.0,87.5 377.0,89.7 379.0,92.0 381.0,94.4 383.0,96.7 385.0,99.0 387.0,101.3 389.0,103.6 391.0,105.9 393.0,108.2 395.0,110.3 397.0,112.3 399.0,114.2 401.0,115.9 403.0,117.3 405.0,118.6 407.0,119.9 409.0,121.1 411.0,122.1 413.0,123.0 415.0,123.8 417.0,124.4 419.0,125.0 421.0,125.6 423.0,126.1 425.0,126.5 427.0,126.9 429.0,127.3 431.0,127.7 433.0,128.1 435.0,128.4 437.0,128.7 439.0,128.9 441.0,129.0 443.0,129.2 445.0,129.3 447.0,129.4 449.0,129.4 451.0,129.5 453.0,129.5 455.0,129.5 457.0,129.4 459.0,129.2 461.0,129.0 463.0,128.7 465.0,128.4 467.0,127.9 469.0,127.3 471.0,126.5 473.0,125.6" fill="none" stroke="#3a0c26" stroke-width="3" stroke-linejoin="round" stroke-linecap="round" opacity="1.0"/>
<path d="M319.0 134.6V142.8M318.2 134.6h1.6M318.2 142.8h1.6M321.0 135.0V142.1M320.2 135.0h1.6M320.2 142.1h1.6M323.0 137.9V142.3M322.2 137.9h1.6M322.2 142.3h1.6M327.0 30.9V36.3M326.2 30.9h1.6M326.2 36.3h1.6M329.0 30.4V37.2M328.2 30.4h1.6M328.2 37.2h1.6M331.0 32.1V39.7M330.2 32.1h1.6M330.2 39.7h1.6M333.0 37.1V41.9M332.2 37.1h1.6M332.2 41.9h1.6M335.0 38.9V46.0M334.2 38.9h1.6M334.2 46.0h1.6M337.0 43.5V49.7M336.2 43.5h1.6M336.2 49.7h1.6M339.0 43.2V51.4M338.2 43.2h1.6M338.2 51.4h1.6M341.0 48.3V52.6M340.2 48.3h1.6M340.2 52.6h1.6M343.0 50.2V56.6M342.2 50.2h1.6M342.2 56.6h1.6M345.0 52.5V59.1M344.2 52.5h1.6M344.2 59.1h1.6M347.0 53.8V61.5M346.2 53.8h1.6M346.2 61.5h1.6M349.0 57.1V64.1M348.2 57.1h1.6M348.2 64.1h1.6M351.0 56.1V64.2M350.2 56.1h1.6M350.2 64.2h1.6M353.0 60.0V66.6M352.2 60.0h1.6M352.2 66.6h1.6M355.0 64.1V69.0M354.2 64.1h1.6M354.2 69.0h1.6M357.0 66.3V73.0M356.2 66.3h1.6M356.2 73.0h1.6M359.0 68.7V73.7M358.2 68.7h1.6M358.2 73.7h1.6M361.0 67.7V76.1M360.2 67.7h1.6M360.2 76.1h1.6M363.0 72.3V77.1M362.2 72.3h1.6M362.2 77.1h1.6M365.0 72.9V77.5M364.2 72.9h1.6M364.2 77.5h1.6M367.0 76.9V83.1M366.2 76.9h1.6M366.2 83.1h1.6M369.0 76.7V81.7M368.2 76.7h1.6M368.2 81.7h1.6M371.0 81.0V86.0M370.2 81.0h1.6M370.2 86.0h1.6M373.0 84.1V88.9M372.2 84.1h1.6M372.2 88.9h1.6M375.0 86.5V90.5M374.2 86.5h1.6M374.2 90.5h1.6M377.0 84.2V91.7M376.2 84.2h1.6M376.2 91.7h1.6M379.0 89.1V95.4M378.2 89.1h1.6M378.2 95.4h1.6M381.0 90.3V97.7M380.2 90.3h1.6M380.2 97.7h1.6M383.0 92.9V99.9M382.2 92.9h1.6M382.2 99.9h1.6M385.0 97.0V104.7M384.2 97.0h1.6M384.2 104.7h1.6M387.0 99.7V103.5M386.2 99.7h1.6M386.2 103.5h1.6M389.0 98.1V106.0M388.2 98.1h1.6M388.2 106.0h1.6M391.0 102.4V107.1M390.2 102.4h1.6M390.2 107.1h1.6M393.0 106.2V111.7M392.2 106.2h1.6M392.2 111.7h1.6M395.0 106.8V114.3M394.2 106.8h1.6M394.2 114.3h1.6M397.0 107.5V114.5M396.2 107.5h1.6M396.2 114.5h1.6M399.0 108.9V115.8M398.2 108.9h1.6M398.2 115.8h1.6M401.0 111.4V119.0M400.2 111.4h1.6M400.2 119.0h1.6M403.0 113.4V120.2M402.2 113.4h1.6M402.2 120.2h1.6M405.0 115.4V123.7M404.2 115.4h1.6M404.2 123.7h1.6M407.0 115.3V123.2M406.2 115.3h1.6M406.2 123.2h1.6M409.0 117.9V125.7M408.2 117.9h1.6M408.2 125.7h1.6M411.0 119.4V127.4M410.2 119.4h1.6M410.2 127.4h1.6M413.0 117.2V125.2M412.2 117.2h1.6M412.2 125.2h1.6M415.0 119.1V127.1M414.2 119.1h1.6M414.2 127.1h1.6M417.0 122.4V129.8M416.2 122.4h1.6M416.2 129.8h1.6M419.0 121.2V127.8M418.2 121.2h1.6M418.2 127.8h1.6M421.0 123.3V127.7M420.2 123.3h1.6M420.2 127.7h1.6M423.0 123.5V130.8M422.2 123.5h1.6M422.2 130.8h1.6M425.0 123.2V128.1M424.2 123.2h1.6M424.2 128.1h1.6M427.0 123.3V129.6M426.2 123.3h1.6M426.2 129.6h1.6M429.0 123.1V127.8M428.2 123.1h1.6M428.2 127.8h1.6M431.0 125.7V130.8M430.2 125.7h1.6M430.2 130.8h1.6M433.0 124.8V130.2M432.2 124.8h1.6M432.2 130.2h1.6M435.0 124.5V131.4M434.2 124.5h1.6M434.2 131.4h1.6M437.0 122.1V129.5M436.2 122.1h1.6M436.2 129.5h1.6M439.0 126.8V133.0M438.2 126.8h1.6M438.2 133.0h1.6M441.0 127.8V131.7M440.2 127.8h1.6M440.2 131.7h1.6M443.0 124.7V131.8M442.2 124.7h1.6M442.2 131.8h1.6M445.0 127.6V133.6M444.2 127.6h1.6M444.2 133.6h1.6M447.0 123.1V130.1M446.2 123.1h1.6M446.2 130.1h1.6M449.0 127.0V131.6M448.2 127.0h1.6M448.2 131.6h1.6M451.0 124.3V130.8M450.2 124.3h1.6M450.2 130.8h1.6M453.0 130.1V134.8M452.2 130.1h1.6M452.2 134.8h1.6M455.0 123.4V129.6M454.2 123.4h1.6M454.2 129.6h1.6M457.0 125.9V130.0M456.2 125.9h1.6M456.2 130.0h1.6M459.0 125.6V131.0M458.2 125.6h1.6M458.2 131.0h1.6M461.0 127.1V132.5M460.2 127.1h1.6M460.2 132.5h1.6M463.0 125.8V133.4M462.2 125.8h1.6M462.2 133.4h1.6M465.0 126.5V131.1M464.2 126.5h1.6M464.2 131.1h1.6M467.0 124.5V130.7M466.2 124.5h1.6M466.2 130.7h1.6M469.0 125.7V133.4M468.2 125.7h1.6M468.2 133.4h1.6M471.0 123.1V128.1M470.2 123.1h1.6M470.2 128.1h1.6M473.0 123.2V128.5M472.2 123.2h1.6M472.2 128.5h1.6" stroke="#5a2a40" stroke-width="0.6" fill="none" opacity="1.0"/>
<path d="M323.0 140.1L327.0 33.6" stroke="#a07080" stroke-width="1.0" fill="none"/>
<polyline points="319.0,138.7 321.0,138.6 323.0,140.1" stroke="#3a0c26" stroke-width="1.2" fill="none" stroke-linejoin="round" opacity="1.0"/>
<polyline points="327.0,33.6 329.0,33.8 331.0,35.9 333.0,39.5 335.0,42.5 337.0,46.6 339.0,47.3 341.0,50.4 343.0,53.4 345.0,55.8 347.0,57.7 349.0,60.6 351.0,60.2 353.0,63.3 355.0,66.5 357.0,69.7 359.0,71.2 361.0,71.9 363.0,74.7 365.0,75.2 367.0,80.0 369.0,79.2 371.0,83.5 373.0,86.5 375.0,88.5 377.0,88.0 379.0,92.3 381.0,94.0 383.0,96.4 385.0,100.8 387.0,101.6 389.0,102.1 391.0,104.7 393.0,109.0 395.0,110.5 397.0,111.0 399.0,112.3 401.0,115.2 403.0,116.8 405.0,119.5 407.0,119.2 409.0,121.8 411.0,123.4 413.0,121.2 415.0,123.1 417.0,126.1 419.0,124.5 421.0,125.5 423.0,127.1 425.0,125.7 427.0,126.4 429.0,125.5 431.0,128.3 433.0,127.5 435.0,128.0 437.0,125.8 439.0,129.9 441.0,129.8 443.0,128.2 445.0,130.6 447.0,126.6 449.0,129.3 451.0,127.6 453.0,132.4 455.0,126.5 457.0,128.0 459.0,128.3 461.0,129.8 463.0,129.6 465.0,128.8 467.0,127.6 469.0,129.6 471.0,125.6 473.0,125.9" stroke="#3a0c26" stroke-width="1.2" fill="none" stroke-linejoin="round" opacity="1.0"/>
<path d="M317.1 138.7a1.9 1.9 0 1 0 3.8 0a1.9 1.9 0 1 0 -3.8 0M319.1 138.6a1.9 1.9 0 1 0 3.8 0a1.9 1.9 0 1 0 -3.8 0M321.1 140.1a1.9 1.9 0 1 0 3.8 0a1.9 1.9 0 1 0 -3.8 0M325.1 33.6a1.9 1.9 0 1 0 3.8 0a1.9 1.9 0 1 0 -3.8 0M327.1 33.8a1.9 1.9 0 1 0 3.8 0a1.9 1.9 0 1 0 -3.8 0M329.1 35.9a1.9 1.9 0 1 0 3.8 0a1.9 1.9 0 1 0 -3.8 0M331.1 39.5a1.9 1.9 0 1 0 3.8 0a1.9 1.9 0 1 0 -3.8 0M333.1 42.5a1.9 1.9 0 1 0 3.8 0a1.9 1.9 0 1 0 -3.8 0M335.1 46.6a1.9 1.9 0 1 0 3.8 0a1.9 1.9 0 1 0 -3.8 0M337.1 47.3a1.9 1.9 0 1 0 3.8 0a1.9 1.9 0 1 0 -3.8 0M339.1 50.4a1.9 1.9 0 1 0 3.8 0a1.9 1.9 0 1 0 -3.8 0M341.1 53.4a1.9 1.9 0 1 0 3.8 0a1.9 1.9 0 1 0 -3.8 0M343.1 55.8a1.9 1.9 0 1 0 3.8 0a1.9 1.9 0 1 0 -3.8 0M345.1 57.7a1.9 1.9 0 1 0 3.8 0a1.9 1.9 0 1 0 -3.8 0M347.1 60.6a1.9 1.9 0 1 0 3.8 0a1.9 1.9 0 1 0 -3.8 0M349.1 60.2a1.9 1.9 0 1 0 3.8 0a1.9 1.9 0 1 0 -3.8 0M351.1 63.3a1.9 1.9 0 1 0 3.8 0a1.9 1.9 0 1 0 -3.8 0M353.1 66.5a1.9 1.9 0 1 0 3.8 0a1.9 1.9 0 1 0 -3.8 0M355.1 69.7a1.9 1.9 0 1 0 3.8 0a1.9 1.9 0 1 0 -3.8 0M357.1 71.2a1.9 1.9 0 1 0 3.8 0a1.9 1.9 0 1 0 -3.8 0M359.1 71.9a1.9 1.9 0 1 0 3.8 0a1.9 1.9 0 1 0 -3.8 0M361.1 74.7a1.9 1.9 0 1 0 3.8 0a1.9 1.9 0 1 0 -3.8 0M363.1 75.2a1.9 1.9 0 1 0 3.8 0a1.9 1.9 0 1 0 -3.8 0M365.1 80.0a1.9 1.9 0 1 0 3.8 0a1.9 1.9 0 1 0 -3.8 0M367.1 79.2a1.9 1.9 0 1 0 3.8 0a1.9 1.9 0 1 0 -3.8 0M369.1 83.5a1.9 1.9 0 1 0 3.8 0a1.9 1.9 0 1 0 -3.8 0M371.1 86.5a1.9 1.9 0 1 0 3.8 0a1.9 1.9 0 1 0 -3.8 0M373.1 88.5a1.9 1.9 0 1 0 3.8 0a1.9 1.9 0 1 0 -3.8 0M375.1 88.0a1.9 1.9 0 1 0 3.8 0a1.9 1.9 0 1 0 -3.8 0M377.1 92.3a1.9 1.9 0 1 0 3.8 0a1.9 1.9 0 1 0 -3.8 0M379.1 94.0a1.9 1.9 0 1 0 3.8 0a1.9 1.9 0 1 0 -3.8 0M381.1 96.4a1.9 1.9 0 1 0 3.8 0a1.9 1.9 0 1 0 -3.8 0M383.1 100.8a1.9 1.9 0 1 0 3.8 0a1.9 1.9 0 1 0 -3.8 0M385.1 101.6a1.9 1.9 0 1 0 3.8 0a1.9 1.9 0 1 0 -3.8 0M387.1 102.1a1.9 1.9 0 1 0 3.8 0a1.9 1.9 0 1 0 -3.8 0M389.1 104.7a1.9 1.9 0 1 0 3.8 0a1.9 1.9 0 1 0 -3.8 0M391.1 109.0a1.9 1.9 0 1 0 3.8 0a1.9 1.9 0 1 0 -3.8 0M393.1 110.5a1.9 1.9 0 1 0 3.8 0a1.9 1.9 0 1 0 -3.8 0M395.1 111.0a1.9 1.9 0 1 0 3.8 0a1.9 1.9 0 1 0 -3.8 0M397.1 112.3a1.9 1.9 0 1 0 3.8 0a1.9 1.9 0 1 0 -3.8 0M399.1 115.2a1.9 1.9 0 1 0 3.8 0a1.9 1.9 0 1 0 -3.8 0M401.1 116.8a1.9 1.9 0 1 0 3.8 0a1.9 1.9 0 1 0 -3.8 0M403.1 119.5a1.9 1.9 0 1 0 3.8 0a1.9 1.9 0 1 0 -3.8 0M405.1 119.2a1.9 1.9 0 1 0 3.8 0a1.9 1.9 0 1 0 -3.8 0M407.1 121.8a1.9 1.9 0 1 0 3.8 0a1.9 1.9 0 1 0 -3.8 0M409.1 123.4a1.9 1.9 0 1 0 3.8 0a1.9 1.9 0 1 0 -3.8 0M411.1 121.2a1.9 1.9 0 1 0 3.8 0a1.9 1.9 0 1 0 -3.8 0M413.1 123.1a1.9 1.9 0 1 0 3.8 0a1.9 1.9 0 1 0 -3.8 0M415.1 126.1a1.9 1.9 0 1 0 3.8 0a1.9 1.9 0 1 0 -3.8 0M417.1 124.5a1.9 1.9 0 1 0 3.8 0a1.9 1.9 0 1 0 -3.8 0M419.1 125.5a1.9 1.9 0 1 0 3.8 0a1.9 1.9 0 1 0 -3.8 0M421.1 127.1a1.9 1.9 0 1 0 3.8 0a1.9 1.9 0 1 0 -3.8 0M423.1 125.7a1.9 1.9 0 1 0 3.8 0a1.9 1.9 0 1 0 -3.8 0M425.1 126.4a1.9 1.9 0 1 0 3.8 0a1.9 1.9 0 1 0 -3.8 0M427.1 125.5a1.9 1.9 0 1 0 3.8 0a1.9 1.9 0 1 0 -3.8 0M429.1 128.3a1.9 1.9 0 1 0 3.8 0a1.9 1.9 0 1 0 -3.8 0M431.1 127.5a1.9 1.9 0 1 0 3.8 0a1.9 1.9 0 1 0 -3.8 0M433.1 128.0a1.9 1.9 0 1 0 3.8 0a1.9 1.9 0 1 0 -3.8 0M435.1 125.8a1.9 1.9 0 1 0 3.8 0a1.9 1.9 0 1 0 -3.8 0M437.1 129.9a1.9 1.9 0 1 0 3.8 0a1.9 1.9 0 1 0 -3.8 0M439.1 129.8a1.9 1.9 0 1 0 3.8 0a1.9 1.9 0 1 0 -3.8 0M441.1 128.2a1.9 1.9 0 1 0 3.8 0a1.9 1.9 0 1 0 -3.8 0M443.1 130.6a1.9 1.9 0 1 0 3.8 0a1.9 1.9 0 1 0 -3.8 0M445.1 126.6a1.9 1.9 0 1 0 3.8 0a1.9 1.9 0 1 0 -3.8 0M447.1 129.3a1.9 1.9 0 1 0 3.8 0a1.9 1.9 0 1 0 -3.8 0M449.1 127.6a1.9 1.9 0 1 0 3.8 0a1.9 1.9 0 1 0 -3.8 0M451.1 132.4a1.9 1.9 0 1 0 3.8 0a1.9 1.9 0 1 0 -3.8 0M453.1 126.5a1.9 1.9 0 1 0 3.8 0a1.9 1.9 0 1 0 -3.8 0M455.1 128.0a1.9 1.9 0 1 0 3.8 0a1.9 1.9 0 1 0 -3.8 0M457.1 128.3a1.9 1.9 0 1 0 3.8 0a1.9 1.9 0 1 0 -3.8 0M459.1 129.8a1.9 1.9 0 1 0 3.8 0a1.9 1.9 0 1 0 -3.8 0M461.1 129.6a1.9 1.9 0 1 0 3.8 0a1.9 1.9 0 1 0 -3.8 0M463.1 128.8a1.9 1.9 0 1 0 3.8 0a1.9 1.9 0 1 0 -3.8 0M465.1 127.6a1.9 1.9 0 1 0 3.8 0a1.9 1.9 0 1 0 -3.8 0M467.1 129.6a1.9 1.9 0 1 0 3.8 0a1.9 1.9 0 1 0 -3.8 0M469.1 125.6a1.9 1.9 0 1 0 3.8 0a1.9 1.9 0 1 0 -3.8 0M471.1 125.9a1.9 1.9 0 1 0 3.8 0a1.9 1.9 0 1 0 -3.8 0" fill="#3a0c26" opacity="1.0"/>
<polygon points="319.3,129.5 320.3,129.6 321.3,129.6 322.3,129.7 323.3,129.7 324.3,129.8 324.3,135.5 323.3,135.4 322.3,135.4 321.3,135.3 320.3,135.3 319.3,135.2" fill="#2440d0" opacity="1.0"/>
<polygon points="319.3,138.3 320.3,138.3 321.3,138.4 322.3,138.4 323.3,138.4 324.3,138.5 324.3,143.5 323.3,143.4 322.3,143.4 321.3,143.4 320.3,143.3 319.3,143.3" fill="#5a1a20" opacity="0.85"/>
<path d="M325.2 139V38" stroke="#c07858" stroke-width="1.5" fill="none"/>
<line x1="43.70" y1="29.50" x2="43.70" y2="153.10" stroke="#111" stroke-width="1.1" />
<line x1="43.20" y1="152.60" x2="227.50" y2="152.60" stroke="#111" stroke-width="1.1" />
<line x1="40.30" y1="30.00" x2="43.70" y2="30.00" stroke="#111" stroke-width="1.0" />
<text x="38.8" y="32.9" font-size="8.4" text-anchor="end" textLength="23.5" lengthAdjust="spacingAndGlyphs" fill="#111"  stroke="#111" stroke-width="0.35">75000</text>
<line x1="40.30" y1="81.30" x2="43.70" y2="81.30" stroke="#111" stroke-width="1.0" />
<text x="38.8" y="84.2" font-size="8.4" text-anchor="end" textLength="23.5" lengthAdjust="spacingAndGlyphs" fill="#111"  stroke="#111" stroke-width="0.35">50000</text>
<line x1="40.30" y1="132.20" x2="43.70" y2="132.20" stroke="#111" stroke-width="1.0" />
<text x="38.8" y="135.1" font-size="8.4" text-anchor="end" textLength="23.5" lengthAdjust="spacingAndGlyphs" fill="#111"  stroke="#111" stroke-width="0.35">25000</text>
<line x1="43.70" y1="152.60" x2="43.70" y2="156.20" stroke="#111" stroke-width="1.0" />
<text x="43.7" y="165" font-size="8.4" text-anchor="middle" fill="#111"  stroke="#111" stroke-width="0.35">0</text>
<line x1="104.97" y1="152.60" x2="104.97" y2="156.20" stroke="#111" stroke-width="1.0" />
<text x="104.96666666666667" y="165" font-size="8.4" text-anchor="middle" fill="#111"  stroke="#111" stroke-width="0.35">100</text>
<line x1="166.23" y1="152.60" x2="166.23" y2="156.20" stroke="#111" stroke-width="1.0" />
<text x="166.23333333333335" y="165" font-size="8.4" text-anchor="middle" fill="#111"  stroke="#111" stroke-width="0.35">200</text>
<line x1="227.50" y1="152.60" x2="227.50" y2="156.20" stroke="#111" stroke-width="1.0" />
<text x="227.50000000000006" y="165" font-size="8.4" text-anchor="middle" fill="#111"  stroke="#111" stroke-width="0.35">300</text>
<text x="100" y="180.9" font-size="10.5" font-weight="bold" text-anchor="start" textLength="70.4" lengthAdjust="spacingAndGlyphs" fill="#111"  stroke="#111" stroke-width="0.3">Time (seconds)</text>
<text x="52.0" y="39" font-size="13.2" font-weight="bold" text-anchor="start" textLength="59.4" lengthAdjust="spacingAndGlyphs" fill="#111"  stroke="#111" stroke-width="0.3">Thrombin</text>
<text transform="translate(9.1,137.9) rotate(-90)" font-size="10.2" font-weight="bold" textLength="103.1" lengthAdjust="spacingAndGlyphs" fill="#111" stroke="#111" stroke-width="0.3">Relative Fluorescence</text>
<line x1="180.20" y1="21.90" x2="198.60" y2="21.90" stroke="#555" stroke-width="1.0" />
<ellipse cx="189.3" cy="21.9" rx="1.5" ry="1.2" fill="#111"/>
<text x="203.2" y="25.099999999999998" font-size="9.2" text-anchor="start" textLength="22.23" lengthAdjust="spacingAndGlyphs" fill="#111"  stroke="#111" stroke-width="0.45">6 nM</text>
<line x1="180.20" y1="35.97" x2="198.60" y2="35.97" stroke="#c87060" stroke-width="1.0" />
<ellipse cx="189.3" cy="35.97" rx="1.5" ry="1.2" fill="#7a2020"/>
<text x="200.5" y="39.17" font-size="9.2" text-anchor="start" textLength="30.57" lengthAdjust="spacingAndGlyphs" fill="#111"  stroke="#111" stroke-width="0.45">1.2 nM</text>
<line x1="180.20" y1="50.04" x2="198.60" y2="50.04" stroke="#f0a860" stroke-width="1.0" />
<ellipse cx="189.3" cy="50.04" rx="1.5" ry="1.2" fill="#d07030"/>
<text x="200.5" y="53.24" font-size="9.2" text-anchor="start" textLength="36.13" lengthAdjust="spacingAndGlyphs" fill="#111"  stroke="#111" stroke-width="0.45">0.24 nM</text>
<line x1="180.20" y1="64.11" x2="198.60" y2="64.11" stroke="#5a9a5a" stroke-width="1.0" />
<ellipse cx="189.3" cy="64.11" rx="1.5" ry="1.2" fill="#1a5a1a"/>
<text x="200.5" y="67.31" font-size="9.2" text-anchor="start" textLength="41.69" lengthAdjust="spacingAndGlyphs" fill="#111"  stroke="#111" stroke-width="0.45">0.048 nM</text>
<line x1="180.20" y1="78.18" x2="198.60" y2="78.18" stroke="#6a9ab8" stroke-width="1.0" />
<ellipse cx="189.3" cy="78.18" rx="1.5" ry="1.2" fill="#206080"/>
<text x="200.5" y="81.38000000000001" font-size="9.2" text-anchor="start" textLength="47.25" lengthAdjust="spacingAndGlyphs" fill="#111"  stroke="#111" stroke-width="0.45">0.0096 nM</text>
<line x1="180.20" y1="92.25" x2="198.60" y2="92.25" stroke="#2a2a5a" stroke-width="1.0" />
<ellipse cx="189.3" cy="92.25" rx="1.5" ry="1.2" fill="#111"/>
<text x="200.5" y="95.45" font-size="9.2" text-anchor="start" textLength="52.81" lengthAdjust="spacingAndGlyphs" fill="#111"  stroke="#111" stroke-width="0.45">0.00192 nM</text>
<line x1="180.20" y1="106.32" x2="198.60" y2="106.32" stroke="#2a3050" stroke-width="1.0" />
<ellipse cx="189.3" cy="106.32" rx="1.5" ry="1.2" fill="#101850"/>
<text x="200.5" y="109.52" font-size="9.2" text-anchor="start" textLength="58.37" lengthAdjust="spacingAndGlyphs" fill="#111"  stroke="#111" stroke-width="0.45">0.000384 nM</text>
<line x1="180.20" y1="120.39" x2="198.60" y2="120.39" stroke="#333" stroke-width="1.0" />
<ellipse cx="189.3" cy="120.39000000000001" rx="1.5" ry="1.2" fill="#111"/>
<text x="200.5" y="123.59000000000002" font-size="9.2" text-anchor="start" textLength="13.9" lengthAdjust="spacingAndGlyphs" fill="#111"  stroke="#111" stroke-width="0.45">0.0</text>
<line x1="318.70" y1="24.60" x2="318.70" y2="152.00" stroke="#111" stroke-width="1.1" />
<line x1="318.20" y1="151.50" x2="511.00" y2="151.50" stroke="#111" stroke-width="1.1" />
<line x1="315.50" y1="26.80" x2="318.70" y2="26.80" stroke="#111" stroke-width="1.0" />
<text x="313.0" y="29.7" font-size="8.4" text-anchor="end" textLength="24.3" lengthAdjust="spacingAndGlyphs" fill="#111"  stroke="#111" stroke-width="0.35">75000</text>
<line x1="315.50" y1="79.00" x2="318.70" y2="79.00" stroke="#111" stroke-width="1.0" />
<text x="313.0" y="81.9" font-size="8.4" text-anchor="end" textLength="24.3" lengthAdjust="spacingAndGlyphs" fill="#111"  stroke="#111" stroke-width="0.35">50000</text>
<line x1="315.50" y1="131.10" x2="318.70" y2="131.10" stroke="#111" stroke-width="1.0" />
<text x="313.0" y="134.0" font-size="8.4" text-anchor="end" textLength="24.3" lengthAdjust="spacingAndGlyphs" fill="#111"  stroke="#111" stroke-width="0.35">25000</text>
<line x1="318.70" y1="151.50" x2="318.70" y2="155.10" stroke="#111" stroke-width="1.0" />
<text x="318.7" y="164.6" font-size="8.4" text-anchor="middle" fill="#111"  stroke="#111" stroke-width="0.35">0</text>
<line x1="382.80" y1="151.50" x2="382.80" y2="155.10" stroke="#111" stroke-width="1.0" />
<text x="382.8" y="164.6" font-size="8.4" text-anchor="middle" fill="#111"  stroke="#111" stroke-width="0.35">100</text>
<line x1="446.90" y1="151.50" x2="446.90" y2="155.10" stroke="#111" stroke-width="1.0" />
<text x="446.9" y="164.6" font-size="8.4" text-anchor="middle" fill="#111"  stroke="#111" stroke-width="0.35">200</text>
<line x1="511.00" y1="151.50" x2="511.00" y2="155.10" stroke="#111" stroke-width="1.0" />
<text x="511.0" y="164.6" font-size="8.4" text-anchor="middle" fill="#111"  stroke="#111" stroke-width="0.35">300</text>
<text x="376.9" y="180.5" font-size="10.8" font-weight="bold" text-anchor="start" textLength="75" lengthAdjust="spacingAndGlyphs" fill="#111"  stroke="#111" stroke-width="0.3">Time (seconds)</text>
<text x="333.6" y="30.8" font-size="13.5" font-weight="bold" text-anchor="start" textLength="59.3" lengthAdjust="spacingAndGlyphs" fill="#111"  stroke="#111" stroke-width="0.3">PAR1-AP</text>
<line x1="451.70" y1="24.40" x2="471.00" y2="24.40" stroke="#444" stroke-width="1.0" />
<ellipse cx="461.3" cy="24.4" rx="1.5" ry="1.2" fill="#111"/>
<text x="476.3" y="28.7" font-size="10" text-anchor="start" textLength="28.97" lengthAdjust="spacingAndGlyphs" fill="#111"  stroke="#111" stroke-width="0.45">50 μM</text>
<line x1="451.70" y1="40.40" x2="471.00" y2="40.40" stroke="#a08070" stroke-width="1.0" />
<ellipse cx="461.3" cy="40.4" rx="1.5" ry="1.2" fill="#6a1a10"/>
<text x="473.7" y="44.699999999999996" font-size="10" text-anchor="start" textLength="28.97" lengthAdjust="spacingAndGlyphs" fill="#111"  stroke="#111" stroke-width="0.45">10 μM</text>
<line x1="451.70" y1="54.60" x2="471.00" y2="54.60" stroke="#f0d8a0" stroke-width="1.0" />
<ellipse cx="461.3" cy="54.6" rx="1.5" ry="1.2" fill="#e08020"/>
<text x="473.7" y="58.9" font-size="10" text-anchor="start" textLength="23.22" lengthAdjust="spacingAndGlyphs" fill="#111"  stroke="#111" stroke-width="0.45">2 μM</text>
<line x1="451.70" y1="69.60" x2="471.00" y2="69.60" stroke="#506050" stroke-width="1.0" />
<ellipse cx="461.3" cy="69.6" rx="1.5" ry="1.2" fill="#1a4a1a"/>
<text x="473.7" y="73.89999999999999" font-size="10" text-anchor="start" textLength="31.85" lengthAdjust="spacingAndGlyphs" fill="#111"  stroke="#111" stroke-width="0.45">0.4 μM</text>
<line x1="451.70" y1="84.10" x2="471.00" y2="84.10" stroke="#3a3a6a" stroke-width="1.0" />
<ellipse cx="461.3" cy="84.1" rx="1.5" ry="1.2" fill="#101860"/>
<text x="473.7" y="88.39999999999999" font-size="10" text-anchor="start" textLength="37.6" lengthAdjust="spacingAndGlyphs" fill="#111"  stroke="#111" stroke-width="0.45">0.08 μM</text>
<line x1="451.70" y1="98.70" x2="471.00" y2="98.70" stroke="#333" stroke-width="1.0" />
<ellipse cx="461.3" cy="98.7" rx="1.5" ry="1.2" fill="#101040"/>
<text x="473.7" y="103.0" font-size="10" text-anchor="start" textLength="43.36" lengthAdjust="spacingAndGlyphs" fill="#111"  stroke="#111" stroke-width="0.45">0.016 μM</text>
<line x1="451.70" y1="112.70" x2="471.00" y2="112.70" stroke="#222" stroke-width="1.0" />
<ellipse cx="461.3" cy="112.7" rx="1.5" ry="1.2" fill="#111"/>
<text x="473.7" y="117.0" font-size="10" text-anchor="start" textLength="13.9" lengthAdjust="spacingAndGlyphs" fill="#111"  stroke="#111" stroke-width="0.45">0.0</text>
<line x1="115.40" y1="222.60" x2="115.40" y2="315.80" stroke="#555" stroke-width="1.2" />
<line x1="114.90" y1="315.30" x2="254.00" y2="315.30" stroke="#444" stroke-width="1.2" />
<line x1="112.20" y1="222.62" x2="115.40" y2="222.62" stroke="#555" stroke-width="1.0" />
<text x="110.8" y="225.625" font-size="6.4" text-anchor="end" textLength="12.5" lengthAdjust="spacingAndGlyphs" fill="#111"  stroke="#111" stroke-width="0.45">1.25</text>
<line x1="112.20" y1="239.90" x2="115.40" y2="239.90" stroke="#555" stroke-width="1.0" />
<text x="110.8" y="242.9" font-size="6.4" text-anchor="end" textLength="12.5" lengthAdjust="spacingAndGlyphs" fill="#111"  stroke="#111" stroke-width="0.45">1.00</text>
<line x1="112.20" y1="257.18" x2="115.40" y2="257.18" stroke="#555" stroke-width="1.0" />
<text x="110.8" y="260.175" font-size="6.4" text-anchor="end" textLength="12.5" lengthAdjust="spacingAndGlyphs" fill="#111"  stroke="#111" stroke-width="0.45">0.75</text>
<line x1="112.20" y1="274.45" x2="115.40" y2="274.45" stroke="#555" stroke-width="1.0" />
<text x="110.8" y="277.45" font-size="6.4" text-anchor="end" textLength="12.5" lengthAdjust="spacingAndGlyphs" fill="#111"  stroke="#111" stroke-width="0.45">0.50</text>
<line x1="112.20" y1="291.73" x2="115.40" y2="291.73" stroke="#555" stroke-width="1.0" />
<text x="110.8" y="294.725" font-size="6.4" text-anchor="end" textLength="12.5" lengthAdjust="spacingAndGlyphs" fill="#111"  stroke="#111" stroke-width="0.45">0.25</text>
<line x1="112.20" y1="309.00" x2="115.40" y2="309.00" stroke="#555" stroke-width="1.0" />
<text x="110.8" y="312.0" font-size="6.4" text-anchor="end" textLength="12.5" lengthAdjust="spacingAndGlyphs" fill="#111"  stroke="#111" stroke-width="0.45">0.00</text>
<line x1="115.80" y1="315.30" x2="115.80" y2="318.30" stroke="#444" stroke-width="1.0" />
<text x="116.1" y="325.8" font-size="6.2" text-anchor="middle" fill="#111"  stroke="#111" stroke-width="0.45">-15</text>
<line x1="131.15" y1="315.30" x2="131.15" y2="318.30" stroke="#444" stroke-width="1.0" />
<text x="131.45000000000002" y="325.8" font-size="6.2" text-anchor="middle" fill="#111"  stroke="#111" stroke-width="0.45">-14</text>
<line x1="146.50" y1="315.30" x2="146.50" y2="318.30" stroke="#444" stroke-width="1.0" />
<text x="146.8" y="325.8" font-size="6.2" text-anchor="middle" fill="#111"  stroke="#111" stroke-width="0.45">-13</text>
<line x1="161.85" y1="315.30" x2="161.85" y2="318.30" stroke="#444" stroke-width="1.0" />
<text x="162.15" y="325.8" font-size="6.2" text-anchor="middle" fill="#111"  stroke="#111" stroke-width="0.45">-12</text>
<line x1="177.20" y1="315.30" x2="177.20" y2="318.30" stroke="#444" stroke-width="1.0" />
<text x="177.5" y="325.8" font-size="6.2" text-anchor="middle" fill="#111"  stroke="#111" stroke-width="0.45">-11</text>
<line x1="192.55" y1="315.30" x2="192.55" y2="318.30" stroke="#444" stroke-width="1.0" />
<text x="192.85000000000002" y="325.8" font-size="6.2" text-anchor="middle" fill="#111"  stroke="#111" stroke-width="0.45">-10</text>
<line x1="207.90" y1="315.30" x2="207.90" y2="318.30" stroke="#444" stroke-width="1.0" />
<text x="208.2" y="325.8" font-size="6.2" text-anchor="middle" fill="#111"  stroke="#111" stroke-width="0.45">-9</text>
<line x1="223.25" y1="315.30" x2="223.25" y2="318.30" stroke="#444" stroke-width="1.0" />
<text x="223.55" y="325.8" font-size="6.2" text-anchor="middle" fill="#111"  stroke="#111" stroke-width="0.45">-8</text>
<line x1="238.60" y1="315.30" x2="238.60" y2="318.30" stroke="#444" stroke-width="1.0" />
<text x="238.9" y="325.8" font-size="6.2" text-anchor="middle" fill="#111"  stroke="#111" stroke-width="0.45">-7</text>
<line x1="253.95" y1="315.30" x2="253.95" y2="318.30" stroke="#444" stroke-width="1.0" />
<text x="254.25" y="325.8" font-size="6.2" text-anchor="middle" fill="#111"  stroke="#111" stroke-width="0.45">-6</text>
<text x="152.8" y="337.4" font-size="8.0" font-weight="bold" text-anchor="start" textLength="64.0" lengthAdjust="spacingAndGlyphs" fill="#111"  stroke="#111" stroke-width="0.3">Log [Thrombin] M</text>
<text transform="translate(84.6,291.5) rotate(-90)" font-size="7.2" font-weight="bold" textLength="60.7" lengthAdjust="spacingAndGlyphs" fill="#111" stroke="#111" stroke-width="0.55">Fraction of Maximal</text>
<text transform="translate(94.2,274.2) rotate(-90)" font-size="7.2" font-weight="bold" textLength="25.8" lengthAdjust="spacingAndGlyphs" fill="#111" stroke="#111" stroke-width="0.55">Response</text>
<rect x="120.0" y="224.6" width="3.2" height="3.0" fill="#111"/>
<circle cx="121.9" cy="236.4" r="1.7" fill="#111"/>
<rect x="120.4" y="245.6" width="2.8" height="2.8" fill="none" stroke="#111" stroke-width="1.0"/>
<text x="130.2" y="228.6" font-size="8.6" text-anchor="start" textLength="29.6" lengthAdjust="spacingAndGlyphs" fill="#111"  stroke="#111" stroke-width="0.5">Ca Influx</text>
<text x="130.2" y="239.4" font-size="8.6" text-anchor="start" textLength="32.7" lengthAdjust="spacingAndGlyphs" fill="#111"  stroke="#111" stroke-width="0.5">P-selectin</text>
<text x="130.2" y="249.7" font-size="8.6" text-anchor="start" textLength="16.5" lengthAdjust="spacingAndGlyphs" fill="#111"  stroke="#111" stroke-width="0.5">VWF</text>
<line x1="300.20" y1="224.70" x2="300.20" y2="319.10" stroke="#666" stroke-width="1.2" />
<line x1="299.70" y1="318.60" x2="442.30" y2="318.60" stroke="#444" stroke-width="1.2" />
<line x1="297.30" y1="224.70" x2="300.20" y2="224.70" stroke="#666" stroke-width="1.0" />
<text x="296.0" y="226.89999999999998" font-size="6.4" text-anchor="end" textLength="12.4" lengthAdjust="spacingAndGlyphs" fill="#111"  stroke="#111" stroke-width="0.45">1.25</text>
<line x1="297.30" y1="242.06" x2="300.20" y2="242.06" stroke="#666" stroke-width="1.0" />
<text x="296.0" y="244.26" font-size="6.4" text-anchor="end" textLength="12.4" lengthAdjust="spacingAndGlyphs" fill="#111"  stroke="#111" stroke-width="0.45">1.00</text>
<line x1="297.30" y1="259.42" x2="300.20" y2="259.42" stroke="#666" stroke-width="1.0" />
<text x="296.0" y="261.62" font-size="6.4" text-anchor="end" textLength="12.4" lengthAdjust="spacingAndGlyphs" fill="#111"  stroke="#111" stroke-width="0.45">0.75</text>
<line x1="297.30" y1="276.78" x2="300.20" y2="276.78" stroke="#666" stroke-width="1.0" />
<text x="296.0" y="278.97999999999996" font-size="6.4" text-anchor="end" textLength="12.4" lengthAdjust="spacingAndGlyphs" fill="#111"  stroke="#111" stroke-width="0.45">0.50</text>
<line x1="297.30" y1="294.14" x2="300.20" y2="294.14" stroke="#666" stroke-width="1.0" />
<text x="296.0" y="296.34" font-size="6.4" text-anchor="end" textLength="12.4" lengthAdjust="spacingAndGlyphs" fill="#111"  stroke="#111" stroke-width="0.45">0.25</text>
<line x1="297.30" y1="311.50" x2="300.20" y2="311.50" stroke="#666" stroke-width="1.0" />
<text x="296.0" y="313.7" font-size="6.4" text-anchor="end" textLength="12.4" lengthAdjust="spacingAndGlyphs" fill="#111"  stroke="#111" stroke-width="0.45">0.00</text>
<line x1="314.30" y1="318.60" x2="314.30" y2="321.60" stroke="#444" stroke-width="1.0" />
<text x="314.3" y="328.4" font-size="6.2" text-anchor="middle" fill="#111"  stroke="#111" stroke-width="0.45">-7.5</text>
<line x1="342.60" y1="318.60" x2="342.60" y2="321.60" stroke="#444" stroke-width="1.0" />
<text x="342.6" y="328.4" font-size="6.2" text-anchor="middle" fill="#111"  stroke="#111" stroke-width="0.45">-6.5</text>
<line x1="370.90" y1="318.60" x2="370.90" y2="321.60" stroke="#444" stroke-width="1.0" />
<text x="370.90000000000003" y="328.4" font-size="6.2" text-anchor="middle" fill="#111"  stroke="#111" stroke-width="0.45">-5.5</text>
<line x1="399.20" y1="318.60" x2="399.20" y2="321.60" stroke="#444" stroke-width="1.0" />
<text x="399.20000000000005" y="328.4" font-size="6.2" text-anchor="middle" fill="#111"  stroke="#111" stroke-width="0.45">-4.5</text>
<line x1="427.50" y1="318.60" x2="427.50" y2="321.60" stroke="#444" stroke-width="1.0" />
<text x="427.5" y="328.4" font-size="6.2" text-anchor="middle" fill="#111"  stroke="#111" stroke-width="0.45">-3.5</text>
<text x="339.3" y="340.6" font-size="8.0" font-weight="bold" text-anchor="start" textLength="63.5" lengthAdjust="spacingAndGlyphs" fill="#111"  stroke="#111" stroke-width="0.3">Log [PAR1-AP] M</text>
<rect x="304.8" y="224.8" width="3.2" height="3.0" fill="#111"/>
<circle cx="306.6" cy="237.2" r="1.7" fill="#111"/>
<rect x="305.0" y="245.3" width="2.8" height="2.8" fill="none" stroke="#111" stroke-width="1.0"/>
<text x="315.2" y="228.6" font-size="8.6" text-anchor="start" textLength="25.7" lengthAdjust="spacingAndGlyphs" fill="#111"  stroke="#111" stroke-width="0.5">Ca Flux</text>
<text x="315.8" y="239.7" font-size="8.6" text-anchor="start" textLength="33.1" lengthAdjust="spacingAndGlyphs" fill="#111"  stroke="#111" stroke-width="0.5">P-selectin</text>
<text x="315.8" y="249.7" font-size="8.6" text-anchor="start" textLength="17.0" lengthAdjust="spacingAndGlyphs" fill="#111"  stroke="#111" stroke-width="0.5">VWF</text>
<path d="M139.5 306.5 L168 306.5 Q174 306.3 178 304.8 L178 308.6 Q172 310.9 166 311.0 L139.5 311.0 Z" fill="#b4b4b4" stroke="#333" stroke-width="0.7"/>
<polyline points="139.0,309.5 139.8,309.5 140.6,309.5 141.4,309.5 142.2,309.5 143.0,309.5 143.8,309.5 144.6,309.5 145.4,309.5 146.2,309.5 147.0,309.5 147.8,309.5 148.6,309.5 149.4,309.5 150.2,309.4 151.0,309.4 151.8,309.4 152.6,309.4 153.4,309.4 154.2,309.4 155.0,309.4 155.8,309.4 156.6,309.4 157.4,309.3 158.2,309.3 159.0,309.3 159.8,309.3 160.6,309.2 161.4,309.2 162.2,309.2 163.0,309.1 163.8,309.1 164.6,309.0 165.4,308.9 166.2,308.9 167.0,308.8 167.8,308.7 168.6,308.6 169.4,308.5 170.2,308.3 171.0,308.2 171.8,308.0 172.6,307.8 173.4,307.6 174.2,307.3 175.0,307.0 175.8,306.7 176.6,306.4 177.4,306.0 178.2,305.5 179.0,305.0 179.8,304.4 180.6,303.8 181.4,303.1 182.2,302.3 183.0,301.5 183.8,300.5 184.6,299.5 185.4,298.3 186.2,297.1 187.0,295.7 187.8,294.2 188.6,292.6 189.4,290.9 190.2,289.1 191.0,287.1 191.8,285.1 192.6,282.9 193.4,280.7 194.2,278.4 195.0,276.0 195.8,273.6 196.6,271.2 197.4,268.8 198.2,266.4 199.0,264.0 199.8,261.7 200.6,259.4 201.4,257.3 202.2,255.2 203.0,253.2 203.8,251.3 204.6,249.6 205.4,248.0 206.2,246.5 207.0,245.1 207.8,243.8 208.6,242.6 209.4,241.5 210.2,240.6 211.0,239.7 211.8,238.9 212.6,238.2 213.4,237.5 214.2,236.9 215.0,236.4 215.8,236.0 216.6,235.5 217.4,235.2 218.2,234.8 219.0,234.5 219.8,234.3 220.6,234.1 221.4,233.9 222.2,233.7 223.0,233.5 223.8,233.4 224.6,233.2 225.4,233.1 226.2,233.0 227.0,233.0 227.8,232.9 228.6,232.8 229.4,232.7 230.2,232.7 231.0,232.6 231.8,232.6 232.6,232.6 233.4,232.5 234.2,232.5 235.0,232.5" fill="none" stroke="#111" stroke-width="0.9"/>
<polyline points="139.0,309.5 139.8,309.5 140.6,309.5 141.4,309.5 142.2,309.5 143.0,309.5 143.8,309.4 144.6,309.4 145.4,309.4 146.2,309.4 147.0,309.4 147.8,309.4 148.6,309.4 149.4,309.4 150.2,309.4 151.0,309.4 151.8,309.4 152.6,309.3 153.4,309.3 154.2,309.3 155.0,309.3 155.8,309.2 156.6,309.2 157.4,309.2 158.2,309.2 159.0,309.1 159.8,309.1 160.6,309.0 161.4,309.0 162.2,308.9 163.0,308.8 163.8,308.8 164.6,308.7 165.4,308.6 166.2,308.5 167.0,308.4 167.8,308.3 168.6,308.1 169.4,308.0 170.2,307.8 171.0,307.6 171.8,307.4 172.6,307.2 173.4,307.0 174.2,306.7 175.0,306.4 175.8,306.1 176.6,305.7 177.4,305.3 178.2,304.8 179.0,304.4 179.8,303.8 180.6,303.2 181.4,302.6 182.2,301.9 183.0,301.2 183.8,300.3 184.6,299.5 185.4,298.5 186.2,297.5 187.0,296.4 187.8,295.2 188.6,294.0 189.4,292.6 190.2,291.2 191.0,289.7 191.8,288.2 192.6,286.6 193.4,284.9 194.2,283.2 195.0,281.4 195.8,279.6 196.6,277.8 197.4,275.9 198.2,274.0 199.0,272.2 199.8,270.3 200.6,268.5 201.4,266.7 202.2,264.9 203.0,263.2 203.8,261.6 204.6,260.0 205.4,258.5 206.2,257.1 207.0,255.7 207.8,254.4 208.6,253.2 209.4,252.1 210.2,251.0 211.0,250.0 211.8,249.1 212.6,248.2 213.4,247.5 214.2,246.7 215.0,246.1 215.8,245.5 216.6,244.9 217.4,244.4 218.2,243.9 219.0,243.5 219.8,243.1 220.6,242.8 221.4,242.5 222.2,242.2 223.0,241.9 223.8,241.7 224.6,241.5 225.4,241.3 226.2,241.1 227.0,240.9 227.8,240.8 228.6,240.7 229.4,240.5 230.2,240.4 231.0,240.3 231.8,240.3 232.6,240.2 233.4,240.1 234.2,240.1 235.0,240.0" fill="none" stroke="#111" stroke-width="0.9"/>
<polyline points="139.0,309.5 139.8,309.5 140.6,309.5 141.4,309.5 142.2,309.5 143.0,309.5 143.8,309.5 144.6,309.5 145.4,309.5 146.2,309.5 147.0,309.5 147.8,309.5 148.6,309.5 149.4,309.5 150.2,309.5 151.0,309.5 151.8,309.5 152.6,309.5 153.4,309.5 154.2,309.5 155.0,309.5 155.8,309.5 156.6,309.5 157.4,309.5 158.2,309.5 159.0,309.5 159.8,309.5 160.6,309.5 161.4,309.5 162.2,309.4 163.0,309.4 163.8,309.4 164.6,309.4 165.4,309.4 166.2,309.4 167.0,309.4 167.8,309.4 168.6,309.4 169.4,309.3 170.2,309.3 171.0,309.3 171.8,309.3 172.6,309.2 173.4,309.2 174.2,309.1 175.0,309.1 175.8,309.0 176.6,309.0 177.4,308.9 178.2,308.8 179.0,308.7 179.8,308.6 180.6,308.4 181.4,308.3 182.2,308.1 183.0,307.9 183.8,307.7 184.6,307.5 185.4,307.2 186.2,306.9 187.0,306.5 187.8,306.1 188.6,305.7 189.4,305.1 190.2,304.6 191.0,303.9 191.8,303.2 192.6,302.4 193.4,301.5 194.2,300.5 195.0,299.4 195.8,298.3 196.6,296.9 197.4,295.5 198.2,294.0 199.0,292.4 199.8,290.6 200.6,288.8 201.4,286.8 202.2,284.8 203.0,282.7 203.8,280.5 204.6,278.3 205.4,276.1 206.2,273.9 207.0,271.7 207.8,269.6 208.6,267.5 209.4,265.4 210.2,263.5 211.0,261.7 211.8,259.9 212.6,258.3 213.4,256.8 214.2,255.4 215.0,254.1 215.8,252.9 216.6,251.8 217.4,250.9 218.2,250.0 219.0,249.2 219.8,248.5 220.6,247.9 221.4,247.3 222.2,246.8 223.0,246.3 223.8,245.9 224.6,245.6 225.4,245.3 226.2,245.0 227.0,244.8 227.8,244.5 228.6,244.4 229.4,244.2 230.2,244.0 231.0,243.9 231.8,243.8 232.6,243.7 233.4,243.6 234.2,243.5 235.0,243.5" fill="none" stroke="#111" stroke-width="0.9"/>
<rect x="137.9" y="307.1" width="3.4" height="3.4" fill="#111"/>
<circle cx="140.2" cy="308.9" r="1.8" fill="#111"/>
<circle cx="155.8" cy="308.0" r="1.8" fill="#111"/>
<rect x="164.6" y="306.3" width="3.4" height="3.4" fill="#111"/>
<circle cx="177.0" cy="305.3" r="1.8" fill="#111"/>
<path d="M182.8 297.8V302.8M181.7 297.8h2.2M181.7 302.8h2.2" stroke="#111" stroke-width="0.8" fill="none"/>
<circle cx="182.8" cy="300.3" r="1.6" fill="#fff" stroke="#111" stroke-width="0.9"/>
<path d="M182.8 304.5V311.1M181.7 304.5h2.2M181.7 311.1h2.2" stroke="#111" stroke-width="0.8" fill="none"/>
<circle cx="182.8" cy="307.8" r="1.8" fill="#111"/>
<rect x="185.2" y="296.9" width="3.4" height="3.4" fill="#111"/>
<circle cx="189.6" cy="292.0" r="1.8" fill="#111"/>
<rect x="188.7" y="287.0" width="3.4" height="3.4" fill="#111"/>
<path d="M197.7 263.3V269.3M196.6 263.3h2.2M196.6 269.3h2.2" stroke="#111" stroke-width="0.8" fill="none"/>
<rect x="196.0" y="264.6" width="3.4" height="3.4" fill="#111"/>
<circle cx="197.7" cy="272.1" r="1.6" fill="#fff" stroke="#111" stroke-width="0.9"/>
<path d="M198.5 285.7V291.7M197.4 285.7h2.2M197.4 291.7h2.2" stroke="#111" stroke-width="0.8" fill="none"/>
<circle cx="198.5" cy="288.7" r="1.8" fill="#111"/>
<circle cx="205.2" cy="259.2" r="1.6" fill="#fff" stroke="#111" stroke-width="0.9"/>
<path d="M208.5 265.0V271.0M207.4 265.0h2.2M207.4 271.0h2.2" stroke="#111" stroke-width="0.8" fill="none"/>
<circle cx="208.5" cy="268.0" r="1.8" fill="#111"/>
<path d="M205.2 239.7V246.1M204.1 239.7h2.2M204.1 246.1h2.2" stroke="#111" stroke-width="0.8" fill="none"/>
<circle cx="205.2" cy="242.9" r="1.8" fill="#111"/>
<path d="M212.4 246.9V252.9M211.3 246.9h2.2M211.3 252.9h2.2" stroke="#111" stroke-width="0.8" fill="none"/>
<circle cx="212.4" cy="249.9" r="1.6" fill="#fff" stroke="#111" stroke-width="0.9"/>
<path d="M212.4 229.6V234.2M211.3 229.6h2.2M211.3 234.2h2.2" stroke="#111" stroke-width="0.8" fill="none"/>
<circle cx="212.4" cy="231.9" r="1.8" fill="#111"/>
<path d="M219.7 226.0V232.0M218.6 226.0h2.2M218.6 232.0h2.2" stroke="#111" stroke-width="0.8" fill="none"/>
<circle cx="219.7" cy="229.0" r="1.8" fill="#111"/>
<path d="M219.7 242.9V249.9M218.6 242.9h2.2M218.6 249.9h2.2" stroke="#111" stroke-width="0.8" fill="none"/>
<circle cx="219.7" cy="246.4" r="1.8" fill="#111"/>
<path d="M225.0 237.7V242.3M223.9 237.7h2.2M223.9 242.3h2.2" stroke="#111" stroke-width="0.8" fill="none"/>
<circle cx="225.0" cy="240.0" r="1.8" fill="#111"/>
<path d="M227.3 243.5V250.5M226.2 243.5h2.2M226.2 250.5h2.2" stroke="#111" stroke-width="0.8" fill="none"/>
<circle cx="227.3" cy="247.0" r="1.6" fill="#fff" stroke="#111" stroke-width="0.9"/>
<path d="M227.6 230.6V236.6M226.5 230.6h2.2M226.5 236.6h2.2" stroke="#111" stroke-width="0.8" fill="none"/>
<circle cx="227.6" cy="233.6" r="1.8" fill="#111"/>
<circle cx="234.8" cy="244.7" r="1.6" fill="#fff" stroke="#111" stroke-width="0.9"/>
<path d="M234.8 250.4V256.8M233.7 250.4h2.2M233.7 256.8h2.2" stroke="#111" stroke-width="0.8" fill="none"/>
<circle cx="234.8" cy="253.6" r="1.8" fill="#111"/>
<polyline points="301.0,310.1 301.8,310.0 302.6,309.9 303.4,309.8 304.2,309.7 305.0,309.6 305.8,309.4 306.6,309.3 307.4,309.2 308.2,309.0 309.0,308.8 309.8,308.7 310.6,308.5 311.4,308.3 312.2,308.1 313.0,307.9 313.8,307.7 314.6,307.4 315.4,307.2 316.2,306.9 317.0,306.6 317.8,306.3 318.6,306.0 319.4,305.7 320.2,305.3 321.0,305.0 321.8,304.6 322.6,304.2 323.4,303.8 324.2,303.3 325.0,302.9 325.8,302.4 326.6,301.9 327.4,301.3 328.2,300.8 329.0,300.2 329.8,299.6 330.6,299.0 331.4,298.3 332.2,297.6 333.0,296.9 333.8,296.2 334.6,295.5 335.4,294.7 336.2,293.9 337.0,293.0 337.8,292.2 338.6,291.3 339.4,290.4 340.2,289.5 341.0,288.5 341.8,287.5 342.6,286.5 343.4,285.5 344.2,284.5 345.0,283.5 345.8,282.4 346.6,281.4 347.4,280.3 348.2,279.2 349.0,278.1 349.8,277.1 350.6,276.0 351.4,274.9 352.2,273.8 353.0,272.7 353.8,271.6 354.6,270.6 355.4,269.5 356.2,268.5 357.0,267.5 357.8,266.4 358.6,265.4 359.4,264.5 360.2,263.5 361.0,262.6 361.8,261.7 362.6,260.8 363.4,259.9 364.2,259.1 365.0,258.3 365.8,257.5 366.6,256.7 367.4,256.0 368.2,255.3 369.0,254.6 369.8,253.9 370.6,253.3 371.4,252.7 372.2,252.1 373.0,251.5 373.8,251.0 374.6,250.5 375.4,250.0 376.2,249.5 377.0,249.1 377.8,248.6 378.6,248.2 379.4,247.8 380.2,247.5 381.0,247.1 381.8,246.8 382.6,246.5 383.4,246.2 384.2,245.9 385.0,245.6 385.8,245.3 386.6,245.1 387.4,244.9 388.2,244.7 389.0,244.5 389.8,244.3 390.6,244.1 391.4,243.9 392.2,243.7 393.0,243.6 393.8,243.4 394.6,243.3 395.4,243.2 396.2,243.0 397.0,242.9 397.8,242.8 398.6,242.7 399.4,242.6 400.2,242.5 401.0,242.4 401.8,242.4 402.6,242.3 403.4,242.2 404.2,242.1 405.0,242.1 405.8,242.0 406.6,242.0 407.4,241.9 408.2,241.9 409.0,241.8 409.8,241.8 410.6,241.7 411.4,241.7 412.2,241.6 413.0,241.6" fill="none" stroke="#111" stroke-width="0.9"/>
<polyline points="301.0,311.2 301.8,311.2 302.6,311.2 303.4,311.1 304.2,311.1 305.0,311.1 305.8,311.1 306.6,311.1 307.4,311.1 308.2,311.1 309.0,311.1 309.8,311.1 310.6,311.1 311.4,311.1 312.2,311.1 313.0,311.1 313.8,311.1 314.6,311.1 315.4,311.1 316.2,311.1 317.0,311.0 317.8,311.0 318.6,311.0 319.4,311.0 320.2,311.0 321.0,311.0 321.8,311.0 322.6,310.9 323.4,310.9 324.2,310.9 325.0,310.9 325.8,310.9 326.6,310.8 327.4,310.8 328.2,310.8 329.0,310.8 329.8,310.7 330.6,310.7 331.4,310.7 332.2,310.6 333.0,310.6 333.8,310.6 334.6,310.5 335.4,310.5 336.2,310.4 337.0,310.4 337.8,310.3 338.6,310.3 339.4,310.2 340.2,310.1 341.0,310.1 341.8,310.0 342.6,309.9 343.4,309.8 344.2,309.7 345.0,309.6 345.8,309.5 346.6,309.4 347.4,309.3 348.2,309.2 349.0,309.0 349.8,308.9 350.6,308.8 351.4,308.6 352.2,308.4 353.0,308.2 353.8,308.1 354.6,307.9 355.4,307.6 356.2,307.4 357.0,307.2 357.8,306.9 358.6,306.7 359.4,306.4 360.2,306.1 361.0,305.8 361.8,305.5 362.6,305.1 363.4,304.8 364.2,304.4 365.0,304.0 365.8,303.6 366.6,303.1 367.4,302.7 368.2,302.2 369.0,301.7 369.8,301.2 370.6,300.6 371.4,300.1 372.2,299.5 373.0,298.9 373.8,298.3 374.6,297.7 375.4,297.0 376.2,296.3 377.0,295.6 377.8,294.9 378.6,294.2 379.4,293.5 380.2,292.7 381.0,292.0 381.8,291.2 382.6,290.4 383.4,289.6 384.2,288.8 385.0,288.0 385.8,287.2 386.6,286.4 387.4,285.6 388.2,284.8 389.0,284.1 389.8,283.3 390.6,282.5 391.4,281.7 392.2,281.0 393.0,280.2 393.8,279.5 394.6,278.8 395.4,278.1 396.2,277.4 397.0,276.8 397.8,276.1 398.6,275.5 399.4,274.9 400.2,274.3 401.0,273.7 401.8,273.2 402.6,272.7 403.4,272.2 404.2,271.7 405.0,271.2 405.8,270.8 406.6,270.3 407.4,269.9 408.2,269.5 409.0,269.2 409.8,268.8 410.6,268.5 411.4,268.2 412.2,267.9 413.0,267.6 413.8,267.3" fill="none" stroke="#111" stroke-width="0.9"/>
<polyline points="301.0,313.6 301.8,313.6 302.6,313.6 303.4,313.6 304.2,313.6 305.0,313.6 305.8,313.6 306.6,313.6 307.4,313.6 308.2,313.6 309.0,313.6 309.8,313.6 310.6,313.5 311.4,313.5 312.2,313.5 313.0,313.5 313.8,313.5 314.6,313.5 315.4,313.5 316.2,313.5 317.0,313.5 317.8,313.5 318.6,313.5 319.4,313.5 320.2,313.5 321.0,313.5 321.8,313.5 322.6,313.4 323.4,313.4 324.2,313.4 325.0,313.4 325.8,313.4 326.6,313.4 327.4,313.4 328.2,313.4 329.0,313.3 329.8,313.3 330.6,313.3 331.4,313.3 332.2,313.3 333.0,313.2 333.8,313.2 334.6,313.2 335.4,313.1 336.2,313.1 337.0,313.1 337.8,313.0 338.6,313.0 339.4,313.0 340.2,312.9 341.0,312.9 341.8,312.8 342.6,312.8 343.4,312.7 344.2,312.6 345.0,312.6 345.8,312.5 346.6,312.4 347.4,312.3 348.2,312.2 349.0,312.1 349.8,312.0 350.6,311.9 351.4,311.8 352.2,311.7 353.0,311.5 353.8,311.4 354.6,311.2 355.4,311.1 356.2,310.9 357.0,310.7 357.8,310.5 358.6,310.3 359.4,310.1 360.2,309.8 361.0,309.6 361.8,309.3 362.6,309.0 363.4,308.7 364.2,308.3 365.0,308.0 365.8,307.6 366.6,307.2 367.4,306.8 368.2,306.3 369.0,305.8 369.8,305.3 370.6,304.8 371.4,304.2 372.2,303.6 373.0,303.0 373.8,302.3 374.6,301.6 375.4,300.9 376.2,300.1 377.0,299.3 377.8,298.4 378.6,297.5 379.4,296.6 380.2,295.6 381.0,294.6 381.8,293.5 382.6,292.4 383.4,291.3 384.2,290.1 385.0,288.9 385.8,287.6 386.6,286.3 387.4,285.0 388.2,283.6 389.0,282.2 389.8,280.8 390.6,279.4 391.4,277.9 392.2,276.4 393.0,274.9 393.8,273.3 394.6,271.8 395.4,270.3 396.2,268.7 397.0,267.2 397.8,265.6 398.6,264.1 399.4,262.6 400.2,261.1 401.0,259.6 401.8,258.1 402.6,256.7 403.4,255.3 404.2,253.9 405.0,252.5 405.8,251.2 406.6,249.9 407.4,248.7 408.2,247.5 409.0,246.3 409.8,245.2 410.6,244.1 411.4,243.1 412.2,242.1 413.0,241.1" fill="none" stroke="#111" stroke-width="0.9"/>
<path d="M306.5 306.2V310.2M305.4 306.2h2.2M305.4 310.2h2.2" stroke="#111" stroke-width="0.8" fill="none"/>
<rect x="304.8" y="306.5" width="3.4" height="3.4" fill="#111"/>
<rect x="324.0" y="298.3" width="3.4" height="3.4" fill="#111"/>
<rect x="344.0" y="281.8" width="3.4" height="3.4" fill="#111"/>
<path d="M365.4 256.2V260.2M364.3 256.2h2.2M364.3 260.2h2.2" stroke="#111" stroke-width="0.8" fill="none"/>
<rect x="363.7" y="256.5" width="3.4" height="3.4" fill="#111"/>
<path d="M385.4 238.6V245.6M384.3 238.6h2.2M384.3 245.6h2.2" stroke="#111" stroke-width="0.8" fill="none"/>
<rect x="383.7" y="240.4" width="3.4" height="3.4" fill="#111"/>
<circle cx="359.2" cy="309.7" r="1.8" fill="#111"/>
<path d="M373.1 303.9V309.9M372.0 303.9h2.2M372.0 309.9h2.2" stroke="#111" stroke-width="0.8" fill="none"/>
<circle cx="373.1" cy="306.9" r="1.8" fill="#111"/>
<path d="M386.0 280.1V285.1M384.9 280.1h2.2M384.9 285.1h2.2" stroke="#111" stroke-width="0.8" fill="none"/>
<circle cx="386.0" cy="282.6" r="1.8" fill="#111"/>
<path d="M400.3 255.6V260.6M399.2 255.6h2.2M399.2 260.6h2.2" stroke="#111" stroke-width="0.8" fill="none"/>
<circle cx="400.3" cy="258.1" r="1.8" fill="#111"/>
<circle cx="404.9" cy="245.9" r="1.8" fill="#111"/>
<path d="M408.0 245.2V250.2M406.9 245.2h2.2M406.9 250.2h2.2" stroke="#111" stroke-width="0.8" fill="none"/>
<circle cx="408.0" cy="247.7" r="1.8" fill="#111"/>
<path d="M413.6 233.8V245.8M412.5 233.8h2.2M412.5 245.8h2.2" stroke="#111" stroke-width="0.8" fill="none"/>
<circle cx="413.6" cy="239.8" r="1.8" fill="#111"/>
<circle cx="359.2" cy="306.6" r="1.6" fill="#fff" stroke="#111" stroke-width="0.9"/>
<circle cx="373.1" cy="296.5" r="1.6" fill="#fff" stroke="#111" stroke-width="0.9"/>
<circle cx="386.0" cy="287.7" r="1.6" fill="#fff" stroke="#111" stroke-width="0.9"/>
<path d="M399.2 274.5V282.5M398.1 274.5h2.2M398.1 282.5h2.2" stroke="#111" stroke-width="0.8" fill="none"/>
<circle cx="399.2" cy="278.5" r="1.6" fill="#fff" stroke="#111" stroke-width="0.9"/>
<path d="M408.4 264.3V274.3M407.3 264.3h2.2M407.3 274.3h2.2" stroke="#111" stroke-width="0.8" fill="none"/>
<circle cx="408.4" cy="269.3" r="1.6" fill="#fff" stroke="#111" stroke-width="0.9"/>
<path d="M413.5 256.2V270.2M412.4 256.2h2.2M412.4 270.2h2.2" stroke="#111" stroke-width="0.8" fill="none"/>
<circle cx="413.5" cy="263.2" r="1.6" fill="#fff" stroke="#111" stroke-width="0.9"/>
</g>
</svg>
</body></html>
